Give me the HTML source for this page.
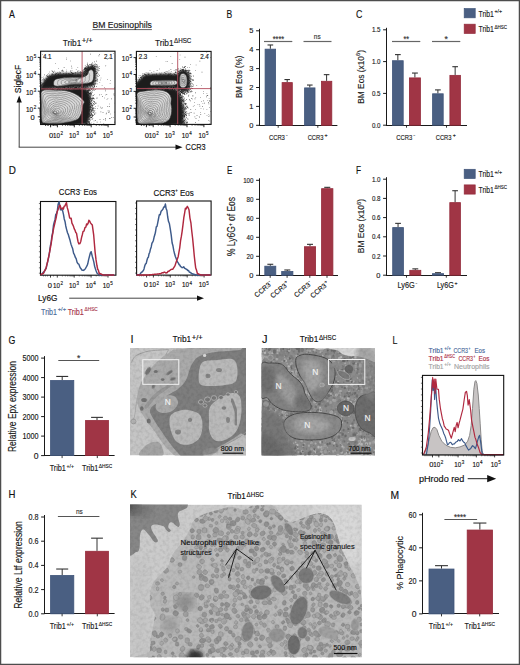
<!DOCTYPE html><html><head><meta charset="utf-8"><style>html,body{margin:0;padding:0;background:#fff;overflow:hidden;width:520px;height:665px;}svg{display:block;}</style></head><body><svg width="520" height="665" viewBox="0 0 520 665" font-family='"Liberation Sans", sans-serif'>
<defs>
<filter id="blur1" x="-10%" y="-10%" width="120%" height="120%"><feGaussianBlur stdDeviation="1"/></filter>
<filter id="blur2" x="-10%" y="-10%" width="120%" height="120%"><feGaussianBlur stdDeviation="2"/></filter>
<filter id="blur05"><feGaussianBlur stdDeviation="0.5"/></filter>
<filter id="noise" x="0" y="0" width="100%" height="100%">
<feTurbulence type="fractalNoise" baseFrequency="0.35" numOctaves="2" seed="3" result="t"/>
<feColorMatrix type="matrix" values="0 0 0 0 0  0 0 0 0 0  0 0 0 0 0  0 0 0 -1.2 0.75" in="t" result="n"/>
<feComposite in="n" in2="SourceGraphic" operator="in"/>
</filter>
</defs>
<rect x="0.00" y="0.00" width="520.00" height="665.00" fill="#ffffff"/>
<text x="9.00" y="18.00" font-size="11.00" fill="#111" textLength="5.87" lengthAdjust="spacingAndGlyphs" stroke="#111" stroke-width="0.15">A</text>
<text x="226.50" y="18.00" font-size="11.00" fill="#111" textLength="5.72" lengthAdjust="spacingAndGlyphs" stroke="#111" stroke-width="0.15">B</text>
<text x="356.00" y="18.00" font-size="11.00" fill="#111" textLength="6.36" lengthAdjust="spacingAndGlyphs" stroke="#111" stroke-width="0.15">C</text>
<text x="8.80" y="173.80" font-size="11.00" fill="#111" textLength="7.15" lengthAdjust="spacingAndGlyphs" stroke="#111" stroke-width="0.15">D</text>
<text x="227.00" y="173.80" font-size="11.00" fill="#111" textLength="5.28" lengthAdjust="spacingAndGlyphs" stroke="#111" stroke-width="0.15">E</text>
<text x="356.00" y="173.80" font-size="11.00" fill="#111" textLength="5.04" lengthAdjust="spacingAndGlyphs" stroke="#111" stroke-width="0.15">F</text>
<text x="8.50" y="343.50" font-size="11.00" fill="#111" textLength="6.84" lengthAdjust="spacingAndGlyphs" stroke="#111" stroke-width="0.15">G</text>
<text x="130.50" y="343.00" font-size="11.00" fill="#111" textLength="3.06" lengthAdjust="spacingAndGlyphs" stroke="#111" stroke-width="0.15">I</text>
<text x="262.00" y="343.00" font-size="11.00" fill="#111" textLength="5.50" lengthAdjust="spacingAndGlyphs" stroke="#111" stroke-width="0.15">J</text>
<text x="392.50" y="343.50" font-size="11.00" fill="#111" textLength="4.89" lengthAdjust="spacingAndGlyphs" stroke="#111" stroke-width="0.15">L</text>
<text x="8.50" y="498.00" font-size="11.00" fill="#111" textLength="6.91" lengthAdjust="spacingAndGlyphs" stroke="#111" stroke-width="0.15">H</text>
<text x="130.60" y="498.30" font-size="11.00" fill="#111" textLength="6.24" lengthAdjust="spacingAndGlyphs" stroke="#111" stroke-width="0.15">K</text>
<text x="390.60" y="498.50" font-size="11.00" fill="#111" textLength="8.61" lengthAdjust="spacingAndGlyphs" stroke="#111" stroke-width="0.15">M</text>
<text x="92.40" y="28.10" font-size="8.40" fill="#1a1a1a" textLength="59.50" lengthAdjust="spacingAndGlyphs" stroke="#1a1a1a" stroke-width="0.15">BM Eosinophils</text>
<line x1="92.40" y1="29.60" x2="151.90" y2="29.60" stroke="#222" stroke-width="0.7"/>
<text x="62.70" y="45.90" font-size="9.60" fill="#1a1a1a" textLength="18.60" lengthAdjust="spacingAndGlyphs" stroke="#1a1a1a" stroke-width="0.15">Trib1</text>
<text x="81.70" y="43.30" font-size="6.72" fill="#1a1a1a" textLength="11.10" lengthAdjust="spacingAndGlyphs" stroke="#1a1a1a" stroke-width="0.15">+/+</text>
<text x="155.00" y="45.70" font-size="9.60" fill="#1a1a1a" textLength="18.60" lengthAdjust="spacingAndGlyphs" stroke="#1a1a1a" stroke-width="0.15">Trib1</text>
<text x="174.00" y="43.10" font-size="6.72" fill="#1a1a1a" textLength="17.40" lengthAdjust="spacingAndGlyphs" stroke="#1a1a1a" stroke-width="0.15">ΔHSC</text>
<g>
<clipPath id="cp11"><rect x="40.6" y="51.2" width="74.4" height="73.3"/></clipPath>
<g clip-path="url(#cp11)">
<path d="M92.8,109.9h.6v.6h-.6zM89.2,109.5h.6v.6h-.6zM88.1,116.5h.6v.6h-.6zM94.3,111h.6v.6h-.6zM38.3,101.4h.6v.6h-.6zM89.3,110.5h.6v.6h-.6zM53.4,89.9h.6v.6h-.6zM80.9,86.2h.6v.6h-.6zM81.4,123.7h.6v.6h-.6zM93.9,108h.6v.6h-.6zM95.4,106h.6v.6h-.6zM40.5,113h.6v.6h-.6zM41.6,87.8h.6v.6h-.6zM89.9,88.5h.6v.6h-.6zM44.2,89.7h.6v.6h-.6zM90.1,106.5h.6v.6h-.6zM74.5,122.7h.6v.6h-.6zM89.1,88.6h.6v.6h-.6zM56.9,89.1h.6v.6h-.6zM91.6,115.3h.6v.6h-.6zM94.6,109.9h.6v.6h-.6zM92.5,104.5h.6v.6h-.6zM80.4,83h.6v.6h-.6zM88.3,121.1h.6v.6h-.6zM88.3,104.2h.6v.6h-.6zM55.6,91.4h.6v.6h-.6zM86.7,123.2h.6v.6h-.6zM57.7,89.1h.6v.6h-.6zM83.1,95.2h.6v.6h-.6zM91.8,114.7h.6v.6h-.6zM81.1,122.2h.6v.6h-.6zM83.4,91.3h.6v.6h-.6zM94.5,114.1h.6v.6h-.6zM89.1,121.8h.6v.6h-.6zM88.6,124.6h.6v.6h-.6zM87.8,88.2h.6v.6h-.6zM89.7,114.6h.6v.6h-.6zM77.8,85.5h.6v.6h-.6zM60.3,88.5h.6v.6h-.6zM39.8,91.1h.6v.6h-.6zM40.8,92.4h.6v.6h-.6zM70.4,90.8h.6v.6h-.6zM88.3,92.1h.6v.6h-.6zM75.2,87h.6v.6h-.6zM90,95.2h.6v.6h-.6zM82.8,125.5h.6v.6h-.6zM78.8,89.3h.6v.6h-.6zM43.9,121.6h.6v.6h-.6zM76.3,87h.6v.6h-.6zM67.6,126.8h.6v.6h-.6zM50.2,88.1h.6v.6h-.6zM91.3,100.5h.6v.6h-.6zM68.4,88.9h.6v.6h-.6zM43.7,111.8h.6v.6h-.6zM91.1,108.9h.6v.6h-.6zM87.9,112.8h.6v.6h-.6zM86.4,91.3h.6v.6h-.6zM43.8,125h.6v.6h-.6zM82,87.1h.6v.6h-.6zM84.8,96.8h.6v.6h-.6zM89,97h.6v.6h-.6zM80.3,90.6h.6v.6h-.6zM90.1,94.2h.6v.6h-.6zM52.8,89.1h.6v.6h-.6zM63.5,89.7h.6v.6h-.6zM86.9,100h.6v.6h-.6zM42.9,95.5h.6v.6h-.6zM65.2,92.2h.6v.6h-.6zM51.2,123.7h.6v.6h-.6zM90,123.2h.6v.6h-.6zM51.4,93.8h.6v.6h-.6zM55.9,90.3h.6v.6h-.6zM91.1,113.1h.6v.6h-.6zM76.3,123h.6v.6h-.6zM36.6,124.9h.6v.6h-.6zM70.4,85.7h.6v.6h-.6zM90.6,117.7h.6v.6h-.6zM45.1,96.4h.6v.6h-.6zM38.8,111.8h.6v.6h-.6zM41.5,87.9h.6v.6h-.6zM88.2,92.6h.6v.6h-.6zM41.9,89.6h.6v.6h-.6zM63.5,85.4h.6v.6h-.6zM86.6,88.1h.6v.6h-.6zM39.7,96h.6v.6h-.6zM88.9,109.8h.6v.6h-.6zM45.3,88.2h.6v.6h-.6zM40.7,93.7h.6v.6h-.6zM77,88.4h.6v.6h-.6zM86.4,114.7h.6v.6h-.6zM88.9,107.1h.6v.6h-.6zM89.5,114.2h.6v.6h-.6zM71.7,124.1h.6v.6h-.6zM81.6,92.6h.6v.6h-.6zM91.2,116.8h.6v.6h-.6zM87.2,116.2h.6v.6h-.6zM61.2,88.8h.6v.6h-.6zM44.5,92.4h.6v.6h-.6zM89,122.4h.6v.6h-.6zM93.1,115.3h.6v.6h-.6zM89.1,99.6h.6v.6h-.6zM95.7,103.1h.6v.6h-.6zM90.8,119.5h.6v.6h-.6zM84.3,88.5h.6v.6h-.6zM79.2,88.2h.6v.6h-.6zM39.5,111.6h.6v.6h-.6zM42.3,101.9h.6v.6h-.6zM37.8,117.3h.6v.6h-.6zM92.1,99.8h.6v.6h-.6zM87.5,113.1h.6v.6h-.6zM86.7,114.9h.6v.6h-.6zM69.6,84.3h.6v.6h-.6zM68.4,93.5h.6v.6h-.6zM82.3,89.5h.6v.6h-.6zM79.1,89.3h.6v.6h-.6zM87,106.6h.6v.6h-.6zM66.6,85.6h.6v.6h-.6zM55.7,84.6h.6v.6h-.6zM84.4,91.9h.6v.6h-.6zM90.5,117.4h.6v.6h-.6zM93.7,107.7h.6v.6h-.6zM86.9,120.7h.6v.6h-.6zM61.8,83.2h.6v.6h-.6zM85.4,126.9h.6v.6h-.6zM92.8,108.1h.6v.6h-.6zM87.6,103.1h.6v.6h-.6zM51.4,90.2h.6v.6h-.6zM90.3,98.7h.6v.6h-.6zM84.1,90.7h.6v.6h-.6zM91.1,92.8h.6v.6h-.6zM41.5,124h.6v.6h-.6zM84.9,122.8h.6v.6h-.6zM65.5,84.7h.6v.6h-.6zM88.8,100.8h.6v.6h-.6zM89.9,93.2h.6v.6h-.6zM40.9,116.3h.6v.6h-.6zM53.3,92.2h.6v.6h-.6zM87.2,127.4h.6v.6h-.6zM83.5,86.9h.6v.6h-.6zM87.2,114.5h.6v.6h-.6zM81.8,81.7h.6v.6h-.6zM43.4,91.3h.6v.6h-.6zM92.1,109.9h.6v.6h-.6zM90.1,98.9h.6v.6h-.6zM83,94.1h.6v.6h-.6zM86.9,125.6h.6v.6h-.6zM77.5,122.3h.6v.6h-.6zM48.3,89.1h.6v.6h-.6zM71.8,87.2h.6v.6h-.6zM88.2,107h.6v.6h-.6zM84.3,121.7h.6v.6h-.6zM85.4,93.9h.6v.6h-.6zM84.1,85.5h.6v.6h-.6zM77.4,122.2h.6v.6h-.6zM96.5,97.8h.6v.6h-.6zM90.4,90.4h.6v.6h-.6zM90.7,107.4h.6v.6h-.6zM66.7,86.2h.6v.6h-.6zM83.1,90.6h.6v.6h-.6zM92.2,105.4h.6v.6h-.6zM65.7,90h.6v.6h-.6zM88.1,108.2h.6v.6h-.6zM81.5,94.1h.6v.6h-.6zM87,91.8h.6v.6h-.6zM85.6,89.2h.6v.6h-.6zM85.8,86.6h.6v.6h-.6zM80.9,86.8h.6v.6h-.6zM78.9,87h.6v.6h-.6zM84.2,125.3h.6v.6h-.6zM91.8,97.6h.6v.6h-.6zM87,90.7h.6v.6h-.6zM92.5,115.5h.6v.6h-.6zM86.4,95.8h.6v.6h-.6zM61.3,90.4h.6v.6h-.6zM79.4,85.8h.6v.6h-.6zM66.9,82.6h.6v.6h-.6zM89,88.5h.6v.6h-.6zM70.7,89.2h.6v.6h-.6zM91,93.4h.6v.6h-.6zM85.9,113.8h.6v.6h-.6zM42.3,93.6h.6v.6h-.6zM60.1,89.2h.6v.6h-.6zM90.2,94.7h.6v.6h-.6zM42.1,112.2h.6v.6h-.6zM95.4,108h.6v.6h-.6zM86.3,87.9h.6v.6h-.6zM92.4,91.8h.6v.6h-.6zM88.2,117.7h.6v.6h-.6zM85.8,93h.6v.6h-.6zM41.2,102.4h.6v.6h-.6zM87.8,126.7h.6v.6h-.6zM87.5,91.7h.6v.6h-.6zM76,87.6h.6v.6h-.6zM86.2,96.3h.6v.6h-.6zM59.4,90.4h.6v.6h-.6zM87.5,90.9h.6v.6h-.6zM37,98.3h.6v.6h-.6zM86.3,111.8h.6v.6h-.6zM91.2,98.1h.6v.6h-.6zM68.3,87.5h.6v.6h-.6zM44.2,104.5h.6v.6h-.6zM71.2,124.7h.6v.6h-.6zM69.9,88h.6v.6h-.6zM90.6,116.8h.6v.6h-.6zM90.8,106.8h.6v.6h-.6zM68.5,126h.6v.6h-.6zM89.8,106.8h.6v.6h-.6zM93.2,110.9h.6v.6h-.6zM75.4,87.6h.6v.6h-.6zM91.3,113.8h.6v.6h-.6zM68.1,86.8h.6v.6h-.6zM90.7,112.5h.6v.6h-.6zM90.2,86.7h.6v.6h-.6zM61.2,122.1h.6v.6h-.6zM80.9,93.4h.6v.6h-.6zM62.8,123.9h.6v.6h-.6zM79.3,89.5h.6v.6h-.6zM92,102h.6v.6h-.6zM50.2,90.1h.6v.6h-.6zM88.5,114h.6v.6h-.6zM91.3,103.7h.6v.6h-.6zM92.1,89.8h.6v.6h-.6zM75,88.2h.6v.6h-.6zM88.7,113.9h.6v.6h-.6zM84.8,84.8h.6v.6h-.6zM57.6,87.4h.6v.6h-.6zM93.8,113.7h.6v.6h-.6zM87.2,124.2h.6v.6h-.6zM88.6,94.9h.6v.6h-.6zM87.9,107h.6v.6h-.6zM77.7,87.5h.6v.6h-.6zM89.3,100.2h.6v.6h-.6zM41.5,122.9h.6v.6h-.6zM60.8,126.1h.6v.6h-.6zM65.9,89.3h.6v.6h-.6zM40,109.4h.6v.6h-.6zM55.3,86.5h.6v.6h-.6zM83.7,117.6h.6v.6h-.6zM39.1,116.4h.6v.6h-.6zM81.2,126.8h.6v.6h-.6zM62.4,88.3h.6v.6h-.6zM38.1,103.4h.6v.6h-.6zM60.1,91.5h.6v.6h-.6zM40.5,119.1h.6v.6h-.6zM91.9,111.9h.6v.6h-.6zM72.2,89.6h.6v.6h-.6zM87.4,97.8h.6v.6h-.6zM77.3,127.6h.6v.6h-.6zM90.3,109.1h.6v.6h-.6zM88.8,106.4h.6v.6h-.6zM80.7,88.1h.6v.6h-.6zM87.7,94.9h.6v.6h-.6zM85.2,116.6h.6v.6h-.6zM65.3,92.5h.6v.6h-.6zM84.4,92.4h.6v.6h-.6zM74.4,93.6h.6v.6h-.6zM43.2,99.1h.6v.6h-.6zM50,90.7h.6v.6h-.6zM77.8,89.3h.6v.6h-.6zM65.4,90.9h.6v.6h-.6zM60.8,87.5h.6v.6h-.6zM83.2,121.9h.6v.6h-.6zM84.2,84h.6v.6h-.6zM92.6,97.8h.6v.6h-.6zM84.1,93.6h.6v.6h-.6zM91,98.8h.6v.6h-.6zM57.6,91.6h.6v.6h-.6zM78.3,120h.6v.6h-.6zM88,99.5h.6v.6h-.6zM68.3,88.9h.6v.6h-.6zM88.4,99.2h.6v.6h-.6zM68.2,87.7h.6v.6h-.6zM49,120.5h.6v.6h-.6zM88.6,104.2h.6v.6h-.6zM93.4,103.6h.6v.6h-.6zM82.9,104.6h.6v.6h-.6zM37.5,111.8h.6v.6h-.6zM87.1,116.2h.6v.6h-.6zM48.8,91.3h.6v.6h-.6zM87.4,101.4h.6v.6h-.6zM88.9,89.8h.6v.6h-.6zM95.2,103.5h.6v.6h-.6zM88.6,111.5h.6v.6h-.6zM91.2,88.6h.6v.6h-.6zM37.9,87.2h.6v.6h-.6zM92.3,105.1h.6v.6h-.6zM91.4,101.5h.6v.6h-.6zM63.3,87.4h.6v.6h-.6zM44.7,89.5h.6v.6h-.6zM72,86.1h.6v.6h-.6zM89.6,96.6h.6v.6h-.6zM85.4,87.5h.6v.6h-.6zM91.4,103.2h.6v.6h-.6zM79.9,85.2h.6v.6h-.6zM44.4,88.2h.6v.6h-.6zM88.4,103.5h.6v.6h-.6zM88.7,114.5h.6v.6h-.6zM48.5,93.9h.6v.6h-.6zM87.3,89.8h.6v.6h-.6zM40.8,89.3h.6v.6h-.6zM68.5,92.2h.6v.6h-.6zM77.6,85.3h.6v.6h-.6zM84.8,93.3h.6v.6h-.6zM63.1,91.1h.6v.6h-.6zM72.8,91.6h.6v.6h-.6zM65.9,91.7h.6v.6h-.6zM65.2,90.1h.6v.6h-.6zM83.3,91.5h.6v.6h-.6zM70.4,86.8h.6v.6h-.6zM91.1,91.4h.6v.6h-.6zM78.6,88.5h.6v.6h-.6zM89.3,121.3h.6v.6h-.6zM69.4,83.6h.6v.6h-.6zM90.1,92.2h.6v.6h-.6zM84.1,114.8h.6v.6h-.6zM42.2,95.6h.6v.6h-.6zM65.6,90.1h.6v.6h-.6zM89.7,115.4h.6v.6h-.6zM73.5,86.8h.6v.6h-.6zM89.4,123.6h.6v.6h-.6zM35.6,124.4h.6v.6h-.6zM91.3,92.5h.6v.6h-.6zM89.7,96.9h.6v.6h-.6zM44,88.5h.6v.6h-.6zM88.5,114.9h.6v.6h-.6zM47,90.6h.6v.6h-.6zM86,119.7h.6v.6h-.6zM91.4,105.5h.6v.6h-.6zM81.2,89.4h.6v.6h-.6zM87.3,124.8h.6v.6h-.6zM87.8,89.5h.6v.6h-.6zM72.4,81.4h.6v.6h-.6zM67.1,87.2h.6v.6h-.6zM44.9,89.2h.6v.6h-.6zM85,103h.6v.6h-.6zM49.2,83.3h.6v.6h-.6zM87.3,125h.6v.6h-.6zM80.7,89.1h.6v.6h-.6zM88.4,89.2h.6v.6h-.6zM36,86.2h.6v.6h-.6zM38.7,108.3h.6v.6h-.6zM86.6,128.6h.6v.6h-.6zM79.3,86.5h.6v.6h-.6zM89.8,88.6h.6v.6h-.6zM91.3,110.4h.6v.6h-.6zM82.4,90.1h.6v.6h-.6zM75.6,90.3h.6v.6h-.6zM54.9,95.3h.6v.6h-.6zM89,122.9h.6v.6h-.6zM89.6,100.8h.6v.6h-.6zM63.1,93.9h.6v.6h-.6zM88.7,96.7h.6v.6h-.6zM54.5,91.6h.6v.6h-.6zM64.8,90.2h.6v.6h-.6zM87.9,122h.6v.6h-.6zM92.7,109.1h.6v.6h-.6zM41.1,91.5h.6v.6h-.6zM39.8,118.1h.6v.6h-.6zM36.8,112.5h.6v.6h-.6zM84.8,90.5h.6v.6h-.6zM88.9,122.2h.6v.6h-.6zM92.4,98.4h.6v.6h-.6zM36.3,101.2h.6v.6h-.6zM37.7,109.6h.6v.6h-.6zM79.5,89.3h.6v.6h-.6zM87.9,91.9h.6v.6h-.6zM87.5,98.2h.6v.6h-.6zM88.3,91.3h.6v.6h-.6zM90.5,96.6h.6v.6h-.6zM42.1,117.6h.6v.6h-.6zM88.9,104.6h.6v.6h-.6zM94,113.7h.6v.6h-.6zM62.2,90.2h.6v.6h-.6zM47.1,88.3h.6v.6h-.6zM40.3,113.9h.6v.6h-.6zM87.4,94.6h.6v.6h-.6zM43.8,122.8h.6v.6h-.6zM88,99.1h.6v.6h-.6zM79.5,86.1h.6v.6h-.6zM91.4,102.9h.6v.6h-.6zM86.4,116.8h.6v.6h-.6zM51.6,87.9h.6v.6h-.6zM91.9,108.9h.6v.6h-.6zM78,89.8h.6v.6h-.6zM87.8,113.6h.6v.6h-.6zM82.6,85h.6v.6h-.6zM59,87.4h.6v.6h-.6zM89.1,93.1h.6v.6h-.6zM39.2,118.3h.6v.6h-.6zM84.1,91.3h.6v.6h-.6zM89.6,115h.6v.6h-.6zM87.9,95.2h.6v.6h-.6zM77.3,83h.6v.6h-.6zM41.1,120.6h.6v.6h-.6zM64.8,93.3h.6v.6h-.6zM87.3,119.7h.6v.6h-.6zM92.5,105.6h.6v.6h-.6zM88.2,117.6h.6v.6h-.6zM72.7,122.5h.6v.6h-.6zM90.7,99.1h.6v.6h-.6zM69.3,90.1h.6v.6h-.6zM85.1,125.1h.6v.6h-.6zM78.1,86.7h.6v.6h-.6zM72.2,88.6h.6v.6h-.6zM69.9,90.4h.6v.6h-.6zM73.3,121.7h.6v.6h-.6zM47.5,90h.6v.6h-.6zM77.3,80.5h.6v.6h-.6zM64.2,86.7h.6v.6h-.6zM93.1,108.6h.6v.6h-.6zM69.1,126.7h.6v.6h-.6zM73.1,90.3h.6v.6h-.6zM91.4,114.3h.6v.6h-.6zM66.3,86.2h.6v.6h-.6zM90,98.5h.6v.6h-.6zM85.6,125.5h.6v.6h-.6zM86.4,92.9h.6v.6h-.6zM86.3,90.4h.6v.6h-.6zM88.8,90.5h.6v.6h-.6zM77.5,92.5h.6v.6h-.6zM89,108.9h.6v.6h-.6zM86.7,113.5h.6v.6h-.6zM88,123.9h.6v.6h-.6zM79.3,90.2h.6v.6h-.6zM43.9,118.5h.6v.6h-.6zM92,116.1h.6v.6h-.6zM89.2,116.3h.6v.6h-.6zM73.9,91h.6v.6h-.6zM88.3,87.1h.6v.6h-.6zM86.9,99.1h.6v.6h-.6zM62.6,89.4h.6v.6h-.6zM90.8,99h.6v.6h-.6zM86,125.1h.6v.6h-.6zM89.8,116.7h.6v.6h-.6zM64.1,125.4h.6v.6h-.6zM71.8,125.8h.6v.6h-.6zM41.5,118.8h.6v.6h-.6zM87.2,91.5h.6v.6h-.6zM71.2,89h.6v.6h-.6zM88.8,102.8h.6v.6h-.6zM88.6,119.6h.6v.6h-.6zM70.6,87.4h.6v.6h-.6zM90.7,93.4h.6v.6h-.6zM94,101.3h.6v.6h-.6zM65.9,88.4h.6v.6h-.6zM73.9,88.1h.6v.6h-.6zM37.8,105.2h.6v.6h-.6zM79.3,90.5h.6v.6h-.6zM37.2,102.9h.6v.6h-.6zM56.6,85.5h.6v.6h-.6zM88.5,104.2h.6v.6h-.6zM78.2,88h.6v.6h-.6zM46.4,90.5h.6v.6h-.6zM50.5,89.2h.6v.6h-.6zM90.5,112.2h.6v.6h-.6zM84,88.3h.6v.6h-.6zM75,87.5h.6v.6h-.6zM71.4,83.5h.6v.6h-.6zM57.8,88.4h.6v.6h-.6zM59.8,89.9h.6v.6h-.6zM85.8,120.7h.6v.6h-.6zM89.6,102.1h.6v.6h-.6zM52.9,90.9h.6v.6h-.6zM75.8,88h.6v.6h-.6zM93.6,123.3h.6v.6h-.6zM85.8,97.1h.6v.6h-.6zM83.5,89.5h.6v.6h-.6zM89.1,94.8h.6v.6h-.6zM92.4,106.6h.6v.6h-.6zM76.4,122.9h.6v.6h-.6zM88.5,119h.6v.6h-.6zM92.8,90.5h.6v.6h-.6zM57.2,123.2h.6v.6h-.6zM68.8,88.3h.6v.6h-.6zM87.2,87.7h.6v.6h-.6zM89.7,93.1h.6v.6h-.6zM80.3,90h.6v.6h-.6zM92,99.6h.6v.6h-.6zM87.6,97.4h.6v.6h-.6zM92.3,116.7h.6v.6h-.6zM88.6,98.2h.6v.6h-.6zM91,92.9h.6v.6h-.6zM80.1,91.1h.6v.6h-.6zM85.9,120.1h.6v.6h-.6zM83.2,95.1h.6v.6h-.6zM89.9,90.7h.6v.6h-.6zM49.9,93.7h.6v.6h-.6zM85.2,90.8h.6v.6h-.6zM86.4,119.3h.6v.6h-.6zM75.2,89.7h.6v.6h-.6zM37.9,97.4h.6v.6h-.6zM50.8,90.5h.6v.6h-.6zM70.3,91.7h.6v.6h-.6zM88.1,121.8h.6v.6h-.6zM90.8,103.9h.6v.6h-.6zM70.4,89.9h.6v.6h-.6zM93.3,103h.6v.6h-.6zM86.5,122.8h.6v.6h-.6zM90.3,97.6h.6v.6h-.6zM54.8,119.5h.6v.6h-.6zM48.1,120.5h.6v.6h-.6zM62.1,91.2h.6v.6h-.6zM90.5,96.3h.6v.6h-.6zM83,91.2h.6v.6h-.6zM57.9,89.3h.6v.6h-.6zM85.8,119.5h.6v.6h-.6zM85.2,87.6h.6v.6h-.6zM93.7,101h.6v.6h-.6zM68,89.5h.6v.6h-.6zM64.2,88.9h.6v.6h-.6zM83.4,124.8h.6v.6h-.6zM40,91.7h.6v.6h-.6zM77.5,90.6h.6v.6h-.6zM89.7,98.3h.6v.6h-.6zM64.1,87.6h.6v.6h-.6zM45.6,91.5h.6v.6h-.6zM91.8,114h.6v.6h-.6zM93.8,107.7h.6v.6h-.6zM67.4,88.3h.6v.6h-.6zM90.2,105.9h.6v.6h-.6zM76.4,89.4h.6v.6h-.6zM88.9,96h.6v.6h-.6zM90.2,92h.6v.6h-.6zM91.1,113.2h.6v.6h-.6zM39.2,114.4h.6v.6h-.6zM76.1,87.6h.6v.6h-.6zM89.3,93.6h.6v.6h-.6zM87,128.6h.6v.6h-.6zM39.3,115.1h.6v.6h-.6zM88.6,122.4h.6v.6h-.6zM89.8,92.7h.6v.6h-.6zM90.6,89.7h.6v.6h-.6zM88.2,97.1h.6v.6h-.6zM60.6,91.1h.6v.6h-.6zM46.9,86.2h.6v.6h-.6zM74.6,124.6h.6v.6h-.6zM85.4,100.9h.6v.6h-.6zM50,122.2h.6v.6h-.6zM84.3,88.5h.6v.6h-.6zM86.6,96.3h.6v.6h-.6zM60.7,91.2h.6v.6h-.6zM68.6,89.3h.6v.6h-.6zM64,86.9h.6v.6h-.6zM64.7,92.4h.6v.6h-.6zM41.8,122.1h.6v.6h-.6zM61,123.8h.6v.6h-.6zM94.1,104.4h.6v.6h-.6zM74.5,88.1h.6v.6h-.6zM91.9,109.1h.6v.6h-.6zM89.6,107.9h.6v.6h-.6zM90.7,105.6h.6v.6h-.6zM91.4,122.7h.6v.6h-.6zM66.4,123h.6v.6h-.6zM88.2,99.7h.6v.6h-.6zM87,119.4h.6v.6h-.6zM64.4,90.9h.6v.6h-.6zM45.5,112h.6v.6h-.6zM84.8,87.2h.6v.6h-.6zM89.1,123.6h.6v.6h-.6zM87.6,117.5h.6v.6h-.6zM86.3,125.9h.6v.6h-.6zM54.4,90.7h.6v.6h-.6zM94,113.6h.6v.6h-.6zM93.2,98.3h.6v.6h-.6zM86,85.6h.6v.6h-.6zM88.7,88.9h.6v.6h-.6zM85.7,99.6h.6v.6h-.6zM36.8,94h.6v.6h-.6zM83.2,90.1h.6v.6h-.6zM86,93.5h.6v.6h-.6zM85.5,91.9h.6v.6h-.6zM89.3,93.2h.6v.6h-.6zM86.2,118.2h.6v.6h-.6zM40.3,115.3h.6v.6h-.6zM85,124.6h.6v.6h-.6zM86.8,94.3h.6v.6h-.6zM67.2,118.9h.6v.6h-.6zM88.9,111.2h.6v.6h-.6zM71.7,92.5h.6v.6h-.6zM51.5,124.8h.6v.6h-.6zM85.1,126.6h.6v.6h-.6zM93.2,97.6h.6v.6h-.6zM56,90.1h.6v.6h-.6zM46.8,123.8h.6v.6h-.6zM88.5,114.5h.6v.6h-.6zM84.7,115.5h.6v.6h-.6zM41.3,122.3h.6v.6h-.6zM34.3,105.6h.6v.6h-.6zM91.5,113.8h.6v.6h-.6zM87.4,86h.6v.6h-.6zM75.4,87.9h.6v.6h-.6zM93.4,112.5h.6v.6h-.6zM89,125.8h.6v.6h-.6zM76.9,88.2h.6v.6h-.6zM88.6,91.4h.6v.6h-.6zM70.4,87.8h.6v.6h-.6zM49.6,124.6h.6v.6h-.6zM84.6,86.5h.6v.6h-.6zM84.6,95.8h.6v.6h-.6zM75.5,86.6h.6v.6h-.6zM87.1,97.1h.6v.6h-.6zM91.4,100h.6v.6h-.6zM92,107.2h.6v.6h-.6zM55.3,127.5h.6v.6h-.6zM88.3,90.5h.6v.6h-.6zM57.3,92.7h.6v.6h-.6zM82.7,125.7h.6v.6h-.6zM50.7,126.3h.6v.6h-.6zM92.8,104.8h.6v.6h-.6zM69.2,88.8h.6v.6h-.6zM70.5,86.9h.6v.6h-.6zM78.2,91.3h.6v.6h-.6zM45.5,121.4h.6v.6h-.6zM47.1,90.5h.6v.6h-.6zM70.5,93.4h.6v.6h-.6zM80,93.2h.6v.6h-.6zM74.2,88.7h.6v.6h-.6zM74.9,83.5h.6v.6h-.6zM39.2,92.2h.6v.6h-.6zM39.5,126.1h.6v.6h-.6zM67.2,85.3h.6v.6h-.6zM59.7,90.4h.6v.6h-.6zM90.2,115.5h.6v.6h-.6zM92.6,118h.6v.6h-.6zM40,94h.6v.6h-.6zM63.2,126.4h.6v.6h-.6zM82.8,122h.6v.6h-.6zM82.7,119.9h.6v.6h-.6zM92.4,108.6h.6v.6h-.6zM83.3,122.2h.6v.6h-.6zM46.9,90.7h.6v.6h-.6zM85.8,89h.6v.6h-.6zM90.9,111.3h.6v.6h-.6zM88,92.1h.6v.6h-.6zM84.1,89.6h.6v.6h-.6zM85.5,92.4h.6v.6h-.6zM83.3,124.7h.6v.6h-.6zM93.3,107.4h.6v.6h-.6zM46.1,120.7h.6v.6h-.6zM66.8,86.4h.6v.6h-.6zM74.4,90.8h.6v.6h-.6zM92.1,97.7h.6v.6h-.6zM66.1,89.2h.6v.6h-.6zM64.2,87.8h.6v.6h-.6zM89.4,101.2h.6v.6h-.6zM88.6,108.8h.6v.6h-.6zM58.8,88.7h.6v.6h-.6zM75.3,90.5h.6v.6h-.6zM61.9,90.3h.6v.6h-.6zM90.6,109.5h.6v.6h-.6zM89.5,115.6h.6v.6h-.6zM59.5,89.4h.6v.6h-.6zM61.2,125.9h.6v.6h-.6zM79.3,89.1h.6v.6h-.6zM42.2,120.7h.6v.6h-.6zM38.8,119.9h.6v.6h-.6zM65.1,90.7h.6v.6h-.6zM53.2,87.3h.6v.6h-.6zM62.1,121.7h.6v.6h-.6zM47.6,124.4h.6v.6h-.6zM89.5,89.8h.6v.6h-.6zM73.2,86.4h.6v.6h-.6zM43,105.9h.6v.6h-.6zM44.8,91.2h.6v.6h-.6zM52.1,88.6h.6v.6h-.6zM90.5,107.3h.6v.6h-.6zM73.8,88.2h.6v.6h-.6zM84.1,121.1h.6v.6h-.6zM88.9,93.4h.6v.6h-.6zM88.8,89.8h.6v.6h-.6zM52.5,95.3h.6v.6h-.6zM86.2,122.4h.6v.6h-.6zM56.1,89h.6v.6h-.6zM41.5,89.4h.6v.6h-.6zM39,111.9h.6v.6h-.6zM88.2,93.5h.6v.6h-.6zM53.3,94.1h.6v.6h-.6zM62,129.9h.6v.6h-.6zM92.4,114.8h.6v.6h-.6zM90.6,108.6h.6v.6h-.6zM37.8,124.6h.6v.6h-.6zM89,123h.6v.6h-.6zM80.7,87.8h.6v.6h-.6zM71.9,92.1h.6v.6h-.6zM39.8,96.7h.6v.6h-.6zM48.4,90.4h.6v.6h-.6zM68,90.6h.6v.6h-.6zM51.2,89.9h.6v.6h-.6zM88.2,124.5h.6v.6h-.6zM85.2,128.3h.6v.6h-.6zM80.6,87.9h.6v.6h-.6zM40.4,108.3h.6v.6h-.6zM92.3,98.1h.6v.6h-.6zM90.9,112.9h.6v.6h-.6zM38.5,106.8h.6v.6h-.6zM78.3,126.2h.6v.6h-.6zM38.3,108.4h.6v.6h-.6zM79,84.5h.6v.6h-.6zM89.9,106.4h.6v.6h-.6zM88.6,98.1h.6v.6h-.6zM89.8,92.4h.6v.6h-.6zM43.4,125.3h.6v.6h-.6zM88.9,118.6h.6v.6h-.6zM81.1,126.3h.6v.6h-.6zM82.4,121.5h.6v.6h-.6zM89.3,102h.6v.6h-.6zM64.3,88.9h.6v.6h-.6zM41.5,109.3h.6v.6h-.6zM89,98.2h.6v.6h-.6zM94.2,98.6h.6v.6h-.6zM86.3,95.3h.6v.6h-.6zM63.8,122.6h.6v.6h-.6zM88,94.6h.6v.6h-.6zM39.1,102h.6v.6h-.6zM42.8,88h.6v.6h-.6zM44.3,107.7h.6v.6h-.6zM87.8,94.4h.6v.6h-.6zM46.6,124.7h.6v.6h-.6zM91.2,103.6h.6v.6h-.6zM93.6,110.3h.6v.6h-.6zM85.3,88.6h.6v.6h-.6zM87.2,92.1h.6v.6h-.6zM78.6,90.4h.6v.6h-.6zM86.9,117.2h.6v.6h-.6zM88.4,102.8h.6v.6h-.6zM87.8,123.1h.6v.6h-.6zM64.9,89.4h.6v.6h-.6zM47.5,89.4h.6v.6h-.6zM88.4,94.6h.6v.6h-.6zM42.3,108.7h.6v.6h-.6zM95.6,112.7h.6v.6h-.6zM84.9,122.1h.6v.6h-.6zM88.7,114.8h.6v.6h-.6zM90.9,94.8h.6v.6h-.6zM74.7,86.7h.6v.6h-.6zM87,98.1h.6v.6h-.6zM90.2,98.5h.6v.6h-.6zM77.5,84.2h.6v.6h-.6zM41.9,119.9h.6v.6h-.6zM86.8,124.1h.6v.6h-.6zM91,110.3h.6v.6h-.6zM63.4,87.5h.6v.6h-.6zM87.8,112.9h.6v.6h-.6zM88.6,90h.6v.6h-.6zM44.5,91.4h.6v.6h-.6zM87.2,89.7h.6v.6h-.6zM90.4,103.6h.6v.6h-.6zM59.2,89.1h.6v.6h-.6zM81.4,125.2h.6v.6h-.6zM77,90h.6v.6h-.6zM83.1,105.9h.6v.6h-.6zM77.5,90.4h.6v.6h-.6zM47.8,123.3h.6v.6h-.6zM81.5,86.7h.6v.6h-.6zM90.3,109.1h.6v.6h-.6zM91,104.7h.6v.6h-.6zM44.4,123.8h.6v.6h-.6zM78.8,90.5h.6v.6h-.6zM91.5,114.2h.6v.6h-.6zM65.7,92.3h.6v.6h-.6zM90.7,100.9h.6v.6h-.6zM89.8,102.1h.6v.6h-.6zM35.3,119.8h.6v.6h-.6zM65.5,123.2h.6v.6h-.6zM93.1,95.3h.6v.6h-.6zM42.7,88.7h.6v.6h-.6zM57.8,90.8h.6v.6h-.6zM90.7,117.6h.6v.6h-.6zM81.5,84.5h.6v.6h-.6zM44.9,86.2h.6v.6h-.6zM80.5,83.4h.6v.6h-.6zM41.3,126.3h.6v.6h-.6zM38.1,115.8h.6v.6h-.6zM80.1,123.7h.6v.6h-.6zM72.8,123.1h.6v.6h-.6zM93.5,112.1h.6v.6h-.6zM87.4,90.4h.6v.6h-.6zM69.5,92h.6v.6h-.6zM57,124.2h.6v.6h-.6zM55.8,123.8h.6v.6h-.6zM38.8,90.3h.6v.6h-.6zM91.4,117.5h.6v.6h-.6zM86.1,123.6h.6v.6h-.6zM84.4,122.4h.6v.6h-.6zM48.1,86.8h.6v.6h-.6zM78.7,88.3h.6v.6h-.6zM90.1,120.5h.6v.6h-.6zM88.5,108.9h.6v.6h-.6zM74,87.4h.6v.6h-.6zM57.5,90h.6v.6h-.6zM43.1,89h.6v.6h-.6zM42.2,120.3h.6v.6h-.6zM49.4,91.3h.6v.6h-.6zM91.8,110.3h.6v.6h-.6zM70.5,85h.6v.6h-.6zM87.7,97.1h.6v.6h-.6zM87.6,103.6h.6v.6h-.6zM43,90.4h.6v.6h-.6zM84.3,126h.6v.6h-.6zM75.6,127.1h.6v.6h-.6zM92.7,98.7h.6v.6h-.6zM83.8,93.3h.6v.6h-.6zM65.6,88.4h.6v.6h-.6zM89.8,106.4h.6v.6h-.6zM88.1,116.2h.6v.6h-.6zM87.9,91.8h.6v.6h-.6zM84.3,126h.6v.6h-.6zM91.7,111.1h.6v.6h-.6zM94,103.7h.6v.6h-.6zM80.1,123.2h.6v.6h-.6zM88.6,97.9h.6v.6h-.6zM48.4,124.5h.6v.6h-.6zM86.8,92.3h.6v.6h-.6zM82.4,88.4h.6v.6h-.6zM40.7,87h.6v.6h-.6zM75.5,124.4h.6v.6h-.6zM64.6,87.1h.6v.6h-.6zM77.3,83.8h.6v.6h-.6zM88.7,98.7h.6v.6h-.6zM36.8,100h.6v.6h-.6zM72,83h.6v.6h-.6zM73.3,88.8h.6v.6h-.6zM89.2,104.3h.6v.6h-.6zM55.4,124.4h.6v.6h-.6zM69.5,91.7h.6v.6h-.6zM82.2,89.1h.6v.6h-.6zM93.3,97.8h.6v.6h-.6zM92.1,108.3h.6v.6h-.6zM56.7,90.3h.6v.6h-.6zM39.6,97.3h.6v.6h-.6zM53.9,126.4h.6v.6h-.6zM61,121.9h.6v.6h-.6zM89.3,89.6h.6v.6h-.6zM86.3,109.5h.6v.6h-.6zM87.6,110.8h.6v.6h-.6zM46.9,91.6h.6v.6h-.6zM68.4,86.9h.6v.6h-.6zM88.7,112h.6v.6h-.6zM60.7,126.3h.6v.6h-.6zM91.1,94.3h.6v.6h-.6zM89.4,113.5h.6v.6h-.6zM74,89.3h.6v.6h-.6zM70.9,90.6h.6v.6h-.6zM83,88.5h.6v.6h-.6zM72.4,92.5h.6v.6h-.6zM39,98.8h.6v.6h-.6zM88.5,93.4h.6v.6h-.6zM47.9,93.3h.6v.6h-.6zM64.5,88.8h.6v.6h-.6zM91.2,103.7h.6v.6h-.6zM55.2,92.1h.6v.6h-.6zM88.7,94.5h.6v.6h-.6zM62.1,91.5h.6v.6h-.6zM69.7,83.4h.6v.6h-.6zM52.9,94.3h.6v.6h-.6zM89.6,119.4h.6v.6h-.6zM91.5,115.5h.6v.6h-.6zM85.8,92.9h.6v.6h-.6zM40.4,93.2h.6v.6h-.6zM92.1,118.8h.6v.6h-.6zM88.7,113.1h.6v.6h-.6zM60.8,88.9h.6v.6h-.6zM65.8,88.7h.6v.6h-.6zM85.5,121.4h.6v.6h-.6zM79.2,90.1h.6v.6h-.6zM88.4,94.8h.6v.6h-.6zM89.7,116.7h.6v.6h-.6zM84.2,88.3h.6v.6h-.6zM90.8,94.3h.6v.6h-.6zM83.9,87.4h.6v.6h-.6zM58.8,122.5h.6v.6h-.6zM92.3,106.4h.6v.6h-.6zM91.9,108.5h.6v.6h-.6zM83.4,89.7h.6v.6h-.6zM84.3,125.3h.6v.6h-.6zM64.1,91.2h.6v.6h-.6zM87,115.3h.6v.6h-.6zM86.3,92.9h.6v.6h-.6zM84.6,95.5h.6v.6h-.6zM62,127.7h.6v.6h-.6zM56,87.1h.6v.6h-.6zM75.5,94.7h.6v.6h-.6zM86.8,123.1h.6v.6h-.6zM86.3,112.1h.6v.6h-.6zM74.1,124h.6v.6h-.6zM91.4,117.4h.6v.6h-.6zM91.2,107.5h.6v.6h-.6zM76,86.8h.6v.6h-.6zM70,87.7h.6v.6h-.6zM89.4,118.7h.6v.6h-.6zM43.9,93.5h.6v.6h-.6zM76.2,92.1h.6v.6h-.6zM86,125.7h.6v.6h-.6zM73.4,125h.6v.6h-.6zM60.6,123.7h.6v.6h-.6zM85.9,122.9h.6v.6h-.6zM81.3,89.5h.6v.6h-.6zM43.1,128.2h.6v.6h-.6zM90.5,114.9h.6v.6h-.6zM72.3,87.9h.6v.6h-.6zM43.1,86h.6v.6h-.6zM87.9,66.3h.6v.6h-.6zM93.4,79.6h.6v.6h-.6zM90.4,81.3h.6v.6h-.6zM95.7,74.9h.6v.6h-.6zM62.1,88.7h.6v.6h-.6zM54.9,72.7h.6v.6h-.6zM95.3,78h.6v.6h-.6zM97.8,68.8h.6v.6h-.6zM94.4,85.5h.6v.6h-.6zM78.3,90.3h.6v.6h-.6zM48.5,77.1h.6v.6h-.6zM53.7,76.3h.6v.6h-.6zM100,79.7h.6v.6h-.6zM51.9,71h.6v.6h-.6zM59.5,73.5h.6v.6h-.6zM85.3,70.6h.6v.6h-.6zM41.5,91.9h.6v.6h-.6zM65.3,92.2h.6v.6h-.6zM92,88.4h.6v.6h-.6zM91.2,89.3h.6v.6h-.6zM92.6,71.7h.6v.6h-.6zM92.4,66.3h.6v.6h-.6zM38.9,89.8h.6v.6h-.6zM43.3,79.7h.6v.6h-.6zM94.8,66.1h.6v.6h-.6zM79,73.7h.6v.6h-.6zM42.9,83.1h.6v.6h-.6zM48.3,88.9h.6v.6h-.6zM47,89.8h.6v.6h-.6zM92,62.6h.6v.6h-.6zM70.8,73.9h.6v.6h-.6zM34.6,87.3h.6v.6h-.6zM48.7,74.9h.6v.6h-.6zM43.7,89.5h.6v.6h-.6zM91.2,80.9h.6v.6h-.6zM89.7,64.1h.6v.6h-.6zM93.7,68.6h.6v.6h-.6zM92.3,84.2h.6v.6h-.6zM47.4,76.2h.6v.6h-.6zM39.8,87.7h.6v.6h-.6zM75,89.7h.6v.6h-.6zM93.3,87.3h.6v.6h-.6zM90.1,66h.6v.6h-.6zM91.5,84.5h.6v.6h-.6zM99.3,66.4h.6v.6h-.6zM64.3,90.4h.6v.6h-.6zM67,92.6h.6v.6h-.6zM97.8,70.6h.6v.6h-.6zM47.5,78.5h.6v.6h-.6zM55.6,74.8h.6v.6h-.6zM92.6,63.7h.6v.6h-.6zM93.6,81.2h.6v.6h-.6zM58.9,85.5h.6v.6h-.6zM69.5,72.9h.6v.6h-.6zM88.5,67.4h.6v.6h-.6zM86.3,85h.6v.6h-.6zM58.4,72.7h.6v.6h-.6zM46.6,82.3h.6v.6h-.6zM73.1,85.8h.6v.6h-.6zM84,68.5h.6v.6h-.6zM52.4,76.3h.6v.6h-.6zM93.9,86.3h.6v.6h-.6zM47.7,93.4h.6v.6h-.6zM91.7,70.6h.6v.6h-.6zM40.1,87.4h.6v.6h-.6zM79.6,71.7h.6v.6h-.6zM92.6,78h.6v.6h-.6zM40.4,86.6h.6v.6h-.6zM58.3,68.4h.6v.6h-.6zM75.8,85.7h.6v.6h-.6zM80.5,71.6h.6v.6h-.6zM41.4,85.6h.6v.6h-.6zM72.6,85.2h.6v.6h-.6zM85.6,69.8h.6v.6h-.6zM42.7,83.8h.6v.6h-.6zM39.9,91.3h.6v.6h-.6zM62.3,70.2h.6v.6h-.6zM50.2,76.2h.6v.6h-.6zM94.9,70.9h.6v.6h-.6zM95.3,66.5h.6v.6h-.6zM95.6,64.6h.6v.6h-.6zM46.6,90.9h.6v.6h-.6zM74.8,72.7h.6v.6h-.6zM72.1,75.3h.6v.6h-.6zM45,90.9h.6v.6h-.6zM82.6,91.1h.6v.6h-.6zM57.6,89.3h.6v.6h-.6zM55.2,74.4h.6v.6h-.6zM76.8,72.1h.6v.6h-.6zM43.7,86.1h.6v.6h-.6zM91.1,67.8h.6v.6h-.6zM49.4,74.7h.6v.6h-.6zM87.9,67.1h.6v.6h-.6zM70.1,70.9h.6v.6h-.6zM66.1,88.1h.6v.6h-.6zM84.9,65.6h.6v.6h-.6zM60.7,75.2h.6v.6h-.6zM36.7,88.3h.6v.6h-.6zM94.7,68.3h.6v.6h-.6zM93.7,84.1h.6v.6h-.6zM57,74h.6v.6h-.6zM48.3,77.2h.6v.6h-.6zM97.4,72.7h.6v.6h-.6zM89.5,69.2h.6v.6h-.6zM77.8,73.9h.6v.6h-.6zM96.6,72.6h.6v.6h-.6zM80.9,85h.6v.6h-.6zM45.9,81.3h.6v.6h-.6zM86.2,75.9h.6v.6h-.6zM65.5,73h.6v.6h-.6zM95.2,83h.6v.6h-.6zM46.9,79.4h.6v.6h-.6zM97.3,76h.6v.6h-.6zM85.2,68.6h.6v.6h-.6zM83.2,85.4h.6v.6h-.6zM56.4,75.6h.6v.6h-.6zM41.1,85.2h.6v.6h-.6zM76,86h.6v.6h-.6zM83.9,71.1h.6v.6h-.6zM50.4,78h.6v.6h-.6zM68.8,86.7h.6v.6h-.6zM91.8,86.7h.6v.6h-.6zM76.6,87.4h.6v.6h-.6zM69.1,76.3h.6v.6h-.6zM72.5,87.5h.6v.6h-.6zM91.2,64.6h.6v.6h-.6zM70.4,73.9h.6v.6h-.6zM68.5,86h.6v.6h-.6zM68.7,90.1h.6v.6h-.6zM84.3,73.5h.6v.6h-.6zM81.9,87.2h.6v.6h-.6zM87.4,86.8h.6v.6h-.6zM86.6,68.7h.6v.6h-.6zM52.3,84.4h.6v.6h-.6zM57.5,87.6h.6v.6h-.6zM97.2,80.2h.6v.6h-.6zM86.1,68.3h.6v.6h-.6zM78.6,87h.6v.6h-.6zM84.2,84.5h.6v.6h-.6zM69.7,74.1h.6v.6h-.6zM68.5,73.5h.6v.6h-.6zM80.5,88.6h.6v.6h-.6zM38.2,86.7h.6v.6h-.6zM37.6,88h.6v.6h-.6zM72.3,73.9h.6v.6h-.6zM51.4,86.8h.6v.6h-.6zM74.6,87.5h.6v.6h-.6zM96.8,83.6h.6v.6h-.6zM87.8,73.5h.6v.6h-.6zM62.4,87.3h.6v.6h-.6zM85.4,69.6h.6v.6h-.6zM52.5,88h.6v.6h-.6zM95.3,66.6h.6v.6h-.6zM46.4,79h.6v.6h-.6zM86.9,72.3h.6v.6h-.6zM89.8,66.2h.6v.6h-.6zM82.6,71.9h.6v.6h-.6zM42.4,89.7h.6v.6h-.6zM91.4,63.4h.6v.6h-.6zM87.9,68.2h.6v.6h-.6zM72.5,72.7h.6v.6h-.6zM56.4,91.6h.6v.6h-.6zM85.1,67.5h.6v.6h-.6zM65.6,75.6h.6v.6h-.6zM51.5,89.4h.6v.6h-.6zM52.5,71.2h.6v.6h-.6zM43,87.6h.6v.6h-.6zM78.6,69.9h.6v.6h-.6zM73.2,89.4h.6v.6h-.6zM59.6,91.5h.6v.6h-.6zM39.8,89.2h.6v.6h-.6zM82.2,73.1h.6v.6h-.6zM57.7,87.1h.6v.6h-.6zM70.7,88.7h.6v.6h-.6zM86,87.7h.6v.6h-.6zM85.4,68.1h.6v.6h-.6zM50.7,87.5h.6v.6h-.6zM40.2,91h.6v.6h-.6zM67.2,89.6h.6v.6h-.6zM94.5,65.4h.6v.6h-.6zM70.8,72.6h.6v.6h-.6zM51.4,75.2h.6v.6h-.6zM82.7,70.2h.6v.6h-.6zM77.4,85.8h.6v.6h-.6zM97.1,69.5h.6v.6h-.6zM71,88h.6v.6h-.6zM91.7,85.8h.6v.6h-.6zM87.9,65.9h.6v.6h-.6zM87,68.8h.6v.6h-.6zM86.5,70.2h.6v.6h-.6zM89.2,64h.6v.6h-.6zM80,72.9h.6v.6h-.6zM90.7,73.4h.6v.6h-.6zM69.6,91.6h.6v.6h-.6zM92.5,66.1h.6v.6h-.6zM85,86.5h.6v.6h-.6zM52.5,89.7h.6v.6h-.6zM95.4,82.8h.6v.6h-.6zM94.1,61.6h.6v.6h-.6zM66.4,73.4h.6v.6h-.6zM40.8,84.7h.6v.6h-.6zM90,65.9h.6v.6h-.6zM85.2,70.1h.6v.6h-.6zM83.5,87.5h.6v.6h-.6zM67.8,88h.6v.6h-.6zM44,82.1h.6v.6h-.6zM62.5,88.5h.6v.6h-.6zM40.7,88.2h.6v.6h-.6zM86.8,67h.6v.6h-.6zM77.5,67.4h.6v.6h-.6zM44.5,80.9h.6v.6h-.6zM90.9,65h.6v.6h-.6zM81.3,87.2h.6v.6h-.6zM79.4,90.3h.6v.6h-.6zM85.8,90.5h.6v.6h-.6zM66.5,73.9h.6v.6h-.6zM53.3,88.8h.6v.6h-.6zM87.5,87.7h.6v.6h-.6zM87.2,62.7h.6v.6h-.6zM87.5,86.2h.6v.6h-.6zM92,86.2h.6v.6h-.6zM96.3,69.5h.6v.6h-.6zM94.3,66h.6v.6h-.6zM61.1,86.5h.6v.6h-.6zM97.1,81.2h.6v.6h-.6zM89.8,67h.6v.6h-.6zM55.8,76.5h.6v.6h-.6zM62.4,70.8h.6v.6h-.6zM77,73h.6v.6h-.6zM41.6,82.9h.6v.6h-.6zM45.1,89.4h.6v.6h-.6zM58.2,90.8h.6v.6h-.6zM39.1,88h.6v.6h-.6zM53.8,77.5h.6v.6h-.6zM70.2,85.8h.6v.6h-.6zM73.6,85.6h.6v.6h-.6zM87,66.2h.6v.6h-.6zM46.8,88.4h.6v.6h-.6zM92,64.8h.6v.6h-.6zM95.6,80.6h.6v.6h-.6zM42.5,83.6h.6v.6h-.6zM80,85.6h.6v.6h-.6zM43.9,80h.6v.6h-.6zM85.7,87.6h.6v.6h-.6zM95.6,71.3h.6v.6h-.6zM61.2,91.7h.6v.6h-.6zM71.3,87h.6v.6h-.6zM54.7,74.5h.6v.6h-.6zM66.1,77.5h.6v.6h-.6zM57.9,87.5h.6v.6h-.6zM56.5,87.2h.6v.6h-.6zM95.3,77.4h.6v.6h-.6zM71.6,67.8h.6v.6h-.6zM38.5,86.9h.6v.6h-.6zM89,83.6h.6v.6h-.6zM79.6,72.3h.6v.6h-.6zM99.5,82h.6v.6h-.6zM83.9,85.7h.6v.6h-.6zM73.3,72.9h.6v.6h-.6zM76.2,88.1h.6v.6h-.6zM90.5,87.2h.6v.6h-.6zM39.5,84.5h.6v.6h-.6zM71.6,72h.6v.6h-.6zM94.8,79.9h.6v.6h-.6zM87.9,89.8h.6v.6h-.6zM68.7,74.3h.6v.6h-.6zM95.1,68.3h.6v.6h-.6zM51.1,74h.6v.6h-.6zM82.8,72.5h.6v.6h-.6zM72.1,85.7h.6v.6h-.6zM90,86.4h.6v.6h-.6zM40.1,88.3h.6v.6h-.6zM73.5,88.3h.6v.6h-.6zM48.3,80.3h.6v.6h-.6zM89.3,69.2h.6v.6h-.6zM78.5,86.8h.6v.6h-.6zM95.9,73.4h.6v.6h-.6zM52.8,71.6h.6v.6h-.6zM52.1,73.2h.6v.6h-.6zM86,69.4h.6v.6h-.6zM42.6,79.1h.6v.6h-.6zM63.7,73.4h.6v.6h-.6zM72.5,88.3h.6v.6h-.6zM62.7,91.1h.6v.6h-.6zM45.8,78.5h.6v.6h-.6zM89.8,84.7h.6v.6h-.6zM85,83.8h.6v.6h-.6zM53.2,89.7h.6v.6h-.6zM57,71.9h.6v.6h-.6zM54.4,89.5h.6v.6h-.6zM92.5,87.6h.6v.6h-.6zM57,90.3h.6v.6h-.6zM100.7,77.7h.6v.6h-.6zM96.7,66.3h.6v.6h-.6zM63.2,70.8h.6v.6h-.6zM61.7,75.6h.6v.6h-.6zM83.7,69.7h.6v.6h-.6zM46.8,75h.6v.6h-.6zM67.3,86.4h.6v.6h-.6zM59.8,88.1h.6v.6h-.6zM89.6,86.2h.6v.6h-.6zM75,72.1h.6v.6h-.6zM52.2,74.1h.6v.6h-.6zM46.4,75.1h.6v.6h-.6zM67.6,87.2h.6v.6h-.6zM73.9,88.3h.6v.6h-.6zM94.7,89.2h.6v.6h-.6zM82.5,73.9h.6v.6h-.6zM82.4,88.5h.6v.6h-.6zM49.1,77.1h.6v.6h-.6zM85.3,88.1h.6v.6h-.6zM48.3,85.6h.6v.6h-.6zM95.4,69h.6v.6h-.6zM44.1,79.6h.6v.6h-.6zM81.9,73.8h.6v.6h-.6zM42.2,89.2h.6v.6h-.6zM86.9,64.5h.6v.6h-.6zM93.4,88.2h.6v.6h-.6zM47.9,80.4h.6v.6h-.6zM46.2,78.5h.6v.6h-.6zM85.3,89.1h.6v.6h-.6zM92,65.5h.6v.6h-.6zM40.4,85.6h.6v.6h-.6zM39.2,85.7h.6v.6h-.6zM97.3,72.4h.6v.6h-.6zM67.7,88.4h.6v.6h-.6zM81.5,86.7h.6v.6h-.6zM59.5,91h.6v.6h-.6zM79.5,83.2h.6v.6h-.6zM94.3,67.7h.6v.6h-.6zM75.5,73.9h.6v.6h-.6zM80.2,88h.6v.6h-.6zM40.3,85.9h.6v.6h-.6zM49.4,89.8h.6v.6h-.6zM67.5,89.9h.6v.6h-.6zM38.6,90.2h.6v.6h-.6zM88.1,67h.6v.6h-.6zM83.5,69.2h.6v.6h-.6zM59.9,86.8h.6v.6h-.6zM95.5,73.8h.6v.6h-.6zM78.3,72h.6v.6h-.6zM88.8,84.6h.6v.6h-.6zM72.7,88.1h.6v.6h-.6zM59.3,75.7h.6v.6h-.6zM81.9,89.7h.6v.6h-.6zM78.6,86.3h.6v.6h-.6zM50.9,78.6h.6v.6h-.6zM93.7,67.3h.6v.6h-.6zM53.4,77.3h.6v.6h-.6zM62.5,89.3h.6v.6h-.6zM53.1,72.3h.6v.6h-.6zM78.4,72h.6v.6h-.6zM94.4,83.6h.6v.6h-.6zM61.1,76.2h.6v.6h-.6zM85.2,67.8h.6v.6h-.6zM71.9,75.5h.6v.6h-.6zM92.9,76.6h.6v.6h-.6zM49.1,78.6h.6v.6h-.6zM82.2,87.5h.6v.6h-.6zM62,90.1h.6v.6h-.6zM43.2,88.9h.6v.6h-.6zM96,86.3h.6v.6h-.6zM79.1,90.3h.6v.6h-.6zM45.1,80.1h.6v.6h-.6zM83.7,86.5h.6v.6h-.6zM80.6,72.3h.6v.6h-.6zM73.4,73.3h.6v.6h-.6zM43.1,85.4h.6v.6h-.6zM83.9,67.6h.6v.6h-.6zM58.3,88h.6v.6h-.6zM87.2,69.3h.6v.6h-.6zM86.9,84.1h.6v.6h-.6zM68.5,73.2h.6v.6h-.6zM87.7,87.9h.6v.6h-.6zM55,74.1h.6v.6h-.6zM72.9,85.4h.6v.6h-.6zM84.7,69.2h.6v.6h-.6zM94.1,76.9h.6v.6h-.6zM95.8,79.7h.6v.6h-.6zM95,69.8h.6v.6h-.6zM49,76.6h.6v.6h-.6zM67.7,83.9h.6v.6h-.6zM46.9,90.5h.6v.6h-.6zM84.6,68.5h.6v.6h-.6zM96.5,80.4h.6v.6h-.6zM92.9,82.7h.6v.6h-.6zM93.9,87.4h.6v.6h-.6zM73.7,72.8h.6v.6h-.6zM91,84.7h.6v.6h-.6zM58.2,74.1h.6v.6h-.6zM40.6,89.9h.6v.6h-.6zM77.5,70.8h.6v.6h-.6zM49.9,76.3h.6v.6h-.6zM42.3,84.5h.6v.6h-.6zM75,73.2h.6v.6h-.6zM98,66.8h.6v.6h-.6zM91.7,65.7h.6v.6h-.6zM39.9,88.6h.6v.6h-.6zM93,84.2h.6v.6h-.6zM66.3,88.9h.6v.6h-.6zM50.9,73.7h.6v.6h-.6zM97.7,68.3h.6v.6h-.6zM62.9,84.6h.6v.6h-.6zM72.4,73.3h.6v.6h-.6zM87.2,67h.6v.6h-.6zM81.7,75h.6v.6h-.6zM50.7,80h.6v.6h-.6zM42.8,89.9h.6v.6h-.6zM71.2,72.1h.6v.6h-.6zM77,74.9h.6v.6h-.6zM56.7,73.5h.6v.6h-.6zM93,81.7h.6v.6h-.6zM58.6,73.4h.6v.6h-.6zM66.2,73.6h.6v.6h-.6zM65.4,90.2h.6v.6h-.6zM49.8,87.2h.6v.6h-.6zM95.6,82.9h.6v.6h-.6zM45.3,82.1h.6v.6h-.6zM79.4,88.6h.6v.6h-.6zM91.1,66.3h.6v.6h-.6zM82.8,87.7h.6v.6h-.6zM40.5,86.2h.6v.6h-.6zM87.1,63.8h.6v.6h-.6zM74,72.7h.6v.6h-.6zM81.1,71.9h.6v.6h-.6zM81.9,72.5h.6v.6h-.6zM44,83.3h.6v.6h-.6zM98.5,73.8h.6v.6h-.6zM86.3,72.1h.6v.6h-.6zM94.5,69.7h.6v.6h-.6zM87,69.9h.6v.6h-.6zM98.4,76h.6v.6h-.6zM86.6,68.1h.6v.6h-.6zM96.1,65.8h.6v.6h-.6zM86.5,69h.6v.6h-.6zM87.5,69.9h.6v.6h-.6zM99.2,68.1h.6v.6h-.6zM93.9,64.3h.6v.6h-.6zM55.8,73.1h.6v.6h-.6zM92.9,89.1h.6v.6h-.6zM96.6,71.4h.6v.6h-.6zM84.8,87.3h.6v.6h-.6zM94.9,63h.6v.6h-.6zM87.6,86.2h.6v.6h-.6zM90.4,88.4h.6v.6h-.6zM76,90.4h.6v.6h-.6zM54.3,80.3h.6v.6h-.6zM95.7,80.9h.6v.6h-.6zM91.2,81h.6v.6h-.6zM39,91.6h.6v.6h-.6zM91.1,67.5h.6v.6h-.6zM97.7,66.8h.6v.6h-.6zM90.9,67.7h.6v.6h-.6zM47.6,76.6h.6v.6h-.6zM96.8,72.4h.6v.6h-.6zM89.4,83.8h.6v.6h-.6zM43.5,85.7h.6v.6h-.6zM95.9,73.2h.6v.6h-.6zM91.3,82h.6v.6h-.6zM70.3,74h.6v.6h-.6zM51.7,89.3h.6v.6h-.6zM71.1,73.8h.6v.6h-.6zM93.6,73.2h.6v.6h-.6zM87.1,85h.6v.6h-.6zM77.1,88.8h.6v.6h-.6zM82.5,86.9h.6v.6h-.6zM90.9,64.3h.6v.6h-.6zM86.1,67.4h.6v.6h-.6zM93.4,71.7h.6v.6h-.6zM49.5,78.8h.6v.6h-.6zM89.7,70.1h.6v.6h-.6zM54.5,70.8h.6v.6h-.6zM97.3,64.7h.6v.6h-.6zM93.2,67h.6v.6h-.6zM94.8,81.1h.6v.6h-.6zM92.1,66.2h.6v.6h-.6zM95.3,80.3h.6v.6h-.6zM84.8,71.7h.6v.6h-.6zM77.2,83.4h.6v.6h-.6zM73.4,76.3h.6v.6h-.6zM36.9,91.7h.6v.6h-.6zM89,84.8h.6v.6h-.6zM60.1,72.1h.6v.6h-.6zM95.7,64h.6v.6h-.6zM97.4,70.5h.6v.6h-.6zM85.4,72.1h.6v.6h-.6zM44.1,79.3h.6v.6h-.6zM82,89.2h.6v.6h-.6zM84.5,70.8h.6v.6h-.6zM89.8,65.9h.6v.6h-.6zM82.9,75.8h.6v.6h-.6zM83.1,86.3h.6v.6h-.6zM94.1,68.3h.6v.6h-.6zM48.5,73h.6v.6h-.6zM41.7,77.2h.6v.6h-.6zM40.8,91.5h.6v.6h-.6zM97.3,65.7h.6v.6h-.6zM92,65.8h.6v.6h-.6zM73.2,88.8h.6v.6h-.6zM39.8,86h.6v.6h-.6zM71.7,70h.6v.6h-.6zM66.3,71.4h.6v.6h-.6zM85.8,85.8h.6v.6h-.6zM63.2,90.5h.6v.6h-.6zM98.7,70.1h.6v.6h-.6zM88.1,65.9h.6v.6h-.6zM82.8,72.8h.6v.6h-.6zM81.5,72.6h.6v.6h-.6zM40,84.6h.6v.6h-.6zM50.8,75.8h.6v.6h-.6zM60.2,73.2h.6v.6h-.6zM42.9,76.7h.6v.6h-.6zM93.5,68.1h.6v.6h-.6zM39.3,88.9h.6v.6h-.6zM46.2,79.1h.6v.6h-.6zM78.1,73.6h.6v.6h-.6zM93.8,85.8h.6v.6h-.6zM40.6,85.7h.6v.6h-.6zM47.1,73.9h.6v.6h-.6zM90.6,64.2h.6v.6h-.6zM63.1,89.1h.6v.6h-.6zM82.4,92.1h.6v.6h-.6zM90.8,85.1h.6v.6h-.6zM93.4,79.2h.6v.6h-.6zM38.4,86.1h.6v.6h-.6zM82.5,75.1h.6v.6h-.6zM40.8,89.7h.6v.6h-.6zM92.8,65.7h.6v.6h-.6zM96.4,64.5h.6v.6h-.6zM61.5,88.9h.6v.6h-.6zM70.3,88.3h.6v.6h-.6zM96.5,73.5h.6v.6h-.6zM58.8,84.8h.6v.6h-.6zM58.5,88.1h.6v.6h-.6zM71.6,86.9h.6v.6h-.6zM40.7,86.2h.6v.6h-.6zM63.5,87.1h.6v.6h-.6zM93.5,84.2h.6v.6h-.6zM47.5,88.7h.6v.6h-.6zM79.2,87h.6v.6h-.6zM40.3,87.9h.6v.6h-.6zM42.6,88.3h.6v.6h-.6zM84.1,69.5h.6v.6h-.6zM44.1,79.9h.6v.6h-.6zM59.7,88.1h.6v.6h-.6zM90.9,73.1h.6v.6h-.6zM49,87.9h.6v.6h-.6zM82.7,71.2h.6v.6h-.6zM41.6,90.2h.6v.6h-.6zM59.4,89.3h.6v.6h-.6zM88.7,68h.6v.6h-.6zM55.9,73.5h.6v.6h-.6zM57.8,74.9h.6v.6h-.6zM91,64.3h.6v.6h-.6zM46.8,76.1h.6v.6h-.6zM86,87.3h.6v.6h-.6zM51.7,78.5h.6v.6h-.6zM87,65.3h.6v.6h-.6zM91.8,64.7h.6v.6h-.6zM41.9,90.8h.6v.6h-.6zM93.6,83.2h.6v.6h-.6zM91.3,67.3h.6v.6h-.6zM51.8,75.2h.6v.6h-.6zM65.7,88.1h.6v.6h-.6zM94.5,76.5h.6v.6h-.6zM97.1,69.4h.6v.6h-.6zM91.5,70.5h.6v.6h-.6zM63.3,73h.6v.6h-.6zM88.6,67.5h.6v.6h-.6zM41.2,82.5h.6v.6h-.6zM85.6,70.7h.6v.6h-.6zM57.2,88.8h.6v.6h-.6zM75.1,88h.6v.6h-.6zM40.9,89.3h.6v.6h-.6zM62.4,69.7h.6v.6h-.6zM78.5,72h.6v.6h-.6zM55.1,88.6h.6v.6h-.6zM80.2,71.4h.6v.6h-.6zM67.7,73.5h.6v.6h-.6zM36.5,87.9h.6v.6h-.6zM53.4,73.9h.6v.6h-.6zM48,76.3h.6v.6h-.6zM89.6,83.4h.6v.6h-.6zM97.1,78.8h.6v.6h-.6zM84.9,68h.6v.6h-.6zM97.3,67.2h.6v.6h-.6zM61.1,70.6h.6v.6h-.6zM87.4,66.9h.6v.6h-.6zM91.4,88h.6v.6h-.6zM87.9,68.2h.6v.6h-.6zM38.2,87.4h.6v.6h-.6zM94.4,85.7h.6v.6h-.6zM53.8,77h.6v.6h-.6zM52.1,74.5h.6v.6h-.6zM88.4,65.1h.6v.6h-.6zM93.3,65.3h.6v.6h-.6zM38.8,88.3h.6v.6h-.6zM41.9,86.8h.6v.6h-.6zM75.9,69.5h.6v.6h-.6zM49.1,71.7h.6v.6h-.6zM82.4,70.6h.6v.6h-.6zM37.3,88.1h.6v.6h-.6zM75.2,90.6h.6v.6h-.6zM61.7,93.3h.6v.6h-.6zM49.8,75.7h.6v.6h-.6zM91.3,85.2h.6v.6h-.6zM85.3,70.2h.6v.6h-.6zM49.7,88.5h.6v.6h-.6zM43.1,88.8h.6v.6h-.6zM77,85.8h.6v.6h-.6zM41,84.3h.6v.6h-.6zM93.6,69h.6v.6h-.6zM96,66.9h.6v.6h-.6zM58.4,90h.6v.6h-.6zM85.3,66.9h.6v.6h-.6zM63.8,87.9h.6v.6h-.6zM88.4,69.2h.6v.6h-.6zM42.7,89.7h.6v.6h-.6zM58,91.1h.6v.6h-.6zM37.7,85.7h.6v.6h-.6zM87,85.6h.6v.6h-.6zM93.7,85.2h.6v.6h-.6zM66.4,76.1h.6v.6h-.6zM92.3,84.7h.6v.6h-.6zM84.8,68h.6v.6h-.6zM64.9,86.7h.6v.6h-.6zM75.7,87.4h.6v.6h-.6zM40.3,87.7h.6v.6h-.6zM49.5,86.1h.6v.6h-.6zM40.5,86h.6v.6h-.6zM65.8,71.9h.6v.6h-.6zM70.7,71.7h.6v.6h-.6zM85.5,68.2h.6v.6h-.6zM81.6,73.7h.6v.6h-.6zM80.8,74.9h.6v.6h-.6zM47,82.5h.6v.6h-.6zM70.9,75.2h.6v.6h-.6zM84.5,90.4h.6v.6h-.6zM92.3,83.3h.6v.6h-.6zM44.6,86.6h.6v.6h-.6zM93.8,70.8h.6v.6h-.6zM86.1,66.1h.6v.6h-.6zM53.1,78.2h.6v.6h-.6zM65.2,73.9h.6v.6h-.6zM72.3,73.6h.6v.6h-.6zM72,73.2h.6v.6h-.6zM59.3,71.8h.6v.6h-.6zM60.8,87.9h.6v.6h-.6zM89.6,69.3h.6v.6h-.6zM93.5,67.5h.6v.6h-.6zM82.9,71.8h.6v.6h-.6zM51.7,70h.6v.6h-.6zM94.3,66.4h.6v.6h-.6zM72.2,75.1h.6v.6h-.6zM84.4,68.7h.6v.6h-.6zM54.4,75h.6v.6h-.6zM83.2,85.8h.6v.6h-.6zM38.4,90.7h.6v.6h-.6zM39.3,84.2h.6v.6h-.6zM41.7,80.4h.6v.6h-.6zM85.1,90.3h.6v.6h-.6zM46.8,80.7h.6v.6h-.6zM89.3,69.5h.6v.6h-.6zM82.1,87.8h.6v.6h-.6zM77.2,88.5h.6v.6h-.6zM77.5,74.1h.6v.6h-.6zM99.3,75.3h.6v.6h-.6zM87,68.3h.6v.6h-.6zM96.2,77.7h.6v.6h-.6zM66.9,75.8h.6v.6h-.6zM93.8,84.3h.6v.6h-.6zM43.4,78.4h.6v.6h-.6zM80.3,72.9h.6v.6h-.6zM83.9,69.3h.6v.6h-.6zM39.7,90.1h.6v.6h-.6zM82.7,86.4h.6v.6h-.6zM92,68.4h.6v.6h-.6zM91.9,67.5h.6v.6h-.6zM94.2,69.7h.6v.6h-.6zM46.7,90.4h.6v.6h-.6zM95,83.8h.6v.6h-.6zM53.9,88.5h.6v.6h-.6zM82,75.1h.6v.6h-.6zM65.9,69.7h.6v.6h-.6zM39.5,90.1h.6v.6h-.6zM93.2,84.4h.6v.6h-.6zM89.5,87h.6v.6h-.6zM47.2,89.8h.6v.6h-.6zM97.2,74.9h.6v.6h-.6zM91.1,66.5h.6v.6h-.6zM54.7,88.5h.6v.6h-.6zM50.8,89.7h.6v.6h-.6zM76.6,72.8h.6v.6h-.6zM61.7,89h.6v.6h-.6zM96.8,79.4h.6v.6h-.6zM49.2,76.7h.6v.6h-.6zM58,74.6h.6v.6h-.6zM77.9,87.8h.6v.6h-.6zM77.6,71.3h.6v.6h-.6zM105.8,113.7h.6v.6h-.6zM69.2,88.6h.6v.6h-.6zM59.7,107h.6v.6h-.6zM105.5,65.6h.6v.6h-.6zM86.8,80.4h.6v.6h-.6zM87.9,98.9h.6v.6h-.6zM81.4,121.1h.6v.6h-.6zM55.4,63.4h.6v.6h-.6zM66.4,57.7h.6v.6h-.6zM80.8,115.4h.6v.6h-.6zM63.8,67.3h.6v.6h-.6zM87.6,97.3h.6v.6h-.6zM46.1,110.5h.6v.6h-.6zM83.3,75.7h.6v.6h-.6zM65.8,77.3h.6v.6h-.6zM76.4,89.6h.6v.6h-.6zM55.7,77.9h.6v.6h-.6zM51.7,102.3h.6v.6h-.6zM75.9,101.9h.6v.6h-.6zM110.2,80.2h.6v.6h-.6zM99.7,119.3h.6v.6h-.6zM55.4,99.4h.6v.6h-.6zM76.7,96h.6v.6h-.6zM85.7,82.3h.6v.6h-.6zM75.3,103.9h.6v.6h-.6zM42.4,54h.6v.6h-.6zM62.7,116.6h.6v.6h-.6zM99,94.6h.6v.6h-.6zM107,79.5h.6v.6h-.6zM85.6,122.9h.6v.6h-.6zM107.5,106.1h.6v.6h-.6zM70.3,69.9h.6v.6h-.6zM110.1,113.7h.6v.6h-.6zM68.2,80.9h.6v.6h-.6zM71,65.8h.6v.6h-.6zM66.4,58.9h.6v.6h-.6zM113.1,53.5h.6v.6h-.6zM53.9,114.3h.6v.6h-.6zM99.3,54.1h.6v.6h-.6zM82.5,124.2h.6v.6h-.6zM106.9,59h.6v.6h-.6zM45.8,115.7h.6v.6h-.6zM109.8,83h.6v.6h-.6zM98.6,55.6h.6v.6h-.6zM69.2,89.8h.6v.6h-.6zM59.3,100.9h.6v.6h-.6zM94.7,65.8h.6v.6h-.6zM46.9,119.5h.6v.6h-.6zM86.2,72.9h.6v.6h-.6zM109.1,110.7h.6v.6h-.6zM55.1,80.9h.6v.6h-.6zM44,74.6h.6v.6h-.6zM78.8,105h.6v.6h-.6zM47.8,58.2h.6v.6h-.6zM109.5,57.6h.6v.6h-.6zM93.1,100.8h.6v.6h-.6zM67.7,123.4h.6v.6h-.6zM96.4,60.8h.6v.6h-.6zM86,96.4h.6v.6h-.6zM113.3,117.5h.6v.6h-.6zM100.9,108h.6v.6h-.6zM75.4,90.2h.6v.6h-.6zM41.2,119.7h.6v.6h-.6zM104.4,87.5h.6v.6h-.6zM109.1,106.3h.6v.6h-.6zM90.2,53.8h.6v.6h-.6zM70.3,60.7h.6v.6h-.6zM63.5,113.2h.6v.6h-.6zM40.8,98.9h.6v.6h-.6zM108.2,112h.6v.6h-.6zM91.2,100h.6v.6h-.6zM114.6,111.8h.6v.6h-.6zM94.1,90.2h.6v.6h-.6zM94.2,86.1h.6v.6h-.6zM85.9,119.3h.6v.6h-.6zM80.9,105.6h.6v.6h-.6zM78.7,112.5h.6v.6h-.6zM109.3,118.3h.6v.6h-.6zM106.7,124.2h.6v.6h-.6zM109.9,118.4h.6v.6h-.6zM113.7,93h.6v.6h-.6zM84.7,112.9h.6v.6h-.6zM80.2,123.1h.6v.6h-.6zM103.5,123.2h.6v.6h-.6zM88,95.1h.6v.6h-.6zM80,90h.6v.6h-.6zM91.9,102h.6v.6h-.6zM100,121.7h.6v.6h-.6zM85.6,95.6h.6v.6h-.6zM81.5,122.3h.6v.6h-.6zM98.4,124.1h.6v.6h-.6zM87.3,121.2h.6v.6h-.6zM96.8,121.8h.6v.6h-.6zM93.9,94h.6v.6h-.6zM105.1,88.7h.6v.6h-.6zM113.8,95.2h.6v.6h-.6zM83.4,101.5h.6v.6h-.6zM94.3,102.3h.6v.6h-.6zM95.6,101.9h.6v.6h-.6zM106.5,94.1h.6v.6h-.6zM97.8,105.7h.6v.6h-.6zM88,87.9h.6v.6h-.6zM105.5,94.7h.6v.6h-.6zM101.9,107.6h.6v.6h-.6zM78.3,92.3h.6v.6h-.6zM97.5,97.7h.6v.6h-.6zM113.6,94.2h.6v.6h-.6zM100.6,111.6h.6v.6h-.6zM92.5,95.6h.6v.6h-.6zM94.7,112.7h.6v.6h-.6zM88.9,102.2h.6v.6h-.6zM101.8,85.5h.6v.6h-.6zM111.5,117.3h.6v.6h-.6zM102.3,96.3h.6v.6h-.6zM107.8,110.6h.6v.6h-.6zM100.5,106.8h.6v.6h-.6zM102.7,112.1h.6v.6h-.6zM102,123.9h.6v.6h-.6zM104.1,97.7h.6v.6h-.6zM114.8,102.8h.6v.6h-.6zM82.9,113.4h.6v.6h-.6zM78.4,91.6h.6v.6h-.6zM106,112.8h.6v.6h-.6zM95.3,89.2h.6v.6h-.6zM104.9,119h.6v.6h-.6zM90.3,93.3h.6v.6h-.6zM86.9,123.9h.6v.6h-.6zM114.5,87.5h.6v.6h-.6zM87.6,88h.6v.6h-.6zM108.2,124.2h.6v.6h-.6zM114.3,121.8h.6v.6h-.6zM105.3,90.6h.6v.6h-.6zM82.2,85.9h.6v.6h-.6zM81.3,86.6h.6v.6h-.6zM89.9,103.3h.6v.6h-.6zM103.3,119.2h.6v.6h-.6zM94.9,120.2h.6v.6h-.6zM78.8,105.3h.6v.6h-.6zM106.7,98.9h.6v.6h-.6zM83.7,98.4h.6v.6h-.6zM92.5,104.8h.6v.6h-.6zM95.1,119.9h.6v.6h-.6zM111.2,98.6h.6v.6h-.6zM85.6,104.4h.6v.6h-.6zM93.7,120.7h.6v.6h-.6zM105.2,118.3h.6v.6h-.6zM84.8,101.8h.6v.6h-.6zM108.8,111.8h.6v.6h-.6zM100.9,93.9h.6v.6h-.6zM109.3,103.7h.6v.6h-.6zM88,105.5h.6v.6h-.6zM97.3,107.9h.6v.6h-.6zM105.3,120.4h.6v.6h-.6zM86.7,108.9h.6v.6h-.6zM79.6,93.4h.6v.6h-.6zM90,114.5h.6v.6h-.6zM115,94.1h.6v.6h-.6zM107.6,98.2h.6v.6h-.6zM78.4,94.9h.6v.6h-.6zM88.7,102.7h.6v.6h-.6z" fill="#1a1a1a"/>
<path d="M40.3,90.2 C42.8,84.4 50.7,89.8 55.3,89.5 C59.9,89.3 64.5,89.1 68.0,88.8 C71.5,88.6 73.5,88.0 76.1,87.9 C78.7,87.9 81.6,88.0 83.6,88.6 C85.6,89.2 87.1,90.0 88.2,91.4 C89.3,92.8 89.7,94.5 90.2,96.9 C90.6,99.4 90.8,103.3 90.8,106.2 C90.8,109.0 90.6,111.7 90.2,114.2 C89.7,116.7 89.3,119.4 88.3,121.2 C87.3,122.9 92.2,124.0 84.2,124.6 C76.2,125.2 47.6,130.3 40.3,124.6 C33.0,118.9 37.8,96.1 40.3,90.2 Z" fill="#1c1c1c" stroke="none" stroke-width="1" filter="url(#blur1)"/>
<path d="M40.3,87.7 C40.8,86.4 42.2,83.3 43.5,81.3 C44.9,79.4 46.2,77.4 48.4,76.2 C50.5,74.9 53.4,74.1 56.5,73.6 C59.5,73.1 63.6,73.2 66.8,73.2 C70.1,73.1 73.4,73.5 76.1,73.4 C78.7,73.3 81.2,73.4 82.8,72.7 C84.3,72.0 84.5,70.1 85.5,69.0 C86.6,67.9 87.7,66.9 89.0,66.3 C90.3,65.8 92.0,65.4 93.2,65.8 C94.3,66.1 95.2,66.6 95.7,68.3 C96.2,70.0 96.2,73.7 96.0,76.2 C95.9,78.6 95.5,81.2 94.8,82.8 C94.0,84.5 93.4,85.3 91.7,86.1 C89.9,86.8 86.7,87.3 84.2,87.5 C81.6,87.7 79.0,87.1 76.1,87.2 C73.2,87.3 70.3,87.9 66.8,88.2 C63.4,88.4 59.7,88.5 55.3,88.6 C50.9,88.7 42.8,89.0 40.3,88.8 C37.8,88.7 39.8,88.9 40.3,87.7 Z" fill="#1c1c1c" stroke="none" stroke-width="1" filter="url(#blur1)"/>
<path d="M41.9,91.2 C44.3,88.9 51.2,90.3 55.3,90.2 C59.5,90.2 63.6,90.3 66.8,90.9 C70.1,91.5 72.6,92.6 74.9,93.7 C77.2,94.8 79.2,96.3 80.7,97.6 C82.2,99.0 83.8,100.5 84.2,101.8 C84.5,103.0 83.3,103.5 83.0,105.0 C82.7,106.5 82.6,108.9 82.1,110.8 C81.6,112.7 81.0,114.8 80.0,116.3 C79.0,117.8 78.8,118.9 76.1,120.0 C73.3,121.1 68.4,122.3 63.4,122.9 C58.4,123.4 49.7,123.7 46.1,123.2 C42.5,122.7 42.5,123.2 41.7,120.0 C40.9,116.8 41.2,108.7 41.2,103.8 C41.3,99.0 39.6,93.4 41.9,91.2 Z" fill="#d8d8d8" stroke="none" stroke-width="1"/>
<path d="M43.2,93.2 L44.4,92.2 L46.3,91.8 L48.2,91.5 L50.6,91.6 L53,91.8 L55,91.8 L56.9,91.7 L59.2,92.2 L60.8,92 L62.8,92.4 L64.4,92.5 L65.8,92.6 L67.2,92.8 L68.9,93.5 L69.9,93.7 L70.9,93.9 L72.3,94.6 L73.5,95.3 L74.6,95.9 L75.4,96.3 L76.3,96.9 L77.4,97.7 L78.1,98.3 L78.5,98.6 L79.3,99.3 L79.9,99.9 L80.8,100.9 L81.4,101.6 L81.7,102.1 L81.9,102.6 L81.9,103.1 L81.6,103.4 L81.7,104.2 L81.5,104.7 L81.1,105 L80.7,105.5 L80.8,106.5 L80.4,107 L80.3,108 L80.1,108.9 L80.1,110 L80.1,111.1 L79.7,111.8 L79.4,112.6 L79.1,113.5 L78.8,114.4 L78.4,115.2 L77.9,115.9 L77.7,116.8 L77.2,117.3 L77,118.1 L76.5,118.7 L75.3,118.8 L74.5,119.7 L72.8,119.9 L71.4,120.7 L69.3,121 L67.4,121.6 L65,121.9 L62.7,122.2 L60,122.3 L57.3,122.6 L54.2,122.6 L51.5,122.8 L48.9,122.6 L46.8,122.4 L45.4,122.3 L44.4,122.1 L43.9,122 L43.3,121.4 L43,120.7 L42.7,119.4 L42.4,117.5 L42,115 L41.9,112.3 L42,109.6 L42,106.9 L41.9,104.4 L42.3,102.5 L41.9,100 L42,98 L41.9,96 L42,94Z" fill="none" stroke="#505050" stroke-width="0.42"/>
<path d="M44.1,94.7 L45.4,94.1 L46.9,93.5 L49,93.6 L51.2,93.7 L53.2,93.7 L54.9,93.5 L57,93.9 L58.6,93.8 L60.1,93.6 L61.7,93.8 L63.6,94.3 L65,94.5 L66,94.4 L67.2,94.7 L68.5,95.2 L69.6,95.6 L70.9,96.3 L71.6,96.4 L72.5,97 L73.8,97.9 L74.3,98 L75.4,98.9 L76,99.4 L76.5,99.8 L77.5,100.7 L77.8,101 L78.6,101.9 L79,102.4 L79.1,102.7 L79.5,103.4 L79.4,103.8 L79.3,104.2 L79.5,104.9 L79.2,105.3 L78.9,105.8 L78.9,106.6 L78.5,107 L78.6,107.9 L78.3,108.5 L78.1,109.4 L78.2,110.4 L77.9,111.1 L77.8,112.2 L77.4,112.8 L76.9,113.4 L77.1,114.6 L76.4,115 L76,115.7 L75.7,116.3 L75.3,116.9 L75.1,117.7 L74.2,117.9 L73.4,118.4 L72.5,119 L71.2,119.4 L69.6,119.8 L68.1,120.5 L66.2,120.9 L63.9,121 L61.7,121.3 L59.4,121.6 L57.1,122 L54.5,122 L52,122.1 L49.4,121.6 L47.6,121.5 L46.4,121.6 L45.5,121.4 L44.5,120.8 L44,120.3 L44.1,119.9 L43.4,118.3 L43.3,116.8 L43.1,114.7 L43.2,112.6 L42.9,109.9 L43.1,107.7 L43.1,105.4 L42.9,103.1 L42.8,101.1 L42.9,99.3 L43.1,97.5 L43.4,96Z" fill="none" stroke="#505050" stroke-width="0.42"/>
<path d="M46.1,97.3 L46.9,96.3 L48.2,95.9 L49.8,95.6 L51.2,95.3 L52.8,95.2 L54.9,95.5 L56.6,95.6 L57.8,95.3 L59.3,95.4 L60.8,95.5 L62.4,95.9 L63.6,96 L64.7,96.1 L65.9,96.5 L67.3,97.1 L68.4,97.5 L69.1,97.6 L70.2,98.3 L70.8,98.5 L72,99.3 L72.7,99.7 L73.4,100.2 L74,100.7 L74.5,101.1 L74.9,101.4 L75.6,102.2 L76.1,102.7 L76.3,103 L76.6,103.6 L76.9,104.2 L76.9,104.5 L77.1,105.1 L77.2,105.8 L76.8,106 L76.7,106.5 L76.6,107.1 L76.6,107.8 L76.2,108.3 L76.3,109.2 L76.2,110 L75.9,110.5 L75.7,111.2 L75.7,112.2 L75.3,112.8 L75.1,113.5 L74.9,114.3 L74.6,114.9 L74,115.3 L73.9,116.1 L73.3,116.5 L72.6,116.9 L72.1,117.6 L71.2,117.9 L70.3,118.4 L69,118.7 L67.8,119.2 L66.3,119.6 L64.5,119.8 L62.7,120.2 L61,120.8 L58.9,121 L56.4,120.7 L54.5,120.9 L52.5,120.9 L51.1,121.2 L49.1,120.8 L48.2,120.9 L46.8,120.4 L45.8,119.7 L45.4,119.2 L45.2,118.6 L44.7,117.2 L44.2,115.5 L44.6,114.3 L44.2,112.3 L44.4,110.7 L44.2,108.6 L43.7,106.1 L43.9,104.3 L44.1,102.6 L44.4,101 L44.8,99.6 L45.4,98.5Z" fill="none" stroke="#505050" stroke-width="0.42"/>
<path d="M47.4,99.4 L48,98.4 L49,97.8 L50.5,97.6 L51.6,97.2 L53,97.1 L54.8,97.3 L56,97.1 L57.7,97.4 L58.8,97.2 L60.4,97.7 L61.7,97.9 L62.4,97.6 L63.9,98.2 L64.7,98.2 L65.8,98.6 L66.8,99 L67.8,99.4 L68.7,99.9 L69.4,100.2 L70.2,100.7 L70.8,101.1 L71.3,101.4 L72.2,102.1 L72.5,102.3 L73.2,102.9 L73.4,103.1 L73.7,103.5 L74.1,104 L74.4,104.6 L74.5,104.9 L74.6,105.4 L74.7,105.8 L74.8,106.4 L74.5,106.6 L74.6,107.3 L74.6,107.9 L74.5,108.5 L74,108.7 L74.2,109.7 L73.7,110 L73.6,110.7 L73.8,111.7 L73.4,112.1 L73.1,112.7 L72.8,113.3 L72.7,114 L72.6,114.8 L72.2,115.2 L71.8,115.7 L71.4,116.2 L70.9,116.8 L70.4,117.4 L69.3,117.5 L68.7,118.2 L67.3,118.1 L66.2,118.6 L64.8,118.9 L63.4,119.3 L61.9,119.7 L60.2,119.9 L57.9,119.7 L56.3,120 L54.6,120.1 L53.1,120.3 L51.4,120 L50.4,120.3 L48.8,119.6 L48.1,119.7 L47.1,118.9 L46.3,118.1 L46,117.3 L45.8,116.4 L45.7,115.3 L45.3,113.7 L45.2,112.2 L45.2,110.7 L45,108.9 L44.8,106.9 L45.1,105.5 L45.2,103.9 L45.5,102.5 L45.7,100.9 L46.5,100.1Z" fill="none" stroke="#505050" stroke-width="0.42"/>
<path d="M48.5,101.3 L49.5,100.8 L50.2,100.1 L51.3,99.8 L52.3,99.5 L53.2,99 L54.6,99.2 L55.6,98.9 L56.7,98.8 L58.2,99.2 L59.5,99.5 L60.4,99.4 L61.4,99.5 L62.5,99.8 L63.5,100.1 L64.2,100.2 L65.1,100.5 L66,100.9 L67,101.4 L67.3,101.4 L68.1,101.9 L69,102.5 L69.1,102.5 L70,103.2 L70.5,103.6 L71.1,104.1 L71.4,104.5 L71.5,104.7 L71.7,105 L71.9,105.4 L72,105.8 L72.4,106.5 L72.1,106.5 L72.4,107.2 L72.6,107.9 L72.2,108 L72.3,108.5 L72.1,108.9 L71.9,109.4 L72,110.1 L71.6,110.4 L71.5,111 L71.2,111.5 L71.2,112.1 L71.2,112.9 L70.7,113.2 L70.5,113.7 L70.2,114.2 L70.3,115.1 L69.5,115.1 L69.2,115.8 L68.7,116.3 L68.1,116.7 L67.3,117.1 L66.4,117.4 L65.5,117.8 L64.2,117.9 L63.3,118.4 L62,118.7 L60.4,118.6 L59,118.7 L57.9,119.3 L56.3,119.2 L55.1,119.4 L53.8,119.4 L52.3,118.9 L51.1,118.7 L50.3,118.7 L49.4,118.2 L48.7,117.7 L48,117 L47.5,116.3 L47.1,115.4 L46.8,114.4 L46.7,113.3 L46.1,111.7 L46.3,110.8 L46.4,109.6 L46,107.9 L46.1,106.4 L46.7,105.6 L46.8,104.1 L47.4,103.1 L48,102.2Z" fill="none" stroke="#505050" stroke-width="0.42"/>
<path d="M49.7,103.4 L50.7,103.1 L51.4,102.5 L52.2,102.1 L52.7,101.5 L53.8,101.4 L54.5,101.1 L55.4,100.9 L56.7,101.2 L57.4,101 L58.5,101.2 L59.6,101.4 L60.4,101.5 L61.3,101.6 L62,101.7 L62.9,102 L63.6,102.2 L64.5,102.6 L65.2,102.9 L65.7,103.1 L66.2,103.3 L67,103.8 L67.1,103.8 L67.7,104.2 L68,104.5 L68.3,104.8 L69,105.5 L69,105.5 L69.6,106.3 L69.4,106.2 L69.9,107 L70.1,107.4 L70.1,107.7 L70.2,108.1 L70.2,108.5 L70,108.8 L69.8,109 L70.2,109.9 L69.8,110 L69.9,110.7 L69.8,111.1 L69.7,111.6 L69.1,111.7 L69.1,112.3 L68.9,112.7 L68.6,113.1 L68.3,113.5 L68.5,114.4 L67.9,114.6 L67.7,115.2 L67.2,115.6 L66.7,116 L65.7,116 L65.1,116.4 L64.4,116.8 L63.7,117.3 L62.5,117.3 L61.7,117.7 L60.7,118 L59.4,117.9 L58.2,117.9 L57.4,118.2 L56.3,118.3 L55.3,118.3 L54.3,118.3 L53,117.8 L52.4,117.8 L51.5,117.4 L50.7,117 L50.2,116.6 L49.5,116 L48.7,115 L48.2,114.2 L48,113.6 L47.8,112.8 L47.5,111.7 L47.4,110.8 L47.3,109.7 L47.7,108.9 L47.6,107.7 L48,106.9 L48.6,106.2 L48.7,105 L49.4,104.3Z" fill="none" stroke="#505050" stroke-width="0.42"/>
<path d="M50.6,105.1 L51.2,104.5 L52,104.3 L52.8,104 L53.3,103.5 L54.1,103.4 L54.6,102.9 L55.6,103.1 L55.9,102.6 L56.8,102.6 L57.7,102.8 L58.8,103.2 L59.5,103.2 L60.3,103.4 L61,103.5 L61.6,103.6 L62.3,103.9 L63.1,104.2 L63.6,104.4 L64.1,104.6 L64.8,105 L64.8,104.8 L65.2,105.1 L65.7,105.4 L66,105.7 L66.7,106.4 L66.9,106.6 L67.1,106.9 L67.3,107.2 L67.5,107.5 L67.3,107.5 L67.6,108 L67.9,108.6 L67.6,108.6 L67.8,109.1 L68,109.6 L67.7,109.7 L67.6,110 L67.8,110.7 L67.5,110.9 L67.6,111.5 L67.4,111.7 L67.3,112.1 L67.2,112.5 L66.9,112.9 L66.7,113.2 L66.5,113.6 L66,113.8 L65.8,114.3 L65.6,114.8 L65.3,115.3 L64.5,115.3 L64.1,115.8 L63.2,115.9 L62.6,116.2 L62,116.6 L61.3,116.9 L60.1,116.7 L59.4,117 L58.5,117.1 L58,117.5 L57,117.4 L56.3,117.6 L55.2,117.4 L54.6,117.6 L53.7,117.2 L52.9,117 L52.2,116.6 L51.5,116.2 L51,115.9 L50.2,115 L49.9,114.6 L49.5,114 L49,113.3 L48.8,112.6 L48.5,111.7 L48.5,111 L48.7,110.4 L48.5,109.3 L49.1,109 L48.9,107.8 L49.4,107.2 L49.8,106.5 L50.3,105.9Z" fill="none" stroke="#505050" stroke-width="0.42"/>
<path d="M52,107.3 L52.1,106.6 L52.7,106.2 L53,105.6 L53.8,105.7 L54.2,105.2 L54.5,104.8 L55.3,104.9 L55.9,104.8 L56.4,104.7 L57.3,104.9 L57.6,104.6 L58.6,105.1 L58.9,104.9 L59.4,104.9 L60.1,105.2 L60.9,105.6 L61.1,105.4 L61.7,105.6 L62.2,105.9 L62.9,106.4 L63.2,106.5 L63.4,106.6 L63.6,106.7 L64.2,107.3 L64.2,107.2 L64.7,107.7 L64.6,107.7 L64.7,107.9 L65.2,108.4 L65.1,108.6 L65.4,109 L65.2,109 L65.6,109.7 L65.7,110 L65.4,110 L65.3,110.2 L65.6,110.9 L65.4,111 L65.6,111.5 L65.3,111.6 L65,111.8 L65.1,112.3 L64.7,112.4 L64.9,113 L64.7,113.3 L64.5,113.7 L64.2,114 L63.5,113.9 L63.4,114.4 L62.9,114.7 L62.3,114.8 L61.8,115 L61.4,115.4 L60.6,115.4 L60.1,115.7 L59.8,116.1 L59,116.2 L58.2,116.2 L57.7,116.3 L57.2,116.5 L56.4,116.4 L55.7,116.3 L55.5,116.6 L54.9,116.5 L54,116 L53.3,115.7 L52.7,115.3 L52.4,115.2 L52,114.9 L51.7,114.6 L51.1,114 L50.5,113.2 L50.3,112.9 L50.1,112.3 L50,111.9 L49.6,111.1 L49.8,110.7 L50.1,110.3 L50,109.5 L50.2,108.9 L50.9,108.8 L51,108 L51.3,107.5Z" fill="none" stroke="#505050" stroke-width="0.42"/>
<path d="M52.6,108.6 L52.9,108.3 L53.1,107.8 L53.5,107.4 L53.9,107.2 L54,106.7 L54.9,106.9 L55.2,106.7 L55.4,106.4 L56.1,106.6 L56.3,106.3 L56.7,106.2 L57.5,106.5 L57.8,106.4 L58.5,106.7 L59,106.9 L59.6,107.2 L59.9,107.2 L60.1,107.1 L60.5,107.2 L60.9,107.4 L61.5,107.9 L61.8,108.1 L62.1,108.3 L62.3,108.4 L62.4,108.6 L62.3,108.5 L62.8,109 L62.9,109.2 L62.9,109.2 L63.1,109.6 L63.1,109.7 L63.3,110 L63.1,110.1 L63.2,110.3 L63.2,110.6 L63.5,111.2 L63.2,111.1 L63.4,111.6 L63.3,111.8 L63.3,112.1 L62.9,112 L63,112.5 L63.1,113 L62.9,113.1 L62.3,113 L62.3,113.5 L62.1,113.7 L61.9,114 L61.6,114.2 L61.2,114.5 L60.9,114.8 L60.5,115 L60.1,115.2 L59.5,115.2 L59.1,115.5 L58.7,115.6 L57.9,115.4 L57.5,115.6 L56.8,115.5 L56.7,115.9 L56,115.7 L55.8,116 L55.2,115.7 L54.7,115.5 L54.3,115.4 L53.8,115.1 L53.3,114.8 L53,114.7 L52.8,114.5 L52.2,114 L51.8,113.6 L51.5,113.2 L51,112.6 L50.9,112.2 L50.9,112 L50.9,111.7 L51.1,111.4 L51,110.8 L51,110.3 L51.3,110 L51.3,109.4 L51.6,109 L52.2,109Z" fill="none" stroke="#505050" stroke-width="0.42"/>
<path d="M53,109.8 L53.3,109.6 L53.5,109.3 L54,109.3 L54.2,109 L54.3,108.7 L54.9,108.8 L55.2,108.6 L55.4,108.5 L55.7,108.3 L55.9,108.2 L56,108 L56.6,108.2 L56.8,108 L57.5,108.5 L57.8,108.5 L57.9,108.4 L58.2,108.4 L58.8,108.8 L59.1,108.9 L59.3,109 L59.2,108.8 L59.7,109.2 L60,109.4 L60,109.3 L60.2,109.6 L60.6,110 L60.7,110.1 L60.6,110 L60.9,110.4 L60.9,110.5 L60.9,110.5 L61.2,111 L61,111 L61,111.1 L61,111.2 L61.3,111.7 L60.9,111.6 L61.3,112.1 L60.9,111.9 L60.9,112.1 L60.8,112.3 L60.8,112.6 L60.6,112.7 L60.7,113.1 L60.4,113.2 L60.1,113.2 L59.9,113.4 L59.8,113.7 L59.3,113.7 L59.2,114 L59,114.3 L58.4,114.1 L58.1,114.3 L58.1,114.8 L57.8,114.9 L57.4,115 L56.9,114.8 L56.6,114.9 L56.5,115.1 L56.1,115.1 L55.8,115 L55.2,114.7 L55.1,114.9 L55,114.9 L54.2,114.3 L53.9,114.2 L53.5,113.9 L53.5,114 L53.1,113.6 L52.9,113.4 L52.4,113 L52.2,112.7 L52.3,112.7 L52.2,112.5 L52,112.1 L51.9,111.8 L52.2,111.8 L52.2,111.5 L52.2,111.1 L52.3,110.9 L52.3,110.5 L52.7,110.4 L52.7,110Z" fill="none" stroke="#505050" stroke-width="0.42"/>
<path d="M53.5,111 L53.7,110.9 L53.9,110.8 L54,110.5 L54.3,110.6 L54.6,110.5 L54.7,110.3 L54.7,110 L55.1,110.2 L55.2,109.9 L55.2,109.7 L55.4,109.6 L55.8,109.8 L55.8,109.6 L56.4,110 L56.6,110 L56.7,110 L57.2,110.2 L57.2,110.2 L57.3,110.1 L57.4,110.1 L57.5,110.1 L57.9,110.5 L58.2,110.7 L58.4,110.9 L58.5,110.9 L58.3,110.7 L58.3,110.7 L58.4,110.8 L58.6,111.1 L58.8,111.3 L58.8,111.4 L58.7,111.4 L58.8,111.6 L59.1,112 L58.8,111.8 L59.1,112.2 L58.9,112.1 L58.8,112.2 L59.1,112.7 L59.1,112.8 L59,112.9 L58.9,113.1 L58.5,112.9 L58.5,113.1 L58.3,113.1 L58.4,113.5 L58.1,113.4 L57.8,113.4 L57.5,113.4 L57.7,113.9 L57.1,113.6 L57.1,114 L56.8,114 L56.8,114.3 L56.4,114.1 L56.5,114.4 L56.3,114.5 L55.6,114.1 L55.8,114.5 L55.5,114.3 L55.2,114.2 L54.9,114 L54.7,114 L54.4,113.8 L54.2,113.7 L54.4,114 L53.9,113.5 L54.1,113.7 L53.7,113.4 L53.6,113.3 L53.2,112.9 L53.4,113 L53.2,112.8 L53,112.6 L53,112.5 L52.8,112.1 L53.1,112.2 L53.2,112.2 L52.9,111.7 L52.9,111.5 L53.1,111.4 L53.4,111.4 L53.5,111.3Z" fill="none" stroke="#505050" stroke-width="0.42"/>
<path d="M54.1,112.2 L53.8,111.8 L54.1,112 L54,111.6 L54.1,111.6 L54.3,111.7 L54.5,111.6 L54.5,111.5 L54.6,111.4 L54.6,111.3 L54.8,111.3 L54.9,111.3 L54.9,111.2 L55.2,111.3 L55.2,111.2 L55.6,111.4 L55.7,111.5 L55.7,111.4 L56,111.6 L56.1,111.7 L56.2,111.7 L56.3,111.7 L56.2,111.6 L56.2,111.6 L56.7,112 L56.6,111.9 L56.7,112 L56.7,112 L56.6,111.9 L56.5,111.9 L57,112.4 L56.7,112.1 L57.1,112.5 L56.8,112.3 L56.8,112.4 L56.7,112.3 L56.7,112.4 L57,112.8 L57.1,113 L56.9,112.9 L56.8,112.8 L56.7,112.9 L56.7,113 L56.8,113.2 L56.8,113.3 L56.4,113.1 L56.5,113.3 L56.5,113.5 L56.1,113.3 L56.2,113.5 L55.8,113.3 L55.7,113.4 L56,113.9 L55.9,113.9 L55.3,113.5 L55.4,113.7 L55.6,114.1 L55.2,113.8 L55.3,114 L55.2,114 L55,113.9 L54.8,113.8 L54.5,113.6 L54.8,113.9 L54.6,113.8 L54.2,113.4 L54.4,113.7 L53.9,113.2 L53.9,113.2 L54.2,113.5 L54.1,113.4 L53.6,112.9 L53.6,113 L53.5,112.8 L53.8,113 L53.8,113 L53.6,112.8 L53.5,112.6 L53.4,112.3 L53.4,112.3 L53.7,112.5 L53.5,112.1 L53.5,112 L54,112.3Z" fill="none" stroke="#505050" stroke-width="0.42"/>
<path d="M41.9,91.2 C44.3,88.9 51.2,90.3 55.3,90.2 C59.5,90.2 63.6,90.3 66.8,90.9 C70.1,91.5 72.6,92.6 74.9,93.7 C77.2,94.8 79.2,96.3 80.7,97.6 C82.2,99.0 83.8,100.5 84.2,101.8 C84.5,103.0 83.3,103.5 83.0,105.0 C82.7,106.5 82.6,108.9 82.1,110.8 C81.6,112.7 81.0,114.8 80.0,116.3 C79.0,117.8 78.8,118.9 76.1,120.0 C73.3,121.1 68.4,122.3 63.4,122.9 C58.4,123.4 49.7,123.7 46.1,123.2 C42.5,122.7 42.5,123.2 41.7,120.0 C40.9,116.8 41.2,108.7 41.2,103.8 C41.3,99.0 39.6,93.4 41.9,91.2 Z" fill="none" stroke="#333" stroke-width="0.7"/>
<path d="M53.6,83.1 C53.7,82.0 53.9,80.5 55.3,79.6 C56.7,78.7 59.3,78.3 62.2,77.9 C65.1,77.5 69.3,77.4 72.6,77.3 C75.9,77.2 79.4,77.5 81.8,77.1 C84.2,76.7 85.9,76.0 87.0,75.0 C88.2,74.0 88.0,71.8 88.8,71.0 C89.5,70.1 90.8,69.5 91.7,69.8 C92.5,70.1 93.4,71.1 93.6,72.7 C93.9,74.3 93.7,78.0 93.2,79.6 C92.6,81.2 92.4,81.8 90.5,82.5 C88.6,83.2 84.8,83.7 81.8,84.0 C78.9,84.3 76.1,84.1 72.6,84.5 C69.2,84.8 64.1,85.8 61.1,86.1 C58.1,86.3 56.0,86.3 54.7,85.8 C53.5,85.3 53.5,84.1 53.6,83.1 Z" fill="#d8d8d8" stroke="none" stroke-width="1"/>
<path d="M57.6,83.1 L57.6,82.5 L57.5,81.9 L57.8,81.5 L57.8,80.8 L58.5,80.7 L58.6,79.9 L59.5,79.8 L60.3,79.6 L60.9,79.1 L62,78.9 L63,78.7 L64.2,78.6 L65.6,78.6 L66.8,78.4 L68.5,78.6 L70,78.6 L71.4,78.4 L72.6,78.2 L73.7,78 L75.4,78.3 L76.6,78.2 L77.9,78.2 L79,78.2 L80.2,78.2 L81.1,78 L81.9,77.8 L82.6,77.5 L83.1,77.1 L83.8,76.9 L84,76.2 L84.6,76 L84.6,75.2 L85.2,74.9 L85.2,74.2 L85.4,73.6 L85.4,73 L85.8,72.7 L86.5,72.7 L86.6,72.3 L87,72 L87.4,72 L87.9,72.3 L88.1,72.2 L88.8,72.9 L88.9,73 L89,73.3 L89.2,73.9 L89.4,74.5 L89.7,75.5 L89.4,76.1 L89.4,77.2 L89.3,78.2 L89.4,79.4 L89.3,80.2 L88.7,80.5 L88.7,81.1 L88.4,81.5 L88.2,81.9 L87.8,82.3 L86.7,82.2 L85.9,82.6 L85.1,83 L83.7,83 L82.4,83.1 L81.5,83.6 L80,83.6 L78.7,83.5 L77.6,83.6 L76.4,83.7 L75,83.6 L74,83.9 L72.3,83.7 L70.9,84 L69.7,84.6 L67.9,84.7 L66.2,84.8 L64.9,85.3 L63.4,85.2 L62.4,85.5 L61.2,85.3 L60.6,85.6 L59.6,85.4 L58.8,85.1 L58.4,85.1 L58,84.9 L57.6,84.5 L57.6,84.3 L57.6,83.9 L57.5,83.5Z" fill="none" stroke="#5e5e5e" stroke-width="0.42"/>
<path d="M61.4,82.9 L61.3,82.4 L61.1,81.7 L61.1,81.3 L61.6,81.2 L61.7,80.7 L62.2,80.5 L63,80.5 L63.5,80.3 L64.1,80 L64.5,79.6 L65.3,79.4 L66.2,79.3 L67.6,79.7 L68.1,79.1 L69.3,79.1 L70.6,79.3 L71.6,79.3 L72.8,79.4 L73.7,79.2 L74.8,79.3 L75.6,79.1 L76.6,79.2 L77.3,79 L77.9,78.7 L79,79 L79.2,78.5 L79.8,78.3 L80.4,78.2 L80.8,77.9 L81.5,77.9 L81.5,77.3 L81.9,77 L81.9,76.4 L81.9,75.9 L82.2,75.6 L82.6,75.6 L82.8,75.2 L82.9,74.9 L83.3,74.8 L83.4,74.5 L83.7,74.5 L84.1,74.7 L84.5,74.9 L84.4,74.8 L85.1,75.5 L84.8,75.4 L85,75.8 L85.3,76.5 L85.1,76.9 L85.6,78 L85.2,78.4 L85.1,79.1 L85.2,79.8 L85.2,80.6 L84.9,80.9 L84.7,81.3 L84.5,81.6 L84,81.6 L83.6,81.9 L83.3,82.3 L82.6,82.4 L82,82.8 L80.9,82.7 L80.1,82.9 L79.2,83.1 L78.5,83.4 L77.3,83.2 L76.5,83.4 L75.7,83.5 L74.7,83.5 L73.6,83.5 L72.5,83.5 L71.2,83.4 L70.4,84 L69.2,84.1 L67.8,84.1 L66.7,84.2 L65.9,84.6 L65,84.6 L64,84.4 L63.5,84.6 L63,84.6 L62.5,84.6 L62,84.3 L61.4,83.9 L61.2,83.7 L61.4,83.7 L61.3,83.4 L60.9,82.8Z" fill="none" stroke="#5e5e5e" stroke-width="0.42"/>
<path d="M64.9,82.3 L65,82.1 L64.8,81.7 L65,81.5 L65.5,81.6 L65.6,81.3 L65.8,81 L66.2,81 L66.5,80.7 L66.7,80.4 L67.6,80.7 L67.9,80.4 L68.6,80.3 L69.1,80.2 L70,80.3 L70.7,80.4 L70.9,79.9 L71.9,80.2 L72.6,80.1 L73.3,80.1 L74.1,80.2 L74.4,79.9 L75.3,80.2 L75.8,80 L76.3,80 L76.9,80 L77.2,79.8 L77.6,79.7 L78,79.6 L78.2,79.3 L78.5,79.2 L78.6,78.9 L78.9,78.7 L78.9,78.3 L79,78 L79.1,77.7 L79.5,77.8 L79.5,77.4 L79.8,77.5 L79.6,77 L80.1,77.3 L80.2,77.2 L80.4,77.2 L80.6,77.4 L80.5,77.2 L80.9,77.6 L81.1,78 L81.1,78.2 L81.3,78.6 L81,78.7 L81.2,79.2 L81,79.5 L81,79.9 L80.9,80.2 L80.8,80.6 L80.8,81 L80.5,81.2 L80.6,81.7 L80,81.6 L80.1,82.1 L79.4,82 L79.3,82.4 L78.9,82.5 L78.4,82.7 L77.6,82.6 L76.9,82.5 L76.3,82.6 L76,83 L75,82.6 L74.3,82.7 L73.6,82.7 L73.3,83.1 L72.4,83 L72,83.4 L70.9,83.1 L70.3,83.4 L69.4,83.3 L69.1,83.7 L68.2,83.5 L67.8,83.8 L67.2,83.7 L66.6,83.6 L66,83.4 L65.9,83.6 L65.4,83.2 L65.4,83.3 L65.3,83.3 L64.8,82.8 L65.2,83 L64.9,82.6Z" fill="none" stroke="#5e5e5e" stroke-width="0.42"/>
<path d="M68.6,82 L68.8,82.1 L68.7,81.9 L68.6,81.6 L69,81.8 L69.3,81.8 L69.4,81.7 L69.3,81.4 L69.3,81.1 L69.8,81.3 L69.8,81 L70,80.9 L70.7,81.2 L71,81.2 L71.1,80.9 L71.5,81 L72.1,81.2 L72.3,81.1 L72.4,80.8 L72.9,80.9 L73.4,81.1 L73.4,80.7 L73.8,80.9 L73.9,80.6 L74.5,80.9 L74.7,80.9 L74.8,80.6 L75,80.6 L75.4,80.7 L75.4,80.5 L75.8,80.6 L75.8,80.4 L75.5,79.9 L76,80.3 L75.9,79.9 L75.9,79.8 L76.2,79.9 L76.2,79.7 L76.4,79.7 L76.3,79.5 L76.6,79.7 L76.7,79.7 L76.5,79.4 L76.6,79.5 L76.5,79.4 L76.6,79.5 L76.6,79.6 L76.9,80 L77,80.3 L76.8,80.1 L77.1,80.6 L76.8,80.5 L77.1,81.1 L77,81.1 L76.6,81 L77.1,81.7 L76.8,81.6 L76.4,81.5 L76.3,81.6 L76.3,81.9 L76.2,82.1 L76.1,82.3 L75.5,81.9 L75.7,82.4 L75.1,82.2 L74.9,82.3 L74.5,82.3 L74.4,82.5 L74,82.4 L73.7,82.5 L73.5,82.7 L73,82.6 L72.4,82.4 L72.2,82.6 L71.7,82.5 L71.5,82.7 L70.9,82.5 L70.8,82.8 L70.5,82.9 L70.1,82.8 L70,83 L69.5,82.7 L69.5,82.9 L69,82.5 L69,82.7 L68.8,82.5 L68.6,82.3 L68.8,82.4 L68.6,82.2 L68.8,82.3Z" fill="none" stroke="#5e5e5e" stroke-width="0.42"/>
<path d="M53.6,83.1 C53.7,82.0 53.9,80.5 55.3,79.6 C56.7,78.7 59.3,78.3 62.2,77.9 C65.1,77.5 69.3,77.4 72.6,77.3 C75.9,77.2 79.4,77.5 81.8,77.1 C84.2,76.7 85.9,76.0 87.0,75.0 C88.2,74.0 88.0,71.8 88.8,71.0 C89.5,70.1 90.8,69.5 91.7,69.8 C92.5,70.1 93.4,71.1 93.6,72.7 C93.9,74.3 93.7,78.0 93.2,79.6 C92.6,81.2 92.4,81.8 90.5,82.5 C88.6,83.2 84.8,83.7 81.8,84.0 C78.9,84.3 76.1,84.1 72.6,84.5 C69.2,84.8 64.1,85.8 61.1,86.1 C58.1,86.3 56.0,86.3 54.7,85.8 C53.5,85.3 53.5,84.1 53.6,83.1 Z" fill="none" stroke="#333" stroke-width="0.7"/>
</g>
<line x1="82.10" y1="51.20" x2="82.10" y2="124.50" stroke="#b24d5c" stroke-width="0.9"/>
<line x1="40.60" y1="88.90" x2="115.00" y2="88.90" stroke="#b24d5c" stroke-width="0.9"/>
<rect x="40.60" y="51.20" width="74.40" height="73.30" fill="none" stroke="#111" stroke-width="1.1"/>
<text x="42.90" y="59.00" font-size="7.44" fill="#111" textLength="8.62" lengthAdjust="spacingAndGlyphs" stroke="#111" stroke-width="0.15">4.1</text>
<text x="112.70" y="59.00" font-size="7.44" fill="#111" text-anchor="end" textLength="8.62" lengthAdjust="spacingAndGlyphs" stroke="#111" stroke-width="0.15">2.1</text>
<line x1="37.80" y1="57.40" x2="40.60" y2="57.40" stroke="#111" stroke-width="0.9"/>
<line x1="39.20" y1="69.21" x2="40.60" y2="69.21" stroke="#111" stroke-width="0.6"/>
<line x1="39.20" y1="66.24" x2="40.60" y2="66.24" stroke="#111" stroke-width="0.6"/>
<line x1="39.20" y1="64.13" x2="40.60" y2="64.13" stroke="#111" stroke-width="0.6"/>
<line x1="39.20" y1="62.49" x2="40.60" y2="62.49" stroke="#111" stroke-width="0.6"/>
<line x1="39.20" y1="61.15" x2="40.60" y2="61.15" stroke="#111" stroke-width="0.6"/>
<line x1="39.20" y1="60.02" x2="40.60" y2="60.02" stroke="#111" stroke-width="0.6"/>
<line x1="39.20" y1="59.04" x2="40.60" y2="59.04" stroke="#111" stroke-width="0.6"/>
<line x1="39.20" y1="58.17" x2="40.60" y2="58.17" stroke="#111" stroke-width="0.6"/>
<line x1="37.80" y1="74.30" x2="40.60" y2="74.30" stroke="#111" stroke-width="0.9"/>
<line x1="39.20" y1="86.11" x2="40.60" y2="86.11" stroke="#111" stroke-width="0.6"/>
<line x1="39.20" y1="83.14" x2="40.60" y2="83.14" stroke="#111" stroke-width="0.6"/>
<line x1="39.20" y1="81.03" x2="40.60" y2="81.03" stroke="#111" stroke-width="0.6"/>
<line x1="39.20" y1="79.39" x2="40.60" y2="79.39" stroke="#111" stroke-width="0.6"/>
<line x1="39.20" y1="78.05" x2="40.60" y2="78.05" stroke="#111" stroke-width="0.6"/>
<line x1="39.20" y1="76.92" x2="40.60" y2="76.92" stroke="#111" stroke-width="0.6"/>
<line x1="39.20" y1="75.94" x2="40.60" y2="75.94" stroke="#111" stroke-width="0.6"/>
<line x1="39.20" y1="75.07" x2="40.60" y2="75.07" stroke="#111" stroke-width="0.6"/>
<line x1="37.80" y1="91.20" x2="40.60" y2="91.20" stroke="#111" stroke-width="0.9"/>
<line x1="39.20" y1="103.01" x2="40.60" y2="103.01" stroke="#111" stroke-width="0.6"/>
<line x1="39.20" y1="100.04" x2="40.60" y2="100.04" stroke="#111" stroke-width="0.6"/>
<line x1="39.20" y1="97.93" x2="40.60" y2="97.93" stroke="#111" stroke-width="0.6"/>
<line x1="39.20" y1="96.29" x2="40.60" y2="96.29" stroke="#111" stroke-width="0.6"/>
<line x1="39.20" y1="94.95" x2="40.60" y2="94.95" stroke="#111" stroke-width="0.6"/>
<line x1="39.20" y1="93.82" x2="40.60" y2="93.82" stroke="#111" stroke-width="0.6"/>
<line x1="39.20" y1="92.84" x2="40.60" y2="92.84" stroke="#111" stroke-width="0.6"/>
<line x1="39.20" y1="91.97" x2="40.60" y2="91.97" stroke="#111" stroke-width="0.6"/>
<line x1="37.80" y1="108.10" x2="40.60" y2="108.10" stroke="#111" stroke-width="0.9"/>
<line x1="39.20" y1="119.91" x2="40.60" y2="119.91" stroke="#111" stroke-width="0.6"/>
<line x1="39.20" y1="116.94" x2="40.60" y2="116.94" stroke="#111" stroke-width="0.6"/>
<line x1="39.20" y1="114.83" x2="40.60" y2="114.83" stroke="#111" stroke-width="0.6"/>
<line x1="39.20" y1="113.19" x2="40.60" y2="113.19" stroke="#111" stroke-width="0.6"/>
<line x1="39.20" y1="111.85" x2="40.60" y2="111.85" stroke="#111" stroke-width="0.6"/>
<line x1="39.20" y1="110.72" x2="40.60" y2="110.72" stroke="#111" stroke-width="0.6"/>
<line x1="39.20" y1="109.74" x2="40.60" y2="109.74" stroke="#111" stroke-width="0.6"/>
<line x1="39.20" y1="108.87" x2="40.60" y2="108.87" stroke="#111" stroke-width="0.6"/>
<line x1="37.80" y1="116.80" x2="40.60" y2="116.80" stroke="#111" stroke-width="0.9"/>
<line x1="39.20" y1="119.80" x2="40.60" y2="119.80" stroke="#111" stroke-width="0.6"/>
<line x1="39.20" y1="121.80" x2="40.60" y2="121.80" stroke="#111" stroke-width="0.6"/>
<text x="26.00" y="60.90" font-size="7.56" fill="#111" textLength="7.20" lengthAdjust="spacingAndGlyphs" stroke="#111" stroke-width="0.15">10</text>
<text x="33.70" y="58.20" font-size="5.52" fill="#111" textLength="2.50" lengthAdjust="spacingAndGlyphs" stroke="#111" stroke-width="0.15">5</text>
<text x="26.00" y="77.80" font-size="7.56" fill="#111" textLength="7.20" lengthAdjust="spacingAndGlyphs" stroke="#111" stroke-width="0.15">10</text>
<text x="33.70" y="75.10" font-size="5.52" fill="#111" textLength="2.50" lengthAdjust="spacingAndGlyphs" stroke="#111" stroke-width="0.15">4</text>
<text x="26.00" y="94.70" font-size="7.56" fill="#111" textLength="7.20" lengthAdjust="spacingAndGlyphs" stroke="#111" stroke-width="0.15">10</text>
<text x="33.70" y="92.00" font-size="5.52" fill="#111" textLength="2.50" lengthAdjust="spacingAndGlyphs" stroke="#111" stroke-width="0.15">3</text>
<text x="26.00" y="111.60" font-size="7.56" fill="#111" textLength="7.20" lengthAdjust="spacingAndGlyphs" stroke="#111" stroke-width="0.15">10</text>
<text x="33.70" y="108.90" font-size="5.52" fill="#111" textLength="2.50" lengthAdjust="spacingAndGlyphs" stroke="#111" stroke-width="0.15">2</text>
<text x="34.60" y="119.60" font-size="7.56" fill="#111" text-anchor="end" stroke="#111" stroke-width="0.15">0</text>
<line x1="57.40" y1="124.50" x2="57.40" y2="127.30" stroke="#111" stroke-width="0.9"/>
<line x1="45.59" y1="124.50" x2="45.59" y2="125.90" stroke="#111" stroke-width="0.6"/>
<line x1="48.56" y1="124.50" x2="48.56" y2="125.90" stroke="#111" stroke-width="0.6"/>
<line x1="50.67" y1="124.50" x2="50.67" y2="125.90" stroke="#111" stroke-width="0.6"/>
<line x1="52.31" y1="124.50" x2="52.31" y2="125.90" stroke="#111" stroke-width="0.6"/>
<line x1="53.65" y1="124.50" x2="53.65" y2="125.90" stroke="#111" stroke-width="0.6"/>
<line x1="54.78" y1="124.50" x2="54.78" y2="125.90" stroke="#111" stroke-width="0.6"/>
<line x1="55.76" y1="124.50" x2="55.76" y2="125.90" stroke="#111" stroke-width="0.6"/>
<line x1="56.63" y1="124.50" x2="56.63" y2="125.90" stroke="#111" stroke-width="0.6"/>
<line x1="74.30" y1="124.50" x2="74.30" y2="127.30" stroke="#111" stroke-width="0.9"/>
<line x1="62.49" y1="124.50" x2="62.49" y2="125.90" stroke="#111" stroke-width="0.6"/>
<line x1="65.46" y1="124.50" x2="65.46" y2="125.90" stroke="#111" stroke-width="0.6"/>
<line x1="67.57" y1="124.50" x2="67.57" y2="125.90" stroke="#111" stroke-width="0.6"/>
<line x1="69.21" y1="124.50" x2="69.21" y2="125.90" stroke="#111" stroke-width="0.6"/>
<line x1="70.55" y1="124.50" x2="70.55" y2="125.90" stroke="#111" stroke-width="0.6"/>
<line x1="71.68" y1="124.50" x2="71.68" y2="125.90" stroke="#111" stroke-width="0.6"/>
<line x1="72.66" y1="124.50" x2="72.66" y2="125.90" stroke="#111" stroke-width="0.6"/>
<line x1="73.53" y1="124.50" x2="73.53" y2="125.90" stroke="#111" stroke-width="0.6"/>
<line x1="91.20" y1="124.50" x2="91.20" y2="127.30" stroke="#111" stroke-width="0.9"/>
<line x1="79.39" y1="124.50" x2="79.39" y2="125.90" stroke="#111" stroke-width="0.6"/>
<line x1="82.36" y1="124.50" x2="82.36" y2="125.90" stroke="#111" stroke-width="0.6"/>
<line x1="84.47" y1="124.50" x2="84.47" y2="125.90" stroke="#111" stroke-width="0.6"/>
<line x1="86.11" y1="124.50" x2="86.11" y2="125.90" stroke="#111" stroke-width="0.6"/>
<line x1="87.45" y1="124.50" x2="87.45" y2="125.90" stroke="#111" stroke-width="0.6"/>
<line x1="88.58" y1="124.50" x2="88.58" y2="125.90" stroke="#111" stroke-width="0.6"/>
<line x1="89.56" y1="124.50" x2="89.56" y2="125.90" stroke="#111" stroke-width="0.6"/>
<line x1="90.43" y1="124.50" x2="90.43" y2="125.90" stroke="#111" stroke-width="0.6"/>
<line x1="108.10" y1="124.50" x2="108.10" y2="127.30" stroke="#111" stroke-width="0.9"/>
<line x1="96.29" y1="124.50" x2="96.29" y2="125.90" stroke="#111" stroke-width="0.6"/>
<line x1="99.26" y1="124.50" x2="99.26" y2="125.90" stroke="#111" stroke-width="0.6"/>
<line x1="101.37" y1="124.50" x2="101.37" y2="125.90" stroke="#111" stroke-width="0.6"/>
<line x1="103.01" y1="124.50" x2="103.01" y2="125.90" stroke="#111" stroke-width="0.6"/>
<line x1="104.35" y1="124.50" x2="104.35" y2="125.90" stroke="#111" stroke-width="0.6"/>
<line x1="105.48" y1="124.50" x2="105.48" y2="125.90" stroke="#111" stroke-width="0.6"/>
<line x1="106.46" y1="124.50" x2="106.46" y2="125.90" stroke="#111" stroke-width="0.6"/>
<line x1="107.33" y1="124.50" x2="107.33" y2="125.90" stroke="#111" stroke-width="0.6"/>
<line x1="50.60" y1="124.50" x2="50.60" y2="127.30" stroke="#111" stroke-width="0.9"/>
<line x1="47.60" y1="124.50" x2="47.60" y2="125.90" stroke="#111" stroke-width="0.6"/>
<line x1="45.60" y1="124.50" x2="45.60" y2="125.90" stroke="#111" stroke-width="0.6"/>
<line x1="53.60" y1="124.50" x2="53.60" y2="125.90" stroke="#111" stroke-width="0.6"/>
<text x="49.00" y="137.70" font-size="7.56" fill="#111" stroke="#111" stroke-width="0.15">0</text>
<text x="53.00" y="137.70" font-size="7.56" fill="#111" textLength="7.00" lengthAdjust="spacingAndGlyphs" stroke="#111" stroke-width="0.15">10</text>
<text x="60.50" y="135.00" font-size="5.52" fill="#111" textLength="2.50" lengthAdjust="spacingAndGlyphs" stroke="#111" stroke-width="0.15">2</text>
<text x="69.00" y="137.70" font-size="7.56" fill="#111" textLength="7.00" lengthAdjust="spacingAndGlyphs" stroke="#111" stroke-width="0.15">10</text>
<text x="76.50" y="135.00" font-size="5.52" fill="#111" textLength="2.50" lengthAdjust="spacingAndGlyphs" stroke="#111" stroke-width="0.15">3</text>
<text x="85.90" y="137.70" font-size="7.56" fill="#111" textLength="7.00" lengthAdjust="spacingAndGlyphs" stroke="#111" stroke-width="0.15">10</text>
<text x="93.40" y="135.00" font-size="5.52" fill="#111" textLength="2.50" lengthAdjust="spacingAndGlyphs" stroke="#111" stroke-width="0.15">4</text>
<text x="102.80" y="137.70" font-size="7.56" fill="#111" textLength="7.00" lengthAdjust="spacingAndGlyphs" stroke="#111" stroke-width="0.15">10</text>
<text x="110.30" y="135.00" font-size="5.52" fill="#111" textLength="2.50" lengthAdjust="spacingAndGlyphs" stroke="#111" stroke-width="0.15">5</text>
</g>
<g>
<clipPath id="cp23"><rect x="136.4" y="51.4" width="74.69999999999999" height="73.0"/></clipPath>
<g clip-path="url(#cp23)">
<path d="M181.7,94.9h.6v.6h-.6zM179.5,104.9h.6v.6h-.6zM178,94.4h.6v.6h-.6zM140.8,89.8h.6v.6h-.6zM146.4,87.6h.6v.6h-.6zM142.4,90.6h.6v.6h-.6zM172.1,88h.6v.6h-.6zM180,105.4h.6v.6h-.6zM179.1,122.1h.6v.6h-.6zM181,122.6h.6v.6h-.6zM168,85.8h.6v.6h-.6zM183.4,121.9h.6v.6h-.6zM178.4,96.6h.6v.6h-.6zM160,91h.6v.6h-.6zM183.4,111.7h.6v.6h-.6zM164.4,87h.6v.6h-.6zM183.7,114.1h.6v.6h-.6zM182.4,100.3h.6v.6h-.6zM182.9,103.4h.6v.6h-.6zM158.5,84h.6v.6h-.6zM182.1,121.1h.6v.6h-.6zM155.4,90.7h.6v.6h-.6zM155.7,88h.6v.6h-.6zM184,114.9h.6v.6h-.6zM182.2,115.9h.6v.6h-.6zM168.6,91.5h.6v.6h-.6zM182.3,110.2h.6v.6h-.6zM170.5,86.3h.6v.6h-.6zM138.9,89.2h.6v.6h-.6zM180.1,118.5h.6v.6h-.6zM185.2,119.1h.6v.6h-.6zM147.7,92.5h.6v.6h-.6zM182.7,100.7h.6v.6h-.6zM187.1,122.3h.6v.6h-.6zM185.6,112.5h.6v.6h-.6zM180.3,94.5h.6v.6h-.6zM181,99.3h.6v.6h-.6zM186,111.5h.6v.6h-.6zM176.6,89.1h.6v.6h-.6zM181.9,115.1h.6v.6h-.6zM163.8,91.1h.6v.6h-.6zM181.1,101.7h.6v.6h-.6zM174.6,95h.6v.6h-.6zM177.8,95.5h.6v.6h-.6zM180.9,101.9h.6v.6h-.6zM177,89.9h.6v.6h-.6zM180.6,95.5h.6v.6h-.6zM184.5,124.9h.6v.6h-.6zM187.1,107.2h.6v.6h-.6zM162.7,88.8h.6v.6h-.6zM145.8,90.7h.6v.6h-.6zM183.3,120.8h.6v.6h-.6zM134,105.7h.6v.6h-.6zM161.8,85.6h.6v.6h-.6zM157.9,88.8h.6v.6h-.6zM136.4,85.1h.6v.6h-.6zM176.8,88.8h.6v.6h-.6zM150.7,87.7h.6v.6h-.6zM178.5,95h.6v.6h-.6zM171.1,89.9h.6v.6h-.6zM177.8,119h.6v.6h-.6zM162.5,121.4h.6v.6h-.6zM140.9,109.5h.6v.6h-.6zM172.4,127.4h.6v.6h-.6zM145.3,91.2h.6v.6h-.6zM157.5,127h.6v.6h-.6zM136.4,87.5h.6v.6h-.6zM168.2,89.3h.6v.6h-.6zM178,98.1h.6v.6h-.6zM177.1,102h.6v.6h-.6zM180.1,117.2h.6v.6h-.6zM175.1,88.2h.6v.6h-.6zM182.8,106.1h.6v.6h-.6zM164.5,124.8h.6v.6h-.6zM185.3,100.4h.6v.6h-.6zM141.2,123.3h.6v.6h-.6zM165,86h.6v.6h-.6zM162.4,89.9h.6v.6h-.6zM145.2,124.9h.6v.6h-.6zM181.8,118.1h.6v.6h-.6zM179.4,101.5h.6v.6h-.6zM178.1,101.4h.6v.6h-.6zM177.1,89.7h.6v.6h-.6zM156.5,123.8h.6v.6h-.6zM139.2,102h.6v.6h-.6zM136.9,92.7h.6v.6h-.6zM186.6,123.5h.6v.6h-.6zM136.3,108h.6v.6h-.6zM170.3,87.9h.6v.6h-.6zM185.7,122h.6v.6h-.6zM152,126.5h.6v.6h-.6zM167.2,88.8h.6v.6h-.6zM170.7,86.8h.6v.6h-.6zM179.8,103.2h.6v.6h-.6zM152.1,93.1h.6v.6h-.6zM183.4,96.1h.6v.6h-.6zM178.7,99.3h.6v.6h-.6zM174.8,89.6h.6v.6h-.6zM174,88.1h.6v.6h-.6zM161.4,84.9h.6v.6h-.6zM181.6,122.5h.6v.6h-.6zM166.2,87.7h.6v.6h-.6zM175.2,93.2h.6v.6h-.6zM186.9,122h.6v.6h-.6zM166.2,88.6h.6v.6h-.6zM162.6,124.2h.6v.6h-.6zM165.7,91.3h.6v.6h-.6zM183.7,105h.6v.6h-.6zM167.5,86.6h.6v.6h-.6zM164.1,87.1h.6v.6h-.6zM184.2,116.9h.6v.6h-.6zM140.9,88.7h.6v.6h-.6zM174.4,87.2h.6v.6h-.6zM168.1,86.2h.6v.6h-.6zM159.6,87h.6v.6h-.6zM132.5,122.6h.6v.6h-.6zM159.9,86.3h.6v.6h-.6zM137.8,116.7h.6v.6h-.6zM158.4,123.3h.6v.6h-.6zM137.3,122.3h.6v.6h-.6zM163.5,87.6h.6v.6h-.6zM141.2,123.2h.6v.6h-.6zM183.3,113.8h.6v.6h-.6zM181.9,99.9h.6v.6h-.6zM176.2,96.6h.6v.6h-.6zM187.1,107.1h.6v.6h-.6zM148.1,125.3h.6v.6h-.6zM149.7,96.7h.6v.6h-.6zM184.5,102.6h.6v.6h-.6zM157.1,130.4h.6v.6h-.6zM173.5,83.9h.6v.6h-.6zM167.4,92.1h.6v.6h-.6zM178.8,100.7h.6v.6h-.6zM134.3,124.3h.6v.6h-.6zM136.8,121.1h.6v.6h-.6zM164.8,89.6h.6v.6h-.6zM165.8,86.3h.6v.6h-.6zM183.5,119.2h.6v.6h-.6zM180.5,120.9h.6v.6h-.6zM181.2,126.5h.6v.6h-.6zM145,120h.6v.6h-.6zM183,110h.6v.6h-.6zM180.3,109.5h.6v.6h-.6zM161.9,129.6h.6v.6h-.6zM148.2,122.7h.6v.6h-.6zM181.7,124.4h.6v.6h-.6zM152.8,92.6h.6v.6h-.6zM173.7,88.4h.6v.6h-.6zM173.2,91.1h.6v.6h-.6zM157.1,92.3h.6v.6h-.6zM177.6,89.4h.6v.6h-.6zM170.9,86h.6v.6h-.6zM182.2,101.2h.6v.6h-.6zM153.7,89.1h.6v.6h-.6zM133.1,93.1h.6v.6h-.6zM145.8,86.9h.6v.6h-.6zM147.7,123.5h.6v.6h-.6zM152.9,90.5h.6v.6h-.6zM178.3,88.8h.6v.6h-.6zM161.7,89.3h.6v.6h-.6zM183.7,109.6h.6v.6h-.6zM148.6,91.7h.6v.6h-.6zM183.6,120h.6v.6h-.6zM172.8,88.8h.6v.6h-.6zM181.1,114.1h.6v.6h-.6zM172.8,90.6h.6v.6h-.6zM133.4,93.5h.6v.6h-.6zM136.1,112.2h.6v.6h-.6zM175.7,89.9h.6v.6h-.6zM176.7,94.3h.6v.6h-.6zM175.6,88.7h.6v.6h-.6zM174.6,90h.6v.6h-.6zM180.9,123.6h.6v.6h-.6zM163.1,87.5h.6v.6h-.6zM182.6,101.6h.6v.6h-.6zM153.7,89.4h.6v.6h-.6zM168.2,89.3h.6v.6h-.6zM186.9,113h.6v.6h-.6zM183.1,106.9h.6v.6h-.6zM173,91.4h.6v.6h-.6zM180.1,94.2h.6v.6h-.6zM181.7,118.6h.6v.6h-.6zM180.3,120.8h.6v.6h-.6zM155.5,92.9h.6v.6h-.6zM181,123.8h.6v.6h-.6zM180.3,97.1h.6v.6h-.6zM169.7,87.5h.6v.6h-.6zM185.3,123.8h.6v.6h-.6zM151.3,90.9h.6v.6h-.6zM182.9,115.7h.6v.6h-.6zM172.7,87.4h.6v.6h-.6zM179.5,97.1h.6v.6h-.6zM135.4,116.1h.6v.6h-.6zM184,116.7h.6v.6h-.6zM133.2,108.5h.6v.6h-.6zM179.8,120.8h.6v.6h-.6zM179.7,122.5h.6v.6h-.6zM165.4,88.9h.6v.6h-.6zM162.7,88.6h.6v.6h-.6zM183.6,120.9h.6v.6h-.6zM179.6,115.4h.6v.6h-.6zM179.1,120.6h.6v.6h-.6zM178.6,89h.6v.6h-.6zM172.3,87.8h.6v.6h-.6zM167,86.9h.6v.6h-.6zM179.3,100.4h.6v.6h-.6zM191.2,112.4h.6v.6h-.6zM172.3,88.7h.6v.6h-.6zM176.3,92.1h.6v.6h-.6zM177.3,89.7h.6v.6h-.6zM174.4,93.3h.6v.6h-.6zM181.8,97.8h.6v.6h-.6zM159.2,124.6h.6v.6h-.6zM176.5,86.9h.6v.6h-.6zM184,97.8h.6v.6h-.6zM158,86h.6v.6h-.6zM179.8,111.3h.6v.6h-.6zM179.5,122.9h.6v.6h-.6zM180.1,98h.6v.6h-.6zM182.9,121.5h.6v.6h-.6zM135.8,97.4h.6v.6h-.6zM159.3,88.4h.6v.6h-.6zM181.8,116.4h.6v.6h-.6zM181.7,108.4h.6v.6h-.6zM157.2,87.3h.6v.6h-.6zM181.6,118.6h.6v.6h-.6zM173.1,89.9h.6v.6h-.6zM179.6,116.2h.6v.6h-.6zM138.7,88.5h.6v.6h-.6zM179.3,116.1h.6v.6h-.6zM167.6,129.6h.6v.6h-.6zM173,122.3h.6v.6h-.6zM138.8,120.9h.6v.6h-.6zM183.8,100.9h.6v.6h-.6zM179.9,93.4h.6v.6h-.6zM179.7,91.9h.6v.6h-.6zM142,95.3h.6v.6h-.6zM135.3,110.4h.6v.6h-.6zM186.7,121.3h.6v.6h-.6zM166.3,91.7h.6v.6h-.6zM179.1,120.4h.6v.6h-.6zM181.1,101.3h.6v.6h-.6zM177.1,91h.6v.6h-.6zM179.1,128.7h.6v.6h-.6zM180.4,95.1h.6v.6h-.6zM168.3,86.4h.6v.6h-.6zM183.2,126h.6v.6h-.6zM171.5,86.1h.6v.6h-.6zM175,91h.6v.6h-.6zM180.7,125.6h.6v.6h-.6zM181.5,103.2h.6v.6h-.6zM156.5,87.6h.6v.6h-.6zM162.7,87.9h.6v.6h-.6zM182.6,105.8h.6v.6h-.6zM178,85.6h.6v.6h-.6zM181.4,107.2h.6v.6h-.6zM179.6,123.9h.6v.6h-.6zM181.2,97.1h.6v.6h-.6zM155.4,94h.6v.6h-.6zM139.1,111.6h.6v.6h-.6zM183.3,112.9h.6v.6h-.6zM174.5,91.1h.6v.6h-.6zM182.2,97.8h.6v.6h-.6zM165.4,87h.6v.6h-.6zM178.1,124.3h.6v.6h-.6zM183.5,108.6h.6v.6h-.6zM187.7,118.8h.6v.6h-.6zM163,88.2h.6v.6h-.6zM166.2,89.4h.6v.6h-.6zM171.8,124.2h.6v.6h-.6zM165.7,88.6h.6v.6h-.6zM136.2,122.8h.6v.6h-.6zM135.3,102.3h.6v.6h-.6zM175.8,92.9h.6v.6h-.6zM177.1,121.5h.6v.6h-.6zM166.2,92.2h.6v.6h-.6zM167.1,87.8h.6v.6h-.6zM167,125.7h.6v.6h-.6zM177.8,95.1h.6v.6h-.6zM184.9,103.7h.6v.6h-.6zM182.1,95h.6v.6h-.6zM180.6,95h.6v.6h-.6zM179.7,94.4h.6v.6h-.6zM174.7,90.4h.6v.6h-.6zM142.2,91.6h.6v.6h-.6zM178.3,123.2h.6v.6h-.6zM184.9,104.2h.6v.6h-.6zM134.4,122.9h.6v.6h-.6zM138,113.6h.6v.6h-.6zM157,123.4h.6v.6h-.6zM177.9,98.4h.6v.6h-.6zM180.7,102.8h.6v.6h-.6zM185.9,113.4h.6v.6h-.6zM171.4,87.1h.6v.6h-.6zM182.5,106.5h.6v.6h-.6zM138.8,98.9h.6v.6h-.6zM172.1,85.5h.6v.6h-.6zM184.3,122.4h.6v.6h-.6zM177.1,91.7h.6v.6h-.6zM140.2,87.2h.6v.6h-.6zM165.1,89.3h.6v.6h-.6zM152.5,125.7h.6v.6h-.6zM167.5,86.6h.6v.6h-.6zM183.8,110.7h.6v.6h-.6zM138.7,87.5h.6v.6h-.6zM159.9,90h.6v.6h-.6zM136.3,110h.6v.6h-.6zM179.5,120.3h.6v.6h-.6zM178.4,91.4h.6v.6h-.6zM135.3,116.2h.6v.6h-.6zM184.1,98h.6v.6h-.6zM186.3,122.1h.6v.6h-.6zM183.8,116.7h.6v.6h-.6zM181.7,104.7h.6v.6h-.6zM186.2,114.8h.6v.6h-.6zM139,96.5h.6v.6h-.6zM176.9,105h.6v.6h-.6zM145.3,88.9h.6v.6h-.6zM153.9,90.3h.6v.6h-.6zM166,87.7h.6v.6h-.6zM188.3,113.6h.6v.6h-.6zM186.1,106.1h.6v.6h-.6zM183.7,116.2h.6v.6h-.6zM166.8,86.4h.6v.6h-.6zM180.7,104.9h.6v.6h-.6zM148.5,92.6h.6v.6h-.6zM166,90.5h.6v.6h-.6zM162.6,88.4h.6v.6h-.6zM179.7,103.6h.6v.6h-.6zM181.1,109.9h.6v.6h-.6zM145.4,123.8h.6v.6h-.6zM163.3,88.6h.6v.6h-.6zM187.6,118.9h.6v.6h-.6zM167.6,89.8h.6v.6h-.6zM167.4,90.8h.6v.6h-.6zM174.1,90.9h.6v.6h-.6zM178.4,90.9h.6v.6h-.6zM138.5,94h.6v.6h-.6zM133.2,120.6h.6v.6h-.6zM151.3,89.4h.6v.6h-.6zM140.9,100h.6v.6h-.6zM179.9,117.6h.6v.6h-.6zM179.2,123.6h.6v.6h-.6zM132.6,111.4h.6v.6h-.6zM181.9,111.7h.6v.6h-.6zM158.3,90.1h.6v.6h-.6zM170.8,87.9h.6v.6h-.6zM166.6,87.1h.6v.6h-.6zM172.9,88.3h.6v.6h-.6zM178.5,94.9h.6v.6h-.6zM167.8,91.2h.6v.6h-.6zM134.8,97.5h.6v.6h-.6zM146.8,85.8h.6v.6h-.6zM133.3,95.6h.6v.6h-.6zM184.3,115.6h.6v.6h-.6zM185.2,102.9h.6v.6h-.6zM157.4,91.6h.6v.6h-.6zM178,84.7h.6v.6h-.6zM158.1,88.6h.6v.6h-.6zM182.4,93.5h.6v.6h-.6zM140.1,94.3h.6v.6h-.6zM186.8,106.2h.6v.6h-.6zM135.8,112.7h.6v.6h-.6zM174.2,90.3h.6v.6h-.6zM184.5,93.8h.6v.6h-.6zM184.3,123.4h.6v.6h-.6zM179,114.7h.6v.6h-.6zM178.3,92.9h.6v.6h-.6zM133.9,91.8h.6v.6h-.6zM177.6,96.9h.6v.6h-.6zM183.2,97.7h.6v.6h-.6zM188.4,107.7h.6v.6h-.6zM184.6,102.9h.6v.6h-.6zM153.6,126.8h.6v.6h-.6zM179.6,95.3h.6v.6h-.6zM184.8,118h.6v.6h-.6zM169.4,124.4h.6v.6h-.6zM141.7,89.7h.6v.6h-.6zM183.3,105.8h.6v.6h-.6zM173,86.9h.6v.6h-.6zM183.1,93.3h.6v.6h-.6zM183.3,101.3h.6v.6h-.6zM162.3,89.7h.6v.6h-.6zM180.7,100.6h.6v.6h-.6zM186.6,111.7h.6v.6h-.6zM176,86.3h.6v.6h-.6zM182.5,108.1h.6v.6h-.6zM178,123.6h.6v.6h-.6zM181.7,120.3h.6v.6h-.6zM183.7,99.1h.6v.6h-.6zM178.7,101.2h.6v.6h-.6zM180.8,109.8h.6v.6h-.6zM186.7,107.7h.6v.6h-.6zM179.5,94.2h.6v.6h-.6zM138.9,123.6h.6v.6h-.6zM183.5,112.4h.6v.6h-.6zM180.1,106.2h.6v.6h-.6zM162,88.9h.6v.6h-.6zM136.4,119.6h.6v.6h-.6zM174.7,86.8h.6v.6h-.6zM177.2,94.3h.6v.6h-.6zM138.8,90.5h.6v.6h-.6zM179.8,99.9h.6v.6h-.6zM177.8,118.1h.6v.6h-.6zM170.1,86.8h.6v.6h-.6zM185.9,114h.6v.6h-.6zM161.9,89.7h.6v.6h-.6zM175.7,90h.6v.6h-.6zM167.8,127.3h.6v.6h-.6zM174.7,97h.6v.6h-.6zM182,87.8h.6v.6h-.6zM175.2,92.8h.6v.6h-.6zM177.2,95.4h.6v.6h-.6zM180.9,88.1h.6v.6h-.6zM150.7,89.6h.6v.6h-.6zM179.9,122.6h.6v.6h-.6zM170.7,86.5h.6v.6h-.6zM160.9,127h.6v.6h-.6zM179.7,100.3h.6v.6h-.6zM173,91.4h.6v.6h-.6zM167.5,89.4h.6v.6h-.6zM161.8,124.9h.6v.6h-.6zM178.5,119.2h.6v.6h-.6zM180.7,101.4h.6v.6h-.6zM154.1,86.1h.6v.6h-.6zM180.9,101.5h.6v.6h-.6zM180.4,97.7h.6v.6h-.6zM137.5,103.1h.6v.6h-.6zM183.8,100h.6v.6h-.6zM181.1,117h.6v.6h-.6zM182.7,109.8h.6v.6h-.6zM177,90.6h.6v.6h-.6zM180.2,114.6h.6v.6h-.6zM178.2,103h.6v.6h-.6zM149.8,89.7h.6v.6h-.6zM181.5,117.5h.6v.6h-.6zM183.1,109.7h.6v.6h-.6zM181.2,97.7h.6v.6h-.6zM176.3,91.1h.6v.6h-.6zM138.5,101.4h.6v.6h-.6zM184,111.5h.6v.6h-.6zM168.7,86.5h.6v.6h-.6zM134.8,102.4h.6v.6h-.6zM165.2,121.1h.6v.6h-.6zM181.5,99.2h.6v.6h-.6zM171.3,87.3h.6v.6h-.6zM183.1,126.9h.6v.6h-.6zM165.1,88.6h.6v.6h-.6zM180.7,98.1h.6v.6h-.6zM158.1,91.3h.6v.6h-.6zM183.8,123.7h.6v.6h-.6zM184.5,130.1h.6v.6h-.6zM180.1,109.5h.6v.6h-.6zM149.3,89.8h.6v.6h-.6zM186.1,125.6h.6v.6h-.6zM181.8,99.1h.6v.6h-.6zM172.1,88.9h.6v.6h-.6zM173.5,87.6h.6v.6h-.6zM176.8,94h.6v.6h-.6zM177.7,98.7h.6v.6h-.6zM142.5,89.5h.6v.6h-.6zM182.4,120.8h.6v.6h-.6zM181.5,91.8h.6v.6h-.6zM177.3,89h.6v.6h-.6zM145.1,124h.6v.6h-.6zM179.5,123.7h.6v.6h-.6zM181.4,123h.6v.6h-.6zM169.6,86.8h.6v.6h-.6zM174.7,94.4h.6v.6h-.6zM178.9,96.1h.6v.6h-.6zM174.8,90.3h.6v.6h-.6zM156,91.5h.6v.6h-.6zM182.8,104.4h.6v.6h-.6zM180.5,94.5h.6v.6h-.6zM178,88.6h.6v.6h-.6zM171.8,89.9h.6v.6h-.6zM182.3,93.3h.6v.6h-.6zM185.3,111.9h.6v.6h-.6zM182.4,128h.6v.6h-.6zM177,91.2h.6v.6h-.6zM180.9,91.9h.6v.6h-.6zM176.8,89.2h.6v.6h-.6zM175,128.5h.6v.6h-.6zM172.7,87.2h.6v.6h-.6zM166.8,89.1h.6v.6h-.6zM179.5,122.4h.6v.6h-.6zM134.7,116.2h.6v.6h-.6zM164.5,89.1h.6v.6h-.6zM163.5,86h.6v.6h-.6zM177.7,88.1h.6v.6h-.6zM150,124.2h.6v.6h-.6zM185.8,103.8h.6v.6h-.6zM181.7,108.1h.6v.6h-.6zM180.7,126.7h.6v.6h-.6zM180.3,109.3h.6v.6h-.6zM156.8,126h.6v.6h-.6zM182.8,99.7h.6v.6h-.6zM185.7,120.1h.6v.6h-.6zM178.6,93.4h.6v.6h-.6zM171.6,120.1h.6v.6h-.6zM189,114.7h.6v.6h-.6zM183.2,124.7h.6v.6h-.6zM182.4,118h.6v.6h-.6zM171.6,81.3h.6v.6h-.6zM180.5,104.4h.6v.6h-.6zM169.3,83.2h.6v.6h-.6zM158.8,89.3h.6v.6h-.6zM182.5,115h.6v.6h-.6zM188.7,115.2h.6v.6h-.6zM177.8,99h.6v.6h-.6zM180.2,116h.6v.6h-.6zM181.6,96.4h.6v.6h-.6zM139,92.4h.6v.6h-.6zM185.2,107.8h.6v.6h-.6zM180.6,112.6h.6v.6h-.6zM159.4,127.2h.6v.6h-.6zM173,87.5h.6v.6h-.6zM182.9,111.3h.6v.6h-.6zM143.2,88.7h.6v.6h-.6zM184,110.5h.6v.6h-.6zM178.3,106.3h.6v.6h-.6zM174.8,87.6h.6v.6h-.6zM172.4,89.5h.6v.6h-.6zM137.2,93.3h.6v.6h-.6zM185.8,103.1h.6v.6h-.6zM134.4,112.2h.6v.6h-.6zM135,121h.6v.6h-.6zM156.2,128.3h.6v.6h-.6zM186.6,123h.6v.6h-.6zM174.2,97.7h.6v.6h-.6zM184.8,115.6h.6v.6h-.6zM159.9,90.2h.6v.6h-.6zM173.7,126h.6v.6h-.6zM157.1,87.4h.6v.6h-.6zM178.4,125.1h.6v.6h-.6zM183.1,121.3h.6v.6h-.6zM183.7,100.5h.6v.6h-.6zM172.9,124.6h.6v.6h-.6zM152.4,88.3h.6v.6h-.6zM174.1,91.7h.6v.6h-.6zM184,103.5h.6v.6h-.6zM177.6,96.8h.6v.6h-.6zM170.3,89h.6v.6h-.6zM135.1,97.2h.6v.6h-.6zM169.1,127h.6v.6h-.6zM179.8,111.5h.6v.6h-.6zM177.9,124.1h.6v.6h-.6zM177.5,94.6h.6v.6h-.6zM184.6,124.8h.6v.6h-.6zM174.5,84.2h.6v.6h-.6zM178.5,92.3h.6v.6h-.6zM176.9,94.1h.6v.6h-.6zM175.1,86.5h.6v.6h-.6zM150,91.7h.6v.6h-.6zM153,90.3h.6v.6h-.6zM153.2,88.4h.6v.6h-.6zM133.6,112.6h.6v.6h-.6zM160.3,92h.6v.6h-.6zM132.2,120.3h.6v.6h-.6zM180.7,92.2h.6v.6h-.6zM184.3,106h.6v.6h-.6zM150.8,96.8h.6v.6h-.6zM166.2,85.8h.6v.6h-.6zM175.6,88.7h.6v.6h-.6zM156.3,87.9h.6v.6h-.6zM164.3,91.4h.6v.6h-.6zM174.5,89.5h.6v.6h-.6zM181,102.9h.6v.6h-.6zM175,93.3h.6v.6h-.6zM184.2,122.7h.6v.6h-.6zM155.1,92.3h.6v.6h-.6zM173.7,104.5h.6v.6h-.6zM179.6,92.9h.6v.6h-.6zM174,91.6h.6v.6h-.6zM160.8,87.1h.6v.6h-.6zM172.4,88.8h.6v.6h-.6zM169.8,89.1h.6v.6h-.6zM182.2,118.3h.6v.6h-.6zM172,125.4h.6v.6h-.6zM171.8,89.1h.6v.6h-.6zM142.6,126.2h.6v.6h-.6zM177.7,116.7h.6v.6h-.6zM186.4,99.1h.6v.6h-.6zM173.1,127.2h.6v.6h-.6zM179.6,98.8h.6v.6h-.6zM185.9,115.7h.6v.6h-.6zM143.6,128.2h.6v.6h-.6zM171,89.5h.6v.6h-.6zM135.5,105.4h.6v.6h-.6zM176.4,98.2h.6v.6h-.6zM172.7,88.6h.6v.6h-.6zM183.4,115h.6v.6h-.6zM170.2,86.8h.6v.6h-.6zM180.5,96h.6v.6h-.6zM176.1,88.2h.6v.6h-.6zM176.2,100.4h.6v.6h-.6zM179.9,91.4h.6v.6h-.6zM181.5,118.2h.6v.6h-.6zM184.2,116.3h.6v.6h-.6zM181,112.1h.6v.6h-.6zM183.1,100h.6v.6h-.6zM167.4,88.7h.6v.6h-.6zM132.2,108.4h.6v.6h-.6zM174.6,94.2h.6v.6h-.6zM182.3,122.4h.6v.6h-.6zM135.7,92.3h.6v.6h-.6zM170.6,87.2h.6v.6h-.6zM182.1,111.9h.6v.6h-.6zM184.2,113.3h.6v.6h-.6zM154.9,122.3h.6v.6h-.6zM176.4,91.3h.6v.6h-.6zM166.5,88.4h.6v.6h-.6zM141.8,91.3h.6v.6h-.6zM182.9,99.6h.6v.6h-.6zM173,85.7h.6v.6h-.6zM183.8,104.6h.6v.6h-.6zM184.8,107.8h.6v.6h-.6zM185.2,104.6h.6v.6h-.6zM150.6,126.9h.6v.6h-.6zM156.8,89.4h.6v.6h-.6zM181.6,124.6h.6v.6h-.6zM179.7,122.6h.6v.6h-.6zM166.3,90.4h.6v.6h-.6zM184.2,108.6h.6v.6h-.6zM171.1,94.9h.6v.6h-.6zM139.5,107.6h.6v.6h-.6zM171.7,88.5h.6v.6h-.6zM179.8,88.1h.6v.6h-.6zM177.7,87.3h.6v.6h-.6zM140.4,89.7h.6v.6h-.6zM169.9,122h.6v.6h-.6zM179.9,125.4h.6v.6h-.6zM138.8,112.5h.6v.6h-.6zM169.8,88.9h.6v.6h-.6zM181.3,92.6h.6v.6h-.6zM133.4,115.4h.6v.6h-.6zM175.9,91.6h.6v.6h-.6zM159.3,88.6h.6v.6h-.6zM160.7,88.7h.6v.6h-.6zM135.1,120.8h.6v.6h-.6zM180.9,99.6h.6v.6h-.6zM181.4,100.4h.6v.6h-.6zM170.2,89.9h.6v.6h-.6zM182.5,106.9h.6v.6h-.6zM186.4,115.5h.6v.6h-.6zM136.3,109.2h.6v.6h-.6zM172.1,84.6h.6v.6h-.6zM176.2,91.2h.6v.6h-.6zM185.1,114.4h.6v.6h-.6zM178.1,93h.6v.6h-.6zM183.2,113.8h.6v.6h-.6zM168.9,90.7h.6v.6h-.6zM172.6,87.9h.6v.6h-.6zM185.8,108h.6v.6h-.6zM175.2,90.9h.6v.6h-.6zM139.5,90.4h.6v.6h-.6zM166.5,90.3h.6v.6h-.6zM134.3,100.4h.6v.6h-.6zM179.8,125.8h.6v.6h-.6zM153.1,120.4h.6v.6h-.6zM128.6,111.6h.6v.6h-.6zM173.6,86.9h.6v.6h-.6zM133.4,112.5h.6v.6h-.6zM163.4,87.7h.6v.6h-.6zM183.1,115.8h.6v.6h-.6zM174.8,91.5h.6v.6h-.6zM144.4,122.7h.6v.6h-.6zM158.4,91.9h.6v.6h-.6zM180,97.7h.6v.6h-.6zM181.9,111.9h.6v.6h-.6zM184.2,109.2h.6v.6h-.6zM140,86.9h.6v.6h-.6zM171.6,87.3h.6v.6h-.6zM174.7,124.2h.6v.6h-.6zM180.3,121.6h.6v.6h-.6zM177.4,96.4h.6v.6h-.6zM140.1,96.9h.6v.6h-.6zM170.6,93.4h.6v.6h-.6zM182.4,118.9h.6v.6h-.6zM166.4,95.2h.6v.6h-.6zM157.8,129h.6v.6h-.6zM182.5,123.5h.6v.6h-.6zM172.6,89.9h.6v.6h-.6zM179.5,125.9h.6v.6h-.6zM147.3,122.8h.6v.6h-.6zM180.7,111h.6v.6h-.6zM182.2,122.3h.6v.6h-.6zM184,120.8h.6v.6h-.6zM156.9,91.9h.6v.6h-.6zM182.3,126h.6v.6h-.6zM129.3,122.8h.6v.6h-.6zM181.2,103.3h.6v.6h-.6zM177.6,87.8h.6v.6h-.6zM160.7,87.4h.6v.6h-.6zM166.6,86.6h.6v.6h-.6zM185,103.7h.6v.6h-.6zM181.3,101.9h.6v.6h-.6zM184.7,107.9h.6v.6h-.6zM182.7,115.5h.6v.6h-.6zM183.5,120.1h.6v.6h-.6zM176.8,97h.6v.6h-.6zM142.3,83.6h.6v.6h-.6zM152.9,89h.6v.6h-.6zM138.1,88.6h.6v.6h-.6zM180.2,122.9h.6v.6h-.6zM168.1,86.3h.6v.6h-.6zM164.9,87.6h.6v.6h-.6zM175.8,92.3h.6v.6h-.6zM161,85.9h.6v.6h-.6zM174,87.2h.6v.6h-.6zM181.3,91.3h.6v.6h-.6zM174.4,92.7h.6v.6h-.6zM183,123.6h.6v.6h-.6zM138.2,90.9h.6v.6h-.6zM177.7,124.8h.6v.6h-.6zM177.8,124.7h.6v.6h-.6zM189,112.8h.6v.6h-.6zM140.4,84.1h.6v.6h-.6zM180.5,89.6h.6v.6h-.6zM185.5,107.4h.6v.6h-.6zM186.8,118h.6v.6h-.6zM175.8,120.5h.6v.6h-.6zM132.6,91.1h.6v.6h-.6zM179.9,123.8h.6v.6h-.6zM177.4,90.1h.6v.6h-.6zM181.5,116.7h.6v.6h-.6zM183.3,93.4h.6v.6h-.6zM177.7,97.4h.6v.6h-.6zM176.9,99.7h.6v.6h-.6zM182.7,99h.6v.6h-.6zM183,104.4h.6v.6h-.6zM161,126.6h.6v.6h-.6zM182,110.9h.6v.6h-.6zM178.8,119.7h.6v.6h-.6zM183,109.7h.6v.6h-.6zM145.7,90.6h.6v.6h-.6zM179.5,98.6h.6v.6h-.6zM166.8,91.3h.6v.6h-.6zM174.8,126.7h.6v.6h-.6zM144.9,88.2h.6v.6h-.6zM148.1,92.2h.6v.6h-.6zM143.3,91.6h.6v.6h-.6zM134.2,114.8h.6v.6h-.6zM137.9,111.6h.6v.6h-.6zM181.9,116.8h.6v.6h-.6zM182.2,112.4h.6v.6h-.6zM132.7,116.2h.6v.6h-.6zM174.5,91.4h.6v.6h-.6zM169.8,86.6h.6v.6h-.6zM184.1,122.2h.6v.6h-.6zM179.6,102h.6v.6h-.6zM179,92h.6v.6h-.6zM173.6,91h.6v.6h-.6zM169.4,84.3h.6v.6h-.6zM165.2,123h.6v.6h-.6zM184.2,93.3h.6v.6h-.6zM174.1,128.8h.6v.6h-.6zM179.5,111.7h.6v.6h-.6zM136,87.8h.6v.6h-.6zM181.4,112.4h.6v.6h-.6zM182.6,107.6h.6v.6h-.6zM179.1,90.1h.6v.6h-.6zM180.4,124.7h.6v.6h-.6zM182.4,96h.6v.6h-.6zM134,108.7h.6v.6h-.6zM180.6,115.7h.6v.6h-.6zM182.8,105.3h.6v.6h-.6zM133,107.1h.6v.6h-.6zM179,96.2h.6v.6h-.6zM184.4,119.8h.6v.6h-.6zM157.3,88.3h.6v.6h-.6zM179.7,91h.6v.6h-.6zM175.7,86.6h.6v.6h-.6zM135.2,112.3h.6v.6h-.6zM179,117.6h.6v.6h-.6zM178.9,98h.6v.6h-.6zM185.5,112.9h.6v.6h-.6zM183.6,108.2h.6v.6h-.6zM136.3,118.5h.6v.6h-.6zM182.8,105.5h.6v.6h-.6zM172,89.7h.6v.6h-.6zM180.7,92.4h.6v.6h-.6zM141.2,92.5h.6v.6h-.6zM182,126.1h.6v.6h-.6zM178.9,96.1h.6v.6h-.6zM181,92.2h.6v.6h-.6zM179.2,93.7h.6v.6h-.6zM173.1,127.2h.6v.6h-.6zM175.6,85h.6v.6h-.6zM144.4,96.7h.6v.6h-.6zM185.3,121.4h.6v.6h-.6zM176.6,91.5h.6v.6h-.6zM138.8,93h.6v.6h-.6zM160.9,88.8h.6v.6h-.6zM185.3,114h.6v.6h-.6zM176.8,123.6h.6v.6h-.6zM179,120.1h.6v.6h-.6zM171.7,86.9h.6v.6h-.6zM174.7,90.3h.6v.6h-.6zM175.4,92.9h.6v.6h-.6zM182.7,104.6h.6v.6h-.6zM134.4,116.7h.6v.6h-.6zM169.2,88.2h.6v.6h-.6zM184.2,112.8h.6v.6h-.6zM169.8,92.3h.6v.6h-.6zM153.2,92.7h.6v.6h-.6zM184,103.4h.6v.6h-.6zM184.8,107h.6v.6h-.6zM185,109h.6v.6h-.6zM174.5,124.3h.6v.6h-.6zM184.3,114.8h.6v.6h-.6zM168.7,88.5h.6v.6h-.6zM132.5,97.4h.6v.6h-.6zM137.7,114.8h.6v.6h-.6zM160.5,86.7h.6v.6h-.6zM175.5,95.3h.6v.6h-.6zM183.4,117.4h.6v.6h-.6zM179,116.2h.6v.6h-.6zM167.2,86h.6v.6h-.6zM139,89.8h.6v.6h-.6zM174,89.3h.6v.6h-.6zM158.1,89.9h.6v.6h-.6zM187.4,106.8h.6v.6h-.6zM146.8,124.3h.6v.6h-.6zM183.2,121.8h.6v.6h-.6zM171.1,91.5h.6v.6h-.6zM156.6,90.3h.6v.6h-.6zM168.4,84.6h.6v.6h-.6zM166.6,125.8h.6v.6h-.6zM143.6,125.3h.6v.6h-.6zM181.7,96h.6v.6h-.6zM177.1,95.7h.6v.6h-.6zM178.7,95.6h.6v.6h-.6zM132.5,96.1h.6v.6h-.6zM182.3,97.9h.6v.6h-.6zM183.7,107.3h.6v.6h-.6zM179.8,102.6h.6v.6h-.6zM167.3,83.2h.6v.6h-.6zM179.5,90.2h.6v.6h-.6zM176.7,90.1h.6v.6h-.6zM137,87.5h.6v.6h-.6zM182.5,94.5h.6v.6h-.6zM154.1,86.3h.6v.6h-.6zM181.5,118.3h.6v.6h-.6zM133,110.3h.6v.6h-.6zM180.9,90.4h.6v.6h-.6zM185.1,112.4h.6v.6h-.6zM186.2,108.7h.6v.6h-.6zM182.5,97.8h.6v.6h-.6zM184.8,113.9h.6v.6h-.6zM180.6,97.1h.6v.6h-.6zM133.7,97.8h.6v.6h-.6zM181,95.7h.6v.6h-.6zM179.2,86.3h.6v.6h-.6zM137,90h.6v.6h-.6zM166.1,87.5h.6v.6h-.6zM175.9,92.4h.6v.6h-.6zM186.6,105.5h.6v.6h-.6zM134.7,110.1h.6v.6h-.6zM178.1,120.8h.6v.6h-.6zM181.9,96.9h.6v.6h-.6zM180.1,99.6h.6v.6h-.6zM144.2,124.8h.6v.6h-.6zM135.2,102.1h.6v.6h-.6zM161.4,90.6h.6v.6h-.6zM149.4,122.7h.6v.6h-.6zM181,105.6h.6v.6h-.6zM177,91.3h.6v.6h-.6zM172,88.9h.6v.6h-.6zM183.4,101.8h.6v.6h-.6zM181.2,121.7h.6v.6h-.6zM157,89.4h.6v.6h-.6zM177.6,125.4h.6v.6h-.6zM179.7,115h.6v.6h-.6zM162.1,87.6h.6v.6h-.6zM154.9,123.9h.6v.6h-.6zM183.9,101.2h.6v.6h-.6zM171.6,91h.6v.6h-.6zM169.6,84.3h.6v.6h-.6zM175.6,92.2h.6v.6h-.6zM169.1,86.9h.6v.6h-.6zM136.7,122.5h.6v.6h-.6zM156.7,121.3h.6v.6h-.6zM185.9,117.2h.6v.6h-.6zM182.9,99.6h.6v.6h-.6zM176.6,88.1h.6v.6h-.6zM169.9,92.3h.6v.6h-.6zM144.1,124.2h.6v.6h-.6zM140.2,111.4h.6v.6h-.6zM180.6,119h.6v.6h-.6zM172.2,88.1h.6v.6h-.6zM138.5,88h.6v.6h-.6zM175.5,88h.6v.6h-.6zM184.4,116.6h.6v.6h-.6zM159.4,91.2h.6v.6h-.6zM184.2,120.2h.6v.6h-.6zM177.9,88.1h.6v.6h-.6zM182.1,100.3h.6v.6h-.6zM135.3,103.8h.6v.6h-.6zM167.6,90h.6v.6h-.6zM182.1,89.5h.6v.6h-.6zM173.6,85h.6v.6h-.6zM190.6,76.2h.6v.6h-.6zM168.5,73.7h.6v.6h-.6zM181.8,89.3h.6v.6h-.6zM152.7,88.7h.6v.6h-.6zM145.5,74h.6v.6h-.6zM170.7,86.8h.6v.6h-.6zM166.1,85h.6v.6h-.6zM182.2,69.6h.6v.6h-.6zM167,77.4h.6v.6h-.6zM190.8,83.1h.6v.6h-.6zM156.8,75.3h.6v.6h-.6zM160.2,88.4h.6v.6h-.6zM187.5,83.3h.6v.6h-.6zM163.3,85h.6v.6h-.6zM156.3,74.4h.6v.6h-.6zM188.5,73.8h.6v.6h-.6zM186.3,85.4h.6v.6h-.6zM190.7,74.7h.6v.6h-.6zM166.4,70.9h.6v.6h-.6zM164.7,74.8h.6v.6h-.6zM151.9,90.4h.6v.6h-.6zM169.7,71.7h.6v.6h-.6zM146.5,80.4h.6v.6h-.6zM140.1,77.3h.6v.6h-.6zM179.9,85.7h.6v.6h-.6zM182,92.5h.6v.6h-.6zM171.7,86.9h.6v.6h-.6zM150.6,92.9h.6v.6h-.6zM185.9,71.1h.6v.6h-.6zM153.9,88h.6v.6h-.6zM156.7,75.2h.6v.6h-.6zM177.2,87.2h.6v.6h-.6zM159,75.8h.6v.6h-.6zM188.9,89.3h.6v.6h-.6zM183.5,71.9h.6v.6h-.6zM181.1,75.6h.6v.6h-.6zM187.7,89.8h.6v.6h-.6zM161,87.7h.6v.6h-.6zM188.7,70.5h.6v.6h-.6zM175.1,85h.6v.6h-.6zM147.1,91.7h.6v.6h-.6zM184.3,93.7h.6v.6h-.6zM184.1,85.4h.6v.6h-.6zM139.1,84h.6v.6h-.6zM179.3,91.5h.6v.6h-.6zM156.7,87.5h.6v.6h-.6zM185.2,72.4h.6v.6h-.6zM174.7,73.9h.6v.6h-.6zM177.6,69.7h.6v.6h-.6zM141.1,89.8h.6v.6h-.6zM152.2,91.6h.6v.6h-.6zM183.4,92.9h.6v.6h-.6zM158.9,72.8h.6v.6h-.6zM174.6,72.7h.6v.6h-.6zM180.8,88.1h.6v.6h-.6zM188.3,86.1h.6v.6h-.6zM178.1,71.3h.6v.6h-.6zM173.1,76.2h.6v.6h-.6zM191.4,76h.6v.6h-.6zM157.3,75.9h.6v.6h-.6zM182.3,92.2h.6v.6h-.6zM147.5,77.3h.6v.6h-.6zM135.7,89.1h.6v.6h-.6zM175.4,72h.6v.6h-.6zM183.2,89h.6v.6h-.6zM179.7,73.7h.6v.6h-.6zM181.8,74.5h.6v.6h-.6zM189.6,70.1h.6v.6h-.6zM139.5,83.3h.6v.6h-.6zM175.4,74.8h.6v.6h-.6zM180.8,69.6h.6v.6h-.6zM177.4,69.9h.6v.6h-.6zM185.7,88.6h.6v.6h-.6zM179,77h.6v.6h-.6zM154.8,75.9h.6v.6h-.6zM193.4,75.9h.6v.6h-.6zM184.4,72.6h.6v.6h-.6zM191.3,78.8h.6v.6h-.6zM178.2,90h.6v.6h-.6zM155.1,90.8h.6v.6h-.6zM150.3,75.7h.6v.6h-.6zM185.3,71.1h.6v.6h-.6zM132.1,90.2h.6v.6h-.6zM174,73.5h.6v.6h-.6zM177.4,73.6h.6v.6h-.6zM180.5,71.9h.6v.6h-.6zM192.9,75h.6v.6h-.6zM184.9,91.9h.6v.6h-.6zM158.3,89.6h.6v.6h-.6zM190,73.3h.6v.6h-.6zM181.5,90.4h.6v.6h-.6zM163.4,88.6h.6v.6h-.6zM189.5,81.9h.6v.6h-.6zM187,72.4h.6v.6h-.6zM183.3,69.3h.6v.6h-.6zM188.2,74.5h.6v.6h-.6zM180.5,92.8h.6v.6h-.6zM178.5,73.3h.6v.6h-.6zM186.7,91.1h.6v.6h-.6zM148.3,80.2h.6v.6h-.6zM151.1,88.5h.6v.6h-.6zM190,91h.6v.6h-.6zM174.4,88.5h.6v.6h-.6zM189.6,80.9h.6v.6h-.6zM180.5,91.1h.6v.6h-.6zM146.6,74.7h.6v.6h-.6zM180.5,95.1h.6v.6h-.6zM182,74.4h.6v.6h-.6zM177.2,93.8h.6v.6h-.6zM183.6,92.2h.6v.6h-.6zM147.6,72.8h.6v.6h-.6zM187.7,84.8h.6v.6h-.6zM167.8,71.7h.6v.6h-.6zM184.2,71.9h.6v.6h-.6zM137.5,85.5h.6v.6h-.6zM180.8,71.4h.6v.6h-.6zM182.3,90.6h.6v.6h-.6zM173.7,91.6h.6v.6h-.6zM138.3,80.8h.6v.6h-.6zM164.5,88.1h.6v.6h-.6zM184.5,72.3h.6v.6h-.6zM188.4,72.1h.6v.6h-.6zM179.9,86.6h.6v.6h-.6zM179,85.9h.6v.6h-.6zM181.3,73.4h.6v.6h-.6zM190.5,85h.6v.6h-.6zM164.8,85.8h.6v.6h-.6zM176.9,89.6h.6v.6h-.6zM162.6,88.3h.6v.6h-.6zM166.4,89.6h.6v.6h-.6zM181.6,92.7h.6v.6h-.6zM177.6,87.6h.6v.6h-.6zM188.5,87.3h.6v.6h-.6zM162.7,87.5h.6v.6h-.6zM186.8,88.5h.6v.6h-.6zM178.2,72.9h.6v.6h-.6zM138.4,87.5h.6v.6h-.6zM184.3,72.3h.6v.6h-.6zM188.1,86.5h.6v.6h-.6zM188.7,85.7h.6v.6h-.6zM151.8,91.7h.6v.6h-.6zM189.6,84.1h.6v.6h-.6zM170.8,73.5h.6v.6h-.6zM175,69.2h.6v.6h-.6zM171.4,76h.6v.6h-.6zM154.8,77.1h.6v.6h-.6zM179.1,85.6h.6v.6h-.6zM137.3,83.9h.6v.6h-.6zM189.8,78h.6v.6h-.6zM175.6,70.9h.6v.6h-.6zM158,88.1h.6v.6h-.6zM177.6,90.3h.6v.6h-.6zM170.6,74.2h.6v.6h-.6zM183.1,88.3h.6v.6h-.6zM188.4,71.4h.6v.6h-.6zM168.2,86.2h.6v.6h-.6zM136.8,83.5h.6v.6h-.6zM189.4,67h.6v.6h-.6zM188.4,83.4h.6v.6h-.6zM169.2,88h.6v.6h-.6zM183.3,93.5h.6v.6h-.6zM153.8,74.9h.6v.6h-.6zM186,86.3h.6v.6h-.6zM181.9,69.7h.6v.6h-.6zM134.3,87.8h.6v.6h-.6zM187.6,70.6h.6v.6h-.6zM149.7,70.2h.6v.6h-.6zM167.3,74.8h.6v.6h-.6zM143.2,78.5h.6v.6h-.6zM145.5,75.5h.6v.6h-.6zM183.3,68.8h.6v.6h-.6zM146.3,76.6h.6v.6h-.6zM142.5,89.9h.6v.6h-.6zM160.5,73h.6v.6h-.6zM160.7,87.5h.6v.6h-.6zM176.3,71.9h.6v.6h-.6zM173.3,88h.6v.6h-.6zM177.1,73h.6v.6h-.6zM137.1,89.5h.6v.6h-.6zM185.5,89.9h.6v.6h-.6zM187.8,76.3h.6v.6h-.6zM181.3,72.9h.6v.6h-.6zM166.7,88.6h.6v.6h-.6zM186.7,70h.6v.6h-.6zM189.1,82.5h.6v.6h-.6zM166.1,73.2h.6v.6h-.6zM187.8,82.3h.6v.6h-.6zM173.1,89.9h.6v.6h-.6zM181.7,90.8h.6v.6h-.6zM186.3,88.8h.6v.6h-.6zM175.4,71.8h.6v.6h-.6zM187.2,70.2h.6v.6h-.6zM188.9,86.8h.6v.6h-.6zM153.6,71h.6v.6h-.6zM189.7,91.8h.6v.6h-.6zM180.7,88.5h.6v.6h-.6zM145.8,72.2h.6v.6h-.6zM160.4,74.1h.6v.6h-.6zM188.5,89.3h.6v.6h-.6zM180.9,90.4h.6v.6h-.6zM138.7,90.8h.6v.6h-.6zM190.4,73.3h.6v.6h-.6zM177.7,92.4h.6v.6h-.6zM161.3,72.7h.6v.6h-.6zM169.3,74.2h.6v.6h-.6zM176.7,91.2h.6v.6h-.6zM136.7,89.9h.6v.6h-.6zM174.7,89.1h.6v.6h-.6zM180.8,91.7h.6v.6h-.6zM138.9,83.1h.6v.6h-.6zM192.9,84.9h.6v.6h-.6zM182.9,70.1h.6v.6h-.6zM183.7,72.5h.6v.6h-.6zM178.7,92.3h.6v.6h-.6zM181.1,86.9h.6v.6h-.6zM143.1,79h.6v.6h-.6zM174.8,87.5h.6v.6h-.6zM176.5,76.1h.6v.6h-.6zM171.4,75.1h.6v.6h-.6zM136.6,81h.6v.6h-.6zM144.1,87.5h.6v.6h-.6zM170.7,75.4h.6v.6h-.6zM173,87h.6v.6h-.6zM168.2,85.8h.6v.6h-.6zM180.2,91.1h.6v.6h-.6zM141,80.9h.6v.6h-.6zM139.9,80h.6v.6h-.6zM187.1,81.9h.6v.6h-.6zM152.1,74.8h.6v.6h-.6zM138.8,75.2h.6v.6h-.6zM184.4,92.6h.6v.6h-.6zM184.6,70.8h.6v.6h-.6zM188.6,89.7h.6v.6h-.6zM188.8,85.6h.6v.6h-.6zM171.1,75.5h.6v.6h-.6zM165.3,76.4h.6v.6h-.6zM182,70.8h.6v.6h-.6zM173.5,88.3h.6v.6h-.6zM187.3,67.4h.6v.6h-.6zM190.1,88.8h.6v.6h-.6zM136.3,84.4h.6v.6h-.6zM145.8,89.4h.6v.6h-.6zM166.7,87.2h.6v.6h-.6zM180.1,70.3h.6v.6h-.6zM185.1,66.3h.6v.6h-.6zM135.5,85.2h.6v.6h-.6zM182.5,73.1h.6v.6h-.6zM188.8,82.9h.6v.6h-.6zM160,88.2h.6v.6h-.6zM140.6,82.2h.6v.6h-.6zM180.8,97.1h.6v.6h-.6zM187.2,90.6h.6v.6h-.6zM137.8,83.6h.6v.6h-.6zM182.4,91.5h.6v.6h-.6zM142.2,75.8h.6v.6h-.6zM170.5,83.5h.6v.6h-.6zM175.1,72.2h.6v.6h-.6zM186.5,90.1h.6v.6h-.6zM176,91.9h.6v.6h-.6zM183.5,85.6h.6v.6h-.6zM178.2,70.9h.6v.6h-.6zM158,88.5h.6v.6h-.6zM170.5,85.1h.6v.6h-.6zM163.4,87.8h.6v.6h-.6zM138.2,77.4h.6v.6h-.6zM182.4,89.3h.6v.6h-.6zM134.8,80.8h.6v.6h-.6zM191.1,91.3h.6v.6h-.6zM168.8,86.3h.6v.6h-.6zM153.8,74.5h.6v.6h-.6zM159.6,89h.6v.6h-.6zM188.5,76.8h.6v.6h-.6zM136.1,87.8h.6v.6h-.6zM169.2,86.3h.6v.6h-.6zM177.5,91.4h.6v.6h-.6zM167.5,75.7h.6v.6h-.6zM151.2,75.9h.6v.6h-.6zM183.2,67.2h.6v.6h-.6zM169.4,73.8h.6v.6h-.6zM170.3,86.4h.6v.6h-.6zM160.9,74.5h.6v.6h-.6zM141.4,76h.6v.6h-.6zM135.1,85.7h.6v.6h-.6zM188.1,95h.6v.6h-.6zM167,90.1h.6v.6h-.6zM182.2,70h.6v.6h-.6zM168.4,85.3h.6v.6h-.6zM182.1,91.7h.6v.6h-.6zM184.2,92.8h.6v.6h-.6zM192.8,86h.6v.6h-.6zM168.3,88.2h.6v.6h-.6zM141.5,79.1h.6v.6h-.6zM148.2,84.5h.6v.6h-.6zM169.9,77.7h.6v.6h-.6zM137.5,82.3h.6v.6h-.6zM178,88.1h.6v.6h-.6zM152.7,73.9h.6v.6h-.6zM183.3,72.9h.6v.6h-.6zM185.2,91.4h.6v.6h-.6zM191.4,81.7h.6v.6h-.6zM179,72.2h.6v.6h-.6zM188.2,86.2h.6v.6h-.6zM156.3,87.6h.6v.6h-.6zM188.6,84.4h.6v.6h-.6zM188.8,85.1h.6v.6h-.6zM188.6,70.3h.6v.6h-.6zM145.5,79.6h.6v.6h-.6zM183,90.7h.6v.6h-.6zM138.9,92.7h.6v.6h-.6zM189.6,74.9h.6v.6h-.6zM185,68.4h.6v.6h-.6zM179.2,85.4h.6v.6h-.6zM176,74.9h.6v.6h-.6zM184.2,89.8h.6v.6h-.6zM136.3,82.1h.6v.6h-.6zM159.8,76.2h.6v.6h-.6zM179.4,70.6h.6v.6h-.6zM188.9,89.2h.6v.6h-.6zM189.6,86.5h.6v.6h-.6zM141,79.9h.6v.6h-.6zM167.5,71.6h.6v.6h-.6zM185,69.6h.6v.6h-.6zM182.8,74.8h.6v.6h-.6zM182.4,69h.6v.6h-.6zM162.6,76h.6v.6h-.6zM181.5,88.2h.6v.6h-.6zM169.9,73.1h.6v.6h-.6zM156.7,86.2h.6v.6h-.6zM135.7,81.9h.6v.6h-.6zM189.5,80h.6v.6h-.6zM162.4,74.9h.6v.6h-.6zM182.2,67.2h.6v.6h-.6zM183.5,89.4h.6v.6h-.6zM179.9,74h.6v.6h-.6zM181.8,70.9h.6v.6h-.6zM188.4,79.1h.6v.6h-.6zM188.3,83h.6v.6h-.6zM177.5,88.7h.6v.6h-.6zM193.1,80.1h.6v.6h-.6zM164.1,88.4h.6v.6h-.6zM138.6,79.6h.6v.6h-.6zM165.6,88.1h.6v.6h-.6zM184.3,71h.6v.6h-.6zM162.6,86.9h.6v.6h-.6zM176.8,90.1h.6v.6h-.6zM168.6,86.8h.6v.6h-.6zM192,80.4h.6v.6h-.6zM139.3,87.7h.6v.6h-.6zM191.2,89.9h.6v.6h-.6zM189.4,72.9h.6v.6h-.6zM179.9,84.3h.6v.6h-.6zM141.4,78.2h.6v.6h-.6zM171,87.2h.6v.6h-.6zM143.4,77.5h.6v.6h-.6zM140.1,75.4h.6v.6h-.6zM176.7,89.1h.6v.6h-.6zM135.8,86.4h.6v.6h-.6zM189.6,83.3h.6v.6h-.6zM181.6,72.6h.6v.6h-.6zM165,73.3h.6v.6h-.6zM178.7,90.4h.6v.6h-.6zM147.5,90.9h.6v.6h-.6zM184.9,70.3h.6v.6h-.6zM190.3,81.1h.6v.6h-.6zM185.5,74.9h.6v.6h-.6zM136.4,82.2h.6v.6h-.6zM180.2,69.9h.6v.6h-.6zM151.8,74.7h.6v.6h-.6zM172.1,88h.6v.6h-.6zM190.6,88.4h.6v.6h-.6zM135.1,87.8h.6v.6h-.6zM184.1,90.2h.6v.6h-.6zM171.5,75h.6v.6h-.6zM189.5,80.5h.6v.6h-.6zM141.1,77.6h.6v.6h-.6zM188.4,91.5h.6v.6h-.6zM178.9,89.1h.6v.6h-.6zM142.3,88.4h.6v.6h-.6zM186.1,92.8h.6v.6h-.6zM187.9,72.6h.6v.6h-.6zM145.8,76.3h.6v.6h-.6zM182.8,68.9h.6v.6h-.6zM185,92.5h.6v.6h-.6zM188.1,72.8h.6v.6h-.6zM182.2,66.2h.6v.6h-.6zM186.5,76h.6v.6h-.6zM187.5,84.5h.6v.6h-.6zM184.4,92.8h.6v.6h-.6zM188.3,89.6h.6v.6h-.6zM184.4,66.8h.6v.6h-.6zM148.5,74.2h.6v.6h-.6zM148.7,74.1h.6v.6h-.6zM135.7,85.3h.6v.6h-.6zM175.7,70.1h.6v.6h-.6zM167.9,88.6h.6v.6h-.6zM178.9,89.3h.6v.6h-.6zM180.6,91h.6v.6h-.6zM175.5,76.6h.6v.6h-.6zM172,74h.6v.6h-.6zM183.5,89.9h.6v.6h-.6zM183.3,91.3h.6v.6h-.6zM188.8,71.9h.6v.6h-.6zM183,70.9h.6v.6h-.6zM180.3,89.6h.6v.6h-.6zM178.4,87.7h.6v.6h-.6zM175.5,87.4h.6v.6h-.6zM144,74.1h.6v.6h-.6zM138.4,88.5h.6v.6h-.6zM157,88.3h.6v.6h-.6zM184.7,92.5h.6v.6h-.6zM164.2,72.3h.6v.6h-.6zM132.5,84.5h.6v.6h-.6zM164.8,90.4h.6v.6h-.6zM191,86.2h.6v.6h-.6zM147.5,85.5h.6v.6h-.6zM177.3,70.9h.6v.6h-.6zM182.9,68.9h.6v.6h-.6zM187.1,90.8h.6v.6h-.6zM140,84.2h.6v.6h-.6zM156.4,73.5h.6v.6h-.6zM142.5,73.6h.6v.6h-.6zM165.4,88.4h.6v.6h-.6zM178.5,90.5h.6v.6h-.6zM177.1,93.1h.6v.6h-.6zM183,69.9h.6v.6h-.6zM133.2,83.2h.6v.6h-.6zM190.9,85h.6v.6h-.6zM184.2,74h.6v.6h-.6zM143.8,73h.6v.6h-.6zM133.9,88.7h.6v.6h-.6zM148,76.6h.6v.6h-.6zM190,79.6h.6v.6h-.6zM177.6,73.5h.6v.6h-.6zM189.6,75.5h.6v.6h-.6zM185.9,77h.6v.6h-.6zM174,77h.6v.6h-.6zM188.7,80.4h.6v.6h-.6zM161.5,88.3h.6v.6h-.6zM177.6,88.9h.6v.6h-.6zM187.3,91h.6v.6h-.6zM168.1,85h.6v.6h-.6zM171.3,77.5h.6v.6h-.6zM177.8,93.7h.6v.6h-.6zM133.2,84.1h.6v.6h-.6zM143.4,76.9h.6v.6h-.6zM174.5,74.5h.6v.6h-.6zM189.3,77.5h.6v.6h-.6zM185.5,90.3h.6v.6h-.6zM149.6,75.7h.6v.6h-.6zM171.5,77.8h.6v.6h-.6zM170.9,88.2h.6v.6h-.6zM144.5,73.8h.6v.6h-.6zM180.1,72.2h.6v.6h-.6zM187.9,80.4h.6v.6h-.6zM189,86.3h.6v.6h-.6zM146.2,78.1h.6v.6h-.6zM169.4,83.9h.6v.6h-.6zM155.1,86.7h.6v.6h-.6zM183.9,89.9h.6v.6h-.6zM179.7,72.8h.6v.6h-.6zM156.3,74.3h.6v.6h-.6zM159.6,75.8h.6v.6h-.6zM181.8,69.3h.6v.6h-.6zM173.8,70.2h.6v.6h-.6zM181.4,89.3h.6v.6h-.6zM176.5,69.3h.6v.6h-.6zM183.5,70.3h.6v.6h-.6zM170.1,86.8h.6v.6h-.6zM148.4,74.3h.6v.6h-.6zM158.8,88.4h.6v.6h-.6zM189.4,80.7h.6v.6h-.6zM140,81.3h.6v.6h-.6zM184.1,67.3h.6v.6h-.6zM188.6,90h.6v.6h-.6zM186.1,73.4h.6v.6h-.6zM137.1,86.1h.6v.6h-.6zM173.5,85.9h.6v.6h-.6zM170.2,84.1h.6v.6h-.6zM160.5,89.6h.6v.6h-.6zM179,94.5h.6v.6h-.6zM167.8,75.1h.6v.6h-.6zM167.1,76.3h.6v.6h-.6zM188.8,76.5h.6v.6h-.6zM188.4,71.2h.6v.6h-.6zM177.9,89.2h.6v.6h-.6zM181.5,90.1h.6v.6h-.6zM142,75.7h.6v.6h-.6zM167.9,76.1h.6v.6h-.6zM186.1,87.4h.6v.6h-.6zM186,85.8h.6v.6h-.6zM188.6,69.8h.6v.6h-.6zM177.9,71.5h.6v.6h-.6zM183.4,71.3h.6v.6h-.6zM192.9,84.2h.6v.6h-.6zM139,87.3h.6v.6h-.6zM134,86.9h.6v.6h-.6zM188.7,69.7h.6v.6h-.6zM139,85.3h.6v.6h-.6zM180.6,71h.6v.6h-.6zM174.9,85.9h.6v.6h-.6zM188.5,70.1h.6v.6h-.6zM134.6,81.8h.6v.6h-.6zM189.1,73.6h.6v.6h-.6zM161.1,90.2h.6v.6h-.6zM135.1,85.4h.6v.6h-.6zM175.2,90.7h.6v.6h-.6zM186.1,90.7h.6v.6h-.6zM145.9,74.7h.6v.6h-.6zM183.1,70.1h.6v.6h-.6zM187.5,92.1h.6v.6h-.6zM177.1,91.3h.6v.6h-.6zM168.3,73.5h.6v.6h-.6zM181.8,76.3h.6v.6h-.6zM181.4,90.4h.6v.6h-.6zM180.9,70.1h.6v.6h-.6zM167.9,74.2h.6v.6h-.6zM180.7,89.6h.6v.6h-.6zM145.9,77.6h.6v.6h-.6zM178.4,90.6h.6v.6h-.6zM136.2,89.5h.6v.6h-.6zM184.8,89.3h.6v.6h-.6zM156.8,70.1h.6v.6h-.6zM190,79.5h.6v.6h-.6zM159.8,75h.6v.6h-.6zM140.2,89.2h.6v.6h-.6zM189.9,71.9h.6v.6h-.6zM151.8,90.9h.6v.6h-.6zM191.9,91.2h.6v.6h-.6zM172.5,86.1h.6v.6h-.6zM167.7,87.3h.6v.6h-.6zM189.8,91.3h.6v.6h-.6zM159.2,85.5h.6v.6h-.6zM192.4,88.1h.6v.6h-.6zM168.5,75.3h.6v.6h-.6zM183.8,75.3h.6v.6h-.6zM184.1,70.4h.6v.6h-.6zM136.5,90.8h.6v.6h-.6zM177.1,69.7h.6v.6h-.6zM137.9,89.1h.6v.6h-.6zM136.8,79.5h.6v.6h-.6zM139.1,78.8h.6v.6h-.6zM179.4,71.6h.6v.6h-.6zM188.6,78.3h.6v.6h-.6zM142.2,80h.6v.6h-.6zM137.1,89.1h.6v.6h-.6zM138,82.2h.6v.6h-.6zM187.1,90.9h.6v.6h-.6zM136.7,86.3h.6v.6h-.6zM179.2,91.6h.6v.6h-.6zM180,88.3h.6v.6h-.6zM146.1,75.6h.6v.6h-.6zM169.7,86.4h.6v.6h-.6zM148.7,73.6h.6v.6h-.6zM138.1,86.2h.6v.6h-.6zM179.7,85h.6v.6h-.6zM186.2,75.3h.6v.6h-.6zM141.7,78.9h.6v.6h-.6zM188,73h.6v.6h-.6zM177.1,89.6h.6v.6h-.6zM181.3,87.8h.6v.6h-.6zM186.5,73.7h.6v.6h-.6zM180.5,68.2h.6v.6h-.6zM186.3,70.3h.6v.6h-.6zM189.8,81.4h.6v.6h-.6zM191.8,88.1h.6v.6h-.6zM169.6,74.1h.6v.6h-.6zM180.2,69.9h.6v.6h-.6zM173,73.6h.6v.6h-.6zM139.7,87.8h.6v.6h-.6zM138.7,81.4h.6v.6h-.6zM192.7,79h.6v.6h-.6zM189.5,82.5h.6v.6h-.6zM189.5,86.6h.6v.6h-.6zM167.1,87.5h.6v.6h-.6zM143,78.3h.6v.6h-.6zM178.5,69.7h.6v.6h-.6zM134.9,81.4h.6v.6h-.6zM183.4,89.7h.6v.6h-.6zM182.6,90.2h.6v.6h-.6zM187.8,92.3h.6v.6h-.6zM142.9,75.1h.6v.6h-.6zM171.4,83.5h.6v.6h-.6zM141.4,77.2h.6v.6h-.6zM186.7,93.3h.6v.6h-.6zM190.2,77.8h.6v.6h-.6zM177.8,71.4h.6v.6h-.6zM175.8,89.7h.6v.6h-.6zM189.5,90.2h.6v.6h-.6zM179.6,89.4h.6v.6h-.6zM151.2,72.4h.6v.6h-.6zM142.1,90h.6v.6h-.6zM142.3,80.1h.6v.6h-.6zM171.1,71.4h.6v.6h-.6zM163.8,77h.6v.6h-.6zM183.9,88.2h.6v.6h-.6zM169.9,88.5h.6v.6h-.6zM179.6,93.3h.6v.6h-.6zM190.2,83.8h.6v.6h-.6zM137.9,93.1h.6v.6h-.6zM187.8,75.6h.6v.6h-.6zM140.8,80.9h.6v.6h-.6zM177.8,68.3h.6v.6h-.6zM188.4,84.5h.6v.6h-.6zM166.7,89.5h.6v.6h-.6zM192.4,79.7h.6v.6h-.6zM139.6,84.5h.6v.6h-.6zM191,87.8h.6v.6h-.6zM193.2,79.7h.6v.6h-.6zM182.2,70.3h.6v.6h-.6zM178.8,90.1h.6v.6h-.6zM147.7,73.9h.6v.6h-.6zM163.1,73.9h.6v.6h-.6zM166.6,87.6h.6v.6h-.6zM177.9,75.8h.6v.6h-.6zM154.7,74.4h.6v.6h-.6zM136.3,83.1h.6v.6h-.6zM137.3,87.2h.6v.6h-.6zM152.5,93.4h.6v.6h-.6zM180.2,87h.6v.6h-.6zM139.7,79.8h.6v.6h-.6zM165.4,71.7h.6v.6h-.6zM135.4,88.3h.6v.6h-.6zM192.3,83.6h.6v.6h-.6zM148.1,91.2h.6v.6h-.6zM139.4,79.2h.6v.6h-.6zM142,75.4h.6v.6h-.6zM184.7,91.4h.6v.6h-.6zM191.7,78.9h.6v.6h-.6zM142,76h.6v.6h-.6zM148,72.7h.6v.6h-.6zM137.1,85.5h.6v.6h-.6zM136.2,77.2h.6v.6h-.6zM187.6,79.2h.6v.6h-.6zM187.5,72.2h.6v.6h-.6zM165.3,89.1h.6v.6h-.6zM176.6,75.4h.6v.6h-.6zM140.2,77.5h.6v.6h-.6zM144.6,73.8h.6v.6h-.6zM188.7,89.9h.6v.6h-.6zM187,89.4h.6v.6h-.6zM187.2,89.9h.6v.6h-.6zM180.1,85.5h.6v.6h-.6zM191.3,73h.6v.6h-.6zM180.3,92.9h.6v.6h-.6zM187.5,91.5h.6v.6h-.6zM180.6,70.6h.6v.6h-.6zM190.3,89.2h.6v.6h-.6zM137.4,88.1h.6v.6h-.6zM182,91h.6v.6h-.6zM163.6,84h.6v.6h-.6zM174.6,89.1h.6v.6h-.6zM168.7,70.5h.6v.6h-.6zM174.2,74.1h.6v.6h-.6zM152.2,77h.6v.6h-.6zM184.8,73.1h.6v.6h-.6zM175.6,74h.6v.6h-.6zM135.1,88h.6v.6h-.6zM186.2,73.4h.6v.6h-.6zM159.8,89.1h.6v.6h-.6zM148.7,73.4h.6v.6h-.6zM182.3,73.2h.6v.6h-.6zM160.1,90.3h.6v.6h-.6zM188.2,72.5h.6v.6h-.6zM188.9,71h.6v.6h-.6zM161,86.8h.6v.6h-.6zM142.9,75.7h.6v.6h-.6zM189.2,87.7h.6v.6h-.6zM172.4,89.3h.6v.6h-.6zM183.9,94.1h.6v.6h-.6zM178.6,89.2h.6v.6h-.6zM173.1,87.2h.6v.6h-.6zM185.6,70.1h.6v.6h-.6zM154.5,85.6h.6v.6h-.6zM176.7,88.1h.6v.6h-.6zM137.7,85.6h.6v.6h-.6zM166.9,89h.6v.6h-.6zM168.4,74.8h.6v.6h-.6zM191.9,86.1h.6v.6h-.6zM175.3,72.4h.6v.6h-.6zM183.9,85.5h.6v.6h-.6zM183.9,67.2h.6v.6h-.6zM174.2,88.4h.6v.6h-.6zM159.6,74.6h.6v.6h-.6zM137.2,90.8h.6v.6h-.6zM181,72.3h.6v.6h-.6zM140.7,89.2h.6v.6h-.6zM183.5,91.3h.6v.6h-.6zM177.2,88h.6v.6h-.6zM182.2,92.7h.6v.6h-.6zM176.9,72.6h.6v.6h-.6zM156.1,74.5h.6v.6h-.6zM140.5,77h.6v.6h-.6zM161,90.6h.6v.6h-.6zM188.5,89.1h.6v.6h-.6zM152.6,73.9h.6v.6h-.6zM145,74.6h.6v.6h-.6zM188.6,86.5h.6v.6h-.6zM143,94.9h.6v.6h-.6zM145.2,95.7h.6v.6h-.6zM206.6,109.4h.6v.6h-.6zM195.8,64.7h.6v.6h-.6zM163.6,96.6h.6v.6h-.6zM136.7,118.1h.6v.6h-.6zM171.3,116.2h.6v.6h-.6zM199.6,60.8h.6v.6h-.6zM150.9,113.2h.6v.6h-.6zM195.4,122.2h.6v.6h-.6zM173.2,108.8h.6v.6h-.6zM178.7,77.2h.6v.6h-.6zM171.7,99.6h.6v.6h-.6zM179.8,54.7h.6v.6h-.6zM206.5,51.9h.6v.6h-.6zM155.9,55.9h.6v.6h-.6zM151.2,122.1h.6v.6h-.6zM171.8,63.3h.6v.6h-.6zM181.7,86.5h.6v.6h-.6zM170.6,69.3h.6v.6h-.6zM167,61.5h.6v.6h-.6zM145.3,109.5h.6v.6h-.6zM170.5,55.9h.6v.6h-.6zM195.4,92.4h.6v.6h-.6zM169.2,123.8h.6v.6h-.6zM201.7,71.8h.6v.6h-.6zM172.6,84.2h.6v.6h-.6zM159.1,82.3h.6v.6h-.6zM210.1,56.9h.6v.6h-.6zM189.4,99.7h.6v.6h-.6zM185.9,81.6h.6v.6h-.6zM185.7,94.2h.6v.6h-.6zM192.6,95.1h.6v.6h-.6zM184.7,66.1h.6v.6h-.6zM176.3,79.1h.6v.6h-.6zM151.4,83.6h.6v.6h-.6zM139.6,90.6h.6v.6h-.6zM209.5,100.3h.6v.6h-.6zM145.8,111h.6v.6h-.6zM165.7,61h.6v.6h-.6zM177.5,80.4h.6v.6h-.6zM166.5,96.3h.6v.6h-.6zM140.1,117.2h.6v.6h-.6zM194.6,116.6h.6v.6h-.6zM180,118.1h.6v.6h-.6zM170.3,112.8h.6v.6h-.6zM191,98.3h.6v.6h-.6zM155.3,121h.6v.6h-.6zM159.2,68.7h.6v.6h-.6zM184.7,56.8h.6v.6h-.6zM154.2,85.7h.6v.6h-.6zM176.7,114.5h.6v.6h-.6zM198.5,120.4h.6v.6h-.6zM184.3,89.2h.6v.6h-.6zM155.8,87.7h.6v.6h-.6zM189.6,124.3h.6v.6h-.6zM196.4,84.9h.6v.6h-.6zM148.2,102.4h.6v.6h-.6zM195.3,92.6h.6v.6h-.6zM179.5,59.4h.6v.6h-.6zM170.6,80.4h.6v.6h-.6zM138.6,55.7h.6v.6h-.6zM190.4,64h.6v.6h-.6zM208.4,54.1h.6v.6h-.6zM195.2,70.5h.6v.6h-.6zM147.3,99.7h.6v.6h-.6zM178.4,72.8h.6v.6h-.6zM183.1,91.8h.6v.6h-.6zM192.6,96.4h.6v.6h-.6zM176.4,76.9h.6v.6h-.6zM209.2,115.7h.6v.6h-.6zM193.8,112.8h.6v.6h-.6zM202,106.3h.6v.6h-.6zM175.4,114.6h.6v.6h-.6zM201,101.2h.6v.6h-.6zM190.4,100.6h.6v.6h-.6zM203.4,108.7h.6v.6h-.6zM210.5,111.4h.6v.6h-.6zM188.1,96h.6v.6h-.6zM209.2,120.7h.6v.6h-.6zM178.8,88.3h.6v.6h-.6zM187.9,88.4h.6v.6h-.6zM207.5,95.1h.6v.6h-.6zM206.2,96.6h.6v.6h-.6zM174.3,119.6h.6v.6h-.6zM189.1,84.9h.6v.6h-.6zM180.6,119.4h.6v.6h-.6zM209.6,122.9h.6v.6h-.6zM196.7,115.1h.6v.6h-.6zM210.8,89.3h.6v.6h-.6zM206.7,95.4h.6v.6h-.6zM185.6,108.7h.6v.6h-.6zM201.2,85h.6v.6h-.6zM194.2,102.4h.6v.6h-.6zM204.3,102.8h.6v.6h-.6zM203.1,100.6h.6v.6h-.6zM190.1,86h.6v.6h-.6zM195.3,108.9h.6v.6h-.6zM209.6,101.3h.6v.6h-.6zM208.5,114.2h.6v.6h-.6zM201,101.2h.6v.6h-.6zM199.6,105.8h.6v.6h-.6zM185.4,110.8h.6v.6h-.6zM209,107.4h.6v.6h-.6zM200.4,97.2h.6v.6h-.6zM190.5,111.9h.6v.6h-.6zM179,110.5h.6v.6h-.6zM195.7,118.3h.6v.6h-.6zM181.9,124.2h.6v.6h-.6zM183.5,101.4h.6v.6h-.6zM207.3,95h.6v.6h-.6zM199.2,104h.6v.6h-.6zM188.6,94.7h.6v.6h-.6zM207.5,100.5h.6v.6h-.6zM204.5,113.5h.6v.6h-.6zM178.3,95.1h.6v.6h-.6zM190.5,109.1h.6v.6h-.6zM200.5,114.1h.6v.6h-.6zM179,114h.6v.6h-.6zM193.9,105.2h.6v.6h-.6zM198.9,116.2h.6v.6h-.6zM190.8,91.7h.6v.6h-.6zM206.6,93.4h.6v.6h-.6zM183.3,85.1h.6v.6h-.6zM177,91.7h.6v.6h-.6zM181.4,101.2h.6v.6h-.6zM200.2,112.5h.6v.6h-.6zM179.3,104.2h.6v.6h-.6zM199.2,117.4h.6v.6h-.6zM194.7,98.6h.6v.6h-.6zM193.2,124h.6v.6h-.6zM176.9,110.9h.6v.6h-.6zM186.1,116.9h.6v.6h-.6zM182.9,111.8h.6v.6h-.6zM189.1,99h.6v.6h-.6zM185.1,106.7h.6v.6h-.6zM174.4,121h.6v.6h-.6zM180.4,94h.6v.6h-.6zM210.1,87.6h.6v.6h-.6zM192.9,106.4h.6v.6h-.6zM188.1,91.8h.6v.6h-.6zM202.6,102.9h.6v.6h-.6zM203.4,90.9h.6v.6h-.6zM208.1,119.9h.6v.6h-.6zM177.2,114.7h.6v.6h-.6zM176.2,115.8h.6v.6h-.6zM178,109.6h.6v.6h-.6zM208.6,103.6h.6v.6h-.6zM208.8,98h.6v.6h-.6zM208.3,116.2h.6v.6h-.6zM200.7,108.2h.6v.6h-.6zM197.6,104.2h.6v.6h-.6zM182.6,104h.6v.6h-.6zM206.7,115.4h.6v.6h-.6zM196.5,84.9h.6v.6h-.6zM203.4,93.4h.6v.6h-.6zM208.1,102.3h.6v.6h-.6zM195.5,97.2h.6v.6h-.6zM178.9,110.2h.6v.6h-.6zM192.4,98.7h.6v.6h-.6zM195.4,121.9h.6v.6h-.6z" fill="#1a1a1a"/>
<path d="M135.7,90.2 C139.3,84.4 152.0,89.9 157.1,89.5 C162.2,89.2 163.8,88.3 166.3,88.2 C168.8,88.0 170.4,88.3 172.1,88.6 C173.7,89.0 175.0,89.4 176.2,90.2 C177.4,91.1 178.4,92.2 179.2,93.7 C180.1,95.2 180.7,97.2 181.3,99.2 C181.9,101.3 182.6,103.7 183.0,106.2 C183.5,108.7 183.8,111.7 183.8,114.2 C183.8,116.7 183.5,119.4 183.0,121.2 C182.6,122.9 189.2,124.0 181.3,124.6 C173.4,125.2 143.3,130.3 135.7,124.6 C128.1,118.9 132.2,96.1 135.7,90.2 Z" fill="#1c1c1c" stroke="none" stroke-width="1" filter="url(#blur1)"/>
<path d="M135.7,83.7 C136.6,81.8 139.3,79.7 140.9,78.2 C142.6,76.7 142.8,75.5 145.5,74.8 C148.2,74.1 153.2,74.2 157.1,74.1 C160.9,73.9 165.3,73.8 168.6,73.8 C171.9,73.8 175.0,74.6 176.9,74.1 C178.8,73.6 178.6,71.6 179.9,71.0 C181.2,70.3 183.4,70.1 184.8,70.4 C186.1,70.6 187.1,71.3 188.0,72.5 C188.9,73.6 189.7,75.2 190.0,77.3 C190.2,79.5 189.9,83.3 189.6,85.4 C189.3,87.5 188.8,88.8 188.0,89.8 C187.2,90.8 186.1,91.2 184.8,91.4 C183.5,91.5 181.3,91.0 180.2,90.6 C179.0,90.2 179.4,89.4 177.8,88.8 C176.3,88.3 173.0,87.3 170.9,87.1 C168.8,86.9 167.5,87.4 165.2,87.7 C162.8,88.0 162.0,88.6 157.1,88.8 C152.2,89.1 139.3,90.3 135.7,89.4 C132.2,88.6 134.9,85.5 135.7,83.7 Z" fill="#1c1c1c" stroke="none" stroke-width="1" filter="url(#blur1)"/>
<path d="M137.5,92.9 C138.8,91.3 142.3,91.4 145.5,90.9 C148.8,90.4 154.0,90.0 157.1,90.0 C160.2,90.0 162.3,90.3 164.2,90.9 C166.2,91.5 167.7,92.3 168.8,93.5 C170.0,94.7 170.8,96.3 171.2,98.1 C171.5,99.8 170.8,102.1 170.9,103.8 C171.0,105.6 171.7,106.7 171.7,108.5 C171.8,110.2 171.6,112.4 171.2,114.2 C170.7,116.1 170.4,118.0 169.1,119.4 C167.8,120.9 166.4,122.2 163.4,122.9 C160.5,123.6 155.2,123.6 151.3,123.7 C147.4,123.8 142.1,124.7 139.8,123.7 C137.4,122.7 137.7,121.6 137.2,117.7 C136.8,113.8 137.2,104.5 137.2,100.4 C137.3,96.2 136.1,94.5 137.5,92.9 Z" fill="#d8d8d8" stroke="none" stroke-width="1"/>
<path d="M138.3,94.4 L139.4,94.1 L140.2,93.5 L141.6,93.3 L142.9,93.1 L144.3,92.8 L146,92.8 L147.7,92.7 L149.4,92.4 L151,91.9 L153.1,92 L155,92 L156.2,91.6 L158,92.1 L159,91.9 L160.4,92.3 L161.4,92.4 L162.2,92.5 L162.9,92.5 L164.2,93.2 L164.9,93.4 L165.7,93.8 L166.4,94.3 L166.8,94.5 L167.1,94.8 L168,95.8 L168.2,96.1 L168.7,97 L168.8,97.5 L169.1,98.3 L169.4,99.2 L169.4,100 L169.5,101 L169.5,102 L169.3,102.8 L169.2,103.6 L169.3,104.6 L169.6,105.6 L169.7,106.2 L169.8,106.9 L169.7,107.3 L169.8,108 L169.8,108.7 L170,109.7 L169.9,110.5 L169.8,111.4 L169.7,112.3 L169.5,113.2 L169.6,114.3 L169.1,114.9 L169.2,116.1 L169,116.9 L168.6,117.6 L168.2,118.4 L167.5,119 L167,119.8 L166.3,120.3 L165.7,121 L164.8,121.6 L163.4,121.7 L162.2,122.2 L160.9,122.7 L159.1,122.8 L157.2,123 L155.3,123.1 L153.2,123.1 L151.1,123 L149.3,123.2 L147.4,123.4 L145.3,123.3 L143.5,123.4 L142.1,123.4 L140.5,122.9 L139.7,122.5 L139,121.8 L138.9,121.4 L138.2,119.9 L138.4,119.1 L138.2,117.3 L137.8,114.8 L138.2,112.7 L138.1,109.6 L138.1,106.7 L138.1,103.9 L138.2,101.7 L137.9,99.6 L137.8,98.2 L137.7,97.1 L137.7,96.1 L138.2,95.4Z" fill="none" stroke="#505050" stroke-width="0.42"/>
<path d="M139.3,96 L139.9,95.4 L141.2,95.4 L142.4,95.2 L143.3,94.6 L144.9,94.8 L146,94.2 L147.9,94.4 L149.2,94 L150.8,93.7 L152.6,93.7 L154.5,94 L155.6,93.6 L156.8,93.5 L158,93.6 L159.4,94.1 L160.3,94.2 L161.2,94.4 L162,94.5 L162.9,94.9 L163.4,94.9 L164,95.2 L164.9,95.9 L165.3,96.2 L165.8,96.6 L166.1,97 L166.6,97.7 L167.2,98.5 L167.5,99.2 L167.7,99.9 L167.9,100.7 L167.6,101.1 L167.7,102 L167.6,102.8 L167.6,103.6 L167.5,104.4 L167.8,105.4 L167.7,106 L167.8,106.7 L168.1,107.5 L168,107.9 L168.2,108.6 L168.5,109.6 L168.2,110 L168.3,111 L168.2,111.7 L167.9,112.4 L167.8,113.2 L167.9,114.3 L167.6,115 L167.2,115.5 L167.3,116.7 L166.7,117.1 L166.4,117.9 L165.8,118.4 L165.6,119.4 L164.7,119.6 L163.9,120.1 L163.2,120.8 L162.5,121.4 L161.2,121.7 L159.9,122 L158.3,122.2 L156.2,121.9 L154.4,122 L153,122.4 L151.2,122.5 L149.3,122.5 L147.3,122.4 L145.5,122.4 L144.1,122.6 L142.6,122.4 L141.7,122.3 L140.7,121.8 L140.1,121.3 L139.4,120.2 L139.3,119.5 L139,118.2 L139.1,116.8 L138.8,114.6 L138.7,112.2 L138.9,109.9 L138.8,107.2 L138.7,104.7 L139.1,103 L138.8,101.1 L138.6,99.6 L138.8,98.7 L138.9,97.8 L139.2,97.1Z" fill="none" stroke="#505050" stroke-width="0.42"/>
<path d="M140.9,98.2 L141.4,97.6 L142,97.1 L143.1,96.8 L144.2,96.6 L145.5,96.5 L146.6,96.2 L147.9,95.9 L149.2,95.7 L150.7,95.7 L152.2,95.7 L153.3,95.4 L154.6,95.4 L156,95.6 L157.1,95.6 L158.2,95.8 L158.9,95.8 L159.9,96.1 L160.7,96.3 L161.2,96.3 L162.3,97 L162.6,97 L163.4,97.6 L163.6,97.7 L164.1,98.2 L164.7,98.9 L164.8,99.1 L165.5,100 L165.7,100.6 L165.8,101.1 L166.1,102 L166.2,102.7 L166.2,103.4 L166.3,104.1 L165.9,104.4 L166.3,105.5 L166.3,106.1 L166.3,106.7 L166.1,107.2 L166.4,108 L166.3,108.6 L166.2,109 L166.6,110 L166.6,110.7 L166.3,111.1 L166.6,112.2 L166.5,112.9 L166.5,113.7 L166.3,114.3 L166,115 L165.7,115.6 L165.3,116.1 L165.2,117 L164.9,117.7 L164.4,118.2 L164,118.9 L163.3,119.3 L162.4,119.6 L161.7,120.1 L160.7,120.5 L159.7,120.8 L158.3,120.9 L156.8,120.9 L155.4,121.2 L154.2,121.6 L152.4,121.5 L150.7,121.5 L149.3,121.8 L147.8,121.9 L146.4,121.9 L145.1,121.7 L143.5,121.2 L142.7,121.2 L142,120.8 L141.1,120 L140.7,119.4 L140.4,118.5 L140.2,117.2 L140.2,115.9 L139.9,114 L139.8,112 L140,110.4 L139.7,108.2 L140,106.6 L139.7,104.6 L140,103.2 L140,101.8 L140,100.6 L140.1,99.5 L140.2,98.5Z" fill="none" stroke="#505050" stroke-width="0.42"/>
<path d="M141.8,99.8 L142.2,99.2 L142.9,98.8 L143.8,98.5 L144.8,98.3 L146,98.3 L146.9,97.8 L148.1,97.7 L149.5,97.8 L150.5,97.5 L151.8,97.6 L152.8,97.3 L154.1,97.4 L154.9,97.2 L156,97.3 L157,97.5 L157.8,97.6 L158.8,97.9 L159.7,98.2 L160.1,98.3 L160.9,98.7 L161.4,98.9 L161.8,99.2 L162.5,99.7 L162.7,99.9 L163.1,100.3 L163.4,100.8 L163.6,101.2 L163.7,101.7 L164.2,102.6 L164.3,103.2 L164.5,103.9 L164.4,104.3 L164.6,105.1 L164.6,105.6 L164.6,106.2 L164.4,106.6 L164.5,107.3 L164.6,107.9 L164.8,108.7 L164.8,109.3 L164.8,109.8 L164.9,110.6 L165,111.2 L164.8,111.7 L164.6,112.1 L164.8,113 L164.6,113.6 L164.6,114.4 L164.4,115 L164.2,115.5 L163.8,116 L163.6,116.8 L163.3,117.3 L162.9,117.9 L162.3,118.3 L161.9,118.8 L161.1,119.1 L160.3,119.5 L159.2,119.6 L158.3,119.9 L157.4,120.4 L156.1,120.4 L154.8,120.5 L153.3,120.5 L152.2,120.9 L150.5,120.7 L149.4,121 L147.8,120.8 L146.5,120.7 L145.5,120.7 L144.3,120.3 L143.9,120.5 L142.7,119.7 L142.5,119.6 L141.6,118.5 L141.6,117.9 L141.1,116.5 L141,115.2 L140.8,113.6 L140.8,112.1 L140.7,110.5 L140.7,109 L140.4,107.2 L140.6,105.8 L140.7,104.5 L140.9,103.4 L141.1,102.2 L140.9,100.9 L141.2,100.2Z" fill="none" stroke="#505050" stroke-width="0.42"/>
<path d="M143,101.6 L143.8,101.4 L144.4,101 L144.9,100.5 L145.7,100.2 L146.4,99.9 L147.7,100 L148.2,99.5 L149.3,99.4 L150.1,99.2 L151.3,99.3 L152.2,99.2 L153.4,99.5 L154,99.2 L155,99.4 L155.7,99.3 L156.8,99.7 L157.2,99.5 L158.3,100.1 L158.5,99.9 L159.3,100.3 L160,100.8 L160,100.7 L160.5,101 L161,101.5 L161.6,102.2 L161.7,102.4 L161.8,102.7 L162.2,103.4 L162.3,103.9 L162.6,104.4 L162.3,104.6 L162.5,105.2 L162.8,106 L162.7,106.4 L163,107 L162.7,107.3 L163.1,108.2 L162.9,108.5 L162.8,109 L163.2,109.9 L163.2,110.5 L162.8,110.6 L163.2,111.6 L163.2,112.2 L163.1,112.6 L163,113.1 L162.7,113.5 L162.9,114.4 L162.2,114.4 L162.3,115.3 L162.1,115.8 L161.8,116.3 L161.5,116.9 L160.8,117 L160.6,117.7 L159.8,117.8 L159.2,118.2 L158.7,118.8 L157.6,118.8 L156.9,119.2 L155.8,119.2 L155.2,119.8 L153.8,119.7 L152.7,119.8 L151.9,120.2 L150.3,119.9 L149.2,119.8 L148.3,120 L147.2,119.8 L146.6,119.9 L145.8,119.7 L144.7,119.1 L144.1,118.7 L143.4,118 L142.9,117.2 L142.4,116.3 L142.1,115.3 L142.3,114.6 L141.7,113.1 L141.6,112 L141.8,111.1 L141.6,109.7 L141.8,108.7 L141.6,107.3 L141.7,106.1 L141.8,105 L142.1,104.1 L142.4,103.3 L142.6,102.3Z" fill="none" stroke="#505050" stroke-width="0.42"/>
<path d="M144.1,103.6 L144.7,103.2 L145.2,102.7 L145.9,102.4 L146.3,102 L147.3,102 L147.7,101.6 L148.8,101.7 L149.5,101.6 L150.1,101.3 L150.8,101.2 L152,101.5 L152.3,101 L153.5,101.5 L154.2,101.4 L154.8,101.4 L155.5,101.5 L156.2,101.7 L156.9,101.9 L157.3,101.9 L157.6,102 L158.2,102.3 L158.8,102.8 L159.1,103 L159.5,103.3 L159.5,103.4 L159.8,103.8 L160.1,104.3 L160.1,104.5 L160.5,105.2 L160.9,105.8 L160.6,105.8 L160.7,106.2 L161,106.8 L161.3,107.5 L161,107.6 L161.3,108.3 L161.5,109 L161.5,109.5 L161.2,109.7 L161.2,110.2 L161.3,110.8 L161.3,111.3 L161,111.5 L161.2,112.3 L161,112.6 L160.8,112.9 L160.8,113.5 L160.9,114.2 L160.7,114.6 L160.7,115.2 L160.3,115.5 L159.7,115.6 L159.6,116.3 L159,116.4 L158.6,116.9 L158.1,117.2 L157.8,117.8 L157.1,118.1 L156.1,118 L155.5,118.4 L154.7,118.6 L154,118.9 L153.3,119.2 L152.2,119.1 L151.3,119.2 L150.6,119.4 L149.4,119 L149,119.3 L147.9,118.8 L147.4,118.9 L146.5,118.5 L145.6,117.8 L145.2,117.5 L144.5,116.7 L144.4,116.4 L144,115.7 L143.3,114.5 L143.2,113.9 L143,113.1 L142.9,112.3 L142.7,111.3 L142.4,110.2 L142.8,109.6 L142.5,108.3 L142.7,107.5 L142.9,106.6 L143.2,105.9 L143.4,105.1 L143.8,104.4Z" fill="none" stroke="#505050" stroke-width="0.42"/>
<path d="M145.2,105.5 L145.8,105.2 L146.1,104.6 L146.4,104 L147.3,104.1 L147.6,103.7 L148.2,103.6 L148.6,103.2 L149.1,103 L149.9,103 L150.6,103 L151.5,103.2 L151.7,102.8 L152.8,103.3 L153.5,103.4 L153.7,103.1 L154.7,103.5 L155.3,103.6 L155.7,103.7 L155.9,103.5 L156.7,104.1 L156.9,104 L157.2,104.2 L157.7,104.7 L157.7,104.7 L158.3,105.3 L158.3,105.3 L158.5,105.7 L158.8,106.2 L158.8,106.4 L159.1,106.8 L159.3,107.3 L159.3,107.6 L159.4,108 L159.6,108.4 L159.7,108.9 L159.8,109.3 L159.6,109.6 L159.5,109.8 L159.7,110.5 L159.7,110.9 L159.7,111.3 L159.5,111.6 L159.5,112.1 L159.4,112.4 L159.5,113 L159.4,113.4 L159,113.5 L159.2,114.2 L158.9,114.4 L159,115.1 L158.6,115.3 L158.2,115.5 L158.1,116.1 L157.7,116.4 L157.2,116.6 L156.8,116.9 L156,116.9 L155.5,117.2 L155,117.4 L154.3,117.6 L153.9,118 L153.2,118.2 L152.6,118.5 L151.5,118.1 L150.8,118.2 L150.5,118.6 L149.6,118.4 L148.8,118.1 L148.4,118.3 L147.6,117.9 L147.1,117.6 L146.2,117 L146,116.8 L145.5,116.2 L145.1,115.6 L144.5,114.8 L144.5,114.5 L144.3,114 L144,113.2 L144,112.6 L143.7,111.7 L143.7,111.1 L143.6,110.2 L143.5,109.2 L144,108.9 L143.9,107.9 L144.1,107.3 L144.3,106.5 L144.5,105.8Z" fill="none" stroke="#505050" stroke-width="0.42"/>
<path d="M146.1,107.3 L146.4,106.8 L147.1,106.7 L147.4,106.3 L147.7,105.9 L148,105.5 L148.2,105.1 L149.2,105.5 L149.6,105.3 L149.8,105 L150.2,104.9 L150.9,105 L151.5,105.1 L151.8,104.9 L152.2,104.8 L152.7,104.9 L153.6,105.4 L153.9,105.3 L154.1,105.2 L154.6,105.4 L154.9,105.5 L155.6,106 L155.6,105.9 L156,106.2 L156.4,106.6 L156.7,106.9 L156.5,106.8 L156.9,107.2 L157.3,107.7 L157,107.5 L157.2,107.9 L157.7,108.5 L157.6,108.7 L157.7,109 L158,109.5 L157.6,109.4 L158,110.1 L157.6,110.1 L158,110.8 L157.9,111 L157.7,111.1 L157.7,111.5 L158,112.2 L157.9,112.5 L157.8,112.8 L157.6,113 L157.6,113.5 L157.7,113.9 L157.3,114 L157,114.2 L156.8,114.5 L156.7,114.9 L156.4,115.1 L156.2,115.4 L156.1,116 L155.4,115.8 L155.4,116.5 L154.5,116.3 L154.5,116.9 L153.6,116.7 L153.5,117.2 L153,117.4 L152.4,117.5 L151.6,117.3 L151.4,117.6 L150.5,117.3 L150.4,117.7 L149.8,117.6 L149.1,117.3 L148.8,117.2 L148.4,117.1 L147.9,116.7 L147.1,116 L146.9,115.8 L146.5,115.5 L146,114.8 L145.6,114.3 L145.2,113.8 L145.2,113.5 L144.8,112.8 L144.7,112.4 L144.6,111.9 L144.9,111.6 L144.6,110.8 L144.8,110.4 L144.7,109.7 L145.1,109.4 L145.5,109 L145.3,108.1 L146,108Z" fill="none" stroke="#505050" stroke-width="0.42"/>
<path d="M146.6,108.6 L147.3,108.7 L147.3,108 L147.7,107.9 L148.1,107.7 L148.3,107.3 L148.5,107 L149.1,107.1 L149.4,106.9 L149.8,106.9 L149.9,106.5 L150.3,106.5 L150.7,106.6 L151.3,106.7 L151.8,106.9 L152.2,107 L152.7,107.1 L152.9,107.1 L153.2,107.1 L153.6,107.3 L153.6,107.1 L154.2,107.5 L154.4,107.7 L154.8,107.9 L154.7,107.8 L155.2,108.3 L155.3,108.4 L155.3,108.5 L155.6,108.8 L155.7,109 L156,109.4 L156,109.6 L155.7,109.4 L155.9,109.9 L156.2,110.4 L156.1,110.4 L156.2,110.8 L156.1,111 L156.4,111.5 L156,111.4 L156.4,112.1 L156.2,112.2 L156,112.3 L155.9,112.5 L155.9,112.8 L155.8,113.1 L155.7,113.3 L156.1,114.1 L155.5,113.9 L155.6,114.3 L155.5,114.6 L155.2,114.7 L155.3,115.3 L154.8,115.2 L154.3,115.3 L154.3,115.7 L153.9,115.8 L153.7,116.2 L153.3,116.3 L152.8,116.4 L152.2,116.2 L152,116.6 L151.5,116.6 L151.2,116.7 L150.6,116.6 L150.2,116.6 L149.7,116.5 L149.7,116.8 L149,116.4 L149.1,116.6 L148.6,116.3 L148.3,116.1 L148,115.9 L147.4,115.3 L147.1,115 L147,114.9 L146.7,114.5 L146.2,113.8 L146,113.4 L146,113.3 L145.6,112.6 L145.8,112.5 L145.4,111.7 L145.6,111.6 L145.5,111 L145.9,110.8 L145.7,110.1 L145.9,109.8 L146.4,109.6 L146.5,109.1Z" fill="none" stroke="#505050" stroke-width="0.42"/>
<path d="M147.3,110.1 L147.5,109.9 L148.2,110 L148.3,109.7 L148.6,109.6 L148.9,109.4 L148.8,108.9 L149.2,108.9 L149.5,108.8 L149.7,108.7 L149.8,108.5 L150.1,108.5 L150.7,108.8 L150.6,108.5 L150.8,108.4 L151.1,108.5 L151.6,108.8 L151.7,108.7 L152.3,109.1 L152.1,108.8 L152.7,109.2 L152.8,109.2 L152.7,109 L153.1,109.3 L153.3,109.5 L153.6,109.7 L153.4,109.5 L153.9,110.1 L153.7,109.8 L153.8,110 L154,110.3 L154.1,110.5 L154.3,110.8 L154.2,110.8 L154.2,111 L154.6,111.5 L154.6,111.7 L154.7,112 L154.5,112 L154.7,112.4 L154.3,112.2 L154.4,112.5 L154.3,112.7 L154.6,113.2 L154.4,113.3 L154.5,113.6 L154.4,113.9 L154,113.7 L154.1,114.1 L154.1,114.5 L153.7,114.4 L153.4,114.4 L153.4,114.7 L153.3,115 L153.2,115.2 L152.7,115.1 L152.5,115.3 L152.3,115.5 L151.8,115.4 L151.9,115.9 L151.5,115.9 L151.2,115.9 L150.8,115.8 L150.8,116.1 L150.2,115.8 L150,115.9 L150,116.1 L149.3,115.6 L149,115.5 L149.1,115.7 L149,115.6 L148.6,115.3 L148.5,115.2 L148.1,114.8 L147.7,114.5 L147.5,114.3 L147.3,114 L147,113.7 L146.8,113.4 L146.9,113.3 L146.8,113.1 L146.5,112.6 L146.6,112.4 L146.9,112.4 L146.9,112.2 L146.7,111.6 L147,111.5 L147.1,111.2 L147.3,111 L147.3,110.5Z" fill="none" stroke="#505050" stroke-width="0.42"/>
<path d="M148.2,111.8 L148.4,111.6 L148.1,111.1 L148.5,111.2 L148.8,111.1 L149,111.1 L149.1,110.9 L149.2,110.7 L149.1,110.4 L149.7,110.7 L149.4,110.2 L149.9,110.5 L150.1,110.5 L150.1,110.4 L150.5,110.5 L150.6,110.5 L150.5,110.2 L151,110.7 L150.8,110.3 L151.2,110.6 L151.5,110.8 L151.4,110.6 L151.5,110.7 L151.6,110.7 L151.9,110.9 L152.3,111.3 L152.2,111.2 L152.1,111.1 L152.6,111.6 L152.5,111.5 L152.3,111.4 L152.7,111.8 L152.7,112 L152.6,111.9 L152.9,112.3 L152.6,112.1 L152.7,112.3 L152.8,112.6 L152.8,112.7 L153,113 L153,113.2 L152.7,113 L152.8,113.3 L152.6,113.2 L152.5,113.4 L152.8,113.9 L152.3,113.6 L152.7,114.1 L152.4,114.1 L152.3,114.2 L152.1,114.3 L152.2,114.5 L151.9,114.5 L152,114.9 L151.6,114.7 L151.6,114.9 L151.3,114.9 L151.1,115 L150.8,114.9 L150.9,115.3 L150.8,115.4 L150.7,115.5 L150.4,115.4 L150.2,115.4 L149.7,115.1 L149.7,115.2 L149.7,115.3 L149.7,115.4 L149.1,114.9 L149.1,114.9 L149.1,115 L148.7,114.6 L148.4,114.3 L148.2,114.2 L148.2,114.2 L148.1,114 L148.1,114.1 L147.7,113.6 L147.7,113.5 L147.9,113.7 L147.7,113.4 L147.7,113.3 L147.8,113.2 L147.4,112.6 L147.4,112.4 L147.6,112.4 L147.9,112.5 L147.8,112.1 L147.7,111.8 L148,111.8Z" fill="none" stroke="#505050" stroke-width="0.42"/>
<path d="M148.8,113 L148.8,112.9 L148.5,112.5 L148.8,112.5 L148.7,112.3 L148.7,112.1 L149,112.2 L149.3,112.4 L149.4,112.3 L149.5,112.3 L149.2,111.9 L149.5,112 L149.8,112.3 L149.4,111.8 L149.9,112.2 L149.8,112 L150.2,112.3 L150.1,112.1 L150,112 L150.4,112.3 L150.5,112.4 L150.2,112 L150.7,112.5 L150.5,112.3 L150.7,112.4 L150.6,112.3 L150.8,112.5 L150.7,112.3 L151.1,112.8 L150.8,112.5 L151.1,112.8 L151.2,112.9 L151,112.8 L151.3,113.2 L151.1,113 L151.4,113.3 L151.1,113.1 L151.2,113.3 L151.3,113.5 L151.4,113.7 L151,113.4 L151.1,113.6 L151.2,113.7 L151.4,114 L151.3,114.1 L151,113.9 L151.1,114.1 L150.9,113.9 L151.1,114.3 L150.9,114.2 L150.6,114.1 L151,114.6 L150.7,114.4 L150.5,114.4 L150.2,114.3 L150.2,114.3 L150.1,114.4 L150.2,114.6 L149.9,114.5 L150.3,115 L149.9,114.7 L149.9,114.8 L149.7,114.8 L149.7,114.8 L149.4,114.6 L149.4,114.7 L149.4,114.7 L149.4,114.8 L148.9,114.4 L149.2,114.7 L149.1,114.6 L148.9,114.5 L148.9,114.5 L148.7,114.3 L148.8,114.4 L148.4,114 L148.3,113.8 L148.6,114.1 L148.3,113.8 L148.1,113.5 L148.2,113.6 L148.2,113.5 L148,113.3 L148.3,113.4 L148.3,113.3 L148.2,113.1 L148.4,113.2 L148.2,112.8 L148.3,112.8 L148.2,112.6Z" fill="none" stroke="#505050" stroke-width="0.42"/>
<path d="M137.5,92.9 C138.8,91.3 142.3,91.4 145.5,90.9 C148.8,90.4 154.0,90.0 157.1,90.0 C160.2,90.0 162.3,90.3 164.2,90.9 C166.2,91.5 167.7,92.3 168.8,93.5 C170.0,94.7 170.8,96.3 171.2,98.1 C171.5,99.8 170.8,102.1 170.9,103.8 C171.0,105.6 171.7,106.7 171.7,108.5 C171.8,110.2 171.6,112.4 171.2,114.2 C170.7,116.1 170.4,118.0 169.1,119.4 C167.8,120.9 166.4,122.2 163.4,122.9 C160.5,123.6 155.2,123.6 151.3,123.7 C147.4,123.8 142.1,124.7 139.8,123.7 C137.4,122.7 137.7,121.6 137.2,117.7 C136.8,113.8 137.2,104.5 137.2,100.4 C137.3,96.2 136.1,94.5 137.5,92.9 Z" fill="none" stroke="#333" stroke-width="0.7"/>
<path d="M150.2,84.8 C149.6,84.1 150.2,82.1 151.3,81.3 C152.5,80.6 154.2,80.7 157.1,80.5 C160.0,80.3 165.5,80.2 168.6,80.2 C171.7,80.2 174.1,80.2 175.5,80.5 C177.0,80.9 177.3,81.8 177.3,82.5 C177.3,83.2 177.0,84.3 175.5,84.8 C174.1,85.3 172.1,85.5 168.6,85.6 C165.2,85.7 157.8,85.7 154.8,85.6 C151.7,85.5 150.7,85.5 150.2,84.8 Z" fill="#d8d8d8" stroke="none" stroke-width="1"/>
<path d="M153,84.6 L152.8,84.3 L152.7,83.9 L152.9,83.9 L152.8,83.4 L152.6,82.8 L152.9,82.7 L153.3,82.6 L153.3,82.1 L153.5,81.8 L154.1,82 L154.2,81.6 L154.5,81.5 L154.6,81.1 L155,81.1 L155.8,81.4 L156.3,81.4 L156.8,81.3 L157.4,81.3 L157.6,80.8 L158.7,81.3 L159.3,81.1 L160.2,81.1 L160.9,80.8 L162,80.9 L162.8,80.6 L164.2,81 L164.9,80.7 L166.1,80.8 L166.7,80.5 L167.6,80.7 L168.4,80.7 L169.2,80.9 L169.6,80.6 L170.4,80.8 L170.7,80.6 L171.6,80.9 L171.8,80.6 L172.5,81 L172.7,80.8 L173,80.8 L173.7,81.2 L173.6,81 L174.3,81.6 L174,81.3 L174.2,81.6 L174.2,81.7 L174.8,82.3 L174.7,82.3 L174.8,82.6 L174.4,82.4 L174.5,82.7 L174.8,83.2 L174.4,83 L174.6,83.5 L174.3,83.6 L174.1,83.7 L173.9,83.9 L173.8,84.2 L173.8,84.6 L173.1,84.4 L172.7,84.4 L172.3,84.4 L172,84.7 L171.6,84.9 L171,84.8 L170.3,84.8 L169.8,84.9 L169.1,84.9 L168.5,85.1 L167.9,85.3 L166.7,85.2 L165.5,85 L164.6,85.3 L163.2,85.1 L161.8,85 L160.9,85.3 L159.4,85 L158.3,84.9 L157.4,85.1 L156.4,84.9 L155.9,85.1 L155.1,84.8 L154.9,85.1 L154.3,84.9 L154,85 L153.5,84.7 L153.4,84.8 L153.3,84.8 L152.8,84.4Z" fill="none" stroke="#5e5e5e" stroke-width="0.42"/>
<path d="M155.8,84.3 L155.7,84 L155.5,83.7 L155.6,83.6 L155.5,83.3 L155.8,83.3 L155.7,82.8 L155.8,82.6 L156,82.4 L156.1,82.1 L156.3,82 L156.4,81.8 L156.6,81.6 L157.1,81.8 L157.6,81.9 L157.7,81.6 L158.1,81.7 L158.3,81.5 L158.7,81.4 L159.6,81.8 L159.7,81.3 L160.4,81.5 L160.9,81.3 L162,81.7 L162.4,81.3 L163.1,81.2 L163.8,81.2 L164.5,81.1 L165.5,81.4 L166,81.3 L166.9,81.5 L167.1,81.1 L167.7,81.2 L168.2,81.2 L168.9,81.4 L169.3,81.5 L169.4,81.1 L170,81.4 L170.2,81.2 L170.9,81.7 L171,81.6 L171,81.4 L171.2,81.6 L171.4,81.7 L171.9,82.1 L171.7,82 L171.8,82.1 L171.7,82.1 L171.9,82.4 L172,82.6 L172.2,83 L172,82.8 L172.1,83.1 L172.1,83.4 L172,83.5 L171.8,83.4 L171.7,83.6 L171.4,83.6 L171.4,83.9 L171.2,84 L170.8,84 L170.5,84 L170.3,84.2 L170.2,84.5 L169.7,84.4 L169.2,84.4 L168.9,84.5 L168.3,84.4 L167.7,84.4 L167.2,84.5 L166.5,84.5 L165.8,84.4 L165.3,84.7 L164.3,84.6 L163.3,84.5 L162.3,84.5 L161.6,84.7 L160.8,84.8 L159.7,84.5 L159,84.4 L158.3,84.4 L158.2,84.8 L157.4,84.5 L157.1,84.5 L156.8,84.5 L156.4,84.4 L156.5,84.7 L156.3,84.6 L155.7,84.1 L155.8,84.2Z" fill="none" stroke="#5e5e5e" stroke-width="0.42"/>
<path d="M158.3,83.6 L158.2,83.4 L158.4,83.5 L158.6,83.6 L158.2,83.1 L158.3,83 L158.3,82.8 L158.7,82.9 L158.4,82.4 L158.7,82.5 L158.7,82.2 L159.1,82.4 L159.3,82.3 L159.3,82.2 L159.8,82.4 L159.8,82.1 L160.3,82.3 L160.3,82.1 L160.6,82 L160.8,81.9 L161.5,82.2 L161.9,82.2 L162,81.9 L162.5,81.9 L162.8,81.7 L163.4,81.8 L164.2,82.1 L164.2,81.7 L165,82 L165.5,82.1 L165.9,82 L166.3,82.1 L166.5,81.8 L166.8,81.9 L167.1,81.8 L167.6,82.1 L167.8,82 L168.1,82.1 L168.4,82.2 L168.5,82.1 L168.5,81.9 L168.8,82.2 L168.8,82.1 L169,82.2 L169.1,82.3 L169.1,82.3 L169.2,82.4 L169.2,82.4 L169.5,82.8 L169.5,82.9 L169.4,82.9 L169.3,82.8 L169.3,83 L169.5,83.4 L169.5,83.5 L169.1,83.2 L169.1,83.4 L169.1,83.6 L169,83.7 L168.6,83.5 L168.6,83.7 L168.4,83.8 L168.5,84.1 L168.2,84.1 L167.6,83.8 L167.7,84.1 L167.3,84.1 L166.8,83.9 L166.5,84 L165.9,83.9 L165.6,84 L165.3,84.2 L164.8,84.3 L164.1,84.1 L163.5,84 L162.9,84 L162.2,83.9 L161.7,84 L161.6,84.4 L160.7,83.9 L160.6,84.3 L159.8,83.9 L159.9,84.3 L159.6,84.2 L159.1,83.9 L159.2,84.2 L158.9,84 L158.5,83.8 L158.4,83.7 L158.4,83.7Z" fill="none" stroke="#5e5e5e" stroke-width="0.42"/>
<path d="M161.1,83.3 L161,83.2 L160.9,83.1 L161.1,83.2 L161.2,83.2 L161,82.9 L161,82.9 L161.4,83.2 L161.2,82.8 L161.5,83 L161.3,82.7 L161.6,82.9 L161.7,82.8 L161.8,82.8 L161.7,82.6 L161.7,82.4 L161.8,82.4 L162.3,82.7 L162.1,82.3 L162.4,82.5 L162.7,82.6 L162.8,82.5 L163.2,82.6 L163.4,82.6 L163.4,82.4 L163.8,82.5 L164.1,82.6 L164.1,82.3 L164.4,82.4 L164.7,82.6 L164.8,82.4 L165.3,82.7 L165.1,82.3 L165.5,82.5 L165.4,82.3 L165.9,82.7 L166.1,82.7 L166.2,82.7 L166.2,82.5 L166.3,82.6 L166.4,82.6 L166.4,82.6 L166.3,82.4 L166.8,82.9 L166.6,82.6 L166.9,83 L166.5,82.6 L166.6,82.7 L166.7,82.9 L166.8,82.9 L166.8,83 L166.6,82.9 L166.5,82.8 L166.7,83.1 L166.7,83.1 L166.4,83 L166.6,83.2 L166.6,83.3 L166.4,83.2 L166.5,83.4 L166.5,83.6 L166.3,83.5 L166,83.3 L166.3,83.7 L165.8,83.4 L165.9,83.7 L165.6,83.5 L165.2,83.4 L165.1,83.4 L165,83.6 L165,83.7 L164.6,83.6 L164.1,83.4 L164.2,83.8 L163.9,83.8 L163.7,83.9 L163.4,83.8 L162.9,83.6 L162.5,83.4 L162.7,83.8 L162,83.4 L161.8,83.3 L162,83.7 L161.9,83.8 L161.6,83.6 L161.6,83.7 L161.5,83.6 L161.2,83.4 L161.2,83.5 L161.3,83.6Z" fill="none" stroke="#5e5e5e" stroke-width="0.42"/>
<path d="M150.2,84.8 C149.6,84.1 150.2,82.1 151.3,81.3 C152.5,80.6 154.2,80.7 157.1,80.5 C160.0,80.3 165.5,80.2 168.6,80.2 C171.7,80.2 174.1,80.2 175.5,80.5 C177.0,80.9 177.3,81.8 177.3,82.5 C177.3,83.2 177.0,84.3 175.5,84.8 C174.1,85.3 172.1,85.5 168.6,85.6 C165.2,85.7 157.8,85.7 154.8,85.6 C151.7,85.5 150.7,85.5 150.2,84.8 Z" fill="none" stroke="#333" stroke-width="0.7"/>
<path d="M179.6,78.5 C179.7,76.6 180.1,75.2 180.7,74.4 C181.4,73.6 182.7,73.3 183.6,73.6 C184.6,73.9 185.9,74.8 186.5,76.2 C187.1,77.5 187.2,80.2 187.1,81.9 C187.0,83.7 186.7,85.6 185.9,86.5 C185.2,87.5 183.5,87.9 182.5,87.7 C181.5,87.5 180.4,86.9 179.9,85.4 C179.4,83.8 179.4,80.3 179.6,78.5 Z" fill="#d8d8d8" stroke="none" stroke-width="1"/>
<path d="M180.3,78.8 L180.7,78.8 L180.8,78.5 L180.9,78.3 L180.8,77.8 L180.7,77.3 L181.1,77.4 L181.2,77.1 L180.9,76.5 L181.1,76.4 L181.2,76.2 L181.3,75.9 L181.6,76 L181.8,75.9 L182.1,75.9 L182.1,75.6 L182.4,75.6 L182.5,75.4 L182.6,75.3 L182.9,75.3 L183.2,75.5 L183.2,75.2 L183.4,75.3 L183.6,75.4 L183.7,75.4 L184.1,75.6 L184.4,75.8 L184.8,76.2 L184.6,76 L184.8,76.2 L185.3,76.6 L185.3,76.8 L185.8,77.3 L185.8,77.5 L185.7,77.5 L186,78.1 L186.1,78.5 L186.1,78.9 L185.9,79 L186.1,79.6 L186.2,80.1 L186,80.3 L186.1,80.8 L186.1,81.2 L186,81.5 L186.2,82.1 L186.2,82.5 L185.9,82.5 L185.7,82.8 L185.9,83.3 L186,83.9 L185.7,84 L185.6,84.3 L185.6,84.7 L185.2,84.6 L185,84.8 L185.1,85.2 L185,85.5 L184.5,85.4 L184.5,85.7 L184.4,86 L183.7,85.6 L183.6,85.9 L183.4,85.9 L183,85.7 L182.7,85.8 L182.6,85.8 L182.5,85.9 L182.1,85.6 L181.9,85.5 L181.8,85.5 L181.9,85.7 L181.6,85.4 L181.4,85.2 L181,84.8 L180.9,84.6 L181.1,84.7 L181,84.4 L180.6,83.7 L180.9,83.7 L180.8,83.2 L180.5,82.5 L180.4,81.8 L180.6,81.6 L180.3,80.8 L180.6,80.5 L180.6,80 L180.6,79.6Z" fill="none" stroke="#5e5e5e" stroke-width="0.42"/>
<path d="M181.5,79.7 L181.4,79.3 L181.8,79.4 L181.5,78.9 L181.8,79 L181.7,78.6 L181.9,78.5 L181.8,78.2 L181.7,77.9 L182,78 L181.9,77.7 L182.2,77.8 L182,77.4 L182.2,77.5 L182.3,77.4 L182.6,77.4 L182.5,77.2 L182.8,77.3 L183.1,77.4 L183,77.1 L183.1,77.2 L183.5,77.4 L183.5,77.4 L183.8,77.5 L183.7,77.3 L184,77.6 L184.3,77.8 L184.2,77.7 L184.4,77.9 L184.5,77.9 L184.8,78.2 L184.9,78.4 L184.9,78.5 L185.1,78.7 L185.1,78.9 L185.2,79.1 L185.1,79.3 L185.1,79.5 L185.1,79.7 L185,79.9 L185.2,80.3 L185.4,80.8 L185,80.7 L185,80.9 L185,81.2 L185,81.4 L185,81.6 L185.3,82.2 L185.2,82.3 L185.1,82.6 L184.8,82.5 L184.8,82.7 L184.9,83.1 L184.8,83.2 L184.7,83.5 L184.6,83.6 L184.7,83.9 L184.1,83.5 L184.4,84.1 L183.9,83.8 L184,84.1 L183.8,84.2 L183.5,84 L183.2,84 L183,83.9 L183,84 L183,84.1 L182.6,83.9 L182.7,84.1 L182.6,84.1 L182.5,84 L182.1,83.7 L182.2,83.8 L181.9,83.5 L182.1,83.7 L181.7,83.2 L181.6,83 L181.5,82.7 L181.5,82.6 L181.4,82.3 L181.5,82.1 L181.5,81.8 L181.6,81.6 L181.4,81.1 L181.4,80.7 L181.5,80.6 L181.4,80.2 L181.4,79.8Z" fill="none" stroke="#5e5e5e" stroke-width="0.42"/>
<path d="M182.4,80.2 L182.3,79.9 L182.3,79.8 L182.4,79.8 L182.4,79.7 L182.4,79.6 L182.5,79.5 L182.8,79.8 L182.9,79.8 L182.5,79.3 L182.8,79.5 L182.6,79.2 L182.6,79.1 L182.7,79.1 L182.8,79.1 L182.8,79 L182.9,79 L182.9,79 L183,79 L183,78.9 L183.2,79 L183.4,79.2 L183.2,78.9 L183.7,79.4 L183.4,79 L183.6,79.3 L183.6,79.2 L183.6,79.2 L184.1,79.6 L183.7,79.3 L184,79.6 L184.1,79.7 L184,79.7 L183.9,79.6 L184.2,80 L184.1,80 L184,79.9 L184.3,80.3 L184.1,80.2 L184.2,80.5 L184.4,80.7 L184.4,80.8 L184.3,80.9 L184,80.7 L184.2,81 L184.2,81.2 L184,81.1 L184.4,81.6 L184,81.3 L184,81.4 L183.9,81.4 L183.9,81.5 L184,81.8 L183.9,81.8 L184.2,82.2 L184,82.1 L184,82.2 L184.1,82.4 L183.7,82.1 L183.5,82.1 L183.5,82.2 L183.8,82.5 L183.3,82.2 L183.3,82.2 L183.1,82.1 L183.1,82.2 L183.3,82.4 L183.2,82.4 L183,82.3 L183.1,82.4 L183,82.3 L182.7,82.1 L182.7,82 L182.9,82.2 L182.7,82 L182.8,82.1 L182.6,81.8 L182.6,81.7 L182.6,81.7 L182.4,81.4 L182.7,81.5 L182.6,81.4 L182.3,81 L182.7,81.2 L182.4,80.8 L182.5,80.7 L182.4,80.5 L182.6,80.5Z" fill="none" stroke="#5e5e5e" stroke-width="0.42"/>
<path d="M179.6,78.5 C179.7,76.6 180.1,75.2 180.7,74.4 C181.4,73.6 182.7,73.3 183.6,73.6 C184.6,73.9 185.9,74.8 186.5,76.2 C187.1,77.5 187.2,80.2 187.1,81.9 C187.0,83.7 186.7,85.6 185.9,86.5 C185.2,87.5 183.5,87.9 182.5,87.7 C181.5,87.5 180.4,86.9 179.9,85.4 C179.4,83.8 179.4,80.3 179.6,78.5 Z" fill="none" stroke="#333" stroke-width="0.7"/>
</g>
<line x1="177.70" y1="51.40" x2="177.70" y2="124.40" stroke="#b24d5c" stroke-width="0.9"/>
<line x1="136.40" y1="88.60" x2="211.10" y2="88.60" stroke="#b24d5c" stroke-width="0.9"/>
<rect x="136.40" y="51.40" width="74.70" height="73.00" fill="none" stroke="#111" stroke-width="1.1"/>
<text x="138.70" y="59.20" font-size="7.44" fill="#111" textLength="8.62" lengthAdjust="spacingAndGlyphs" stroke="#111" stroke-width="0.15">2.3</text>
<text x="208.80" y="59.20" font-size="7.44" fill="#111" text-anchor="end" textLength="8.62" lengthAdjust="spacingAndGlyphs" stroke="#111" stroke-width="0.15">2.4</text>
<line x1="133.60" y1="57.60" x2="136.40" y2="57.60" stroke="#111" stroke-width="0.9"/>
<line x1="135.00" y1="69.41" x2="136.40" y2="69.41" stroke="#111" stroke-width="0.6"/>
<line x1="135.00" y1="66.44" x2="136.40" y2="66.44" stroke="#111" stroke-width="0.6"/>
<line x1="135.00" y1="64.33" x2="136.40" y2="64.33" stroke="#111" stroke-width="0.6"/>
<line x1="135.00" y1="62.69" x2="136.40" y2="62.69" stroke="#111" stroke-width="0.6"/>
<line x1="135.00" y1="61.35" x2="136.40" y2="61.35" stroke="#111" stroke-width="0.6"/>
<line x1="135.00" y1="60.22" x2="136.40" y2="60.22" stroke="#111" stroke-width="0.6"/>
<line x1="135.00" y1="59.24" x2="136.40" y2="59.24" stroke="#111" stroke-width="0.6"/>
<line x1="135.00" y1="58.37" x2="136.40" y2="58.37" stroke="#111" stroke-width="0.6"/>
<line x1="133.60" y1="74.50" x2="136.40" y2="74.50" stroke="#111" stroke-width="0.9"/>
<line x1="135.00" y1="86.31" x2="136.40" y2="86.31" stroke="#111" stroke-width="0.6"/>
<line x1="135.00" y1="83.34" x2="136.40" y2="83.34" stroke="#111" stroke-width="0.6"/>
<line x1="135.00" y1="81.23" x2="136.40" y2="81.23" stroke="#111" stroke-width="0.6"/>
<line x1="135.00" y1="79.59" x2="136.40" y2="79.59" stroke="#111" stroke-width="0.6"/>
<line x1="135.00" y1="78.25" x2="136.40" y2="78.25" stroke="#111" stroke-width="0.6"/>
<line x1="135.00" y1="77.12" x2="136.40" y2="77.12" stroke="#111" stroke-width="0.6"/>
<line x1="135.00" y1="76.14" x2="136.40" y2="76.14" stroke="#111" stroke-width="0.6"/>
<line x1="135.00" y1="75.27" x2="136.40" y2="75.27" stroke="#111" stroke-width="0.6"/>
<line x1="133.60" y1="91.40" x2="136.40" y2="91.40" stroke="#111" stroke-width="0.9"/>
<line x1="135.00" y1="103.21" x2="136.40" y2="103.21" stroke="#111" stroke-width="0.6"/>
<line x1="135.00" y1="100.24" x2="136.40" y2="100.24" stroke="#111" stroke-width="0.6"/>
<line x1="135.00" y1="98.13" x2="136.40" y2="98.13" stroke="#111" stroke-width="0.6"/>
<line x1="135.00" y1="96.49" x2="136.40" y2="96.49" stroke="#111" stroke-width="0.6"/>
<line x1="135.00" y1="95.15" x2="136.40" y2="95.15" stroke="#111" stroke-width="0.6"/>
<line x1="135.00" y1="94.02" x2="136.40" y2="94.02" stroke="#111" stroke-width="0.6"/>
<line x1="135.00" y1="93.04" x2="136.40" y2="93.04" stroke="#111" stroke-width="0.6"/>
<line x1="135.00" y1="92.17" x2="136.40" y2="92.17" stroke="#111" stroke-width="0.6"/>
<line x1="133.60" y1="108.30" x2="136.40" y2="108.30" stroke="#111" stroke-width="0.9"/>
<line x1="135.00" y1="120.11" x2="136.40" y2="120.11" stroke="#111" stroke-width="0.6"/>
<line x1="135.00" y1="117.14" x2="136.40" y2="117.14" stroke="#111" stroke-width="0.6"/>
<line x1="135.00" y1="115.03" x2="136.40" y2="115.03" stroke="#111" stroke-width="0.6"/>
<line x1="135.00" y1="113.39" x2="136.40" y2="113.39" stroke="#111" stroke-width="0.6"/>
<line x1="135.00" y1="112.05" x2="136.40" y2="112.05" stroke="#111" stroke-width="0.6"/>
<line x1="135.00" y1="110.92" x2="136.40" y2="110.92" stroke="#111" stroke-width="0.6"/>
<line x1="135.00" y1="109.94" x2="136.40" y2="109.94" stroke="#111" stroke-width="0.6"/>
<line x1="135.00" y1="109.07" x2="136.40" y2="109.07" stroke="#111" stroke-width="0.6"/>
<line x1="133.60" y1="117.00" x2="136.40" y2="117.00" stroke="#111" stroke-width="0.9"/>
<line x1="135.00" y1="120.00" x2="136.40" y2="120.00" stroke="#111" stroke-width="0.6"/>
<line x1="135.00" y1="122.00" x2="136.40" y2="122.00" stroke="#111" stroke-width="0.6"/>
<text x="121.80" y="61.10" font-size="7.56" fill="#111" textLength="7.20" lengthAdjust="spacingAndGlyphs" stroke="#111" stroke-width="0.15">10</text>
<text x="129.50" y="58.40" font-size="5.52" fill="#111" textLength="2.50" lengthAdjust="spacingAndGlyphs" stroke="#111" stroke-width="0.15">5</text>
<text x="121.80" y="78.00" font-size="7.56" fill="#111" textLength="7.20" lengthAdjust="spacingAndGlyphs" stroke="#111" stroke-width="0.15">10</text>
<text x="129.50" y="75.30" font-size="5.52" fill="#111" textLength="2.50" lengthAdjust="spacingAndGlyphs" stroke="#111" stroke-width="0.15">4</text>
<text x="121.80" y="94.90" font-size="7.56" fill="#111" textLength="7.20" lengthAdjust="spacingAndGlyphs" stroke="#111" stroke-width="0.15">10</text>
<text x="129.50" y="92.20" font-size="5.52" fill="#111" textLength="2.50" lengthAdjust="spacingAndGlyphs" stroke="#111" stroke-width="0.15">3</text>
<text x="121.80" y="111.80" font-size="7.56" fill="#111" textLength="7.20" lengthAdjust="spacingAndGlyphs" stroke="#111" stroke-width="0.15">10</text>
<text x="129.50" y="109.10" font-size="5.52" fill="#111" textLength="2.50" lengthAdjust="spacingAndGlyphs" stroke="#111" stroke-width="0.15">2</text>
<text x="130.40" y="119.80" font-size="7.56" fill="#111" text-anchor="end" stroke="#111" stroke-width="0.15">0</text>
<line x1="153.20" y1="124.40" x2="153.20" y2="127.20" stroke="#111" stroke-width="0.9"/>
<line x1="141.39" y1="124.40" x2="141.39" y2="125.80" stroke="#111" stroke-width="0.6"/>
<line x1="144.36" y1="124.40" x2="144.36" y2="125.80" stroke="#111" stroke-width="0.6"/>
<line x1="146.47" y1="124.40" x2="146.47" y2="125.80" stroke="#111" stroke-width="0.6"/>
<line x1="148.11" y1="124.40" x2="148.11" y2="125.80" stroke="#111" stroke-width="0.6"/>
<line x1="149.45" y1="124.40" x2="149.45" y2="125.80" stroke="#111" stroke-width="0.6"/>
<line x1="150.58" y1="124.40" x2="150.58" y2="125.80" stroke="#111" stroke-width="0.6"/>
<line x1="151.56" y1="124.40" x2="151.56" y2="125.80" stroke="#111" stroke-width="0.6"/>
<line x1="152.43" y1="124.40" x2="152.43" y2="125.80" stroke="#111" stroke-width="0.6"/>
<line x1="170.10" y1="124.40" x2="170.10" y2="127.20" stroke="#111" stroke-width="0.9"/>
<line x1="158.29" y1="124.40" x2="158.29" y2="125.80" stroke="#111" stroke-width="0.6"/>
<line x1="161.26" y1="124.40" x2="161.26" y2="125.80" stroke="#111" stroke-width="0.6"/>
<line x1="163.37" y1="124.40" x2="163.37" y2="125.80" stroke="#111" stroke-width="0.6"/>
<line x1="165.01" y1="124.40" x2="165.01" y2="125.80" stroke="#111" stroke-width="0.6"/>
<line x1="166.35" y1="124.40" x2="166.35" y2="125.80" stroke="#111" stroke-width="0.6"/>
<line x1="167.48" y1="124.40" x2="167.48" y2="125.80" stroke="#111" stroke-width="0.6"/>
<line x1="168.46" y1="124.40" x2="168.46" y2="125.80" stroke="#111" stroke-width="0.6"/>
<line x1="169.33" y1="124.40" x2="169.33" y2="125.80" stroke="#111" stroke-width="0.6"/>
<line x1="187.00" y1="124.40" x2="187.00" y2="127.20" stroke="#111" stroke-width="0.9"/>
<line x1="175.19" y1="124.40" x2="175.19" y2="125.80" stroke="#111" stroke-width="0.6"/>
<line x1="178.16" y1="124.40" x2="178.16" y2="125.80" stroke="#111" stroke-width="0.6"/>
<line x1="180.27" y1="124.40" x2="180.27" y2="125.80" stroke="#111" stroke-width="0.6"/>
<line x1="181.91" y1="124.40" x2="181.91" y2="125.80" stroke="#111" stroke-width="0.6"/>
<line x1="183.25" y1="124.40" x2="183.25" y2="125.80" stroke="#111" stroke-width="0.6"/>
<line x1="184.38" y1="124.40" x2="184.38" y2="125.80" stroke="#111" stroke-width="0.6"/>
<line x1="185.36" y1="124.40" x2="185.36" y2="125.80" stroke="#111" stroke-width="0.6"/>
<line x1="186.23" y1="124.40" x2="186.23" y2="125.80" stroke="#111" stroke-width="0.6"/>
<line x1="203.90" y1="124.40" x2="203.90" y2="127.20" stroke="#111" stroke-width="0.9"/>
<line x1="192.09" y1="124.40" x2="192.09" y2="125.80" stroke="#111" stroke-width="0.6"/>
<line x1="195.06" y1="124.40" x2="195.06" y2="125.80" stroke="#111" stroke-width="0.6"/>
<line x1="197.17" y1="124.40" x2="197.17" y2="125.80" stroke="#111" stroke-width="0.6"/>
<line x1="198.81" y1="124.40" x2="198.81" y2="125.80" stroke="#111" stroke-width="0.6"/>
<line x1="200.15" y1="124.40" x2="200.15" y2="125.80" stroke="#111" stroke-width="0.6"/>
<line x1="201.28" y1="124.40" x2="201.28" y2="125.80" stroke="#111" stroke-width="0.6"/>
<line x1="202.26" y1="124.40" x2="202.26" y2="125.80" stroke="#111" stroke-width="0.6"/>
<line x1="203.13" y1="124.40" x2="203.13" y2="125.80" stroke="#111" stroke-width="0.6"/>
<line x1="146.40" y1="124.40" x2="146.40" y2="127.20" stroke="#111" stroke-width="0.9"/>
<line x1="143.40" y1="124.40" x2="143.40" y2="125.80" stroke="#111" stroke-width="0.6"/>
<line x1="141.40" y1="124.40" x2="141.40" y2="125.80" stroke="#111" stroke-width="0.6"/>
<line x1="149.40" y1="124.40" x2="149.40" y2="125.80" stroke="#111" stroke-width="0.6"/>
<text x="144.80" y="137.70" font-size="7.56" fill="#111" stroke="#111" stroke-width="0.15">0</text>
<text x="148.80" y="137.70" font-size="7.56" fill="#111" textLength="7.00" lengthAdjust="spacingAndGlyphs" stroke="#111" stroke-width="0.15">10</text>
<text x="156.30" y="135.00" font-size="5.52" fill="#111" textLength="2.50" lengthAdjust="spacingAndGlyphs" stroke="#111" stroke-width="0.15">2</text>
<text x="164.80" y="137.70" font-size="7.56" fill="#111" textLength="7.00" lengthAdjust="spacingAndGlyphs" stroke="#111" stroke-width="0.15">10</text>
<text x="172.30" y="135.00" font-size="5.52" fill="#111" textLength="2.50" lengthAdjust="spacingAndGlyphs" stroke="#111" stroke-width="0.15">3</text>
<text x="181.70" y="137.70" font-size="7.56" fill="#111" textLength="7.00" lengthAdjust="spacingAndGlyphs" stroke="#111" stroke-width="0.15">10</text>
<text x="189.20" y="135.00" font-size="5.52" fill="#111" textLength="2.50" lengthAdjust="spacingAndGlyphs" stroke="#111" stroke-width="0.15">4</text>
<text x="198.60" y="137.70" font-size="7.56" fill="#111" textLength="7.00" lengthAdjust="spacingAndGlyphs" stroke="#111" stroke-width="0.15">10</text>
<text x="206.10" y="135.00" font-size="5.52" fill="#111" textLength="2.50" lengthAdjust="spacingAndGlyphs" stroke="#111" stroke-width="0.15">5</text>
</g>
<line x1="19.20" y1="99.00" x2="19.20" y2="147.20" stroke="#444" stroke-width="1"/>
<path d="M19.2,95.5 L16.6,102.5 L21.8,102.5 Z" fill="#111" stroke="none" stroke-width="1"/>
<line x1="18.70" y1="147.20" x2="178.00" y2="147.20" stroke="#444" stroke-width="1"/>
<path d="M182.5,147.2 L175.5,144.6 L175.5,149.8 Z" fill="#111" stroke="none" stroke-width="1"/>
<text transform="translate(21.20,79.00) rotate(-90)" font-size="9.4" text-anchor="middle" fill="#111" textLength="28.4" lengthAdjust="spacingAndGlyphs" stroke="#111" stroke-width="0.15">SiglecF</text>
<text x="185.60" y="149.90" font-size="8.88" fill="#111" textLength="20.00" lengthAdjust="spacingAndGlyphs" stroke="#111" stroke-width="0.15">CCR3</text>
<line x1="259.50" y1="28.80" x2="259.50" y2="126.00" stroke="#1a1a1a" stroke-width="1"/>
<line x1="259.00" y1="125.50" x2="337.40" y2="125.50" stroke="#1a1a1a" stroke-width="1"/>
<line x1="256.10" y1="125.30" x2="259.50" y2="125.30" stroke="#1a1a1a" stroke-width="1"/>
<text x="253.50" y="127.90" font-size="7.44" fill="#1a1a1a" text-anchor="end" stroke="#1a1a1a" stroke-width="0.15">0</text>
<line x1="256.10" y1="106.40" x2="259.50" y2="106.40" stroke="#1a1a1a" stroke-width="1"/>
<text x="253.50" y="109.00" font-size="7.44" fill="#1a1a1a" text-anchor="end" stroke="#1a1a1a" stroke-width="0.15">1</text>
<line x1="256.10" y1="87.50" x2="259.50" y2="87.50" stroke="#1a1a1a" stroke-width="1"/>
<text x="253.50" y="90.10" font-size="7.44" fill="#1a1a1a" text-anchor="end" stroke="#1a1a1a" stroke-width="0.15">2</text>
<line x1="256.10" y1="68.60" x2="259.50" y2="68.60" stroke="#1a1a1a" stroke-width="1"/>
<text x="253.50" y="71.20" font-size="7.44" fill="#1a1a1a" text-anchor="end" stroke="#1a1a1a" stroke-width="0.15">3</text>
<line x1="256.10" y1="49.70" x2="259.50" y2="49.70" stroke="#1a1a1a" stroke-width="1"/>
<text x="253.50" y="52.30" font-size="7.44" fill="#1a1a1a" text-anchor="end" stroke="#1a1a1a" stroke-width="0.15">4</text>
<line x1="256.10" y1="30.80" x2="259.50" y2="30.80" stroke="#1a1a1a" stroke-width="1"/>
<text x="253.50" y="33.40" font-size="7.44" fill="#1a1a1a" text-anchor="end" stroke="#1a1a1a" stroke-width="0.15">5</text>
<line x1="270.35" y1="44.98" x2="270.35" y2="48.76" stroke="#333" stroke-width="1"/>
<line x1="267.53" y1="44.98" x2="273.18" y2="44.98" stroke="#333" stroke-width="1.1"/>
<rect x="265.10" y="49.16" width="10.50" height="76.14" fill="#4a5f82" stroke="#3f5479" stroke-width="0.8"/>
<line x1="287.20" y1="79.56" x2="287.20" y2="82.21" stroke="#333" stroke-width="1"/>
<line x1="284.45" y1="79.56" x2="289.95" y2="79.56" stroke="#333" stroke-width="1.1"/>
<rect x="282.10" y="82.61" width="10.20" height="42.69" fill="#a03545" stroke="#932a3a" stroke-width="0.8"/>
<line x1="309.80" y1="85.04" x2="309.80" y2="87.50" stroke="#333" stroke-width="1"/>
<line x1="307.00" y1="85.04" x2="312.60" y2="85.04" stroke="#333" stroke-width="1.1"/>
<rect x="304.60" y="87.90" width="10.40" height="37.40" fill="#4a5f82" stroke="#3f5479" stroke-width="0.8"/>
<line x1="326.60" y1="74.65" x2="326.60" y2="80.88" stroke="#333" stroke-width="1"/>
<line x1="323.80" y1="74.65" x2="329.40" y2="74.65" stroke="#333" stroke-width="1.1"/>
<rect x="321.40" y="81.28" width="10.40" height="44.02" fill="#a03545" stroke="#932a3a" stroke-width="0.8"/>
<line x1="278.20" y1="125.30" x2="278.20" y2="127.80" stroke="#222" stroke-width="0.9"/>
<line x1="317.80" y1="125.30" x2="317.80" y2="127.80" stroke="#222" stroke-width="0.9"/>
<line x1="264.00" y1="41.50" x2="292.30" y2="41.50" stroke="#666" stroke-width="1.2"/>
<line x1="303.50" y1="41.50" x2="331.50" y2="41.50" stroke="#666" stroke-width="1.2"/>
<text x="278.50" y="41.80" font-size="8.64" fill="#333" text-anchor="middle" textLength="11.50" lengthAdjust="spacingAndGlyphs" stroke="#333" stroke-width="0.15">****</text>
<text x="317.30" y="38.80" font-size="7.80" fill="#333" text-anchor="middle" textLength="6.86" lengthAdjust="spacingAndGlyphs" stroke="#333" stroke-width="0.15">ns</text>
<text x="268.90" y="140.20" font-size="7.92" fill="#1a1a1a" textLength="16.00" lengthAdjust="spacingAndGlyphs" stroke="#1a1a1a" stroke-width="0.15">CCR3</text>
<text x="285.80" y="137.20" font-size="5.40" fill="#1a1a1a" textLength="2.00" lengthAdjust="spacingAndGlyphs" stroke="#1a1a1a" stroke-width="0.15">-</text>
<text x="307.70" y="140.20" font-size="7.92" fill="#1a1a1a" textLength="15.70" lengthAdjust="spacingAndGlyphs" stroke="#1a1a1a" stroke-width="0.15">CCR3</text>
<text x="324.60" y="137.20" font-size="5.40" fill="#1a1a1a" textLength="3.10" lengthAdjust="spacingAndGlyphs" stroke="#1a1a1a" stroke-width="0.15">+</text>
<text transform="translate(242.40,76.85) rotate(-90)" font-size="8.8" text-anchor="middle" fill="#1a1a1a" textLength="42.5" lengthAdjust="spacingAndGlyphs" stroke="#1a1a1a" stroke-width="0.15">BM Eos (%)</text>
<line x1="386.50" y1="27.80" x2="386.50" y2="126.00" stroke="#1a1a1a" stroke-width="1"/>
<line x1="386.00" y1="125.50" x2="467.00" y2="125.50" stroke="#1a1a1a" stroke-width="1"/>
<line x1="383.10" y1="125.20" x2="386.50" y2="125.20" stroke="#1a1a1a" stroke-width="1"/>
<text x="380.50" y="127.80" font-size="7.44" fill="#1a1a1a" text-anchor="end" textLength="8.62" lengthAdjust="spacingAndGlyphs" stroke="#1a1a1a" stroke-width="0.15">0.0</text>
<line x1="383.10" y1="93.40" x2="386.50" y2="93.40" stroke="#1a1a1a" stroke-width="1"/>
<text x="380.50" y="96.00" font-size="7.44" fill="#1a1a1a" text-anchor="end" textLength="8.62" lengthAdjust="spacingAndGlyphs" stroke="#1a1a1a" stroke-width="0.15">0.5</text>
<line x1="383.10" y1="61.60" x2="386.50" y2="61.60" stroke="#1a1a1a" stroke-width="1"/>
<text x="380.50" y="64.20" font-size="7.44" fill="#1a1a1a" text-anchor="end" textLength="8.62" lengthAdjust="spacingAndGlyphs" stroke="#1a1a1a" stroke-width="0.15">1.0</text>
<line x1="383.10" y1="29.80" x2="386.50" y2="29.80" stroke="#1a1a1a" stroke-width="1"/>
<text x="380.50" y="32.40" font-size="7.44" fill="#1a1a1a" text-anchor="end" textLength="8.62" lengthAdjust="spacingAndGlyphs" stroke="#1a1a1a" stroke-width="0.15">1.5</text>
<line x1="397.85" y1="54.60" x2="397.85" y2="60.33" stroke="#333" stroke-width="1"/>
<line x1="394.98" y1="54.60" x2="400.73" y2="54.60" stroke="#333" stroke-width="1.1"/>
<rect x="392.50" y="60.73" width="10.70" height="64.47" fill="#4a5f82" stroke="#3f5479" stroke-width="0.8"/>
<line x1="414.90" y1="73.05" x2="414.90" y2="77.50" stroke="#333" stroke-width="1"/>
<line x1="411.95" y1="73.05" x2="417.85" y2="73.05" stroke="#333" stroke-width="1.1"/>
<rect x="409.40" y="77.90" width="11.00" height="47.30" fill="#a03545" stroke="#932a3a" stroke-width="0.8"/>
<line x1="437.90" y1="89.90" x2="437.90" y2="93.40" stroke="#333" stroke-width="1"/>
<line x1="435.05" y1="89.90" x2="440.75" y2="89.90" stroke="#333" stroke-width="1.1"/>
<rect x="432.60" y="93.80" width="10.60" height="31.40" fill="#4a5f82" stroke="#3f5479" stroke-width="0.8"/>
<line x1="455.15" y1="66.69" x2="455.15" y2="74.96" stroke="#333" stroke-width="1"/>
<line x1="452.32" y1="66.69" x2="457.97" y2="66.69" stroke="#333" stroke-width="1.1"/>
<rect x="449.90" y="75.36" width="10.50" height="49.84" fill="#a03545" stroke="#932a3a" stroke-width="0.8"/>
<line x1="406.50" y1="125.20" x2="406.50" y2="127.70" stroke="#222" stroke-width="0.9"/>
<line x1="446.50" y1="125.20" x2="446.50" y2="127.70" stroke="#222" stroke-width="0.9"/>
<line x1="392.00" y1="41.50" x2="420.30" y2="41.50" stroke="#666" stroke-width="1.2"/>
<line x1="432.00" y1="41.50" x2="460.30" y2="41.50" stroke="#666" stroke-width="1.2"/>
<text x="406.30" y="41.80" font-size="8.64" fill="#333" text-anchor="middle" textLength="5.60" lengthAdjust="spacingAndGlyphs" stroke="#333" stroke-width="0.15">**</text>
<text x="446.20" y="41.80" font-size="8.64" fill="#333" text-anchor="middle" stroke="#333" stroke-width="0.15">*</text>
<text x="396.30" y="140.20" font-size="7.92" fill="#1a1a1a" textLength="16.00" lengthAdjust="spacingAndGlyphs" stroke="#1a1a1a" stroke-width="0.15">CCR3</text>
<text x="413.20" y="137.20" font-size="5.40" fill="#1a1a1a" textLength="2.00" lengthAdjust="spacingAndGlyphs" stroke="#1a1a1a" stroke-width="0.15">-</text>
<text x="435.80" y="140.20" font-size="7.92" fill="#1a1a1a" textLength="15.70" lengthAdjust="spacingAndGlyphs" stroke="#1a1a1a" stroke-width="0.15">CCR3</text>
<text x="452.70" y="137.20" font-size="5.40" fill="#1a1a1a" textLength="3.10" lengthAdjust="spacingAndGlyphs" stroke="#1a1a1a" stroke-width="0.15">+</text>
<text transform="translate(363.60,76.90) rotate(-90)" font-size="8.8" text-anchor="middle" fill="#1a1a1a" textLength="53.7" lengthAdjust="spacingAndGlyphs" stroke="#1a1a1a" stroke-width="0.15">BM Eos (x10<tspan font-size="6" dy="-3.2">6</tspan><tspan dy="3.2">)</tspan></text>
<rect x="464.20" y="8.60" width="11.00" height="9.20" fill="#4a5f82" stroke="#3f5479" stroke-width="0.7"/>
<rect x="464.20" y="24.20" width="11.00" height="9.20" fill="#a03545" stroke="#932a3a" stroke-width="0.7"/>
<text x="478.50" y="16.60" font-size="8.64" fill="#1a1a1a" textLength="15.30" lengthAdjust="spacingAndGlyphs" stroke="#1a1a1a" stroke-width="0.15">Trib1</text>
<text x="494.40" y="13.20" font-size="5.76" fill="#1a1a1a" textLength="7.60" lengthAdjust="spacingAndGlyphs" stroke="#1a1a1a" stroke-width="0.15">+/+</text>
<text x="478.50" y="31.90" font-size="8.64" fill="#1a1a1a" textLength="15.30" lengthAdjust="spacingAndGlyphs" stroke="#1a1a1a" stroke-width="0.15">Trib1</text>
<text x="494.40" y="28.50" font-size="5.76" fill="#1a1a1a" textLength="12.60" lengthAdjust="spacingAndGlyphs" stroke="#1a1a1a" stroke-width="0.15">ΔHSC</text>
<rect x="464.20" y="169.30" width="11.00" height="9.20" fill="#4a5f82" stroke="#3f5479" stroke-width="0.7"/>
<rect x="464.20" y="184.90" width="11.00" height="9.20" fill="#a03545" stroke="#932a3a" stroke-width="0.7"/>
<text x="478.50" y="177.30" font-size="8.64" fill="#1a1a1a" textLength="15.30" lengthAdjust="spacingAndGlyphs" stroke="#1a1a1a" stroke-width="0.15">Trib1</text>
<text x="494.40" y="173.90" font-size="5.76" fill="#1a1a1a" textLength="7.60" lengthAdjust="spacingAndGlyphs" stroke="#1a1a1a" stroke-width="0.15">+/+</text>
<text x="478.50" y="192.60" font-size="8.64" fill="#1a1a1a" textLength="15.30" lengthAdjust="spacingAndGlyphs" stroke="#1a1a1a" stroke-width="0.15">Trib1</text>
<text x="494.40" y="189.20" font-size="5.76" fill="#1a1a1a" textLength="12.60" lengthAdjust="spacingAndGlyphs" stroke="#1a1a1a" stroke-width="0.15">ΔHSC</text>
<rect x="40.50" y="201.50" width="75.40" height="73.70" fill="none" stroke="#111" stroke-width="1.1"/>
<line x1="38.90" y1="203.50" x2="40.50" y2="203.50" stroke="#222" stroke-width="0.6"/>
<line x1="38.90" y1="208.86" x2="40.50" y2="208.86" stroke="#222" stroke-width="0.6"/>
<line x1="38.90" y1="214.22" x2="40.50" y2="214.22" stroke="#222" stroke-width="0.6"/>
<line x1="38.90" y1="219.58" x2="40.50" y2="219.58" stroke="#222" stroke-width="0.6"/>
<line x1="38.90" y1="224.95" x2="40.50" y2="224.95" stroke="#222" stroke-width="0.6"/>
<line x1="38.90" y1="230.31" x2="40.50" y2="230.31" stroke="#222" stroke-width="0.6"/>
<line x1="38.90" y1="235.67" x2="40.50" y2="235.67" stroke="#222" stroke-width="0.6"/>
<line x1="38.90" y1="241.03" x2="40.50" y2="241.03" stroke="#222" stroke-width="0.6"/>
<line x1="38.90" y1="246.39" x2="40.50" y2="246.39" stroke="#222" stroke-width="0.6"/>
<line x1="38.90" y1="251.75" x2="40.50" y2="251.75" stroke="#222" stroke-width="0.6"/>
<line x1="38.90" y1="257.12" x2="40.50" y2="257.12" stroke="#222" stroke-width="0.6"/>
<line x1="38.90" y1="262.48" x2="40.50" y2="262.48" stroke="#222" stroke-width="0.6"/>
<line x1="38.90" y1="267.84" x2="40.50" y2="267.84" stroke="#222" stroke-width="0.6"/>
<line x1="38.90" y1="273.20" x2="40.50" y2="273.20" stroke="#222" stroke-width="0.6"/>
<line x1="50.50" y1="275.20" x2="50.50" y2="277.60" stroke="#111" stroke-width="0.8"/>
<line x1="57.30" y1="275.20" x2="57.30" y2="277.60" stroke="#111" stroke-width="0.8"/>
<line x1="74.20" y1="275.20" x2="74.20" y2="277.60" stroke="#111" stroke-width="0.8"/>
<line x1="91.10" y1="275.20" x2="91.10" y2="277.60" stroke="#111" stroke-width="0.8"/>
<line x1="108.00" y1="275.20" x2="108.00" y2="277.60" stroke="#111" stroke-width="0.8"/>
<line x1="62.39" y1="275.20" x2="62.39" y2="276.50" stroke="#222" stroke-width="0.5"/>
<line x1="65.36" y1="275.20" x2="65.36" y2="276.50" stroke="#222" stroke-width="0.5"/>
<line x1="67.47" y1="275.20" x2="67.47" y2="276.50" stroke="#222" stroke-width="0.5"/>
<line x1="69.11" y1="275.20" x2="69.11" y2="276.50" stroke="#222" stroke-width="0.5"/>
<line x1="70.45" y1="275.20" x2="70.45" y2="276.50" stroke="#222" stroke-width="0.5"/>
<line x1="71.58" y1="275.20" x2="71.58" y2="276.50" stroke="#222" stroke-width="0.5"/>
<line x1="72.56" y1="275.20" x2="72.56" y2="276.50" stroke="#222" stroke-width="0.5"/>
<line x1="73.43" y1="275.20" x2="73.43" y2="276.50" stroke="#222" stroke-width="0.5"/>
<line x1="79.29" y1="275.20" x2="79.29" y2="276.50" stroke="#222" stroke-width="0.5"/>
<line x1="82.26" y1="275.20" x2="82.26" y2="276.50" stroke="#222" stroke-width="0.5"/>
<line x1="84.37" y1="275.20" x2="84.37" y2="276.50" stroke="#222" stroke-width="0.5"/>
<line x1="86.01" y1="275.20" x2="86.01" y2="276.50" stroke="#222" stroke-width="0.5"/>
<line x1="87.35" y1="275.20" x2="87.35" y2="276.50" stroke="#222" stroke-width="0.5"/>
<line x1="88.48" y1="275.20" x2="88.48" y2="276.50" stroke="#222" stroke-width="0.5"/>
<line x1="89.46" y1="275.20" x2="89.46" y2="276.50" stroke="#222" stroke-width="0.5"/>
<line x1="90.33" y1="275.20" x2="90.33" y2="276.50" stroke="#222" stroke-width="0.5"/>
<line x1="96.19" y1="275.20" x2="96.19" y2="276.50" stroke="#222" stroke-width="0.5"/>
<line x1="99.16" y1="275.20" x2="99.16" y2="276.50" stroke="#222" stroke-width="0.5"/>
<line x1="101.27" y1="275.20" x2="101.27" y2="276.50" stroke="#222" stroke-width="0.5"/>
<line x1="102.91" y1="275.20" x2="102.91" y2="276.50" stroke="#222" stroke-width="0.5"/>
<line x1="104.25" y1="275.20" x2="104.25" y2="276.50" stroke="#222" stroke-width="0.5"/>
<line x1="105.38" y1="275.20" x2="105.38" y2="276.50" stroke="#222" stroke-width="0.5"/>
<line x1="106.36" y1="275.20" x2="106.36" y2="276.50" stroke="#222" stroke-width="0.5"/>
<line x1="107.23" y1="275.20" x2="107.23" y2="276.50" stroke="#222" stroke-width="0.5"/>
<line x1="43.50" y1="275.20" x2="43.50" y2="276.50" stroke="#222" stroke-width="0.5"/>
<line x1="45.50" y1="275.20" x2="45.50" y2="276.50" stroke="#222" stroke-width="0.5"/>
<line x1="47.50" y1="275.20" x2="47.50" y2="276.50" stroke="#222" stroke-width="0.5"/>
<line x1="53.50" y1="275.20" x2="53.50" y2="276.50" stroke="#222" stroke-width="0.5"/>
<text x="47.70" y="287.50" font-size="7.56" fill="#111" stroke="#111" stroke-width="0.15">0</text>
<text x="52.90" y="287.50" font-size="7.56" fill="#111" textLength="7.00" lengthAdjust="spacingAndGlyphs" stroke="#111" stroke-width="0.15">10</text>
<text x="60.40" y="284.80" font-size="5.52" fill="#111" textLength="2.50" lengthAdjust="spacingAndGlyphs" stroke="#111" stroke-width="0.15">2</text>
<text x="68.90" y="287.50" font-size="7.56" fill="#111" textLength="7.00" lengthAdjust="spacingAndGlyphs" stroke="#111" stroke-width="0.15">10</text>
<text x="76.40" y="284.80" font-size="5.52" fill="#111" textLength="2.50" lengthAdjust="spacingAndGlyphs" stroke="#111" stroke-width="0.15">3</text>
<text x="85.80" y="287.50" font-size="7.56" fill="#111" textLength="7.00" lengthAdjust="spacingAndGlyphs" stroke="#111" stroke-width="0.15">10</text>
<text x="93.30" y="284.80" font-size="5.52" fill="#111" textLength="2.50" lengthAdjust="spacingAndGlyphs" stroke="#111" stroke-width="0.15">4</text>
<text x="102.70" y="287.50" font-size="7.56" fill="#111" textLength="7.00" lengthAdjust="spacingAndGlyphs" stroke="#111" stroke-width="0.15">10</text>
<text x="110.20" y="284.80" font-size="5.52" fill="#111" textLength="2.50" lengthAdjust="spacingAndGlyphs" stroke="#111" stroke-width="0.15">5</text>
<text x="58.80" y="195.20" font-size="9.0" fill="#111" textLength="38.2" lengthAdjust="spacingAndGlyphs" stroke="#111" stroke-width="0.15">CCR3<tspan font-size="5" dy="-3.3">-</tspan><tspan dy="3.3"> Eos</tspan></text>
<rect x="136.60" y="201.00" width="74.50" height="74.10" fill="none" stroke="#111" stroke-width="1.1"/>
<line x1="135.00" y1="203.00" x2="136.60" y2="203.00" stroke="#222" stroke-width="0.6"/>
<line x1="135.00" y1="208.39" x2="136.60" y2="208.39" stroke="#222" stroke-width="0.6"/>
<line x1="135.00" y1="213.78" x2="136.60" y2="213.78" stroke="#222" stroke-width="0.6"/>
<line x1="135.00" y1="219.18" x2="136.60" y2="219.18" stroke="#222" stroke-width="0.6"/>
<line x1="135.00" y1="224.57" x2="136.60" y2="224.57" stroke="#222" stroke-width="0.6"/>
<line x1="135.00" y1="229.96" x2="136.60" y2="229.96" stroke="#222" stroke-width="0.6"/>
<line x1="135.00" y1="235.35" x2="136.60" y2="235.35" stroke="#222" stroke-width="0.6"/>
<line x1="135.00" y1="240.75" x2="136.60" y2="240.75" stroke="#222" stroke-width="0.6"/>
<line x1="135.00" y1="246.14" x2="136.60" y2="246.14" stroke="#222" stroke-width="0.6"/>
<line x1="135.00" y1="251.53" x2="136.60" y2="251.53" stroke="#222" stroke-width="0.6"/>
<line x1="135.00" y1="256.92" x2="136.60" y2="256.92" stroke="#222" stroke-width="0.6"/>
<line x1="135.00" y1="262.32" x2="136.60" y2="262.32" stroke="#222" stroke-width="0.6"/>
<line x1="135.00" y1="267.71" x2="136.60" y2="267.71" stroke="#222" stroke-width="0.6"/>
<line x1="135.00" y1="273.10" x2="136.60" y2="273.10" stroke="#222" stroke-width="0.6"/>
<line x1="146.60" y1="275.10" x2="146.60" y2="277.50" stroke="#111" stroke-width="0.8"/>
<line x1="153.40" y1="275.10" x2="153.40" y2="277.50" stroke="#111" stroke-width="0.8"/>
<line x1="170.30" y1="275.10" x2="170.30" y2="277.50" stroke="#111" stroke-width="0.8"/>
<line x1="187.20" y1="275.10" x2="187.20" y2="277.50" stroke="#111" stroke-width="0.8"/>
<line x1="204.10" y1="275.10" x2="204.10" y2="277.50" stroke="#111" stroke-width="0.8"/>
<line x1="158.49" y1="275.10" x2="158.49" y2="276.40" stroke="#222" stroke-width="0.5"/>
<line x1="161.46" y1="275.10" x2="161.46" y2="276.40" stroke="#222" stroke-width="0.5"/>
<line x1="163.57" y1="275.10" x2="163.57" y2="276.40" stroke="#222" stroke-width="0.5"/>
<line x1="165.21" y1="275.10" x2="165.21" y2="276.40" stroke="#222" stroke-width="0.5"/>
<line x1="166.55" y1="275.10" x2="166.55" y2="276.40" stroke="#222" stroke-width="0.5"/>
<line x1="167.68" y1="275.10" x2="167.68" y2="276.40" stroke="#222" stroke-width="0.5"/>
<line x1="168.66" y1="275.10" x2="168.66" y2="276.40" stroke="#222" stroke-width="0.5"/>
<line x1="169.53" y1="275.10" x2="169.53" y2="276.40" stroke="#222" stroke-width="0.5"/>
<line x1="175.39" y1="275.10" x2="175.39" y2="276.40" stroke="#222" stroke-width="0.5"/>
<line x1="178.36" y1="275.10" x2="178.36" y2="276.40" stroke="#222" stroke-width="0.5"/>
<line x1="180.47" y1="275.10" x2="180.47" y2="276.40" stroke="#222" stroke-width="0.5"/>
<line x1="182.11" y1="275.10" x2="182.11" y2="276.40" stroke="#222" stroke-width="0.5"/>
<line x1="183.45" y1="275.10" x2="183.45" y2="276.40" stroke="#222" stroke-width="0.5"/>
<line x1="184.58" y1="275.10" x2="184.58" y2="276.40" stroke="#222" stroke-width="0.5"/>
<line x1="185.56" y1="275.10" x2="185.56" y2="276.40" stroke="#222" stroke-width="0.5"/>
<line x1="186.43" y1="275.10" x2="186.43" y2="276.40" stroke="#222" stroke-width="0.5"/>
<line x1="192.29" y1="275.10" x2="192.29" y2="276.40" stroke="#222" stroke-width="0.5"/>
<line x1="195.26" y1="275.10" x2="195.26" y2="276.40" stroke="#222" stroke-width="0.5"/>
<line x1="197.37" y1="275.10" x2="197.37" y2="276.40" stroke="#222" stroke-width="0.5"/>
<line x1="199.01" y1="275.10" x2="199.01" y2="276.40" stroke="#222" stroke-width="0.5"/>
<line x1="200.35" y1="275.10" x2="200.35" y2="276.40" stroke="#222" stroke-width="0.5"/>
<line x1="201.48" y1="275.10" x2="201.48" y2="276.40" stroke="#222" stroke-width="0.5"/>
<line x1="202.46" y1="275.10" x2="202.46" y2="276.40" stroke="#222" stroke-width="0.5"/>
<line x1="203.33" y1="275.10" x2="203.33" y2="276.40" stroke="#222" stroke-width="0.5"/>
<line x1="139.60" y1="275.10" x2="139.60" y2="276.40" stroke="#222" stroke-width="0.5"/>
<line x1="141.60" y1="275.10" x2="141.60" y2="276.40" stroke="#222" stroke-width="0.5"/>
<line x1="143.60" y1="275.10" x2="143.60" y2="276.40" stroke="#222" stroke-width="0.5"/>
<line x1="149.60" y1="275.10" x2="149.60" y2="276.40" stroke="#222" stroke-width="0.5"/>
<text x="143.80" y="287.40" font-size="7.56" fill="#111" stroke="#111" stroke-width="0.15">0</text>
<text x="149.00" y="287.40" font-size="7.56" fill="#111" textLength="7.00" lengthAdjust="spacingAndGlyphs" stroke="#111" stroke-width="0.15">10</text>
<text x="156.50" y="284.70" font-size="5.52" fill="#111" textLength="2.50" lengthAdjust="spacingAndGlyphs" stroke="#111" stroke-width="0.15">2</text>
<text x="165.00" y="287.40" font-size="7.56" fill="#111" textLength="7.00" lengthAdjust="spacingAndGlyphs" stroke="#111" stroke-width="0.15">10</text>
<text x="172.50" y="284.70" font-size="5.52" fill="#111" textLength="2.50" lengthAdjust="spacingAndGlyphs" stroke="#111" stroke-width="0.15">3</text>
<text x="181.90" y="287.40" font-size="7.56" fill="#111" textLength="7.00" lengthAdjust="spacingAndGlyphs" stroke="#111" stroke-width="0.15">10</text>
<text x="189.40" y="284.70" font-size="5.52" fill="#111" textLength="2.50" lengthAdjust="spacingAndGlyphs" stroke="#111" stroke-width="0.15">4</text>
<text x="198.80" y="287.40" font-size="7.56" fill="#111" textLength="7.00" lengthAdjust="spacingAndGlyphs" stroke="#111" stroke-width="0.15">10</text>
<text x="206.30" y="284.70" font-size="5.52" fill="#111" textLength="2.50" lengthAdjust="spacingAndGlyphs" stroke="#111" stroke-width="0.15">5</text>
<text x="153.40" y="195.60" font-size="9.0" fill="#111" textLength="40.4" lengthAdjust="spacingAndGlyphs" stroke="#111" stroke-width="0.15">CCR3<tspan font-size="5" dy="-3.3">+</tspan><tspan dy="3.3"> Eos</tspan></text>
<path d="M41.54,274.93 L42.31,273.85 L43.08,272.22 L43.85,272.25 L44.62,271.05 L45.39,269.14 L46.16,268.46 L47.02,264.34 L47.89,260.70 L48.75,256.99 L49.62,251.36 L50.39,245.72 L51.16,242.48 L51.93,235.96 L52.70,232.38 L53.47,225.24 L54.23,222.12 L55.00,219.67 L55.77,214.34 L56.54,213.70 L57.35,210.69 L58.16,204.17 L59.08,201.80 L60.47,209.79 L61.85,209.15 L62.66,210.87 L63.47,214.30 L64.24,218.95 L65.01,221.41 L65.77,225.99 L66.64,229.61 L67.51,232.68 L68.37,234.77 L69.24,237.68 L70.10,240.56 L70.97,244.13 L71.83,246.58 L72.70,248.83 L73.56,253.11 L74.43,254.75 L75.29,257.24 L76.16,258.59 L77.03,262.07 L77.89,263.62 L78.76,264.08 L79.62,266.33 L80.37,267.93 L81.12,268.83 L81.87,270.12 L82.62,270.19 L83.54,270.40 L84.47,269.68 L85.39,268.60 L86.16,267.24 L86.93,265.94 L87.70,264.05 L88.62,259.60 L89.55,255.97 L90.35,252.98 L91.16,251.71 L92.31,256.44 L93.08,259.06 L93.85,262.07 L94.62,266.25 L95.39,268.82 L96.16,271.06 L96.93,272.90 L97.70,273.70 L98.47,274.32 L99.24,274.93 L99.95,274.93 L100.67,274.93 L101.38,274.93 L102.10,274.93 L102.81,274.93 L103.52,274.93 L104.24,274.93 L104.95,274.93 L105.67,274.93 L106.38,274.93 L107.10,274.93 L107.81,274.93 L108.52,274.93 L109.24,274.93 L109.95,274.93 L110.67,274.93 L111.38,274.93 L112.10,274.93 L112.81,274.93 L113.53,274.93 L114.24,274.93" fill="none" stroke="#3d5a8a" stroke-width="1.45" stroke-linejoin="round"/>
<path d="M40.62,274.93 L41.35,274.32 L42.08,273.70 L42.81,273.85 L43.54,273.24 L44.27,271.08 L45.00,270.50 L45.87,268.59 L46.73,265.15 L47.60,261.75 L48.47,257.63 L49.39,253.36 L50.31,248.39 L51.23,243.33 L52.00,237.35 L52.77,233.61 L53.54,228.84 L54.47,224.92 L55.39,220.91 L56.31,216.99 L57.24,211.43 L58.00,209.67 L58.77,207.55 L59.54,205.13 L60.31,205.88 L61.08,208.69 L61.85,208.79 L62.62,207.91 L63.39,209.15 L64.16,206.28 L64.93,206.06 L65.70,204.13 L66.47,202.72 L67.27,207.65 L68.08,210.30 L68.85,213.90 L69.62,217.92 L70.39,218.43 L71.16,218.31 L71.93,223.13 L72.70,224.64 L73.47,226.30 L74.24,228.85 L75.01,230.21 L75.78,232.58 L76.54,233.34 L77.31,237.78 L78.12,242.01 L78.93,243.92 L79.85,243.63 L80.78,241.46 L81.54,237.57 L82.31,234.73 L83.08,231.51 L84.01,231.18 L84.93,227.70 L85.85,227.05 L86.60,223.88 L87.35,224.64 L88.10,223.40 L88.85,220.31 L89.66,221.09 L90.47,222.87 L91.39,224.01 L92.31,225.03 L93.70,235.22 L95.08,251.85 L96.01,259.70 L96.93,265.49 L97.70,269.24 L98.47,270.36 L99.24,273.78 L100.10,273.55 L100.97,274.01 L101.83,274.47 L102.70,274.93 L103.42,274.93 L104.14,274.93 L104.86,274.93 L105.59,274.93 L106.31,274.93 L107.03,274.93 L107.75,274.93 L108.47,274.93 L109.19,274.93 L109.91,274.93 L110.63,274.93 L111.35,274.93 L112.08,274.93 L112.80,274.93 L113.52,274.93 L114.24,274.93" fill="none" stroke="#b0283f" stroke-width="1.45" stroke-linejoin="round"/>
<path d="M136.56,274.96 L137.34,274.84 L138.12,274.72 L138.90,274.60 L139.68,274.48 L140.40,273.71 L141.13,272.54 L141.85,272.24 L142.57,271.19 L143.29,270.80 L144.01,268.92 L144.73,266.01 L145.45,263.96 L146.18,263.59 L146.90,260.53 L147.62,258.04 L148.34,257.29 L149.06,253.73 L149.78,252.20 L150.51,248.93 L151.23,246.94 L151.95,243.23 L152.67,242.15 L153.39,240.43 L154.11,237.03 L154.83,234.82 L155.56,231.74 L156.28,226.84 L157.00,226.31 L157.72,222.86 L158.52,218.75 L159.32,214.64 L160.13,214.84 L161.09,211.24 L162.05,210.20 L162.89,209.33 L163.73,207.09 L164.57,207.14 L165.42,204.04 L166.14,208.76 L166.86,210.28 L167.70,217.00 L168.54,221.52 L169.38,223.53 L170.23,228.55 L171.19,234.90 L172.15,243.07 L172.95,245.77 L173.75,250.42 L174.56,253.82 L175.36,256.54 L176.16,258.53 L176.96,260.71 L177.68,262.14 L178.40,263.10 L179.12,264.66 L179.85,265.20 L180.57,266.60 L181.37,266.94 L182.17,267.65 L182.97,267.56 L183.77,266.83 L184.58,268.21 L185.38,268.55 L186.18,269.23 L186.98,269.46 L187.78,270.50 L188.50,270.36 L189.23,272.02 L189.95,272.28 L190.67,272.51 L191.39,273.52 L192.19,273.76 L192.99,274.00 L193.80,274.24 L194.60,274.48 L195.40,274.72 L196.20,274.96 L196.92,274.96 L197.64,274.96 L198.36,274.96 L199.09,274.96 L199.81,274.96 L200.53,274.96 L201.25,274.96 L201.97,274.96 L202.69,274.96 L203.42,274.96 L204.14,274.96 L204.86,274.96 L205.58,274.96 L206.30,274.96 L207.02,274.96 L207.74,274.96 L208.47,274.96 L209.19,274.96 L209.91,274.96 L210.63,274.96" fill="none" stroke="#3d5a8a" stroke-width="1.45" stroke-linejoin="round"/>
<path d="M136.56,274.96 L137.28,274.96 L138.00,274.96 L138.72,274.96 L139.44,274.96 L140.16,274.96 L140.89,274.96 L141.61,274.96 L142.33,274.96 L143.05,274.96 L143.77,274.96 L144.49,274.96 L145.21,274.96 L145.94,274.96 L146.66,274.96 L147.38,274.96 L148.10,274.96 L148.81,274.89 L149.51,274.82 L150.22,274.75 L150.93,274.68 L151.64,274.61 L152.34,274.53 L153.05,274.46 L153.76,274.39 L154.47,274.32 L155.17,274.25 L155.88,274.18 L156.59,274.11 L157.30,274.04 L158.00,273.97 L158.71,273.90 L159.42,273.83 L160.13,273.76 L160.85,273.59 L161.57,273.02 L162.29,272.65 L163.01,272.93 L163.73,272.39 L164.45,272.08 L165.18,272.43 L165.90,273.06 L166.62,272.71 L167.34,272.49 L168.14,271.23 L168.94,271.33 L169.75,270.51 L170.55,269.94 L171.35,269.42 L172.15,269.19 L172.87,269.24 L173.59,267.94 L174.31,266.76 L175.04,265.61 L175.76,263.32 L176.56,260.95 L177.36,259.03 L178.16,256.71 L178.96,252.24 L179.77,247.57 L180.57,240.61 L181.37,236.48 L182.17,231.11 L182.97,224.96 L183.81,217.72 L184.66,212.80 L185.38,208.34 L186.10,208.97 L187.30,206.31 L188.14,207.82 L188.99,209.69 L189.95,218.09 L190.91,222.79 L191.75,231.00 L192.59,238.00 L193.43,246.60 L194.28,256.01 L195.00,262.41 L195.72,268.11 L196.56,270.33 L197.40,273.52 L198.12,273.80 L198.85,274.09 L199.57,274.38 L200.29,274.67 L201.01,274.96 L201.75,274.96 L202.49,274.96 L203.23,274.96 L203.97,274.96 L204.71,274.96 L205.45,274.96 L206.19,274.96 L206.93,274.96 L207.67,274.96 L208.41,274.96 L209.15,274.96 L209.89,274.96 L210.63,274.96" fill="none" stroke="#b0283f" stroke-width="1.45" stroke-linejoin="round"/>
<text x="38.00" y="300.90" font-size="8.16" fill="#111" textLength="19.40" lengthAdjust="spacingAndGlyphs" stroke="#111" stroke-width="0.15">Ly6G</text>
<line x1="69.20" y1="298.20" x2="199.00" y2="298.20" stroke="#444" stroke-width="1"/>
<path d="M204.0,298.2 L197.0,295.6 L197.0,300.8 Z" fill="#111" stroke="none" stroke-width="1"/>
<text x="41.10" y="314.60" font-size="8.88" fill="#4a6a9a" textLength="15.80" lengthAdjust="spacingAndGlyphs" stroke="#4a6a9a" stroke-width="0.15">Trib1</text>
<text x="57.70" y="311.40" font-size="5.76" fill="#4a6a9a" textLength="8.50" lengthAdjust="spacingAndGlyphs" stroke="#4a6a9a" stroke-width="0.15">+/+</text>
<text x="67.70" y="314.60" font-size="8.88" fill="#a8354a" textLength="16.10" lengthAdjust="spacingAndGlyphs" stroke="#a8354a" stroke-width="0.15">Trib1</text>
<text x="84.60" y="311.40" font-size="5.76" fill="#a8354a" textLength="13.10" lengthAdjust="spacingAndGlyphs" stroke="#a8354a" stroke-width="0.15">ΔHSC</text>
<line x1="259.50" y1="178.30" x2="259.50" y2="276.00" stroke="#1a1a1a" stroke-width="1"/>
<line x1="259.00" y1="275.50" x2="338.00" y2="275.50" stroke="#1a1a1a" stroke-width="1"/>
<line x1="256.10" y1="275.30" x2="259.50" y2="275.30" stroke="#1a1a1a" stroke-width="1"/>
<text x="253.50" y="277.90" font-size="7.44" fill="#1a1a1a" text-anchor="end" stroke="#1a1a1a" stroke-width="0.15">0</text>
<line x1="256.10" y1="256.30" x2="259.50" y2="256.30" stroke="#1a1a1a" stroke-width="1"/>
<text x="253.50" y="258.90" font-size="7.44" fill="#1a1a1a" text-anchor="end" textLength="6.90" lengthAdjust="spacingAndGlyphs" stroke="#1a1a1a" stroke-width="0.15">20</text>
<line x1="256.10" y1="237.30" x2="259.50" y2="237.30" stroke="#1a1a1a" stroke-width="1"/>
<text x="253.50" y="239.90" font-size="7.44" fill="#1a1a1a" text-anchor="end" textLength="6.90" lengthAdjust="spacingAndGlyphs" stroke="#1a1a1a" stroke-width="0.15">40</text>
<line x1="256.10" y1="218.30" x2="259.50" y2="218.30" stroke="#1a1a1a" stroke-width="1"/>
<text x="253.50" y="220.90" font-size="7.44" fill="#1a1a1a" text-anchor="end" textLength="6.90" lengthAdjust="spacingAndGlyphs" stroke="#1a1a1a" stroke-width="0.15">60</text>
<line x1="256.10" y1="199.30" x2="259.50" y2="199.30" stroke="#1a1a1a" stroke-width="1"/>
<text x="253.50" y="201.90" font-size="7.44" fill="#1a1a1a" text-anchor="end" textLength="6.90" lengthAdjust="spacingAndGlyphs" stroke="#1a1a1a" stroke-width="0.15">80</text>
<line x1="256.10" y1="180.30" x2="259.50" y2="180.30" stroke="#1a1a1a" stroke-width="1"/>
<text x="253.50" y="182.90" font-size="7.44" fill="#1a1a1a" text-anchor="end" textLength="10.34" lengthAdjust="spacingAndGlyphs" stroke="#1a1a1a" stroke-width="0.15">100</text>
<line x1="270.30" y1="264.28" x2="270.30" y2="265.80" stroke="#333" stroke-width="1"/>
<line x1="267.35" y1="264.28" x2="273.25" y2="264.28" stroke="#333" stroke-width="1.1"/>
<rect x="264.80" y="266.20" width="11.00" height="9.10" fill="#4a5f82" stroke="#3f5479" stroke-width="0.8"/>
<line x1="287.30" y1="269.98" x2="287.30" y2="271.03" stroke="#333" stroke-width="1"/>
<line x1="284.30" y1="269.98" x2="290.30" y2="269.98" stroke="#333" stroke-width="1.1"/>
<rect x="281.70" y="271.43" width="11.20" height="3.87" fill="#4a5f82" stroke="#3f5479" stroke-width="0.8"/>
<line x1="310.00" y1="244.33" x2="310.00" y2="246.33" stroke="#333" stroke-width="1"/>
<line x1="307.00" y1="244.33" x2="313.00" y2="244.33" stroke="#333" stroke-width="1.1"/>
<rect x="304.40" y="246.73" width="11.20" height="28.57" fill="#a03545" stroke="#932a3a" stroke-width="0.8"/>
<line x1="327.25" y1="187.33" x2="327.25" y2="188.28" stroke="#333" stroke-width="1"/>
<line x1="324.23" y1="187.33" x2="330.27" y2="187.33" stroke="#333" stroke-width="1.1"/>
<rect x="321.60" y="188.68" width="11.30" height="86.62" fill="#a03545" stroke="#932a3a" stroke-width="0.8"/>
<line x1="270.20" y1="275.30" x2="270.20" y2="277.80" stroke="#222" stroke-width="0.9"/>
<line x1="287.10" y1="275.30" x2="287.10" y2="277.80" stroke="#222" stroke-width="0.9"/>
<line x1="309.80" y1="275.30" x2="309.80" y2="277.80" stroke="#222" stroke-width="0.9"/>
<line x1="327.00" y1="275.30" x2="327.00" y2="277.80" stroke="#222" stroke-width="0.9"/>
<text transform="translate(235.00,226.50) rotate(-90)" font-size="10.2" text-anchor="middle" fill="#1a1a1a" textLength="59" lengthAdjust="spacingAndGlyphs" stroke="#1a1a1a" stroke-width="0.15">% Ly6G<tspan font-size="6" dy="-3.2">+</tspan><tspan dy="3.2"> of Eos</tspan></text>
<text transform="translate(272.8,284.3) rotate(-40)" font-size="6.9" text-anchor="end" fill="#1a1a1a" stroke="#1a1a1a" stroke-width="0.15">CCR3<tspan font-size="5" dy="-3" dx="0.4">-</tspan></text>
<text transform="translate(289.7,284.3) rotate(-40)" font-size="6.9" text-anchor="end" fill="#1a1a1a" stroke="#1a1a1a" stroke-width="0.15">CCR3<tspan font-size="5" dy="-3" dx="0.4">+</tspan></text>
<text transform="translate(312.4,284.3) rotate(-40)" font-size="6.9" text-anchor="end" fill="#1a1a1a" stroke="#1a1a1a" stroke-width="0.15">CCR3<tspan font-size="5" dy="-3" dx="0.4">-</tspan></text>
<text transform="translate(329.6,284.3) rotate(-40)" font-size="6.9" text-anchor="end" fill="#1a1a1a" stroke="#1a1a1a" stroke-width="0.15">CCR3<tspan font-size="5" dy="-3" dx="0.4">+</tspan></text>
<line x1="386.50" y1="177.20" x2="386.50" y2="276.00" stroke="#1a1a1a" stroke-width="1"/>
<line x1="386.00" y1="275.50" x2="467.00" y2="275.50" stroke="#1a1a1a" stroke-width="1"/>
<line x1="383.10" y1="275.20" x2="386.50" y2="275.20" stroke="#1a1a1a" stroke-width="1"/>
<text x="380.50" y="277.80" font-size="7.44" fill="#1a1a1a" text-anchor="end" stroke="#1a1a1a" stroke-width="0.15">0</text>
<line x1="383.10" y1="256.00" x2="386.50" y2="256.00" stroke="#1a1a1a" stroke-width="1"/>
<text x="380.50" y="258.60" font-size="7.44" fill="#1a1a1a" text-anchor="end" textLength="8.62" lengthAdjust="spacingAndGlyphs" stroke="#1a1a1a" stroke-width="0.15">0.2</text>
<line x1="383.10" y1="236.80" x2="386.50" y2="236.80" stroke="#1a1a1a" stroke-width="1"/>
<text x="380.50" y="239.40" font-size="7.44" fill="#1a1a1a" text-anchor="end" textLength="8.62" lengthAdjust="spacingAndGlyphs" stroke="#1a1a1a" stroke-width="0.15">0.4</text>
<line x1="383.10" y1="217.60" x2="386.50" y2="217.60" stroke="#1a1a1a" stroke-width="1"/>
<text x="380.50" y="220.20" font-size="7.44" fill="#1a1a1a" text-anchor="end" textLength="8.62" lengthAdjust="spacingAndGlyphs" stroke="#1a1a1a" stroke-width="0.15">0.6</text>
<line x1="383.10" y1="198.40" x2="386.50" y2="198.40" stroke="#1a1a1a" stroke-width="1"/>
<text x="380.50" y="201.00" font-size="7.44" fill="#1a1a1a" text-anchor="end" textLength="8.62" lengthAdjust="spacingAndGlyphs" stroke="#1a1a1a" stroke-width="0.15">0.8</text>
<line x1="383.10" y1="179.20" x2="386.50" y2="179.20" stroke="#1a1a1a" stroke-width="1"/>
<text x="380.50" y="181.80" font-size="7.44" fill="#1a1a1a" text-anchor="end" textLength="8.62" lengthAdjust="spacingAndGlyphs" stroke="#1a1a1a" stroke-width="0.15">1.0</text>
<line x1="398.05" y1="223.36" x2="398.05" y2="227.20" stroke="#333" stroke-width="1"/>
<line x1="395.18" y1="223.36" x2="400.93" y2="223.36" stroke="#333" stroke-width="1.1"/>
<rect x="392.70" y="227.60" width="10.70" height="47.60" fill="#4a5f82" stroke="#3f5479" stroke-width="0.8"/>
<line x1="415.30" y1="268.86" x2="415.30" y2="269.92" stroke="#333" stroke-width="1"/>
<line x1="412.35" y1="268.86" x2="418.25" y2="268.86" stroke="#333" stroke-width="1.1"/>
<rect x="409.80" y="270.32" width="11.00" height="4.88" fill="#a03545" stroke="#932a3a" stroke-width="0.8"/>
<line x1="438.00" y1="272.70" x2="438.00" y2="273.28" stroke="#333" stroke-width="1"/>
<line x1="435.00" y1="272.70" x2="441.00" y2="272.70" stroke="#333" stroke-width="1.1"/>
<rect x="432.40" y="273.68" width="11.20" height="1.52" fill="#4a5f82" stroke="#3f5479" stroke-width="0.8"/>
<line x1="455.10" y1="190.72" x2="455.10" y2="202.24" stroke="#333" stroke-width="1"/>
<line x1="452.25" y1="190.72" x2="457.95" y2="190.72" stroke="#333" stroke-width="1.1"/>
<rect x="449.80" y="202.64" width="10.60" height="72.56" fill="#a03545" stroke="#932a3a" stroke-width="0.8"/>
<line x1="406.50" y1="275.20" x2="406.50" y2="277.70" stroke="#222" stroke-width="0.9"/>
<line x1="446.30" y1="275.20" x2="446.30" y2="277.70" stroke="#222" stroke-width="0.9"/>
<text transform="translate(364.00,226.10) rotate(-90)" font-size="8.8" text-anchor="middle" fill="#1a1a1a" textLength="54.2" lengthAdjust="spacingAndGlyphs" stroke="#1a1a1a" stroke-width="0.15">BM Eos (x10<tspan font-size="6" dy="-3.2">6</tspan><tspan dy="3.2">)</tspan></text>
<text x="397.50" y="287.70" font-size="8.40" fill="#1a1a1a" textLength="17.30" lengthAdjust="spacingAndGlyphs" stroke="#1a1a1a" stroke-width="0.15">Ly6G</text>
<text x="415.40" y="284.70" font-size="5.40" fill="#1a1a1a" textLength="1.80" lengthAdjust="spacingAndGlyphs" stroke="#1a1a1a" stroke-width="0.15">-</text>
<text x="436.90" y="287.70" font-size="8.40" fill="#1a1a1a" textLength="16.90" lengthAdjust="spacingAndGlyphs" stroke="#1a1a1a" stroke-width="0.15">Ly6G</text>
<text x="454.40" y="284.70" font-size="5.40" fill="#1a1a1a" textLength="3.00" lengthAdjust="spacingAndGlyphs" stroke="#1a1a1a" stroke-width="0.15">+</text>
<line x1="44.50" y1="356.10" x2="44.50" y2="456.00" stroke="#1a1a1a" stroke-width="1"/>
<line x1="44.00" y1="455.50" x2="114.60" y2="455.50" stroke="#1a1a1a" stroke-width="1"/>
<line x1="41.10" y1="455.60" x2="44.50" y2="455.60" stroke="#1a1a1a" stroke-width="1"/>
<text x="38.50" y="458.62" font-size="8.64" fill="#1a1a1a" text-anchor="end" stroke="#1a1a1a" stroke-width="0.15">0</text>
<line x1="41.10" y1="436.10" x2="44.50" y2="436.10" stroke="#1a1a1a" stroke-width="1"/>
<text x="38.50" y="439.12" font-size="8.64" fill="#1a1a1a" text-anchor="end" textLength="16.02" lengthAdjust="spacingAndGlyphs" stroke="#1a1a1a" stroke-width="0.15">1000</text>
<line x1="41.10" y1="416.60" x2="44.50" y2="416.60" stroke="#1a1a1a" stroke-width="1"/>
<text x="38.50" y="419.62" font-size="8.64" fill="#1a1a1a" text-anchor="end" textLength="16.02" lengthAdjust="spacingAndGlyphs" stroke="#1a1a1a" stroke-width="0.15">2000</text>
<line x1="41.10" y1="397.10" x2="44.50" y2="397.10" stroke="#1a1a1a" stroke-width="1"/>
<text x="38.50" y="400.12" font-size="8.64" fill="#1a1a1a" text-anchor="end" textLength="16.02" lengthAdjust="spacingAndGlyphs" stroke="#1a1a1a" stroke-width="0.15">3000</text>
<line x1="41.10" y1="377.60" x2="44.50" y2="377.60" stroke="#1a1a1a" stroke-width="1"/>
<text x="38.50" y="380.62" font-size="8.64" fill="#1a1a1a" text-anchor="end" textLength="16.02" lengthAdjust="spacingAndGlyphs" stroke="#1a1a1a" stroke-width="0.15">4000</text>
<line x1="41.10" y1="358.10" x2="44.50" y2="358.10" stroke="#1a1a1a" stroke-width="1"/>
<text x="38.50" y="361.12" font-size="8.64" fill="#1a1a1a" text-anchor="end" textLength="16.02" lengthAdjust="spacingAndGlyphs" stroke="#1a1a1a" stroke-width="0.15">5000</text>
<line x1="62.20" y1="376.43" x2="62.20" y2="380.13" stroke="#333" stroke-width="1"/>
<line x1="56.20" y1="376.43" x2="68.20" y2="376.43" stroke="#333" stroke-width="1.1"/>
<rect x="50.60" y="380.53" width="23.20" height="75.07" fill="#4a5f82" stroke="#3f5479" stroke-width="0.8"/>
<line x1="97.00" y1="417.38" x2="97.00" y2="420.11" stroke="#333" stroke-width="1"/>
<line x1="91.10" y1="417.38" x2="102.90" y2="417.38" stroke="#333" stroke-width="1.1"/>
<rect x="85.60" y="420.51" width="22.80" height="35.09" fill="#a03545" stroke="#932a3a" stroke-width="0.8"/>
<line x1="62.10" y1="455.60" x2="62.10" y2="458.10" stroke="#222" stroke-width="0.9"/>
<line x1="97.30" y1="455.60" x2="97.30" y2="458.10" stroke="#222" stroke-width="0.9"/>
<line x1="58.30" y1="360.50" x2="99.20" y2="360.50" stroke="#555" stroke-width="1.2"/>
<text x="78.80" y="361.20" font-size="8.64" fill="#333" text-anchor="middle" stroke="#333" stroke-width="0.15">*</text>
<text transform="translate(16.00,406.60) rotate(-90)" font-size="10.4" text-anchor="middle" fill="#1a1a1a" textLength="90.9" lengthAdjust="spacingAndGlyphs" stroke="#1a1a1a" stroke-width="0.15">Relative Epx expression</text>
<text x="49.70" y="471.40" font-size="8.64" fill="#1a1a1a" textLength="16.20" lengthAdjust="spacingAndGlyphs" stroke="#1a1a1a" stroke-width="0.15">Trib1</text>
<text x="66.50" y="468.10" font-size="5.88" fill="#1a1a1a" textLength="7.40" lengthAdjust="spacingAndGlyphs" stroke="#1a1a1a" stroke-width="0.15">+/+</text>
<text x="82.00" y="471.40" font-size="8.64" fill="#1a1a1a" textLength="16.20" lengthAdjust="spacingAndGlyphs" stroke="#1a1a1a" stroke-width="0.15">Trib1</text>
<text x="98.80" y="468.10" font-size="5.88" fill="#1a1a1a" textLength="13.50" lengthAdjust="spacingAndGlyphs" stroke="#1a1a1a" stroke-width="0.15">ΔHSC</text>
<line x1="44.50" y1="515.00" x2="44.50" y2="614.00" stroke="#1a1a1a" stroke-width="1"/>
<line x1="44.00" y1="613.50" x2="114.60" y2="613.50" stroke="#1a1a1a" stroke-width="1"/>
<line x1="41.10" y1="613.80" x2="44.50" y2="613.80" stroke="#1a1a1a" stroke-width="1"/>
<text x="38.50" y="616.82" font-size="8.64" fill="#1a1a1a" text-anchor="end" textLength="10.01" lengthAdjust="spacingAndGlyphs" stroke="#1a1a1a" stroke-width="0.15">0.0</text>
<line x1="41.10" y1="589.60" x2="44.50" y2="589.60" stroke="#1a1a1a" stroke-width="1"/>
<text x="38.50" y="592.62" font-size="8.64" fill="#1a1a1a" text-anchor="end" textLength="10.01" lengthAdjust="spacingAndGlyphs" stroke="#1a1a1a" stroke-width="0.15">0.2</text>
<line x1="41.10" y1="565.40" x2="44.50" y2="565.40" stroke="#1a1a1a" stroke-width="1"/>
<text x="38.50" y="568.42" font-size="8.64" fill="#1a1a1a" text-anchor="end" textLength="10.01" lengthAdjust="spacingAndGlyphs" stroke="#1a1a1a" stroke-width="0.15">0.4</text>
<line x1="41.10" y1="541.20" x2="44.50" y2="541.20" stroke="#1a1a1a" stroke-width="1"/>
<text x="38.50" y="544.22" font-size="8.64" fill="#1a1a1a" text-anchor="end" textLength="10.01" lengthAdjust="spacingAndGlyphs" stroke="#1a1a1a" stroke-width="0.15">0.6</text>
<line x1="41.10" y1="517.00" x2="44.50" y2="517.00" stroke="#1a1a1a" stroke-width="1"/>
<text x="38.50" y="520.02" font-size="8.64" fill="#1a1a1a" text-anchor="end" textLength="10.01" lengthAdjust="spacingAndGlyphs" stroke="#1a1a1a" stroke-width="0.15">0.8</text>
<line x1="62.20" y1="569.03" x2="62.20" y2="575.08" stroke="#333" stroke-width="1"/>
<line x1="56.20" y1="569.03" x2="68.20" y2="569.03" stroke="#333" stroke-width="1.1"/>
<rect x="50.60" y="575.48" width="23.20" height="38.32" fill="#4a5f82" stroke="#3f5479" stroke-width="0.8"/>
<line x1="97.00" y1="538.17" x2="97.00" y2="550.88" stroke="#333" stroke-width="1"/>
<line x1="91.10" y1="538.17" x2="102.90" y2="538.17" stroke="#333" stroke-width="1.1"/>
<rect x="85.60" y="551.28" width="22.80" height="62.52" fill="#a03545" stroke="#932a3a" stroke-width="0.8"/>
<line x1="62.10" y1="613.80" x2="62.10" y2="616.30" stroke="#222" stroke-width="0.9"/>
<line x1="97.30" y1="613.80" x2="97.30" y2="616.30" stroke="#222" stroke-width="0.9"/>
<line x1="57.90" y1="516.50" x2="99.40" y2="516.50" stroke="#555" stroke-width="1.2"/>
<text x="79.40" y="514.30" font-size="7.80" fill="#333" text-anchor="middle" textLength="6.86" lengthAdjust="spacingAndGlyphs" stroke="#333" stroke-width="0.15">ns</text>
<text transform="translate(22.30,565.00) rotate(-90)" font-size="10.4" text-anchor="middle" fill="#1a1a1a" textLength="87.6" lengthAdjust="spacingAndGlyphs" stroke="#1a1a1a" stroke-width="0.15">Relative Ltf expression</text>
<text x="49.70" y="628.80" font-size="8.64" fill="#1a1a1a" textLength="16.20" lengthAdjust="spacingAndGlyphs" stroke="#1a1a1a" stroke-width="0.15">Trib1</text>
<text x="66.50" y="625.50" font-size="5.88" fill="#1a1a1a" textLength="7.40" lengthAdjust="spacingAndGlyphs" stroke="#1a1a1a" stroke-width="0.15">+/+</text>
<text x="82.00" y="628.80" font-size="8.64" fill="#1a1a1a" textLength="16.20" lengthAdjust="spacingAndGlyphs" stroke="#1a1a1a" stroke-width="0.15">Trib1</text>
<text x="98.80" y="625.50" font-size="5.88" fill="#1a1a1a" textLength="13.50" lengthAdjust="spacingAndGlyphs" stroke="#1a1a1a" stroke-width="0.15">ΔHSC</text>
<defs>
<filter id="tex" x="0" y="0" width="100%" height="100%">
<feTurbulence type="fractalNoise" baseFrequency="0.3" numOctaves="2" seed="5" result="t"/>
<feColorMatrix in="t" type="matrix" values="0 0 0 0 0  0 0 0 0 0  0 0 0 0 0  0 0 0 1.4 -0.55" result="a"/>
<feComposite in="a" in2="SourceGraphic" operator="in"/>
</filter>
<filter id="tex2" x="0" y="0" width="100%" height="100%">
<feTurbulence type="fractalNoise" baseFrequency="0.6" numOctaves="2" seed="9" result="t"/>
<feColorMatrix in="t" type="matrix" values="0 0 0 0 1  0 0 0 0 1  0 0 0 0 1  0 0 0 1.6 -0.75" result="a"/>
<feComposite in="a" in2="SourceGraphic" operator="in"/>
</filter>
<filter id="b07"><feGaussianBlur stdDeviation="0.7"/></filter>
<filter id="b12"><feGaussianBlur stdDeviation="1.2"/></filter>
<filter id="b2"><feGaussianBlur stdDeviation="2"/></filter>
<filter id="b4"><feGaussianBlur stdDeviation="4"/></filter>
<clipPath id="cpI"><rect x="130" y="348" width="116" height="107.5"/></clipPath>
<clipPath id="cpJ"><rect x="261.5" y="348" width="113.5" height="107.5"/></clipPath>
<clipPath id="cpK"><rect x="130" y="504.6" width="231.8" height="152.6"/></clipPath>
</defs>
<g clip-path="url(#cpI)">
<rect x="130.00" y="348.00" width="116.00" height="107.50" fill="#c5c5c5"/>
<path d="M131.5,362.3 C132.0,361.3 133.2,358.1 134.9,356.5 C136.7,355.0 139.2,354.0 141.8,353.1 C144.5,352.1 146.7,351.3 151.1,350.8 C155.5,350.2 165.5,349.8 168.4,349.6" fill="none" stroke="#a0a0a0" stroke-width="1.0" stroke-linecap="round" stroke-linejoin="round" filter="url(#b07)"/>
<path d="M168.4,350.1 C167.0,352.3 163.6,359.3 160.3,363.5 C157.0,367.6 151.8,371.2 148.8,375.0 C145.7,378.8 143.8,382.7 141.8,386.5 C139.9,390.4 138.4,393.5 137.2,398.1 C136.1,402.7 135.7,410.0 134.9,414.2 C134.2,418.5 133.0,421.9 132.6,423.5" fill="none" stroke="#a8a8a8" stroke-width="1.0" stroke-linecap="round" stroke-linejoin="round" filter="url(#b07)"/>
<path d="M137.0,400.0 C137.0,395.8 138.2,389.7 140.0,385.0 C141.8,380.3 145.0,376.0 148.0,372.0 C151.0,368.0 154.3,364.3 158.0,361.0 C161.7,357.7 166.0,354.0 170.0,352.0 C174.0,350.0 169.3,349.7 182.0,349.0 C194.7,348.3 235.3,334.5 246.0,348.0 C256.7,361.5 247.7,414.7 246.0,430.0 C244.3,445.3 240.3,436.7 236.0,440.0 C231.7,443.3 225.2,447.0 220.0,450.0 C214.8,453.0 211.7,456.7 205.0,458.0 C198.3,459.3 186.7,460.0 180.0,458.0 C173.3,456.0 169.2,450.3 165.0,446.0 C160.8,441.7 158.2,436.3 155.0,432.0 C151.8,427.7 148.5,423.7 146.0,420.0 C143.5,416.3 141.5,413.3 140.0,410.0 C138.5,406.7 137.0,404.2 137.0,400.0 Z" fill="#aaaaaa" stroke="none" stroke-width="1" filter="url(#b07)"/>
<path d="M140.0,456.0 C136.8,454.7 141.3,450.2 143.0,448.0 C144.7,445.8 147.5,444.0 150.0,443.0 C152.5,442.0 156.0,441.3 158.0,442.0 C160.0,442.7 161.3,444.7 162.0,447.0 C162.7,449.3 165.7,454.5 162.0,456.0 C158.3,457.5 143.2,457.3 140.0,456.0 Z" fill="#a4a4a4" stroke="none" stroke-width="1" filter="url(#b07)"/>
<ellipse cx="133.5" cy="421.5" rx="2.6" ry="2.4" transform="rotate(0 133.5 421.5)" fill="#b2b2b2" stroke="#8e8e8e" stroke-width="0.6"/>
<path d="M200.0,458.0 C194.2,457.0 207.5,454.3 212.0,452.0 C216.5,449.7 222.2,446.8 227.0,444.0 C231.8,441.2 237.7,437.3 241.0,435.0 C244.3,432.7 246.0,426.2 247.0,430.0 C248.0,433.8 254.8,453.3 247.0,458.0 C239.2,462.7 205.8,459.0 200.0,458.0 Z" fill="#bebebe" stroke="none" stroke-width="1" filter="url(#b07)"/>
<path d="M150.0,410.0 C150.7,407.0 155.0,404.5 158.0,402.0 C161.0,399.5 164.7,397.2 168.0,395.0 C171.3,392.8 175.0,391.5 178.0,389.0 C181.0,386.5 183.8,383.8 186.0,380.0 C188.2,376.2 189.0,369.8 191.0,366.0 C193.0,362.2 194.5,359.2 198.0,357.0 C201.5,354.8 207.0,353.5 212.0,352.5 C217.0,351.5 223.3,351.4 228.0,351.0 C232.7,350.6 236.8,350.2 240.0,350.0 C243.2,349.8 245.8,337.0 247.0,350.0 C248.2,363.0 248.2,414.0 247.0,428.0 C245.8,442.0 243.5,431.5 240.0,434.0 C236.5,436.5 230.8,440.2 226.0,443.0 C221.2,445.8 215.8,448.5 211.0,451.0 C206.2,453.5 201.5,456.8 197.0,458.0 C192.5,459.2 188.2,460.0 184.0,458.0 C179.8,456.0 175.7,450.3 172.0,446.0 C168.3,441.7 165.0,436.3 162.0,432.0 C159.0,427.7 156.0,423.7 154.0,420.0 C152.0,416.3 149.3,413.0 150.0,410.0 Z" fill="#7e7e7e" stroke="none" stroke-width="1" filter="url(#b07)"/>
<path d="M199.0,372.0 C199.5,368.3 200.0,364.0 203.0,362.0 C206.0,360.0 212.2,360.5 217.0,360.0 C221.8,359.5 228.7,358.0 232.0,359.0 C235.3,360.0 236.3,362.3 237.0,366.0 C237.7,369.7 238.0,377.8 236.0,381.0 C234.0,384.2 229.3,384.2 225.0,385.0 C220.7,385.8 214.2,386.2 210.0,386.0 C205.8,385.8 201.8,386.3 200.0,384.0 C198.2,381.7 198.5,375.7 199.0,372.0 Z" fill="#b9b9b9" stroke="none" stroke-width="1" filter="url(#b07)"/>
<path d="M209.0,420.0 C209.1,415.8 208.2,410.7 210.0,407.0 C211.8,403.3 216.3,400.3 220.0,398.0 C223.7,395.7 228.8,393.3 232.0,393.0 C235.2,392.7 237.9,393.6 239.5,396.0 C241.1,398.4 241.4,403.2 241.5,407.5 C241.6,411.8 241.1,417.8 240.0,422.0 C238.9,426.2 237.5,430.0 235.0,433.0 C232.5,436.0 228.3,438.8 225.0,440.0 C221.7,441.2 217.6,441.8 215.0,440.5 C212.4,439.2 210.5,435.4 209.5,432.0 C208.5,428.6 208.9,424.2 209.0,420.0 Z" fill="#b9b9b9" stroke="none" stroke-width="1" filter="url(#b07)"/>
<path d="M170.0,427.0 C169.3,422.8 168.9,417.8 171.0,415.0 C173.1,412.2 178.9,410.7 182.5,410.0 C186.1,409.3 189.6,410.2 192.5,411.0 C195.4,411.8 198.3,412.7 200.0,415.0 C201.7,417.3 202.5,421.3 202.5,425.0 C202.5,428.7 201.7,433.9 200.0,437.0 C198.3,440.1 195.4,442.2 192.5,443.5 C189.6,444.8 185.4,445.1 182.5,444.5 C179.6,443.9 177.1,442.9 175.0,440.0 C172.9,437.1 170.7,431.2 170.0,427.0 Z" fill="#b9b9b9" stroke="none" stroke-width="1" filter="url(#b07)"/>
<path d="M157.0,402.0 C158.3,399.8 161.2,397.0 164.0,396.0 C166.8,395.0 171.7,394.8 174.0,396.0 C176.3,397.2 178.3,400.5 178.0,403.0 C177.7,405.5 174.7,409.3 172.0,411.0 C169.3,412.7 164.7,413.3 162.0,413.0 C159.3,412.7 156.8,410.8 156.0,409.0 C155.2,407.2 155.7,404.2 157.0,402.0 Z" fill="#a9a9a9" stroke="none" stroke-width="1" filter="url(#b07)"/>
<ellipse cx="219.0" cy="370.0" rx="3.0" ry="2.0" transform="rotate(0 219.0 370.0)" fill="#878787" stroke="none" stroke-width="0.8" filter="url(#b07)"/>
<ellipse cx="208.0" cy="376.0" rx="2.6" ry="2.2" transform="rotate(0 208.0 376.0)" fill="#878787" stroke="none" stroke-width="0.8" filter="url(#b07)"/>
<ellipse cx="178.0" cy="432.0" rx="3.0" ry="2.4" transform="rotate(0 178.0 432.0)" fill="#878787" stroke="none" stroke-width="0.8" filter="url(#b07)"/>
<ellipse cx="190.0" cy="420.0" rx="2.2" ry="2.0" transform="rotate(0 190.0 420.0)" fill="#878787" stroke="none" stroke-width="0.8" filter="url(#b07)"/>
<ellipse cx="228.0" cy="420.0" rx="2.0" ry="3.0" transform="rotate(0 228.0 420.0)" fill="#878787" stroke="none" stroke-width="0.8" filter="url(#b07)"/>
<ellipse cx="224.0" cy="408.0" rx="2.4" ry="1.8" transform="rotate(0 224.0 408.0)" fill="#878787" stroke="none" stroke-width="0.8" filter="url(#b07)"/>
<path d="M232.0,400.0 C232.7,402.0 235.3,408.0 236.0,412.0 C236.7,416.0 236.0,422.0 236.0,424.0" fill="none" stroke="#858585" stroke-width="3" stroke-linecap="round" stroke-linejoin="round" filter="url(#b07)"/>
<ellipse cx="201.0" cy="402.0" rx="2.6" ry="2.2" transform="rotate(0 201.0 402.0)" fill="#797979" stroke="#bdbdbd" stroke-width="0.7"/>
<ellipse cx="207.5" cy="399.5" rx="3.0" ry="2.5" transform="rotate(0 207.5 399.5)" fill="#797979" stroke="#bdbdbd" stroke-width="0.7"/>
<ellipse cx="214.0" cy="398.0" rx="2.8" ry="2.4" transform="rotate(0 214.0 398.0)" fill="#797979" stroke="#bdbdbd" stroke-width="0.7"/>
<ellipse cx="221.0" cy="397.5" rx="2.4" ry="2.0" transform="rotate(0 221.0 397.5)" fill="#797979" stroke="#bdbdbd" stroke-width="0.7"/>
<ellipse cx="205.0" cy="405.5" rx="2.0" ry="1.7" transform="rotate(0 205.0 405.5)" fill="#797979" stroke="#bdbdbd" stroke-width="0.7"/>
<ellipse cx="228.0" cy="394.5" rx="2.0" ry="1.7" transform="rotate(0 228.0 394.5)" fill="#797979" stroke="#bdbdbd" stroke-width="0.7"/>
<ellipse cx="236.0" cy="392.0" rx="1.8" ry="1.5" transform="rotate(0 236.0 392.0)" fill="#797979" stroke="#bdbdbd" stroke-width="0.7"/>
<ellipse cx="148.0" cy="371.0" rx="2.0" ry="4.2" transform="rotate(30 148.0 371.0)" fill="#727272" stroke="none" stroke-width="0.8" filter="url(#b07)"/>
<ellipse cx="169.5" cy="372.7" rx="3.6" ry="1.4" transform="rotate(-35 169.5 372.7)" fill="#727272" stroke="none" stroke-width="0.8" filter="url(#b07)"/>
<ellipse cx="155.7" cy="371.5" rx="2.0" ry="1.6" transform="rotate(0 155.7 371.5)" fill="#727272" stroke="none" stroke-width="0.8" filter="url(#b07)"/>
<ellipse cx="173.0" cy="379.0" rx="2.8" ry="1.4" transform="rotate(-20 173.0 379.0)" fill="#727272" stroke="none" stroke-width="0.8" filter="url(#b07)"/>
<ellipse cx="162.6" cy="379.6" rx="1.8" ry="1.4" transform="rotate(0 162.6 379.6)" fill="#727272" stroke="none" stroke-width="0.8" filter="url(#b07)"/>
<ellipse cx="144.0" cy="400.0" rx="2.8" ry="2.0" transform="rotate(0 144.0 400.0)" fill="#727272" stroke="none" stroke-width="0.8" filter="url(#b07)"/>
<ellipse cx="148.8" cy="421.0" rx="2.0" ry="2.6" transform="rotate(0 148.8 421.0)" fill="#727272" stroke="none" stroke-width="0.8" filter="url(#b07)"/>
<ellipse cx="141.8" cy="408.5" rx="1.8" ry="2.3" transform="rotate(0 141.8 408.5)" fill="#727272" stroke="none" stroke-width="0.8" filter="url(#b07)"/>
<ellipse cx="153.4" cy="386.5" rx="1.4" ry="2.3" transform="rotate(20 153.4 386.5)" fill="#727272" stroke="none" stroke-width="0.8" filter="url(#b07)"/>
<path d="M146.0,407.0 C147.5,405.2 152.2,398.8 155.0,396.0 C157.8,393.2 160.2,392.0 163.0,390.0 C165.8,388.0 170.5,385.0 172.0,384.0" fill="none" stroke="#979797" stroke-width="3.5" stroke-linecap="round" stroke-linejoin="round" filter="url(#b07)"/>
<path d="M198.0,457.0 C200.3,456.2 207.2,454.2 212.0,452.0 C216.8,449.8 222.2,446.7 227.0,444.0 C231.8,441.3 237.7,438.2 241.0,436.0 C244.3,433.8 246.0,431.8 247.0,431.0" fill="none" stroke="#9a9a9a" stroke-width="0.9" stroke-linecap="round" stroke-linejoin="round" filter="url(#b07)"/>
<ellipse cx="210.5" cy="451.2" rx="8.0" ry="3.2" transform="rotate(-12 210.5 451.2)" fill="#8a8a8a" stroke="none" stroke-width="0.8" filter="url(#b07)"/>
<ellipse cx="204.6" cy="355.4" rx="1.6" ry="1.6" transform="rotate(0 204.6 355.4)" fill="#e0e0e0" stroke="none" stroke-width="0.8"/>
<rect x="130" y="348" width="116" height="107.5" fill="#000" filter="url(#tex)" opacity="0.14"/>
</g>
<rect x="142.8" y="359.7" width="36" height="24.6" fill="none" stroke="#f4f4f4" stroke-width="1"/>
<text x="164.70" y="404.50" font-size="8.40" fill="#f2f2f2" stroke="#f2f2f2" stroke-width="0.15">N</text>
<text x="220.80" y="450.80" font-size="6.72" fill="#111" textLength="23.20" lengthAdjust="spacingAndGlyphs" stroke="#111" stroke-width="0.15">800 nm</text>
<line x1="222.60" y1="453.20" x2="243.20" y2="453.20" stroke="#111" stroke-width="1.2"/>
<g clip-path="url(#cpJ)">
<rect x="261.50" y="348.00" width="113.50" height="107.50" fill="#8c8c8c"/>
<g opacity="0.85"><path fill="#c0c0c0" d="M352.2,382.5a.7,.7 0 1,0 1.5,0a.7,.7 0 1,0 -1.5,-0M264,386a1.5,1.5 0 1,0 3,0a1.5,1.5 0 1,0 -3,-0M266.2,398.4a1.2,1.2 0 1,0 2.4,0a1.2,1.2 0 1,0 -2.4,-0M260.4,433.6a.6,.6 0 1,0 1.3,0a.6,.6 0 1,0 -1.3,-0M283.5,356.1a.9,.9 0 1,0 1.9,0a.9,.9 0 1,0 -1.9,-0M308.9,374.4a1.4,1.4 0 1,0 2.7,0a1.4,1.4 0 1,0 -2.7,-0M317,432.9a1,1 0 1,0 2.1,0a1,1 0 1,0 -2.1,-0M340,357.2a1.1,1.1 0 1,0 2.2,0a1.1,1.1 0 1,0 -2.2,-0M364.5,387.7a.8,.8 0 1,0 1.5,0a.8,.8 0 1,0 -1.5,-0M271.9,455.7a1.4,1.4 0 1,0 2.8,0a1.4,1.4 0 1,0 -2.8,-0M319.2,410.7a1.4,1.4 0 1,0 2.7,0a1.4,1.4 0 1,0 -2.7,-0M288.4,452.3a1.3,1.3 0 1,0 2.7,0a1.3,1.3 0 1,0 -2.7,-0M350.1,380.2a.7,.7 0 1,0 1.5,0a.7,.7 0 1,0 -1.5,-0M366.1,397.3a1.4,1.4 0 1,0 2.7,0a1.4,1.4 0 1,0 -2.7,-0M307.8,425.9a.7,.7 0 1,0 1.3,0a.7,.7 0 1,0 -1.3,-0M338.2,358.4a1.2,1.2 0 1,0 2.3,0a1.2,1.2 0 1,0 -2.3,-0M355.2,363.5a1,1 0 1,0 2,0a1,1 0 1,0 -2,-0M309.8,388.5a.9,.9 0 1,0 1.8,0a.9,.9 0 1,0 -1.8,-0M312.5,362a.6,.6 0 1,0 1.1,0a.6,.6 0 1,0 -1.1,-0M264.9,437.8a.7,.7 0 1,0 1.5,0a.7,.7 0 1,0 -1.5,-0M303.4,429.9a.6,.6 0 1,0 1.2,0a.6,.6 0 1,0 -1.2,-0M281.6,412.3a1.3,1.3 0 1,0 2.7,0a1.3,1.3 0 1,0 -2.7,-0M315,452.2a.9,.9 0 1,0 1.7,0a.9,.9 0 1,0 -1.7,-0M276,359.1a.9,.9 0 1,0 1.7,0a.9,.9 0 1,0 -1.7,-0M375.3,452.5a.6,.6 0 1,0 1.2,0a.6,.6 0 1,0 -1.2,-0M294.4,395a.9,.9 0 1,0 1.9,0a.9,.9 0 1,0 -1.9,-0M282.8,382.7a1.1,1.1 0 1,0 2.2,0a1.1,1.1 0 1,0 -2.2,-0M268.3,381.9a1.2,1.2 0 1,0 2.3,0a1.2,1.2 0 1,0 -2.3,-0M363.4,358.3a1.2,1.2 0 1,0 2.4,0a1.2,1.2 0 1,0 -2.4,-0M320.1,447.2a1.2,1.2 0 1,0 2.5,0a1.2,1.2 0 1,0 -2.5,-0M309.5,351.1a.7,.7 0 1,0 1.5,0a.7,.7 0 1,0 -1.5,-0M313.3,450.2a1.1,1.1 0 1,0 2.1,0a1.1,1.1 0 1,0 -2.1,-0M308.7,419.1a1.4,1.4 0 1,0 2.9,0a1.4,1.4 0 1,0 -2.9,-0M365.2,413.2a1.2,1.2 0 1,0 2.5,0a1.2,1.2 0 1,0 -2.5,-0M371.2,396.4a1.1,1.1 0 1,0 2.2,0a1.1,1.1 0 1,0 -2.2,-0M354.4,357.1a1.1,1.1 0 1,0 2.1,0a1.1,1.1 0 1,0 -2.1,-0M330.8,411.7a1.2,1.2 0 1,0 2.4,0a1.2,1.2 0 1,0 -2.4,-0M369.6,376.7a.9,.9 0 1,0 1.7,0a.9,.9 0 1,0 -1.7,-0M271.6,445.8a.6,.6 0 1,0 1.2,0a.6,.6 0 1,0 -1.2,-0M356.9,377.7a.7,.7 0 1,0 1.3,0a.7,.7 0 1,0 -1.3,-0M301,377a1.4,1.4 0 1,0 2.8,0a1.4,1.4 0 1,0 -2.8,-0M313.7,419.6a.7,.7 0 1,0 1.4,0a.7,.7 0 1,0 -1.4,-0M296.5,377.3a1.4,1.4 0 1,0 2.8,0a1.4,1.4 0 1,0 -2.8,-0M275,435.2a1.3,1.3 0 1,0 2.6,0a1.3,1.3 0 1,0 -2.6,-0M269,410.4a.6,.6 0 1,0 1.2,0a.6,.6 0 1,0 -1.2,-0M346.6,454.2a.5,.5 0 1,0 1.1,0a.5,.5 0 1,0 -1.1,-0M306.2,387a1.1,1.1 0 1,0 2.3,0a1.1,1.1 0 1,0 -2.3,-0M317.5,447.1a1.1,1.1 0 1,0 2.1,0a1.1,1.1 0 1,0 -2.1,-0M373.4,450.1a.8,.8 0 1,0 1.7,0a.8,.8 0 1,0 -1.7,-0M368.1,359.1a.8,.8 0 1,0 1.6,0a.8,.8 0 1,0 -1.6,-0M279.4,406.1a.5,.5 0 1,0 1.1,0a.5,.5 0 1,0 -1.1,-0M345.9,453.2a.8,.8 0 1,0 1.5,0a.8,.8 0 1,0 -1.5,-0M262.3,423.4a.7,.7 0 1,0 1.4,0a.7,.7 0 1,0 -1.4,-0M315.7,380a.6,.6 0 1,0 1.2,0a.6,.6 0 1,0 -1.2,-0M341.3,446.1a1,1 0 1,0 1.9,0a1,1 0 1,0 -1.9,-0M263.5,410.2a.7,.7 0 1,0 1.5,0a.7,.7 0 1,0 -1.5,-0M264.3,409a.6,.6 0 1,0 1.3,0a.6,.6 0 1,0 -1.3,-0M367.3,406.3a1.4,1.4 0 1,0 2.8,0a1.4,1.4 0 1,0 -2.8,-0M333.5,439.3a1.4,1.4 0 1,0 2.8,0a1.4,1.4 0 1,0 -2.8,-0M277.8,428.6a.8,.8 0 1,0 1.7,0a.8,.8 0 1,0 -1.7,-0M339.6,370.6a1.4,1.4 0 1,0 2.7,0a1.4,1.4 0 1,0 -2.7,-0M343.6,372.2a.6,.6 0 1,0 1.3,0a.6,.6 0 1,0 -1.3,-0M318.4,362.1a.9,.9 0 1,0 1.9,0a.9,.9 0 1,0 -1.9,-0M352.3,386.5a.8,.8 0 1,0 1.5,0a.8,.8 0 1,0 -1.5,-0M319,434.6a1.2,1.2 0 1,0 2.3,0a1.2,1.2 0 1,0 -2.3,-0M370.4,390a1.1,1.1 0 1,0 2.2,0a1.1,1.1 0 1,0 -2.2,-0M268.9,389.4a.5,.5 0 1,0 1.1,0a.5,.5 0 1,0 -1.1,-0M282.4,371.3a1,1 0 1,0 2,0a1,1 0 1,0 -2,-0M295,442.2a.7,.7 0 1,0 1.5,0a.7,.7 0 1,0 -1.5,-0M324.6,363.4a1.4,1.4 0 1,0 2.7,0a1.4,1.4 0 1,0 -2.7,-0M350,408.1a1,1 0 1,0 2,0a1,1 0 1,0 -2,-0M329.2,394.3a1.3,1.3 0 1,0 2.7,0a1.3,1.3 0 1,0 -2.7,-0M327.1,415.9a1.2,1.2 0 1,0 2.3,0a1.2,1.2 0 1,0 -2.3,-0M268.5,433.3a.7,.7 0 1,0 1.3,0a.7,.7 0 1,0 -1.3,-0M316.5,387.8a.9,.9 0 1,0 1.8,0a.9,.9 0 1,0 -1.8,-0M268.6,441a1.3,1.3 0 1,0 2.6,0a1.3,1.3 0 1,0 -2.6,-0M275.2,429.9a1.4,1.4 0 1,0 2.8,0a1.4,1.4 0 1,0 -2.8,-0M361,390a.6,.6 0 1,0 1.1,0a.6,.6 0 1,0 -1.1,-0M264.2,356.6a.8,.8 0 1,0 1.6,0a.8,.8 0 1,0 -1.6,-0M288.2,445.5a.8,.8 0 1,0 1.6,0a.8,.8 0 1,0 -1.6,-0M345.1,365.8a.6,.6 0 1,0 1.2,0a.6,.6 0 1,0 -1.2,-0M363.3,418.2a.6,.6 0 1,0 1.2,0a.6,.6 0 1,0 -1.2,-0M309.8,375.3a1.4,1.4 0 1,0 2.7,0a1.4,1.4 0 1,0 -2.7,-0M273.2,380.3a1.1,1.1 0 1,0 2.3,0a1.1,1.1 0 1,0 -2.3,-0M296.6,410a.8,.8 0 1,0 1.6,0a.8,.8 0 1,0 -1.6,-0M316.9,369a.7,.7 0 1,0 1.5,0a.7,.7 0 1,0 -1.5,-0M288.9,402.7a1.3,1.3 0 1,0 2.6,0a1.3,1.3 0 1,0 -2.6,-0M283.6,447.2a.7,.7 0 1,0 1.4,0a.7,.7 0 1,0 -1.4,-0M316.3,377.6a1,1 0 1,0 1.9,0a1,1 0 1,0 -1.9,-0M347.3,413.8a1.3,1.3 0 1,0 2.6,0a1.3,1.3 0 1,0 -2.6,-0M278.2,431.9a.7,.7 0 1,0 1.4,0a.7,.7 0 1,0 -1.4,-0M330,382.5a1.2,1.2 0 1,0 2.5,0a1.2,1.2 0 1,0 -2.5,-0M309.9,443.5a.5,.5 0 1,0 1.1,0a.5,.5 0 1,0 -1.1,-0M294.6,448.5a1.4,1.4 0 1,0 2.8,0a1.4,1.4 0 1,0 -2.8,-0M346,371.7a1.4,1.4 0 1,0 2.8,0a1.4,1.4 0 1,0 -2.8,-0M265.6,371.1a1.1,1.1 0 1,0 2.2,0a1.1,1.1 0 1,0 -2.2,-0M309.6,414.4a1.2,1.2 0 1,0 2.3,0a1.2,1.2 0 1,0 -2.3,-0M297.4,362.1a1,1 0 1,0 2,0a1,1 0 1,0 -2,-0M294.2,377.9a.5,.5 0 1,0 1.1,0a.5,.5 0 1,0 -1.1,-0M265.7,369.7a.7,.7 0 1,0 1.4,0a.7,.7 0 1,0 -1.4,-0M359,441.6a1,1 0 1,0 1.9,0a1,1 0 1,0 -1.9,-0M349.7,425.7a1,1 0 1,0 2.1,0a1,1 0 1,0 -2.1,-0M309.9,411.7a.7,.7 0 1,0 1.5,0a.7,.7 0 1,0 -1.5,-0M321,454.8a1.3,1.3 0 1,0 2.6,0a1.3,1.3 0 1,0 -2.6,-0M285.3,391.3a1.3,1.3 0 1,0 2.7,0a1.3,1.3 0 1,0 -2.7,-0M270.2,367.9a.9,.9 0 1,0 1.9,0a.9,.9 0 1,0 -1.9,-0M317.2,385.2a1.1,1.1 0 1,0 2.3,0a1.1,1.1 0 1,0 -2.3,-0M280,393.5a.6,.6 0 1,0 1.1,0a.6,.6 0 1,0 -1.1,-0M373.4,379.9a.9,.9 0 1,0 1.8,0a.9,.9 0 1,0 -1.8,-0M284.4,411.6a.7,.7 0 1,0 1.4,0a.7,.7 0 1,0 -1.4,-0M316.9,375.8a.6,.6 0 1,0 1.1,0a.6,.6 0 1,0 -1.1,-0M287.3,401.1a1.4,1.4 0 1,0 2.8,0a1.4,1.4 0 1,0 -2.8,-0M307.2,378.6a1.1,1.1 0 1,0 2.1,0a1.1,1.1 0 1,0 -2.1,-0M327.5,415.8a1.4,1.4 0 1,0 2.8,0a1.4,1.4 0 1,0 -2.8,-0M340.5,422.3a1.4,1.4 0 1,0 2.8,0a1.4,1.4 0 1,0 -2.8,-0M299.4,367.7a1.1,1.1 0 1,0 2.2,0a1.1,1.1 0 1,0 -2.2,-0M304.9,356.6a1,1 0 1,0 1.9,0a1,1 0 1,0 -1.9,-0M284.1,360.9a1.4,1.4 0 1,0 2.9,0a1.4,1.4 0 1,0 -2.9,-0M365.5,387.7a1.5,1.5 0 1,0 3,0a1.5,1.5 0 1,0 -3,-0M318.5,426.9a1.2,1.2 0 1,0 2.4,0a1.2,1.2 0 1,0 -2.4,-0M360.7,439.5a.9,.9 0 1,0 1.8,0a.9,.9 0 1,0 -1.8,-0M332.6,443.1a1.4,1.4 0 1,0 2.9,0a1.4,1.4 0 1,0 -2.9,-0M369.9,447.7a.7,.7 0 1,0 1.5,0a.7,.7 0 1,0 -1.5,-0M261.7,359.7a.6,.6 0 1,0 1.2,0a.6,.6 0 1,0 -1.2,-0M319.3,407.8a.9,.9 0 1,0 1.7,0a.9,.9 0 1,0 -1.7,-0M373,442a1.4,1.4 0 1,0 2.8,0a1.4,1.4 0 1,0 -2.8,-0M300.1,381.7a.6,.6 0 1,0 1.2,0a.6,.6 0 1,0 -1.2,-0M343.1,370.8a1.1,1.1 0 1,0 2.1,0a1.1,1.1 0 1,0 -2.1,-0M277.8,445.6a.9,.9 0 1,0 1.9,0a.9,.9 0 1,0 -1.9,-0M284.3,388.6a.8,.8 0 1,0 1.5,0a.8,.8 0 1,0 -1.5,-0M267.9,418.5a.8,.8 0 1,0 1.6,0a.8,.8 0 1,0 -1.6,-0M300.6,381.7a1.1,1.1 0 1,0 2.2,0a1.1,1.1 0 1,0 -2.2,-0M366.1,404.5a1.1,1.1 0 1,0 2.1,0a1.1,1.1 0 1,0 -2.1,-0M276.6,353.6a1.1,1.1 0 1,0 2.2,0a1.1,1.1 0 1,0 -2.2,-0M293.4,395.6a.5,.5 0 1,0 1,0a.5,.5 0 1,0 -1,-0M268.2,386.7a1,1 0 1,0 1.9,0a1,1 0 1,0 -1.9,-0M291.7,417.8a.9,.9 0 1,0 1.7,0a.9,.9 0 1,0 -1.7,-0M318.6,411.9a1,1 0 1,0 2,0a1,1 0 1,0 -2,-0M292.9,443.3a.7,.7 0 1,0 1.4,0a.7,.7 0 1,0 -1.4,-0M339.7,443a.9,.9 0 1,0 1.8,0a.9,.9 0 1,0 -1.8,-0M263,434a1.3,1.3 0 1,0 2.6,0a1.3,1.3 0 1,0 -2.6,-0M362.9,439.5a1.5,1.5 0 1,0 2.9,0a1.5,1.5 0 1,0 -2.9,-0M278.4,454.7a1.4,1.4 0 1,0 2.8,0a1.4,1.4 0 1,0 -2.8,-0M264.6,413.6a1.1,1.1 0 1,0 2.2,0a1.1,1.1 0 1,0 -2.2,-0M351.4,358.9a1,1 0 1,0 1.9,0a1,1 0 1,0 -1.9,-0M275.4,441.1a.6,.6 0 1,0 1.2,0a.6,.6 0 1,0 -1.2,-0M311.1,396.6a.8,.8 0 1,0 1.7,0a.8,.8 0 1,0 -1.7,-0M281.8,364.7a.6,.6 0 1,0 1.2,0a.6,.6 0 1,0 -1.2,-0M358.5,373.7a.6,.6 0 1,0 1.1,0a.6,.6 0 1,0 -1.1,-0M358.7,365.5a1.5,1.5 0 1,0 2.9,0a1.5,1.5 0 1,0 -2.9,-0M330.6,437.2a1.3,1.3 0 1,0 2.6,0a1.3,1.3 0 1,0 -2.6,-0M340.8,349.4a.5,.5 0 1,0 1.1,0a.5,.5 0 1,0 -1.1,-0M372.6,429.3a1,1 0 1,0 2,0a1,1 0 1,0 -2,-0M348.2,416.2a.8,.8 0 1,0 1.6,0a.8,.8 0 1,0 -1.6,-0M277.6,408.4a.6,.6 0 1,0 1.2,0a.6,.6 0 1,0 -1.2,-0M359.6,438.3a1,1 0 1,0 2,0a1,1 0 1,0 -2,-0M356.3,389a1,1 0 1,0 2,0a1,1 0 1,0 -2,-0M269.4,412.7a.6,.6 0 1,0 1.2,0a.6,.6 0 1,0 -1.2,-0M308,394.5a1.3,1.3 0 1,0 2.6,0a1.3,1.3 0 1,0 -2.6,-0M287.4,366.7a1.3,1.3 0 1,0 2.7,0a1.3,1.3 0 1,0 -2.7,-0M359.6,422.7a.6,.6 0 1,0 1.3,0a.6,.6 0 1,0 -1.3,-0M349.8,402.1a1.1,1.1 0 1,0 2.1,0a1.1,1.1 0 1,0 -2.1,-0M306.7,383.5a1.4,1.4 0 1,0 2.7,0a1.4,1.4 0 1,0 -2.7,-0M329.7,377.8a.9,.9 0 1,0 1.8,0a.9,.9 0 1,0 -1.8,-0M292.5,410.7a.6,.6 0 1,0 1.2,0a.6,.6 0 1,0 -1.2,-0M278.6,415.5a.7,.7 0 1,0 1.4,0a.7,.7 0 1,0 -1.4,-0M269,413.4a1.4,1.4 0 1,0 2.9,0a1.4,1.4 0 1,0 -2.9,-0M360.5,444.3a1.2,1.2 0 1,0 2.3,0a1.2,1.2 0 1,0 -2.3,-0M263.6,374.8a.6,.6 0 1,0 1.3,0a.6,.6 0 1,0 -1.3,-0M365.1,443.9a1.4,1.4 0 1,0 2.7,0a1.4,1.4 0 1,0 -2.7,-0M269.1,374.1a1.3,1.3 0 1,0 2.5,0a1.3,1.3 0 1,0 -2.5,-0M360.5,399a.7,.7 0 1,0 1.3,0a.7,.7 0 1,0 -1.3,-0M314.5,368.8a.7,.7 0 1,0 1.4,0a.7,.7 0 1,0 -1.4,-0M303.3,365.3a1.3,1.3 0 1,0 2.5,0a1.3,1.3 0 1,0 -2.5,-0M326,386a1,1 0 1,0 1.9,0a1,1 0 1,0 -1.9,-0M330.9,436.7a.6,.6 0 1,0 1.2,0a.6,.6 0 1,0 -1.2,-0M267.6,348a.5,.5 0 1,0 1.1,0a.5,.5 0 1,0 -1.1,-0M361.3,400.4a1.3,1.3 0 1,0 2.7,0a1.3,1.3 0 1,0 -2.7,-0M327.1,429.8a.9,.9 0 1,0 1.7,0a.9,.9 0 1,0 -1.7,-0M272.4,395.7a1.4,1.4 0 1,0 2.9,0a1.4,1.4 0 1,0 -2.9,-0M326.3,431.8a1.2,1.2 0 1,0 2.4,0a1.2,1.2 0 1,0 -2.4,-0M271,352.7a1.3,1.3 0 1,0 2.7,0a1.3,1.3 0 1,0 -2.7,-0M291,372.1a1.3,1.3 0 1,0 2.7,0a1.3,1.3 0 1,0 -2.7,-0M263.2,454.8a1.1,1.1 0 1,0 2.3,0a1.1,1.1 0 1,0 -2.3,-0M347,398.4a1.3,1.3 0 1,0 2.7,0a1.3,1.3 0 1,0 -2.7,-0M353.2,381.2a.7,.7 0 1,0 1.4,0a.7,.7 0 1,0 -1.4,-0M370.7,393.8a.7,.7 0 1,0 1.4,0a.7,.7 0 1,0 -1.4,-0M277.6,455.8a1,1 0 1,0 1.9,0a1,1 0 1,0 -1.9,-0M339.3,370.1a1.5,1.5 0 1,0 3,0a1.5,1.5 0 1,0 -3,-0M369.6,393.6a1,1 0 1,0 2,0a1,1 0 1,0 -2,-0M265,370.2a.8,.8 0 1,0 1.5,0a.8,.8 0 1,0 -1.5,-0M287.9,440.3a.8,.8 0 1,0 1.6,0a.8,.8 0 1,0 -1.6,-0M374.8,450.2a.9,.9 0 1,0 1.7,0a.9,.9 0 1,0 -1.7,-0M263.8,352.6a1.1,1.1 0 1,0 2.1,0a1.1,1.1 0 1,0 -2.1,-0M273,406.5a.7,.7 0 1,0 1.5,0a.7,.7 0 1,0 -1.5,-0M371.5,421.5a.7,.7 0 1,0 1.4,0a.7,.7 0 1,0 -1.4,-0M279.8,354.7a1,1 0 1,0 2,0a1,1 0 1,0 -2,-0M296.8,355.9a1.3,1.3 0 1,0 2.6,0a1.3,1.3 0 1,0 -2.6,-0M277.8,401.6a1.4,1.4 0 1,0 2.8,0a1.4,1.4 0 1,0 -2.8,-0M302.9,379.7a.7,.7 0 1,0 1.3,0a.7,.7 0 1,0 -1.3,-0M263.7,407.9a1.2,1.2 0 1,0 2.4,0a1.2,1.2 0 1,0 -2.4,-0M334.8,395a.9,.9 0 1,0 1.8,0a.9,.9 0 1,0 -1.8,-0M274.7,410.4a.9,.9 0 1,0 1.8,0a.9,.9 0 1,0 -1.8,-0M261.7,350.6a1.5,1.5 0 1,0 2.9,0a1.5,1.5 0 1,0 -2.9,-0M272.3,377.3a1,1 0 1,0 2,0a1,1 0 1,0 -2,-0M344.6,378.9a.6,.6 0 1,0 1.2,0a.6,.6 0 1,0 -1.2,-0M335.4,376.6a.6,.6 0 1,0 1.2,0a.6,.6 0 1,0 -1.2,-0M296,445.1a1.2,1.2 0 1,0 2.5,0a1.2,1.2 0 1,0 -2.5,-0M349.9,393.5a.7,.7 0 1,0 1.4,0a.7,.7 0 1,0 -1.4,-0M323.7,427.5a1.3,1.3 0 1,0 2.7,0a1.3,1.3 0 1,0 -2.7,-0M361.2,373.2a.6,.6 0 1,0 1.2,0a.6,.6 0 1,0 -1.2,-0M359.5,380.1a.5,.5 0 1,0 1.1,0a.5,.5 0 1,0 -1.1,-0M289.9,396.7a1,1 0 1,0 2,0a1,1 0 1,0 -2,-0M304.9,372.5a1,1 0 1,0 1.9,0a1,1 0 1,0 -1.9,-0M259.8,412a1.3,1.3 0 1,0 2.6,0a1.3,1.3 0 1,0 -2.6,-0M334.6,418.2a1,1 0 1,0 2.1,0a1,1 0 1,0 -2.1,-0M279.9,438.1a.8,.8 0 1,0 1.6,0a.8,.8 0 1,0 -1.6,-0M269.6,401.6a1,1 0 1,0 2,0a1,1 0 1,0 -2,-0M367.3,450.1a.5,.5 0 1,0 1,0a.5,.5 0 1,0 -1,-0M304.6,392a1.3,1.3 0 1,0 2.5,0a1.3,1.3 0 1,0 -2.5,-0M264.2,376.1a.9,.9 0 1,0 1.8,0a.9,.9 0 1,0 -1.8,-0M296.9,448.4a.8,.8 0 1,0 1.7,0a.8,.8 0 1,0 -1.7,-0M313.5,381.3a.9,.9 0 1,0 1.9,0a.9,.9 0 1,0 -1.9,-0M359.6,443.9a.5,.5 0 1,0 1,0a.5,.5 0 1,0 -1,-0M302,367.1a.6,.6 0 1,0 1.2,0a.6,.6 0 1,0 -1.2,-0M345.9,402.1a1.1,1.1 0 1,0 2.2,0a1.1,1.1 0 1,0 -2.2,-0M349.1,363a.5,.5 0 1,0 1.1,0a.5,.5 0 1,0 -1.1,-0M340.9,415.2a1.3,1.3 0 1,0 2.5,0a1.3,1.3 0 1,0 -2.5,-0M350.6,385a1,1 0 1,0 1.9,0a1,1 0 1,0 -1.9,-0M359.7,359.6a.6,.6 0 1,0 1.2,0a.6,.6 0 1,0 -1.2,-0M271.4,453.1a1.4,1.4 0 1,0 2.9,0a1.4,1.4 0 1,0 -2.9,-0M357.3,451.5a.8,.8 0 1,0 1.7,0a.8,.8 0 1,0 -1.7,-0M276.4,366.1a1.1,1.1 0 1,0 2.2,0a1.1,1.1 0 1,0 -2.2,-0M306.8,386.9a1.2,1.2 0 1,0 2.5,0a1.2,1.2 0 1,0 -2.5,-0M367.2,347.8a.8,.8 0 1,0 1.7,0a.8,.8 0 1,0 -1.7,-0M276.7,350.4a1,1 0 1,0 2.1,0a1,1 0 1,0 -2.1,-0M290.1,359.8a.8,.8 0 1,0 1.6,0a.8,.8 0 1,0 -1.6,-0M324.3,361a.6,.6 0 1,0 1.2,0a.6,.6 0 1,0 -1.2,-0M286.7,442.3a1.2,1.2 0 1,0 2.4,0a1.2,1.2 0 1,0 -2.4,-0M331.2,382.8a1.3,1.3 0 1,0 2.6,0a1.3,1.3 0 1,0 -2.6,-0M307.8,357.7a.7,.7 0 1,0 1.4,0a.7,.7 0 1,0 -1.4,-0M325.8,379a.6,.6 0 1,0 1.3,0a.6,.6 0 1,0 -1.3,-0M323.2,375.1a1.1,1.1 0 1,0 2.3,0a1.1,1.1 0 1,0 -2.3,-0M287.1,390.8a1.3,1.3 0 1,0 2.6,0a1.3,1.3 0 1,0 -2.6,-0M319.1,442.3a1.4,1.4 0 1,0 2.8,0a1.4,1.4 0 1,0 -2.8,-0M344.5,411.1a.9,.9 0 1,0 1.8,0a.9,.9 0 1,0 -1.8,-0M311.6,361.8a1.3,1.3 0 1,0 2.6,0a1.3,1.3 0 1,0 -2.6,-0M275.1,418.7a1.1,1.1 0 1,0 2.2,0a1.1,1.1 0 1,0 -2.2,-0M314.3,434.9a.9,.9 0 1,0 1.7,0a.9,.9 0 1,0 -1.7,-0M312.5,439.2a1.3,1.3 0 1,0 2.6,0a1.3,1.3 0 1,0 -2.6,-0M270.9,352.4a1.2,1.2 0 1,0 2.4,0a1.2,1.2 0 1,0 -2.4,-0M366.1,421.1a.7,.7 0 1,0 1.4,0a.7,.7 0 1,0 -1.4,-0M294.7,429.4a.9,.9 0 1,0 1.8,0a.9,.9 0 1,0 -1.8,-0M272,389.5a.9,.9 0 1,0 1.9,0a.9,.9 0 1,0 -1.9,-0M364.3,416.5a1.1,1.1 0 1,0 2.2,0a1.1,1.1 0 1,0 -2.2,-0M298.9,416.5a.8,.8 0 1,0 1.5,0a.8,.8 0 1,0 -1.5,-0M358.4,443.7a.9,.9 0 1,0 1.8,0a.9,.9 0 1,0 -1.8,-0M321.5,355.8a1,1 0 1,0 2.1,0a1,1 0 1,0 -2.1,-0M285.3,414.5a1.3,1.3 0 1,0 2.7,0a1.3,1.3 0 1,0 -2.7,-0M291.5,435.9a1.1,1.1 0 1,0 2.2,0a1.1,1.1 0 1,0 -2.2,-0"/><path fill="#b2b2b2" d="M293.1,450.9a1.5,1.5 0 1,0 3,0a1.5,1.5 0 1,0 -3,-0M263.6,451.3a.7,.7 0 1,0 1.3,0a.7,.7 0 1,0 -1.3,-0M284,367.9a.6,.6 0 1,0 1.2,0a.6,.6 0 1,0 -1.2,-0M346.3,450.1a1,1 0 1,0 2.1,0a1,1 0 1,0 -2.1,-0M273.1,389.5a1,1 0 1,0 2,0a1,1 0 1,0 -2,-0M287.2,369.9a1.3,1.3 0 1,0 2.7,0a1.3,1.3 0 1,0 -2.7,-0M278.4,349.7a1.5,1.5 0 1,0 2.9,0a1.5,1.5 0 1,0 -2.9,-0M294,377.1a1,1 0 1,0 1.9,0a1,1 0 1,0 -1.9,-0M295.4,355.6a1.2,1.2 0 1,0 2.4,0a1.2,1.2 0 1,0 -2.4,-0M275.6,448.3a1.2,1.2 0 1,0 2.4,0a1.2,1.2 0 1,0 -2.4,-0M274.2,422.4a.6,.6 0 1,0 1.3,0a.6,.6 0 1,0 -1.3,-0M357.4,352.1a1.2,1.2 0 1,0 2.5,0a1.2,1.2 0 1,0 -2.5,-0M309.6,358.9a.9,.9 0 1,0 1.8,0a.9,.9 0 1,0 -1.8,-0M304.4,418.9a1.1,1.1 0 1,0 2.1,0a1.1,1.1 0 1,0 -2.1,-0M350.4,370.2a.9,.9 0 1,0 1.7,0a.9,.9 0 1,0 -1.7,-0M320.8,395.7a.8,.8 0 1,0 1.6,0a.8,.8 0 1,0 -1.6,-0M300.3,362.9a.9,.9 0 1,0 1.9,0a.9,.9 0 1,0 -1.9,-0M368.8,443.2a1.2,1.2 0 1,0 2.3,0a1.2,1.2 0 1,0 -2.3,-0M270.9,365.3a1.1,1.1 0 1,0 2.3,0a1.1,1.1 0 1,0 -2.3,-0M334.3,400.3a1.1,1.1 0 1,0 2.2,0a1.1,1.1 0 1,0 -2.2,-0M369.2,399.7a.9,.9 0 1,0 1.8,0a.9,.9 0 1,0 -1.8,-0M271.1,451.1a1,1 0 1,0 1.9,0a1,1 0 1,0 -1.9,-0M289.9,364.3a.8,.8 0 1,0 1.5,0a.8,.8 0 1,0 -1.5,-0M353,437.9a1.4,1.4 0 1,0 2.8,0a1.4,1.4 0 1,0 -2.8,-0M261.8,357.7a1.1,1.1 0 1,0 2.1,0a1.1,1.1 0 1,0 -2.1,-0M342.6,447.4a1,1 0 1,0 2.1,0a1,1 0 1,0 -2.1,-0M270.4,396.2a1.1,1.1 0 1,0 2.1,0a1.1,1.1 0 1,0 -2.1,-0M320.4,350.7a1,1 0 1,0 2.1,0a1,1 0 1,0 -2.1,-0M308.9,388.7a.9,.9 0 1,0 1.7,0a.9,.9 0 1,0 -1.7,-0M360.3,351.6a1.4,1.4 0 1,0 2.7,0a1.4,1.4 0 1,0 -2.7,-0M364.7,399.2a1.1,1.1 0 1,0 2.3,0a1.1,1.1 0 1,0 -2.3,-0M270.4,364.9a.7,.7 0 1,0 1.4,0a.7,.7 0 1,0 -1.4,-0M276.9,371.3a.6,.6 0 1,0 1.2,0a.6,.6 0 1,0 -1.2,-0M283.6,425.9a.6,.6 0 1,0 1.2,0a.6,.6 0 1,0 -1.2,-0M359.9,416.8a1.5,1.5 0 1,0 2.9,0a1.5,1.5 0 1,0 -2.9,-0M340.5,349.1a.7,.7 0 1,0 1.4,0a.7,.7 0 1,0 -1.4,-0M313.3,350.3a1.3,1.3 0 1,0 2.6,0a1.3,1.3 0 1,0 -2.6,-0M314.7,416.1a.5,.5 0 1,0 1.1,0a.5,.5 0 1,0 -1.1,-0M347,401.9a1.4,1.4 0 1,0 2.7,0a1.4,1.4 0 1,0 -2.7,-0M323.3,399.2a1.3,1.3 0 1,0 2.6,0a1.3,1.3 0 1,0 -2.6,-0M290,388.7a.9,.9 0 1,0 1.9,0a.9,.9 0 1,0 -1.9,-0M314.9,348.5a.6,.6 0 1,0 1.3,0a.6,.6 0 1,0 -1.3,-0M288,416.8a.6,.6 0 1,0 1.2,0a.6,.6 0 1,0 -1.2,-0M329.4,359.7a.7,.7 0 1,0 1.3,0a.7,.7 0 1,0 -1.3,-0M333.1,437.3a.6,.6 0 1,0 1.2,0a.6,.6 0 1,0 -1.2,-0M325.7,445.8a.6,.6 0 1,0 1.3,0a.6,.6 0 1,0 -1.3,-0M302.9,364.3a.8,.8 0 1,0 1.7,0a.8,.8 0 1,0 -1.7,-0M262.2,358.6a.6,.6 0 1,0 1.2,0a.6,.6 0 1,0 -1.2,-0M361.8,451.9a.8,.8 0 1,0 1.7,0a.8,.8 0 1,0 -1.7,-0M282,402.5a.7,.7 0 1,0 1.4,0a.7,.7 0 1,0 -1.4,-0M343.5,399.3a.8,.8 0 1,0 1.6,0a.8,.8 0 1,0 -1.6,-0M283.9,426.3a.9,.9 0 1,0 1.8,0a.9,.9 0 1,0 -1.8,-0M265.4,380.5a1.1,1.1 0 1,0 2.1,0a1.1,1.1 0 1,0 -2.1,-0M289.3,368.7a1.4,1.4 0 1,0 2.7,0a1.4,1.4 0 1,0 -2.7,-0M340.5,452.5a1.3,1.3 0 1,0 2.6,0a1.3,1.3 0 1,0 -2.6,-0M291.4,400.2a.8,.8 0 1,0 1.6,0a.8,.8 0 1,0 -1.6,-0M332.3,451.4a.9,.9 0 1,0 1.7,0a.9,.9 0 1,0 -1.7,-0M367.8,446.9a1,1 0 1,0 1.9,0a1,1 0 1,0 -1.9,-0M321.1,449.2a.7,.7 0 1,0 1.4,0a.7,.7 0 1,0 -1.4,-0M337.4,381.8a.8,.8 0 1,0 1.5,0a.8,.8 0 1,0 -1.5,-0M323.6,369.5a1.3,1.3 0 1,0 2.5,0a1.3,1.3 0 1,0 -2.5,-0M284.9,416.7a.8,.8 0 1,0 1.6,0a.8,.8 0 1,0 -1.6,-0M358.4,396.3a.6,.6 0 1,0 1.2,0a.6,.6 0 1,0 -1.2,-0M374.5,439.3a.9,.9 0 1,0 1.8,0a.9,.9 0 1,0 -1.8,-0M297.4,452.1a1,1 0 1,0 2,0a1,1 0 1,0 -2,-0M360.7,388.9a1.3,1.3 0 1,0 2.6,0a1.3,1.3 0 1,0 -2.6,-0M361.3,454.3a1.3,1.3 0 1,0 2.5,0a1.3,1.3 0 1,0 -2.5,-0M350.9,429.4a.8,.8 0 1,0 1.6,0a.8,.8 0 1,0 -1.6,-0M322.6,364.3a1.2,1.2 0 1,0 2.4,0a1.2,1.2 0 1,0 -2.4,-0M319.9,402.5a.6,.6 0 1,0 1.2,0a.6,.6 0 1,0 -1.2,-0M301.5,427.7a1.3,1.3 0 1,0 2.5,0a1.3,1.3 0 1,0 -2.5,-0M303.1,362.5a.7,.7 0 1,0 1.4,0a.7,.7 0 1,0 -1.4,-0M312.7,350.1a.7,.7 0 1,0 1.4,0a.7,.7 0 1,0 -1.4,-0M292.4,371.3a.8,.8 0 1,0 1.6,0a.8,.8 0 1,0 -1.6,-0M337.6,410.2a.6,.6 0 1,0 1.3,0a.6,.6 0 1,0 -1.3,-0M329.2,417a1,1 0 1,0 2,0a1,1 0 1,0 -2,-0M339.8,348a.9,.9 0 1,0 1.9,0a.9,.9 0 1,0 -1.9,-0M360.3,369.1a.5,.5 0 1,0 1.1,0a.5,.5 0 1,0 -1.1,-0M359,431a1,1 0 1,0 2,0a1,1 0 1,0 -2,-0M302.6,444.1a1.4,1.4 0 1,0 2.9,0a1.4,1.4 0 1,0 -2.9,-0M332.8,368a.6,.6 0 1,0 1.2,0a.6,.6 0 1,0 -1.2,-0M327.9,366.4a1.1,1.1 0 1,0 2.2,0a1.1,1.1 0 1,0 -2.2,-0M283.1,371.6a.7,.7 0 1,0 1.5,0a.7,.7 0 1,0 -1.5,-0M288.6,398.2a.6,.6 0 1,0 1.2,0a.6,.6 0 1,0 -1.2,-0M275,437.5a.7,.7 0 1,0 1.3,0a.7,.7 0 1,0 -1.3,-0M288.1,396.3a.8,.8 0 1,0 1.6,0a.8,.8 0 1,0 -1.6,-0M341.8,398.2a.8,.8 0 1,0 1.7,0a.8,.8 0 1,0 -1.7,-0M313.7,401.8a1.2,1.2 0 1,0 2.3,0a1.2,1.2 0 1,0 -2.3,-0M366.1,417.8a.6,.6 0 1,0 1.3,0a.6,.6 0 1,0 -1.3,-0M300.4,441a1.2,1.2 0 1,0 2.5,0a1.2,1.2 0 1,0 -2.5,-0M262.9,366a1.4,1.4 0 1,0 2.9,0a1.4,1.4 0 1,0 -2.9,-0M347.8,390.3a1.2,1.2 0 1,0 2.3,0a1.2,1.2 0 1,0 -2.3,-0M366.1,374.6a.6,.6 0 1,0 1.1,0a.6,.6 0 1,0 -1.1,-0M306.1,393.4a.8,.8 0 1,0 1.7,0a.8,.8 0 1,0 -1.7,-0M339.9,431.3a.5,.5 0 1,0 1,0a.5,.5 0 1,0 -1,-0M270.8,351.9a1.1,1.1 0 1,0 2.2,0a1.1,1.1 0 1,0 -2.2,-0M285.9,432.7a1.4,1.4 0 1,0 2.8,0a1.4,1.4 0 1,0 -2.8,-0M300.9,451.5a1.4,1.4 0 1,0 2.7,0a1.4,1.4 0 1,0 -2.7,-0M337.6,426.7a1.3,1.3 0 1,0 2.5,0a1.3,1.3 0 1,0 -2.5,-0M344.2,363.3a1,1 0 1,0 2,0a1,1 0 1,0 -2,-0M286.4,392.7a1.1,1.1 0 1,0 2.2,0a1.1,1.1 0 1,0 -2.2,-0M321.1,399.7a.6,.6 0 1,0 1.2,0a.6,.6 0 1,0 -1.2,-0M336.5,455.1a1.4,1.4 0 1,0 2.8,0a1.4,1.4 0 1,0 -2.8,-0M362,377.8a1.2,1.2 0 1,0 2.3,0a1.2,1.2 0 1,0 -2.3,-0M319.8,370.4a.5,.5 0 1,0 1,0a.5,.5 0 1,0 -1,-0M369.1,426a.8,.8 0 1,0 1.6,0a.8,.8 0 1,0 -1.6,-0M320,451.8a1.4,1.4 0 1,0 2.8,0a1.4,1.4 0 1,0 -2.8,-0M368.9,400.7a1.2,1.2 0 1,0 2.4,0a1.2,1.2 0 1,0 -2.4,-0M372.8,430.6a1.4,1.4 0 1,0 2.9,0a1.4,1.4 0 1,0 -2.9,-0M367.4,448.2a.8,.8 0 1,0 1.6,0a.8,.8 0 1,0 -1.6,-0M261,355.9a1.3,1.3 0 1,0 2.6,0a1.3,1.3 0 1,0 -2.6,-0M266,409.3a1.5,1.5 0 1,0 3,0a1.5,1.5 0 1,0 -3,-0M260.6,366.3a.9,.9 0 1,0 1.8,0a.9,.9 0 1,0 -1.8,-0M365,377a1.2,1.2 0 1,0 2.5,0a1.2,1.2 0 1,0 -2.5,-0M321.2,428.3a.9,.9 0 1,0 1.8,0a.9,.9 0 1,0 -1.8,-0M292.7,376a1.4,1.4 0 1,0 2.9,0a1.4,1.4 0 1,0 -2.9,-0M275.7,375.5a1.4,1.4 0 1,0 2.7,0a1.4,1.4 0 1,0 -2.7,-0M278.9,399.1a.6,.6 0 1,0 1.1,0a.6,.6 0 1,0 -1.1,-0M348.5,453.4a1.2,1.2 0 1,0 2.4,0a1.2,1.2 0 1,0 -2.4,-0M358.4,348.3a.9,.9 0 1,0 1.9,0a.9,.9 0 1,0 -1.9,-0M302.9,439.2a1.4,1.4 0 1,0 2.9,0a1.4,1.4 0 1,0 -2.9,-0M343.2,372.4a.9,.9 0 1,0 1.8,0a.9,.9 0 1,0 -1.8,-0M322.6,364.4a.5,.5 0 1,0 1.1,0a.5,.5 0 1,0 -1.1,-0M285.7,430.5a.7,.7 0 1,0 1.3,0a.7,.7 0 1,0 -1.3,-0M311.2,356a1,1 0 1,0 2,0a1,1 0 1,0 -2,-0M300.1,360.3a1.1,1.1 0 1,0 2.2,0a1.1,1.1 0 1,0 -2.2,-0M355.3,403.1a.8,.8 0 1,0 1.7,0a.8,.8 0 1,0 -1.7,-0M313.6,431.9a1.4,1.4 0 1,0 2.8,0a1.4,1.4 0 1,0 -2.8,-0M315.3,358.9a1.3,1.3 0 1,0 2.5,0a1.3,1.3 0 1,0 -2.5,-0M310.7,361.4a1.4,1.4 0 1,0 2.8,0a1.4,1.4 0 1,0 -2.8,-0M308.2,405a.6,.6 0 1,0 1.1,0a.6,.6 0 1,0 -1.1,-0M275.7,395.9a1.3,1.3 0 1,0 2.6,0a1.3,1.3 0 1,0 -2.6,-0M340.1,414.2a.8,.8 0 1,0 1.6,0a.8,.8 0 1,0 -1.6,-0M264.7,380.1a.8,.8 0 1,0 1.6,0a.8,.8 0 1,0 -1.6,-0M362.7,354.1a.6,.6 0 1,0 1.3,0a.6,.6 0 1,0 -1.3,-0M353.5,399.6a1.3,1.3 0 1,0 2.6,0a1.3,1.3 0 1,0 -2.6,-0M274.5,386a1,1 0 1,0 2.1,0a1,1 0 1,0 -2.1,-0M304.9,373.3a.8,.8 0 1,0 1.6,0a.8,.8 0 1,0 -1.6,-0M332.1,399.9a1.5,1.5 0 1,0 3,0a1.5,1.5 0 1,0 -3,-0M350.6,404.4a1.2,1.2 0 1,0 2.4,0a1.2,1.2 0 1,0 -2.4,-0M361,419.2a.6,.6 0 1,0 1.3,0a.6,.6 0 1,0 -1.3,-0M369.3,356a1.4,1.4 0 1,0 2.8,0a1.4,1.4 0 1,0 -2.8,-0M287.3,377.6a1.2,1.2 0 1,0 2.4,0a1.2,1.2 0 1,0 -2.4,-0M313.3,384.3a.7,.7 0 1,0 1.4,0a.7,.7 0 1,0 -1.4,-0M315.7,404.7a.6,.6 0 1,0 1.1,0a.6,.6 0 1,0 -1.1,-0M262.1,358.1a.6,.6 0 1,0 1.3,0a.6,.6 0 1,0 -1.3,-0M287.7,349.9a1.5,1.5 0 1,0 2.9,0a1.5,1.5 0 1,0 -2.9,-0M327.6,375.2a.8,.8 0 1,0 1.7,0a.8,.8 0 1,0 -1.7,-0M325.8,383.6a1,1 0 1,0 2,0a1,1 0 1,0 -2,-0M318.7,370.8a1.4,1.4 0 1,0 2.8,0a1.4,1.4 0 1,0 -2.8,-0M302.2,446.2a1,1 0 1,0 2,0a1,1 0 1,0 -2,-0M313.4,361.7a.8,.8 0 1,0 1.6,0a.8,.8 0 1,0 -1.6,-0M268.4,433a.8,.8 0 1,0 1.6,0a.8,.8 0 1,0 -1.6,-0M330.5,358.2a.9,.9 0 1,0 1.9,0a.9,.9 0 1,0 -1.9,-0M302.2,436.5a1.4,1.4 0 1,0 2.7,0a1.4,1.4 0 1,0 -2.7,-0M294.1,391a1.5,1.5 0 1,0 3,0a1.5,1.5 0 1,0 -3,-0M318.8,380.5a1.1,1.1 0 1,0 2.1,0a1.1,1.1 0 1,0 -2.1,-0M303.3,426.7a.9,.9 0 1,0 1.9,0a.9,.9 0 1,0 -1.9,-0M357.4,444a.9,.9 0 1,0 1.7,0a.9,.9 0 1,0 -1.7,-0M292.1,373.3a.8,.8 0 1,0 1.5,0a.8,.8 0 1,0 -1.5,-0M319.4,352.2a1,1 0 1,0 2.1,0a1,1 0 1,0 -2.1,-0M328.3,452.3a1,1 0 1,0 2,0a1,1 0 1,0 -2,-0M320.9,448.9a.7,.7 0 1,0 1.3,0a.7,.7 0 1,0 -1.3,-0M315,372.4a.8,.8 0 1,0 1.7,0a.8,.8 0 1,0 -1.7,-0M332,383.7a.8,.8 0 1,0 1.6,0a.8,.8 0 1,0 -1.6,-0M275.6,359.1a1.4,1.4 0 1,0 2.8,0a1.4,1.4 0 1,0 -2.8,-0M356.8,386.9a.6,.6 0 1,0 1.3,0a.6,.6 0 1,0 -1.3,-0M312.9,455.2a.8,.8 0 1,0 1.6,0a.8,.8 0 1,0 -1.6,-0M339.1,391.2a1.2,1.2 0 1,0 2.4,0a1.2,1.2 0 1,0 -2.4,-0M314.9,373.1a1.1,1.1 0 1,0 2.1,0a1.1,1.1 0 1,0 -2.1,-0M280.7,385.9a1.1,1.1 0 1,0 2.1,0a1.1,1.1 0 1,0 -2.1,-0M283.9,359.4a1.1,1.1 0 1,0 2.2,0a1.1,1.1 0 1,0 -2.2,-0M366.5,398.1a.9,.9 0 1,0 1.9,0a.9,.9 0 1,0 -1.9,-0M314.6,443.6a1,1 0 1,0 2.1,0a1,1 0 1,0 -2.1,-0M320.9,372.5a.7,.7 0 1,0 1.4,0a.7,.7 0 1,0 -1.4,-0M285.5,437.3a.6,.6 0 1,0 1.2,0a.6,.6 0 1,0 -1.2,-0M368.5,448.3a.8,.8 0 1,0 1.7,0a.8,.8 0 1,0 -1.7,-0M360.7,361.9a1.4,1.4 0 1,0 2.8,0a1.4,1.4 0 1,0 -2.8,-0M333.4,381.1a.9,.9 0 1,0 1.8,0a.9,.9 0 1,0 -1.8,-0M279.5,355.1a.5,.5 0 1,0 1.1,0a.5,.5 0 1,0 -1.1,-0M288.7,356.6a.6,.6 0 1,0 1.2,0a.6,.6 0 1,0 -1.2,-0M302.8,405.9a1.1,1.1 0 1,0 2.3,0a1.1,1.1 0 1,0 -2.3,-0M355.8,415.9a.8,.8 0 1,0 1.6,0a.8,.8 0 1,0 -1.6,-0M328.7,431.7a.7,.7 0 1,0 1.4,0a.7,.7 0 1,0 -1.4,-0M289.3,397.7a1,1 0 1,0 2,0a1,1 0 1,0 -2,-0M272.5,449.6a1.3,1.3 0 1,0 2.7,0a1.3,1.3 0 1,0 -2.7,-0M311.3,396.9a1.4,1.4 0 1,0 2.8,0a1.4,1.4 0 1,0 -2.8,-0M331.5,383.2a1.3,1.3 0 1,0 2.7,0a1.3,1.3 0 1,0 -2.7,-0M359.3,384.7a1,1 0 1,0 2,0a1,1 0 1,0 -2,-0M353,404.2a1.4,1.4 0 1,0 2.9,0a1.4,1.4 0 1,0 -2.9,-0M273.4,433.4a.8,.8 0 1,0 1.6,0a.8,.8 0 1,0 -1.6,-0M363.2,398.1a1.4,1.4 0 1,0 2.8,0a1.4,1.4 0 1,0 -2.8,-0M308,392.7a1.2,1.2 0 1,0 2.4,0a1.2,1.2 0 1,0 -2.4,-0M345.2,386.5a1.3,1.3 0 1,0 2.7,0a1.3,1.3 0 1,0 -2.7,-0M306.4,401.5a1.3,1.3 0 1,0 2.5,0a1.3,1.3 0 1,0 -2.5,-0M335.3,394.8a1.4,1.4 0 1,0 2.8,0a1.4,1.4 0 1,0 -2.8,-0M300,420.6a.6,.6 0 1,0 1.1,0a.6,.6 0 1,0 -1.1,-0M286.6,389.7a1.1,1.1 0 1,0 2.3,0a1.1,1.1 0 1,0 -2.3,-0M272.7,402.6a1.1,1.1 0 1,0 2.1,0a1.1,1.1 0 1,0 -2.1,-0M362.5,380.4a.6,.6 0 1,0 1.1,0a.6,.6 0 1,0 -1.1,-0M322.2,389.1a1.4,1.4 0 1,0 2.9,0a1.4,1.4 0 1,0 -2.9,-0M261.5,349.2a1.4,1.4 0 1,0 2.7,0a1.4,1.4 0 1,0 -2.7,-0M302.1,369.7a.9,.9 0 1,0 1.9,0a.9,.9 0 1,0 -1.9,-0M334.3,414a.8,.8 0 1,0 1.7,0a.8,.8 0 1,0 -1.7,-0M264,396.2a1.4,1.4 0 1,0 2.8,0a1.4,1.4 0 1,0 -2.8,-0M356.2,433.4a1.3,1.3 0 1,0 2.6,0a1.3,1.3 0 1,0 -2.6,-0M340.5,391.1a.7,.7 0 1,0 1.5,0a.7,.7 0 1,0 -1.5,-0M328.4,386a.8,.8 0 1,0 1.6,0a.8,.8 0 1,0 -1.6,-0M359.9,417.4a.9,.9 0 1,0 1.9,0a.9,.9 0 1,0 -1.9,-0M358.1,453.3a.8,.8 0 1,0 1.7,0a.8,.8 0 1,0 -1.7,-0M340.7,349.6a1.2,1.2 0 1,0 2.5,0a1.2,1.2 0 1,0 -2.5,-0M312.7,376.8a.7,.7 0 1,0 1.4,0a.7,.7 0 1,0 -1.4,-0M342,414.6a1.1,1.1 0 1,0 2.2,0a1.1,1.1 0 1,0 -2.2,-0M320.9,378.7a.6,.6 0 1,0 1.3,0a.6,.6 0 1,0 -1.3,-0M272.7,363.2a1.1,1.1 0 1,0 2.1,0a1.1,1.1 0 1,0 -2.1,-0M371.7,396.9a.6,.6 0 1,0 1.2,0a.6,.6 0 1,0 -1.2,-0M308,364.6a1.1,1.1 0 1,0 2.1,0a1.1,1.1 0 1,0 -2.1,-0M317.1,413.2a.5,.5 0 1,0 1.1,0a.5,.5 0 1,0 -1.1,-0M335.2,417.7a.9,.9 0 1,0 1.8,0a.9,.9 0 1,0 -1.8,-0M372.1,419.1a.7,.7 0 1,0 1.3,0a.7,.7 0 1,0 -1.3,-0M269.8,408.9a.9,.9 0 1,0 1.9,0a.9,.9 0 1,0 -1.9,-0M264.6,427.5a1.3,1.3 0 1,0 2.5,0a1.3,1.3 0 1,0 -2.5,-0M315.9,356.9a.8,.8 0 1,0 1.6,0a.8,.8 0 1,0 -1.6,-0M329.9,433.5a.7,.7 0 1,0 1.3,0a.7,.7 0 1,0 -1.3,-0M343.7,454.5a1.4,1.4 0 1,0 2.8,0a1.4,1.4 0 1,0 -2.8,-0M372,404.4a1.5,1.5 0 1,0 3,0a1.5,1.5 0 1,0 -3,-0M370.9,395.9a.7,.7 0 1,0 1.5,0a.7,.7 0 1,0 -1.5,-0M352.1,350.2a.5,.5 0 1,0 1,0a.5,.5 0 1,0 -1,-0M341.4,409.3a1,1 0 1,0 2.1,0a1,1 0 1,0 -2.1,-0M276.1,382.1a1,1 0 1,0 1.9,0a1,1 0 1,0 -1.9,-0M268.7,347.3a.6,.6 0 1,0 1.1,0a.6,.6 0 1,0 -1.1,-0M363.5,419.1a.9,.9 0 1,0 1.7,0a.9,.9 0 1,0 -1.7,-0M372.1,393.8a1.1,1.1 0 1,0 2.1,0a1.1,1.1 0 1,0 -2.1,-0M305.6,379.7a1.2,1.2 0 1,0 2.4,0a1.2,1.2 0 1,0 -2.4,-0M275,416.2a1.2,1.2 0 1,0 2.4,0a1.2,1.2 0 1,0 -2.4,-0M326.6,363.8a.7,.7 0 1,0 1.5,0a.7,.7 0 1,0 -1.5,-0M346.9,443.3a1.1,1.1 0 1,0 2.2,0a1.1,1.1 0 1,0 -2.2,-0M319.2,392.1a.6,.6 0 1,0 1.2,0a.6,.6 0 1,0 -1.2,-0M361.4,419.9a.7,.7 0 1,0 1.4,0a.7,.7 0 1,0 -1.4,-0M280.8,381.5a.8,.8 0 1,0 1.7,0a.8,.8 0 1,0 -1.7,-0M282,402.3a.7,.7 0 1,0 1.4,0a.7,.7 0 1,0 -1.4,-0M347.7,432.4a.7,.7 0 1,0 1.4,0a.7,.7 0 1,0 -1.4,-0M261.7,394a.7,.7 0 1,0 1.3,0a.7,.7 0 1,0 -1.3,-0M372.6,421.6a1,1 0 1,0 1.9,0a1,1 0 1,0 -1.9,-0M284.2,415.8a.6,.6 0 1,0 1.3,0a.6,.6 0 1,0 -1.3,-0M291.3,392.7a1.2,1.2 0 1,0 2.4,0a1.2,1.2 0 1,0 -2.4,-0M288.6,451.4a.7,.7 0 1,0 1.4,0a.7,.7 0 1,0 -1.4,-0M268.1,353a1.3,1.3 0 1,0 2.7,0a1.3,1.3 0 1,0 -2.7,-0M271.5,351.7a.7,.7 0 1,0 1.3,0a.7,.7 0 1,0 -1.3,-0M326.5,400.8a1.2,1.2 0 1,0 2.4,0a1.2,1.2 0 1,0 -2.4,-0M308.2,445.7a.8,.8 0 1,0 1.5,0a.8,.8 0 1,0 -1.5,-0M352.2,427.4a.8,.8 0 1,0 1.5,0a.8,.8 0 1,0 -1.5,-0M340.1,348.4a1.5,1.5 0 1,0 3,0a1.5,1.5 0 1,0 -3,-0M360.7,351.1a1.3,1.3 0 1,0 2.6,0a1.3,1.3 0 1,0 -2.6,-0M273.7,400.2a1.5,1.5 0 1,0 2.9,0a1.5,1.5 0 1,0 -2.9,-0M318.1,379a.9,.9 0 1,0 1.8,0a.9,.9 0 1,0 -1.8,-0M271.6,376.6a1.2,1.2 0 1,0 2.5,0a1.2,1.2 0 1,0 -2.5,-0M335.9,386.5a1.3,1.3 0 1,0 2.7,0a1.3,1.3 0 1,0 -2.7,-0M355.8,351.7a.9,.9 0 1,0 1.8,0a.9,.9 0 1,0 -1.8,-0M295.1,371.7a1.4,1.4 0 1,0 2.7,0a1.4,1.4 0 1,0 -2.7,-0M299,363.5a1.3,1.3 0 1,0 2.6,0a1.3,1.3 0 1,0 -2.6,-0M324.5,369.5a1.3,1.3 0 1,0 2.6,0a1.3,1.3 0 1,0 -2.6,-0M303.2,391.7a1.1,1.1 0 1,0 2.2,0a1.1,1.1 0 1,0 -2.2,-0M273.8,411.6a1.1,1.1 0 1,0 2.2,0a1.1,1.1 0 1,0 -2.2,-0M261.3,369.4a.8,.8 0 1,0 1.5,0a.8,.8 0 1,0 -1.5,-0M313.5,407.1a1.3,1.3 0 1,0 2.6,0a1.3,1.3 0 1,0 -2.6,-0"/><path fill="#707070" d="M276.7,415.7a1,1 0 1,0 2,0a1,1 0 1,0 -2,-0M318.7,438.1a.7,.7 0 1,0 1.4,0a.7,.7 0 1,0 -1.4,-0M341.9,412.5a1,1 0 1,0 2,0a1,1 0 1,0 -2,-0M358.3,382.3a1.4,1.4 0 1,0 2.8,0a1.4,1.4 0 1,0 -2.8,-0M283.2,408.9a1.2,1.2 0 1,0 2.5,0a1.2,1.2 0 1,0 -2.5,-0M374.1,380.4a1.2,1.2 0 1,0 2.3,0a1.2,1.2 0 1,0 -2.3,-0M371,393.8a1,1 0 1,0 2,0a1,1 0 1,0 -2,-0M368.3,384.6a.6,.6 0 1,0 1.3,0a.6,.6 0 1,0 -1.3,-0M292.6,365.9a.5,.5 0 1,0 1,0a.5,.5 0 1,0 -1,-0M338.7,349.2a.6,.6 0 1,0 1.2,0a.6,.6 0 1,0 -1.2,-0M279.2,400.7a.8,.8 0 1,0 1.6,0a.8,.8 0 1,0 -1.6,-0M263.5,426.1a1,1 0 1,0 2,0a1,1 0 1,0 -2,-0M307,355.4a.7,.7 0 1,0 1.4,0a.7,.7 0 1,0 -1.4,-0M278.7,437.3a1.3,1.3 0 1,0 2.6,0a1.3,1.3 0 1,0 -2.6,-0M290.4,449.5a.9,.9 0 1,0 1.7,0a.9,.9 0 1,0 -1.7,-0M263.8,350.9a.7,.7 0 1,0 1.3,0a.7,.7 0 1,0 -1.3,-0M347.2,449a1.4,1.4 0 1,0 2.8,0a1.4,1.4 0 1,0 -2.8,-0M284.7,390.1a.6,.6 0 1,0 1.2,0a.6,.6 0 1,0 -1.2,-0M333.2,397.7a.7,.7 0 1,0 1.5,0a.7,.7 0 1,0 -1.5,-0M319.9,453.8a.7,.7 0 1,0 1.3,0a.7,.7 0 1,0 -1.3,-0M267.9,392.3a1.3,1.3 0 1,0 2.6,0a1.3,1.3 0 1,0 -2.6,-0M320.3,433.2a1.5,1.5 0 1,0 3,0a1.5,1.5 0 1,0 -3,-0M296.7,447.1a.8,.8 0 1,0 1.6,0a.8,.8 0 1,0 -1.6,-0M321.2,442a.9,.9 0 1,0 1.8,0a.9,.9 0 1,0 -1.8,-0M271,398.6a.7,.7 0 1,0 1.4,0a.7,.7 0 1,0 -1.4,-0M291.1,397.9a1.3,1.3 0 1,0 2.6,0a1.3,1.3 0 1,0 -2.6,-0M274.4,363.9a.5,.5 0 1,0 1,0a.5,.5 0 1,0 -1,-0M273,409a.7,.7 0 1,0 1.3,0a.7,.7 0 1,0 -1.3,-0M289.5,392.8a1,1 0 1,0 2,0a1,1 0 1,0 -2,-0M285,355.8a.7,.7 0 1,0 1.3,0a.7,.7 0 1,0 -1.3,-0M302.7,432.9a1.3,1.3 0 1,0 2.6,0a1.3,1.3 0 1,0 -2.6,-0M280.2,398.4a.8,.8 0 1,0 1.7,0a.8,.8 0 1,0 -1.7,-0M323.1,366.3a.9,.9 0 1,0 1.8,0a.9,.9 0 1,0 -1.8,-0M364,417.6a1.1,1.1 0 1,0 2.1,0a1.1,1.1 0 1,0 -2.1,-0M314.2,406.9a1.4,1.4 0 1,0 2.8,0a1.4,1.4 0 1,0 -2.8,-0M269,348.1a1.2,1.2 0 1,0 2.3,0a1.2,1.2 0 1,0 -2.3,-0M368.4,362.4a1.4,1.4 0 1,0 2.9,0a1.4,1.4 0 1,0 -2.9,-0M364.3,395.8a.9,.9 0 1,0 1.8,0a.9,.9 0 1,0 -1.8,-0M361.9,383.7a1.3,1.3 0 1,0 2.5,0a1.3,1.3 0 1,0 -2.5,-0M277.5,418.2a.8,.8 0 1,0 1.6,0a.8,.8 0 1,0 -1.6,-0M360.7,417.4a1.2,1.2 0 1,0 2.4,0a1.2,1.2 0 1,0 -2.4,-0M263.5,373.6a.6,.6 0 1,0 1.2,0a.6,.6 0 1,0 -1.2,-0M365.1,425.1a.7,.7 0 1,0 1.4,0a.7,.7 0 1,0 -1.4,-0M293.6,454a1.5,1.5 0 1,0 2.9,0a1.5,1.5 0 1,0 -2.9,-0M282.1,387.8a1.3,1.3 0 1,0 2.7,0a1.3,1.3 0 1,0 -2.7,-0M315.2,365.4a.8,.8 0 1,0 1.6,0a.8,.8 0 1,0 -1.6,-0M306.2,418.9a1.2,1.2 0 1,0 2.4,0a1.2,1.2 0 1,0 -2.4,-0M298.4,406.2a.9,.9 0 1,0 1.8,0a.9,.9 0 1,0 -1.8,-0M326.6,427.7a.5,.5 0 1,0 1,0a.5,.5 0 1,0 -1,-0M290,414.2a1.5,1.5 0 1,0 2.9,0a1.5,1.5 0 1,0 -2.9,-0M334.7,381.7a1.2,1.2 0 1,0 2.4,0a1.2,1.2 0 1,0 -2.4,-0M273.6,374.8a1.3,1.3 0 1,0 2.5,0a1.3,1.3 0 1,0 -2.5,-0M300.8,350a1.5,1.5 0 1,0 2.9,0a1.5,1.5 0 1,0 -2.9,-0M324.8,354.1a1.1,1.1 0 1,0 2.2,0a1.1,1.1 0 1,0 -2.2,-0M336.6,383.4a1.4,1.4 0 1,0 2.9,0a1.4,1.4 0 1,0 -2.9,-0M346.2,392.9a1.2,1.2 0 1,0 2.4,0a1.2,1.2 0 1,0 -2.4,-0M290.8,366.2a.7,.7 0 1,0 1.3,0a.7,.7 0 1,0 -1.3,-0M263.6,362.4a1.3,1.3 0 1,0 2.6,0a1.3,1.3 0 1,0 -2.6,-0M298.4,414.1a1.4,1.4 0 1,0 2.8,0a1.4,1.4 0 1,0 -2.8,-0M359.1,360a.7,.7 0 1,0 1.3,0a.7,.7 0 1,0 -1.3,-0M361.2,427a1.3,1.3 0 1,0 2.5,0a1.3,1.3 0 1,0 -2.5,-0M264.1,453.4a1.2,1.2 0 1,0 2.3,0a1.2,1.2 0 1,0 -2.3,-0M319.2,389.4a1,1 0 1,0 2,0a1,1 0 1,0 -2,-0M349.2,357.7a.9,.9 0 1,0 1.8,0a.9,.9 0 1,0 -1.8,-0M323,449a1,1 0 1,0 1.9,0a1,1 0 1,0 -1.9,-0M326.9,398.3a.7,.7 0 1,0 1.4,0a.7,.7 0 1,0 -1.4,-0M347.3,444.3a1.4,1.4 0 1,0 2.9,0a1.4,1.4 0 1,0 -2.9,-0M324.8,405.4a1,1 0 1,0 2,0a1,1 0 1,0 -2,-0M276.5,393.3a.7,.7 0 1,0 1.4,0a.7,.7 0 1,0 -1.4,-0M264.1,370.4a1.2,1.2 0 1,0 2.5,0a1.2,1.2 0 1,0 -2.5,-0M273,351.5a1.5,1.5 0 1,0 2.9,0a1.5,1.5 0 1,0 -2.9,-0M308.3,347.2a.8,.8 0 1,0 1.5,0a.8,.8 0 1,0 -1.5,-0M303.7,410.4a.9,.9 0 1,0 1.7,0a.9,.9 0 1,0 -1.7,-0M292.7,398.4a.7,.7 0 1,0 1.5,0a.7,.7 0 1,0 -1.5,-0M264.7,434.8a.9,.9 0 1,0 1.9,0a.9,.9 0 1,0 -1.9,-0M357.7,423.4a1.4,1.4 0 1,0 2.8,0a1.4,1.4 0 1,0 -2.8,-0M288,352.7a.8,.8 0 1,0 1.6,0a.8,.8 0 1,0 -1.6,-0M270.1,453.1a1.1,1.1 0 1,0 2.3,0a1.1,1.1 0 1,0 -2.3,-0M317.2,425.6a.6,.6 0 1,0 1.2,0a.6,.6 0 1,0 -1.2,-0M293.4,435.3a.9,.9 0 1,0 1.8,0a.9,.9 0 1,0 -1.8,-0M306.5,439.1a1.1,1.1 0 1,0 2.1,0a1.1,1.1 0 1,0 -2.1,-0M288.3,349.2a.9,.9 0 1,0 1.9,0a.9,.9 0 1,0 -1.9,-0M343.8,359.1a1,1 0 1,0 2.1,0a1,1 0 1,0 -2.1,-0M332.3,356.8a1.1,1.1 0 1,0 2.1,0a1.1,1.1 0 1,0 -2.1,-0M329.7,433.8a.5,.5 0 1,0 1,0a.5,.5 0 1,0 -1,-0M326.1,450.5a.8,.8 0 1,0 1.6,0a.8,.8 0 1,0 -1.6,-0M368.8,417a.6,.6 0 1,0 1.1,0a.6,.6 0 1,0 -1.1,-0M268.5,420.5a1.1,1.1 0 1,0 2.1,0a1.1,1.1 0 1,0 -2.1,-0M285.1,383.5a1.1,1.1 0 1,0 2.2,0a1.1,1.1 0 1,0 -2.2,-0M320,425.9a1.1,1.1 0 1,0 2.1,0a1.1,1.1 0 1,0 -2.1,-0M351.6,423.5a1,1 0 1,0 1.9,0a1,1 0 1,0 -1.9,-0M289.8,424.8a1.4,1.4 0 1,0 2.7,0a1.4,1.4 0 1,0 -2.7,-0M313.7,414.1a.7,.7 0 1,0 1.4,0a.7,.7 0 1,0 -1.4,-0M369.7,408.6a.5,.5 0 1,0 1.1,0a.5,.5 0 1,0 -1.1,-0M315.2,370a.8,.8 0 1,0 1.5,0a.8,.8 0 1,0 -1.5,-0M358.2,414.4a.6,.6 0 1,0 1.3,0a.6,.6 0 1,0 -1.3,-0M343,382.3a.8,.8 0 1,0 1.6,0a.8,.8 0 1,0 -1.6,-0M268.5,440.5a1.1,1.1 0 1,0 2.2,0a1.1,1.1 0 1,0 -2.2,-0M342.7,430.1a1,1 0 1,0 1.9,0a1,1 0 1,0 -1.9,-0M315.5,352.5a.8,.8 0 1,0 1.7,0a.8,.8 0 1,0 -1.7,-0M313.1,445.3a.6,.6 0 1,0 1.2,0a.6,.6 0 1,0 -1.2,-0M338,366.4a1.4,1.4 0 1,0 2.7,0a1.4,1.4 0 1,0 -2.7,-0M350.5,412.4a.8,.8 0 1,0 1.6,0a.8,.8 0 1,0 -1.6,-0M304.1,427.1a1.3,1.3 0 1,0 2.7,0a1.3,1.3 0 1,0 -2.7,-0M277.6,397.8a1.3,1.3 0 1,0 2.6,0a1.3,1.3 0 1,0 -2.6,-0M299.6,438.7a.5,.5 0 1,0 1.1,0a.5,.5 0 1,0 -1.1,-0M323.2,422.5a1.4,1.4 0 1,0 2.8,0a1.4,1.4 0 1,0 -2.8,-0M265.1,380.3a.6,.6 0 1,0 1.1,0a.6,.6 0 1,0 -1.1,-0M353.1,389.8a.7,.7 0 1,0 1.3,0a.7,.7 0 1,0 -1.3,-0M311,347.4a1,1 0 1,0 2,0a1,1 0 1,0 -2,-0M267.9,424a1.4,1.4 0 1,0 2.8,0a1.4,1.4 0 1,0 -2.8,-0M294.7,434.4a.5,.5 0 1,0 1.1,0a.5,.5 0 1,0 -1.1,-0M337.6,437a1.3,1.3 0 1,0 2.5,0a1.3,1.3 0 1,0 -2.5,-0M304,455.8a1.2,1.2 0 1,0 2.5,0a1.2,1.2 0 1,0 -2.5,-0M277.3,441a.5,.5 0 1,0 1,0a.5,.5 0 1,0 -1,-0M287.8,427.8a1.2,1.2 0 1,0 2.4,0a1.2,1.2 0 1,0 -2.4,-0M299,401.4a1,1 0 1,0 2,0a1,1 0 1,0 -2,-0M369.5,419.8a.7,.7 0 1,0 1.4,0a.7,.7 0 1,0 -1.4,-0M319.7,402.6a.8,.8 0 1,0 1.6,0a.8,.8 0 1,0 -1.6,-0M327.9,424.5a.9,.9 0 1,0 1.9,0a.9,.9 0 1,0 -1.9,-0M343.1,441.4a1,1 0 1,0 2.1,0a1,1 0 1,0 -2.1,-0M366.2,434.4a.5,.5 0 1,0 1.1,0a.5,.5 0 1,0 -1.1,-0M310.5,386.9a.9,.9 0 1,0 1.9,0a.9,.9 0 1,0 -1.9,-0M302.6,447.3a.6,.6 0 1,0 1.3,0a.6,.6 0 1,0 -1.3,-0M338.9,408.8a1.3,1.3 0 1,0 2.7,0a1.3,1.3 0 1,0 -2.7,-0M303.8,416.2a.8,.8 0 1,0 1.6,0a.8,.8 0 1,0 -1.6,-0M287.1,369.6a.7,.7 0 1,0 1.3,0a.7,.7 0 1,0 -1.3,-0M356,433a.9,.9 0 1,0 1.8,0a.9,.9 0 1,0 -1.8,-0M313.9,374.7a.6,.6 0 1,0 1.3,0a.6,.6 0 1,0 -1.3,-0M353.1,420.4a1.1,1.1 0 1,0 2.2,0a1.1,1.1 0 1,0 -2.2,-0M296.7,373a.6,.6 0 1,0 1.1,0a.6,.6 0 1,0 -1.1,-0M317.4,414.4a1.3,1.3 0 1,0 2.7,0a1.3,1.3 0 1,0 -2.7,-0M357.3,425.7a.8,.8 0 1,0 1.6,0a.8,.8 0 1,0 -1.6,-0M318,432.9a.9,.9 0 1,0 1.7,0a.9,.9 0 1,0 -1.7,-0M324.8,397.7a1.3,1.3 0 1,0 2.6,0a1.3,1.3 0 1,0 -2.6,-0M282.6,400.1a.7,.7 0 1,0 1.4,0a.7,.7 0 1,0 -1.4,-0M365.7,420.4a.8,.8 0 1,0 1.6,0a.8,.8 0 1,0 -1.6,-0M289.7,375.9a1.3,1.3 0 1,0 2.7,0a1.3,1.3 0 1,0 -2.7,-0M337.4,401.8a.8,.8 0 1,0 1.6,0a.8,.8 0 1,0 -1.6,-0M268.2,440.2a1,1 0 1,0 2.1,0a1,1 0 1,0 -2.1,-0M352.1,359.6a.9,.9 0 1,0 1.9,0a.9,.9 0 1,0 -1.9,-0M329.6,436.4a1,1 0 1,0 1.9,0a1,1 0 1,0 -1.9,-0M319.6,358.9a1.2,1.2 0 1,0 2.5,0a1.2,1.2 0 1,0 -2.5,-0M263,420.9a1.4,1.4 0 1,0 2.8,0a1.4,1.4 0 1,0 -2.8,-0M300.8,347.9a1.1,1.1 0 1,0 2.3,0a1.1,1.1 0 1,0 -2.3,-0M347.4,350.9a.8,.8 0 1,0 1.5,0a.8,.8 0 1,0 -1.5,-0M363.4,421.2a.7,.7 0 1,0 1.3,0a.7,.7 0 1,0 -1.3,-0M360.3,437.7a.9,.9 0 1,0 1.8,0a.9,.9 0 1,0 -1.8,-0M358.9,402.9a.7,.7 0 1,0 1.3,0a.7,.7 0 1,0 -1.3,-0M315.8,381.9a1.1,1.1 0 1,0 2.2,0a1.1,1.1 0 1,0 -2.2,-0M358.8,361.3a.9,.9 0 1,0 1.8,0a.9,.9 0 1,0 -1.8,-0M285.3,451.2a1,1 0 1,0 1.9,0a1,1 0 1,0 -1.9,-0M325.2,428.9a1,1 0 1,0 2,0a1,1 0 1,0 -2,-0M358.4,406.6a1.3,1.3 0 1,0 2.6,0a1.3,1.3 0 1,0 -2.6,-0M265.4,443.7a1.2,1.2 0 1,0 2.5,0a1.2,1.2 0 1,0 -2.5,-0M280.2,447.9a.8,.8 0 1,0 1.6,0a.8,.8 0 1,0 -1.6,-0M362.2,386.6a1.4,1.4 0 1,0 2.8,0a1.4,1.4 0 1,0 -2.8,-0M286.4,349.8a1,1 0 1,0 2,0a1,1 0 1,0 -2,-0M321.2,401.3a1,1 0 1,0 1.9,0a1,1 0 1,0 -1.9,-0M323.7,359.6a1.1,1.1 0 1,0 2.2,0a1.1,1.1 0 1,0 -2.2,-0M319.7,409.9a1.1,1.1 0 1,0 2.2,0a1.1,1.1 0 1,0 -2.2,-0M277.7,429.7a1.2,1.2 0 1,0 2.4,0a1.2,1.2 0 1,0 -2.4,-0M332.4,410.6a1,1 0 1,0 2,0a1,1 0 1,0 -2,-0M259.9,368.3a1.3,1.3 0 1,0 2.6,0a1.3,1.3 0 1,0 -2.6,-0M281.4,365.9a.9,.9 0 1,0 1.8,0a.9,.9 0 1,0 -1.8,-0M300.5,430.7a1,1 0 1,0 2.1,0a1,1 0 1,0 -2.1,-0M305.6,385.7a1.4,1.4 0 1,0 2.8,0a1.4,1.4 0 1,0 -2.8,-0M326.8,369.2a.8,.8 0 1,0 1.5,0a.8,.8 0 1,0 -1.5,-0M373.2,384.7a.7,.7 0 1,0 1.5,0a.7,.7 0 1,0 -1.5,-0M337.5,433.3a.5,.5 0 1,0 1,0a.5,.5 0 1,0 -1,-0M306.4,352.1a1.4,1.4 0 1,0 2.9,0a1.4,1.4 0 1,0 -2.9,-0M314.9,381a1.2,1.2 0 1,0 2.3,0a1.2,1.2 0 1,0 -2.3,-0M320.5,356.1a.9,.9 0 1,0 1.9,0a.9,.9 0 1,0 -1.9,-0M345.5,395.9a.7,.7 0 1,0 1.4,0a.7,.7 0 1,0 -1.4,-0M340.8,373.4a1.1,1.1 0 1,0 2.3,0a1.1,1.1 0 1,0 -2.3,-0M336.9,432.5a1.2,1.2 0 1,0 2.5,0a1.2,1.2 0 1,0 -2.5,-0M367.9,417.5a1.5,1.5 0 1,0 3,0a1.5,1.5 0 1,0 -3,-0M300.3,437.6a1,1 0 1,0 2,0a1,1 0 1,0 -2,-0M341.7,407.5a1.4,1.4 0 1,0 2.8,0a1.4,1.4 0 1,0 -2.8,-0M269.5,421.6a.6,.6 0 1,0 1.3,0a.6,.6 0 1,0 -1.3,-0M309.4,438.9a.8,.8 0 1,0 1.6,0a.8,.8 0 1,0 -1.6,-0M369.1,382.7a1.3,1.3 0 1,0 2.5,0a1.3,1.3 0 1,0 -2.5,-0M266.2,423.4a1.1,1.1 0 1,0 2.1,0a1.1,1.1 0 1,0 -2.1,-0M331.4,385.2a1.4,1.4 0 1,0 2.8,0a1.4,1.4 0 1,0 -2.8,-0M310.2,399.6a1.5,1.5 0 1,0 2.9,0a1.5,1.5 0 1,0 -2.9,-0M366,430.1a1.1,1.1 0 1,0 2.2,0a1.1,1.1 0 1,0 -2.2,-0M347.9,365.4a.7,.7 0 1,0 1.4,0a.7,.7 0 1,0 -1.4,-0M308.9,452.1a1.4,1.4 0 1,0 2.8,0a1.4,1.4 0 1,0 -2.8,-0M264.5,408.7a.7,.7 0 1,0 1.4,0a.7,.7 0 1,0 -1.4,-0M369.3,451.5a1.1,1.1 0 1,0 2.2,0a1.1,1.1 0 1,0 -2.2,-0M270.7,427.4a1,1 0 1,0 2.1,0a1,1 0 1,0 -2.1,-0M360.9,381.1a1.2,1.2 0 1,0 2.5,0a1.2,1.2 0 1,0 -2.5,-0M273.1,396.2a.8,.8 0 1,0 1.6,0a.8,.8 0 1,0 -1.6,-0M302.7,356.8a1,1 0 1,0 2,0a1,1 0 1,0 -2,-0M354.2,432.8a.5,.5 0 1,0 1.1,0a.5,.5 0 1,0 -1.1,-0M336,444.5a.8,.8 0 1,0 1.5,0a.8,.8 0 1,0 -1.5,-0M286.7,390.2a.7,.7 0 1,0 1.3,0a.7,.7 0 1,0 -1.3,-0M286.4,439.3a.7,.7 0 1,0 1.4,0a.7,.7 0 1,0 -1.4,-0M341.1,387.2a1,1 0 1,0 2.1,0a1,1 0 1,0 -2.1,-0M260.6,424.4a.9,.9 0 1,0 1.7,0a.9,.9 0 1,0 -1.7,-0M303.7,403.8a1.3,1.3 0 1,0 2.6,0a1.3,1.3 0 1,0 -2.6,-0M343.8,421.1a1.4,1.4 0 1,0 2.8,0a1.4,1.4 0 1,0 -2.8,-0M354.9,353.5a1.3,1.3 0 1,0 2.6,0a1.3,1.3 0 1,0 -2.6,-0M275,370a.9,.9 0 1,0 1.7,0a.9,.9 0 1,0 -1.7,-0M322,432.9a1,1 0 1,0 1.9,0a1,1 0 1,0 -1.9,-0M366.5,375.3a.8,.8 0 1,0 1.5,0a.8,.8 0 1,0 -1.5,-0M266.4,398.5a.6,.6 0 1,0 1.2,0a.6,.6 0 1,0 -1.2,-0M333.5,352.6a.8,.8 0 1,0 1.5,0a.8,.8 0 1,0 -1.5,-0M351.8,354.2a.6,.6 0 1,0 1.2,0a.6,.6 0 1,0 -1.2,-0M326.8,394.9a1.4,1.4 0 1,0 2.9,0a1.4,1.4 0 1,0 -2.9,-0M304.2,383.8a1.1,1.1 0 1,0 2.1,0a1.1,1.1 0 1,0 -2.1,-0M371.1,436.3a1,1 0 1,0 2,0a1,1 0 1,0 -2,-0M323.4,446.7a.8,.8 0 1,0 1.5,0a.8,.8 0 1,0 -1.5,-0M325.9,410.9a.6,.6 0 1,0 1.2,0a.6,.6 0 1,0 -1.2,-0M343.3,405.4a1.3,1.3 0 1,0 2.7,0a1.3,1.3 0 1,0 -2.7,-0M352.8,405.9a.7,.7 0 1,0 1.4,0a.7,.7 0 1,0 -1.4,-0M301.3,413a1.2,1.2 0 1,0 2.4,0a1.2,1.2 0 1,0 -2.4,-0M358.7,387.1a1.3,1.3 0 1,0 2.6,0a1.3,1.3 0 1,0 -2.6,-0M260.4,430.3a1.2,1.2 0 1,0 2.4,0a1.2,1.2 0 1,0 -2.4,-0M371,366.6a1,1 0 1,0 1.9,0a1,1 0 1,0 -1.9,-0M332.7,440.7a1.3,1.3 0 1,0 2.6,0a1.3,1.3 0 1,0 -2.6,-0M296.7,354.4a1.1,1.1 0 1,0 2.2,0a1.1,1.1 0 1,0 -2.2,-0M347,374.3a.9,.9 0 1,0 1.7,0a.9,.9 0 1,0 -1.7,-0M288.8,376.3a.6,.6 0 1,0 1.2,0a.6,.6 0 1,0 -1.2,-0M344.4,436.9a.6,.6 0 1,0 1.2,0a.6,.6 0 1,0 -1.2,-0M368.1,387.7a.8,.8 0 1,0 1.5,0a.8,.8 0 1,0 -1.5,-0M363.4,393.9a1.1,1.1 0 1,0 2.2,0a1.1,1.1 0 1,0 -2.2,-0M355.6,396a1.4,1.4 0 1,0 2.7,0a1.4,1.4 0 1,0 -2.7,-0M313.4,378.1a1,1 0 1,0 1.9,0a1,1 0 1,0 -1.9,-0M336.2,456a.7,.7 0 1,0 1.3,0a.7,.7 0 1,0 -1.3,-0M370.6,394.5a1,1 0 1,0 1.9,0a1,1 0 1,0 -1.9,-0M358.3,453a1.1,1.1 0 1,0 2.3,0a1.1,1.1 0 1,0 -2.3,-0M292.1,434.5a1.2,1.2 0 1,0 2.4,0a1.2,1.2 0 1,0 -2.4,-0M367.9,367.4a.6,.6 0 1,0 1.2,0a.6,.6 0 1,0 -1.2,-0M348.5,352.5a1.2,1.2 0 1,0 2.4,0a1.2,1.2 0 1,0 -2.4,-0M332.7,355.2a.7,.7 0 1,0 1.4,0a.7,.7 0 1,0 -1.4,-0M294.3,399a.9,.9 0 1,0 1.8,0a.9,.9 0 1,0 -1.8,-0M362.2,350.1a.6,.6 0 1,0 1.2,0a.6,.6 0 1,0 -1.2,-0M352,361.2a.5,.5 0 1,0 1,0a.5,.5 0 1,0 -1,-0M288.2,368.4a.8,.8 0 1,0 1.6,0a.8,.8 0 1,0 -1.6,-0M370.6,360.8a1.4,1.4 0 1,0 2.8,0a1.4,1.4 0 1,0 -2.8,-0M342.7,353.2a.6,.6 0 1,0 1.2,0a.6,.6 0 1,0 -1.2,-0M356.8,364.4a1.1,1.1 0 1,0 2.1,0a1.1,1.1 0 1,0 -2.1,-0M338.4,394.9a.7,.7 0 1,0 1.4,0a.7,.7 0 1,0 -1.4,-0M346.3,355a1.2,1.2 0 1,0 2.4,0a1.2,1.2 0 1,0 -2.4,-0M353.6,394.1a.7,.7 0 1,0 1.5,0a.7,.7 0 1,0 -1.5,-0M360.6,389.6a.7,.7 0 1,0 1.3,0a.7,.7 0 1,0 -1.3,-0M332.2,392.9a.8,.8 0 1,0 1.7,0a.8,.8 0 1,0 -1.7,-0M302,364.1a1.4,1.4 0 1,0 2.8,0a1.4,1.4 0 1,0 -2.8,-0M373.3,368.9a1.2,1.2 0 1,0 2.3,0a1.2,1.2 0 1,0 -2.3,-0M360.9,371.5a.9,.9 0 1,0 1.7,0a.9,.9 0 1,0 -1.7,-0M295.5,387.7a1.1,1.1 0 1,0 2.2,0a1.1,1.1 0 1,0 -2.2,-0M302.5,422.1a1.1,1.1 0 1,0 2.2,0a1.1,1.1 0 1,0 -2.2,-0M350.8,356.8a1.4,1.4 0 1,0 2.8,0a1.4,1.4 0 1,0 -2.8,-0M303,375.5a1.1,1.1 0 1,0 2.2,0a1.1,1.1 0 1,0 -2.2,-0M285.2,387a.8,.8 0 1,0 1.6,0a.8,.8 0 1,0 -1.6,-0M324.5,406.1a1.4,1.4 0 1,0 2.9,0a1.4,1.4 0 1,0 -2.9,-0M339.9,372.9a.9,.9 0 1,0 1.9,0a.9,.9 0 1,0 -1.9,-0M349.2,406a1.3,1.3 0 1,0 2.5,0a1.3,1.3 0 1,0 -2.5,-0M354,442.2a1.3,1.3 0 1,0 2.6,0a1.3,1.3 0 1,0 -2.6,-0M373,452.5a.7,.7 0 1,0 1.4,0a.7,.7 0 1,0 -1.4,-0M274.1,363.9a1.4,1.4 0 1,0 2.8,0a1.4,1.4 0 1,0 -2.8,-0M295.7,404.5a1.1,1.1 0 1,0 2.1,0a1.1,1.1 0 1,0 -2.1,-0M338.9,439.6a.5,.5 0 1,0 1,0a.5,.5 0 1,0 -1,-0M281.9,376.2a.9,.9 0 1,0 1.8,0a.9,.9 0 1,0 -1.8,-0M281.6,427.7a1.1,1.1 0 1,0 2.1,0a1.1,1.1 0 1,0 -2.1,-0M262.9,372.6a1.3,1.3 0 1,0 2.6,0a1.3,1.3 0 1,0 -2.6,-0M368.7,383.6a.5,.5 0 1,0 1.1,0a.5,.5 0 1,0 -1.1,-0M329.7,378.3a.7,.7 0 1,0 1.4,0a.7,.7 0 1,0 -1.4,-0M303.9,409.9a1,1 0 1,0 1.9,0a1,1 0 1,0 -1.9,-0M359.8,375.5a1,1 0 1,0 2.1,0a1,1 0 1,0 -2.1,-0M373.2,367.5a1,1 0 1,0 1.9,0a1,1 0 1,0 -1.9,-0M362.5,431.4a.7,.7 0 1,0 1.5,0a.7,.7 0 1,0 -1.5,-0M285.4,420.7a.9,.9 0 1,0 1.7,0a.9,.9 0 1,0 -1.7,-0"/><path fill="#666666" d="M273.7,407.1a.8,.8 0 1,0 1.5,0a.8,.8 0 1,0 -1.5,-0M372.1,385.3a1,1 0 1,0 2.1,0a1,1 0 1,0 -2.1,-0M326.2,390.9a.6,.6 0 1,0 1.3,0a.6,.6 0 1,0 -1.3,-0M289.4,401.9a1.1,1.1 0 1,0 2.1,0a1.1,1.1 0 1,0 -2.1,-0M277.4,404.9a.5,.5 0 1,0 1,0a.5,.5 0 1,0 -1,-0M340.4,373.1a1.2,1.2 0 1,0 2.3,0a1.2,1.2 0 1,0 -2.3,-0M328.8,443.5a1,1 0 1,0 1.9,0a1,1 0 1,0 -1.9,-0M369.4,388.9a1,1 0 1,0 1.9,0a1,1 0 1,0 -1.9,-0M371.1,429.3a1.5,1.5 0 1,0 3,0a1.5,1.5 0 1,0 -3,-0M373.1,430.7a1.2,1.2 0 1,0 2.3,0a1.2,1.2 0 1,0 -2.3,-0M317.6,390.6a1.4,1.4 0 1,0 2.7,0a1.4,1.4 0 1,0 -2.7,-0M305,424.9a.7,.7 0 1,0 1.4,0a.7,.7 0 1,0 -1.4,-0M326.9,394.1a1,1 0 1,0 2,0a1,1 0 1,0 -2,-0M310.8,440.9a.9,.9 0 1,0 1.7,0a.9,.9 0 1,0 -1.7,-0M295.1,378a1,1 0 1,0 2,0a1,1 0 1,0 -2,-0M333,350.9a1.4,1.4 0 1,0 2.9,0a1.4,1.4 0 1,0 -2.9,-0M336.1,450a.6,.6 0 1,0 1.2,0a.6,.6 0 1,0 -1.2,-0M311.7,388.8a.9,.9 0 1,0 1.8,0a.9,.9 0 1,0 -1.8,-0M263.5,423.7a.9,.9 0 1,0 1.9,0a.9,.9 0 1,0 -1.9,-0M273.8,410.7a.6,.6 0 1,0 1.3,0a.6,.6 0 1,0 -1.3,-0M283.3,351.1a.7,.7 0 1,0 1.4,0a.7,.7 0 1,0 -1.4,-0M363.7,436.8a.9,.9 0 1,0 1.8,0a.9,.9 0 1,0 -1.8,-0M271.1,430.1a.7,.7 0 1,0 1.4,0a.7,.7 0 1,0 -1.4,-0M266.8,427.9a1.3,1.3 0 1,0 2.5,0a1.3,1.3 0 1,0 -2.5,-0M341.7,410.3a.5,.5 0 1,0 1,0a.5,.5 0 1,0 -1,-0M263.5,452a1.4,1.4 0 1,0 2.9,0a1.4,1.4 0 1,0 -2.9,-0M370.2,403.1a1.5,1.5 0 1,0 2.9,0a1.5,1.5 0 1,0 -2.9,-0M347.3,429a1.1,1.1 0 1,0 2.2,0a1.1,1.1 0 1,0 -2.2,-0M365.7,421.9a1.1,1.1 0 1,0 2.2,0a1.1,1.1 0 1,0 -2.2,-0M363,353.8a.9,.9 0 1,0 1.8,0a.9,.9 0 1,0 -1.8,-0M284.7,407.9a.7,.7 0 1,0 1.3,0a.7,.7 0 1,0 -1.3,-0M315.9,398.5a1.4,1.4 0 1,0 2.8,0a1.4,1.4 0 1,0 -2.8,-0M340.3,418.6a1.2,1.2 0 1,0 2.3,0a1.2,1.2 0 1,0 -2.3,-0M294.6,347.8a.8,.8 0 1,0 1.6,0a.8,.8 0 1,0 -1.6,-0M336.1,446.3a1,1 0 1,0 2,0a1,1 0 1,0 -2,-0M262.4,435.5a.8,.8 0 1,0 1.7,0a.8,.8 0 1,0 -1.7,-0M309.5,354.4a.7,.7 0 1,0 1.4,0a.7,.7 0 1,0 -1.4,-0M342.5,360.3a1.5,1.5 0 1,0 2.9,0a1.5,1.5 0 1,0 -2.9,-0M339.2,400.5a.8,.8 0 1,0 1.5,0a.8,.8 0 1,0 -1.5,-0M294.8,446.1a.7,.7 0 1,0 1.4,0a.7,.7 0 1,0 -1.4,-0M312.3,347.1a1.1,1.1 0 1,0 2.2,0a1.1,1.1 0 1,0 -2.2,-0M349.5,393a.7,.7 0 1,0 1.3,0a.7,.7 0 1,0 -1.3,-0M330.8,387.4a1.1,1.1 0 1,0 2.2,0a1.1,1.1 0 1,0 -2.2,-0M326.8,350.5a1,1 0 1,0 2,0a1,1 0 1,0 -2,-0M348,377.2a1.4,1.4 0 1,0 2.8,0a1.4,1.4 0 1,0 -2.8,-0M279.9,426.5a.7,.7 0 1,0 1.4,0a.7,.7 0 1,0 -1.4,-0M348.3,369.5a.6,.6 0 1,0 1.2,0a.6,.6 0 1,0 -1.2,-0M318.2,401.4a.8,.8 0 1,0 1.6,0a.8,.8 0 1,0 -1.6,-0M316.2,390.3a.9,.9 0 1,0 1.8,0a.9,.9 0 1,0 -1.8,-0M289.6,368.3a1.5,1.5 0 1,0 3,0a1.5,1.5 0 1,0 -3,-0M373.9,386.1a.6,.6 0 1,0 1.2,0a.6,.6 0 1,0 -1.2,-0M289.2,393a1.4,1.4 0 1,0 2.8,0a1.4,1.4 0 1,0 -2.8,-0M340.7,366.6a1.4,1.4 0 1,0 2.8,0a1.4,1.4 0 1,0 -2.8,-0M280.4,350.9a.7,.7 0 1,0 1.3,0a.7,.7 0 1,0 -1.3,-0M327.2,393.8a.7,.7 0 1,0 1.4,0a.7,.7 0 1,0 -1.4,-0M363.3,454.4a.8,.8 0 1,0 1.5,0a.8,.8 0 1,0 -1.5,-0M330.6,376.2a1.4,1.4 0 1,0 2.8,0a1.4,1.4 0 1,0 -2.8,-0M268.6,420.4a1,1 0 1,0 2,0a1,1 0 1,0 -2,-0M285.6,446.2a.5,.5 0 1,0 1.1,0a.5,.5 0 1,0 -1.1,-0M314.8,438.4a.7,.7 0 1,0 1.3,0a.7,.7 0 1,0 -1.3,-0M293.4,430.7a1.3,1.3 0 1,0 2.5,0a1.3,1.3 0 1,0 -2.5,-0M295.9,417.7a.8,.8 0 1,0 1.7,0a.8,.8 0 1,0 -1.7,-0M294,398a1.1,1.1 0 1,0 2.1,0a1.1,1.1 0 1,0 -2.1,-0M291.3,385.1a1.1,1.1 0 1,0 2.2,0a1.1,1.1 0 1,0 -2.2,-0M262.7,424.9a1,1 0 1,0 1.9,0a1,1 0 1,0 -1.9,-0M326.6,420.9a1.2,1.2 0 1,0 2.5,0a1.2,1.2 0 1,0 -2.5,-0M304.7,365.7a.5,.5 0 1,0 1,0a.5,.5 0 1,0 -1,-0M275.6,380.6a.8,.8 0 1,0 1.6,0a.8,.8 0 1,0 -1.6,-0M327.4,368.6a.8,.8 0 1,0 1.5,0a.8,.8 0 1,0 -1.5,-0M349.6,429.3a.5,.5 0 1,0 1,0a.5,.5 0 1,0 -1,-0M278.1,365.3a1.1,1.1 0 1,0 2.2,0a1.1,1.1 0 1,0 -2.2,-0M331.5,383.1a1,1 0 1,0 2,0a1,1 0 1,0 -2,-0M330.4,390.3a1.3,1.3 0 1,0 2.5,0a1.3,1.3 0 1,0 -2.5,-0M344.3,435.8a1.2,1.2 0 1,0 2.5,0a1.2,1.2 0 1,0 -2.5,-0M343.5,388.1a1.2,1.2 0 1,0 2.4,0a1.2,1.2 0 1,0 -2.4,-0M306.3,439.3a1.3,1.3 0 1,0 2.6,0a1.3,1.3 0 1,0 -2.6,-0M353.6,446.3a1.3,1.3 0 1,0 2.6,0a1.3,1.3 0 1,0 -2.6,-0M308.6,356.9a.8,.8 0 1,0 1.5,0a.8,.8 0 1,0 -1.5,-0M343.5,351.8a1.4,1.4 0 1,0 2.9,0a1.4,1.4 0 1,0 -2.9,-0M346,406.5a.5,.5 0 1,0 1,0a.5,.5 0 1,0 -1,-0M364.1,403.6a1.2,1.2 0 1,0 2.3,0a1.2,1.2 0 1,0 -2.3,-0M330.5,425.5a1.5,1.5 0 1,0 2.9,0a1.5,1.5 0 1,0 -2.9,-0M369.7,365.9a1.1,1.1 0 1,0 2.1,0a1.1,1.1 0 1,0 -2.1,-0M346.5,422.6a.9,.9 0 1,0 1.8,0a.9,.9 0 1,0 -1.8,-0M283.3,360.9a1.1,1.1 0 1,0 2.3,0a1.1,1.1 0 1,0 -2.3,-0M274.2,370.4a.6,.6 0 1,0 1.2,0a.6,.6 0 1,0 -1.2,-0M281.4,414.9a.8,.8 0 1,0 1.5,0a.8,.8 0 1,0 -1.5,-0M289.7,357a.9,.9 0 1,0 1.9,0a.9,.9 0 1,0 -1.9,-0M296.7,420.4a1.4,1.4 0 1,0 2.8,0a1.4,1.4 0 1,0 -2.8,-0M305.6,348.8a1,1 0 1,0 2,0a1,1 0 1,0 -2,-0M272.9,395.6a1,1 0 1,0 2,0a1,1 0 1,0 -2,-0M316,452.7a.5,.5 0 1,0 1.1,0a.5,.5 0 1,0 -1.1,-0M358.8,429.5a1.4,1.4 0 1,0 2.7,0a1.4,1.4 0 1,0 -2.7,-0M295.4,364.7a1.5,1.5 0 1,0 3,0a1.5,1.5 0 1,0 -3,-0M278.9,354.2a1.5,1.5 0 1,0 2.9,0a1.5,1.5 0 1,0 -2.9,-0M312.9,397.6a1,1 0 1,0 1.9,0a1,1 0 1,0 -1.9,-0M345.6,405.8a1.1,1.1 0 1,0 2.1,0a1.1,1.1 0 1,0 -2.1,-0M287.7,416a1,1 0 1,0 2,0a1,1 0 1,0 -2,-0M316.9,382.6a.9,.9 0 1,0 1.9,0a.9,.9 0 1,0 -1.9,-0M347.2,452.2a.7,.7 0 1,0 1.3,0a.7,.7 0 1,0 -1.3,-0M301.2,364.2a.7,.7 0 1,0 1.3,0a.7,.7 0 1,0 -1.3,-0M267.8,349.6a1.4,1.4 0 1,0 2.8,0a1.4,1.4 0 1,0 -2.8,-0M349.8,379a.9,.9 0 1,0 1.8,0a.9,.9 0 1,0 -1.8,-0M332.6,380a.7,.7 0 1,0 1.4,0a.7,.7 0 1,0 -1.4,-0M263.1,392.1a1.4,1.4 0 1,0 2.7,0a1.4,1.4 0 1,0 -2.7,-0M368,434a.7,.7 0 1,0 1.5,0a.7,.7 0 1,0 -1.5,-0M357.7,386a1.1,1.1 0 1,0 2.1,0a1.1,1.1 0 1,0 -2.1,-0M333.3,425.4a.7,.7 0 1,0 1.3,0a.7,.7 0 1,0 -1.3,-0M279.8,370.3a1.3,1.3 0 1,0 2.6,0a1.3,1.3 0 1,0 -2.6,-0M317.9,404.1a1.4,1.4 0 1,0 2.8,0a1.4,1.4 0 1,0 -2.8,-0M301.4,373.3a.7,.7 0 1,0 1.4,0a.7,.7 0 1,0 -1.4,-0M357.2,389.3a1.3,1.3 0 1,0 2.7,0a1.3,1.3 0 1,0 -2.7,-0M277.7,394.6a1.4,1.4 0 1,0 2.9,0a1.4,1.4 0 1,0 -2.9,-0M373.2,412.4a1.2,1.2 0 1,0 2.4,0a1.2,1.2 0 1,0 -2.4,-0M356.2,369.5a1.2,1.2 0 1,0 2.5,0a1.2,1.2 0 1,0 -2.5,-0M301.9,370.5a.9,.9 0 1,0 1.7,0a.9,.9 0 1,0 -1.7,-0M317.5,409.7a.6,.6 0 1,0 1.1,0a.6,.6 0 1,0 -1.1,-0M327.2,395.7a1.4,1.4 0 1,0 2.7,0a1.4,1.4 0 1,0 -2.7,-0M360.7,437.1a1.3,1.3 0 1,0 2.6,0a1.3,1.3 0 1,0 -2.6,-0M370.9,378.4a1.2,1.2 0 1,0 2.5,0a1.2,1.2 0 1,0 -2.5,-0M313.4,390.5a1.5,1.5 0 1,0 3,0a1.5,1.5 0 1,0 -3,-0M298,391.4a.6,.6 0 1,0 1.3,0a.6,.6 0 1,0 -1.3,-0M287,351.4a.6,.6 0 1,0 1.2,0a.6,.6 0 1,0 -1.2,-0M353.8,393.3a1.3,1.3 0 1,0 2.6,0a1.3,1.3 0 1,0 -2.6,-0M261.8,351.3a.8,.8 0 1,0 1.6,0a.8,.8 0 1,0 -1.6,-0M341.5,434.3a1.2,1.2 0 1,0 2.3,0a1.2,1.2 0 1,0 -2.3,-0M312.6,351.4a.6,.6 0 1,0 1.3,0a.6,.6 0 1,0 -1.3,-0M296.2,392.4a.6,.6 0 1,0 1.3,0a.6,.6 0 1,0 -1.3,-0M350.9,382a.9,.9 0 1,0 1.8,0a.9,.9 0 1,0 -1.8,-0M312.2,388a1.3,1.3 0 1,0 2.6,0a1.3,1.3 0 1,0 -2.6,-0M306.1,449a.5,.5 0 1,0 1.1,0a.5,.5 0 1,0 -1.1,-0M333.2,445.7a.6,.6 0 1,0 1.1,0a.6,.6 0 1,0 -1.1,-0M316.1,417a.9,.9 0 1,0 1.8,0a.9,.9 0 1,0 -1.8,-0M348.6,348.9a1.2,1.2 0 1,0 2.4,0a1.2,1.2 0 1,0 -2.4,-0M315.9,411a.8,.8 0 1,0 1.7,0a.8,.8 0 1,0 -1.7,-0M330.7,436.5a1.5,1.5 0 1,0 2.9,0a1.5,1.5 0 1,0 -2.9,-0M264,424.5a.5,.5 0 1,0 1.1,0a.5,.5 0 1,0 -1.1,-0M292.8,407.9a.7,.7 0 1,0 1.5,0a.7,.7 0 1,0 -1.5,-0M260.5,429a1.4,1.4 0 1,0 2.7,0a1.4,1.4 0 1,0 -2.7,-0M312.4,412.3a.7,.7 0 1,0 1.5,0a.7,.7 0 1,0 -1.5,-0M367.9,395.9a.7,.7 0 1,0 1.4,0a.7,.7 0 1,0 -1.4,-0M358.6,380.9a.7,.7 0 1,0 1.5,0a.7,.7 0 1,0 -1.5,-0M374.1,455.8a1.4,1.4 0 1,0 2.9,0a1.4,1.4 0 1,0 -2.9,-0M330.1,395.3a.9,.9 0 1,0 1.8,0a.9,.9 0 1,0 -1.8,-0M308.7,405.2a.9,.9 0 1,0 1.8,0a.9,.9 0 1,0 -1.8,-0M306.4,406.3a1.1,1.1 0 1,0 2.3,0a1.1,1.1 0 1,0 -2.3,-0M299.3,438a1.2,1.2 0 1,0 2.4,0a1.2,1.2 0 1,0 -2.4,-0M304.8,454.3a.8,.8 0 1,0 1.6,0a.8,.8 0 1,0 -1.6,-0M285.9,368a.7,.7 0 1,0 1.3,0a.7,.7 0 1,0 -1.3,-0M275.1,425.5a.7,.7 0 1,0 1.4,0a.7,.7 0 1,0 -1.4,-0M305.1,418.4a.8,.8 0 1,0 1.6,0a.8,.8 0 1,0 -1.6,-0M327.8,389.8a1.1,1.1 0 1,0 2.2,0a1.1,1.1 0 1,0 -2.2,-0M297.8,349.3a1.4,1.4 0 1,0 2.8,0a1.4,1.4 0 1,0 -2.8,-0M294,380.6a1.3,1.3 0 1,0 2.6,0a1.3,1.3 0 1,0 -2.6,-0M339.6,347.3a1.4,1.4 0 1,0 2.8,0a1.4,1.4 0 1,0 -2.8,-0M290.7,417.5a1.1,1.1 0 1,0 2.1,0a1.1,1.1 0 1,0 -2.1,-0M343.7,396.4a1,1 0 1,0 2,0a1,1 0 1,0 -2,-0M265.6,348.8a.7,.7 0 1,0 1.5,0a.7,.7 0 1,0 -1.5,-0M273.4,359.5a.6,.6 0 1,0 1.3,0a.6,.6 0 1,0 -1.3,-0M262.7,363.4a.7,.7 0 1,0 1.4,0a.7,.7 0 1,0 -1.4,-0M346,380.2a1.1,1.1 0 1,0 2.1,0a1.1,1.1 0 1,0 -2.1,-0M351.7,355.7a.7,.7 0 1,0 1.4,0a.7,.7 0 1,0 -1.4,-0M335.1,420.2a.7,.7 0 1,0 1.4,0a.7,.7 0 1,0 -1.4,-0M305.1,360.9a.6,.6 0 1,0 1.2,0a.6,.6 0 1,0 -1.2,-0M321.8,382.2a1.2,1.2 0 1,0 2.3,0a1.2,1.2 0 1,0 -2.3,-0M283.7,438.8a1.4,1.4 0 1,0 2.9,0a1.4,1.4 0 1,0 -2.9,-0M320.7,431.1a.9,.9 0 1,0 1.8,0a.9,.9 0 1,0 -1.8,-0M313.6,449.3a.8,.8 0 1,0 1.5,0a.8,.8 0 1,0 -1.5,-0M304,421.1a.8,.8 0 1,0 1.6,0a.8,.8 0 1,0 -1.6,-0M309,418.4a1.3,1.3 0 1,0 2.6,0a1.3,1.3 0 1,0 -2.6,-0M321.8,388.5a1.1,1.1 0 1,0 2.2,0a1.1,1.1 0 1,0 -2.2,-0M294.7,398.8a.9,.9 0 1,0 1.8,0a.9,.9 0 1,0 -1.8,-0M268.8,403.6a.9,.9 0 1,0 1.7,0a.9,.9 0 1,0 -1.7,-0M328,395a1.1,1.1 0 1,0 2.2,0a1.1,1.1 0 1,0 -2.2,-0M270.3,362.8a1.4,1.4 0 1,0 2.9,0a1.4,1.4 0 1,0 -2.9,-0M295.7,348.5a1.5,1.5 0 1,0 3,0a1.5,1.5 0 1,0 -3,-0M308.8,384.2a.6,.6 0 1,0 1.3,0a.6,.6 0 1,0 -1.3,-0M282.2,349a1,1 0 1,0 2.1,0a1,1 0 1,0 -2.1,-0M304.9,433.8a.6,.6 0 1,0 1.1,0a.6,.6 0 1,0 -1.1,-0M371.5,416.6a.9,.9 0 1,0 1.9,0a.9,.9 0 1,0 -1.9,-0M353.7,434.9a1.4,1.4 0 1,0 2.9,0a1.4,1.4 0 1,0 -2.9,-0M354,399.5a.5,.5 0 1,0 1,0a.5,.5 0 1,0 -1,-0M262.5,400.9a1.1,1.1 0 1,0 2.2,0a1.1,1.1 0 1,0 -2.2,-0M291.1,372.8a.7,.7 0 1,0 1.3,0a.7,.7 0 1,0 -1.3,-0M314.6,422a1.2,1.2 0 1,0 2.3,0a1.2,1.2 0 1,0 -2.3,-0M339.8,420.3a1.4,1.4 0 1,0 2.7,0a1.4,1.4 0 1,0 -2.7,-0M288,386.5a.6,.6 0 1,0 1.1,0a.6,.6 0 1,0 -1.1,-0M307.3,380.5a1,1 0 1,0 1.9,0a1,1 0 1,0 -1.9,-0M305.4,414a.8,.8 0 1,0 1.7,0a.8,.8 0 1,0 -1.7,-0M367.3,454.4a.7,.7 0 1,0 1.3,0a.7,.7 0 1,0 -1.3,-0M266.6,408.5a1.4,1.4 0 1,0 2.8,0a1.4,1.4 0 1,0 -2.8,-0M263.2,375.8a.8,.8 0 1,0 1.6,0a.8,.8 0 1,0 -1.6,-0M303.1,418a.8,.8 0 1,0 1.6,0a.8,.8 0 1,0 -1.6,-0M325.3,451.5a.9,.9 0 1,0 1.9,0a.9,.9 0 1,0 -1.9,-0M261.6,347.7a.8,.8 0 1,0 1.6,0a.8,.8 0 1,0 -1.6,-0M352.2,363.1a1.3,1.3 0 1,0 2.5,0a1.3,1.3 0 1,0 -2.5,-0M337.1,370.5a.9,.9 0 1,0 1.9,0a.9,.9 0 1,0 -1.9,-0M322.6,379.7a1.2,1.2 0 1,0 2.5,0a1.2,1.2 0 1,0 -2.5,-0M331.7,440.2a.8,.8 0 1,0 1.6,0a.8,.8 0 1,0 -1.6,-0M281.8,451a.9,.9 0 1,0 1.9,0a.9,.9 0 1,0 -1.9,-0M261.6,371.3a.9,.9 0 1,0 1.7,0a.9,.9 0 1,0 -1.7,-0M271.3,453.6a1,1 0 1,0 2,0a1,1 0 1,0 -2,-0M290.4,417.9a.8,.8 0 1,0 1.6,0a.8,.8 0 1,0 -1.6,-0M286.1,415.2a.8,.8 0 1,0 1.7,0a.8,.8 0 1,0 -1.7,-0M275.6,390.4a1.3,1.3 0 1,0 2.5,0a1.3,1.3 0 1,0 -2.5,-0M268.3,414.8a.8,.8 0 1,0 1.5,0a.8,.8 0 1,0 -1.5,-0M346.6,402.3a.9,.9 0 1,0 1.8,0a.9,.9 0 1,0 -1.8,-0M346.7,360.5a.7,.7 0 1,0 1.3,0a.7,.7 0 1,0 -1.3,-0M301.8,451.6a1,1 0 1,0 2,0a1,1 0 1,0 -2,-0M367.6,379.9a1.2,1.2 0 1,0 2.4,0a1.2,1.2 0 1,0 -2.4,-0M288.1,423.3a1.1,1.1 0 1,0 2.3,0a1.1,1.1 0 1,0 -2.3,-0M333.1,431.8a.6,.6 0 1,0 1.2,0a.6,.6 0 1,0 -1.2,-0M361.8,380.9a1.1,1.1 0 1,0 2.2,0a1.1,1.1 0 1,0 -2.2,-0M305.3,430.2a.5,.5 0 1,0 1,0a.5,.5 0 1,0 -1,-0M301.6,375a1,1 0 1,0 1.9,0a1,1 0 1,0 -1.9,-0M364.9,428.3a1,1 0 1,0 2,0a1,1 0 1,0 -2,-0M288.6,358.2a1.2,1.2 0 1,0 2.3,0a1.2,1.2 0 1,0 -2.3,-0M304,427.5a.6,.6 0 1,0 1.2,0a.6,.6 0 1,0 -1.2,-0M359.8,397.6a1.4,1.4 0 1,0 2.8,0a1.4,1.4 0 1,0 -2.8,-0M326.2,444.2a1.2,1.2 0 1,0 2.4,0a1.2,1.2 0 1,0 -2.4,-0M351.5,394.5a.7,.7 0 1,0 1.4,0a.7,.7 0 1,0 -1.4,-0M275.3,437.3a.9,.9 0 1,0 1.8,0a.9,.9 0 1,0 -1.8,-0M276.4,455.7a1,1 0 1,0 1.9,0a1,1 0 1,0 -1.9,-0M347.9,396.4a1.1,1.1 0 1,0 2.2,0a1.1,1.1 0 1,0 -2.2,-0M351.9,412a1.5,1.5 0 1,0 2.9,0a1.5,1.5 0 1,0 -2.9,-0M297.2,386.6a.5,.5 0 1,0 1.1,0a.5,.5 0 1,0 -1.1,-0M352,427.7a1.3,1.3 0 1,0 2.6,0a1.3,1.3 0 1,0 -2.6,-0M358.3,424.8a.9,.9 0 1,0 1.7,0a.9,.9 0 1,0 -1.7,-0M271.4,440.6a.7,.7 0 1,0 1.3,0a.7,.7 0 1,0 -1.3,-0M281.9,422.2a1,1 0 1,0 2.1,0a1,1 0 1,0 -2.1,-0M311.6,382a1.2,1.2 0 1,0 2.4,0a1.2,1.2 0 1,0 -2.4,-0M347.9,380.7a.7,.7 0 1,0 1.3,0a.7,.7 0 1,0 -1.3,-0M338.5,352a1.4,1.4 0 1,0 2.7,0a1.4,1.4 0 1,0 -2.7,-0M319.3,393.1a1.3,1.3 0 1,0 2.6,0a1.3,1.3 0 1,0 -2.6,-0M279.5,442.7a1.1,1.1 0 1,0 2.1,0a1.1,1.1 0 1,0 -2.1,-0M292.5,435.8a.9,.9 0 1,0 1.8,0a.9,.9 0 1,0 -1.8,-0M352.5,434.8a1.1,1.1 0 1,0 2.1,0a1.1,1.1 0 1,0 -2.1,-0M284.1,400.1a.6,.6 0 1,0 1.2,0a.6,.6 0 1,0 -1.2,-0M369.7,416.2a.9,.9 0 1,0 1.8,0a.9,.9 0 1,0 -1.8,-0M261.8,431.7a1.4,1.4 0 1,0 2.7,0a1.4,1.4 0 1,0 -2.7,-0M340.3,370.3a1.5,1.5 0 1,0 2.9,0a1.5,1.5 0 1,0 -2.9,-0M297.4,412.8a.9,.9 0 1,0 1.8,0a.9,.9 0 1,0 -1.8,-0M298,351.1a1.2,1.2 0 1,0 2.3,0a1.2,1.2 0 1,0 -2.3,-0M298.2,391a1,1 0 1,0 2,0a1,1 0 1,0 -2,-0M274.5,420.6a.8,.8 0 1,0 1.5,0a.8,.8 0 1,0 -1.5,-0M277.7,397.3a.5,.5 0 1,0 1,0a.5,.5 0 1,0 -1,-0M341.5,361.2a.6,.6 0 1,0 1.2,0a.6,.6 0 1,0 -1.2,-0M310.9,406.1a.8,.8 0 1,0 1.5,0a.8,.8 0 1,0 -1.5,-0M363.4,381.4a1.4,1.4 0 1,0 2.9,0a1.4,1.4 0 1,0 -2.9,-0M307.7,453.6a1.5,1.5 0 1,0 2.9,0a1.5,1.5 0 1,0 -2.9,-0M302.6,444.9a1,1 0 1,0 1.9,0a1,1 0 1,0 -1.9,-0M330.7,350.5a1.1,1.1 0 1,0 2.3,0a1.1,1.1 0 1,0 -2.3,-0M270.8,364.7a.7,.7 0 1,0 1.5,0a.7,.7 0 1,0 -1.5,-0M317.9,428.6a.8,.8 0 1,0 1.5,0a.8,.8 0 1,0 -1.5,-0M295.9,359.4a.6,.6 0 1,0 1.1,0a.6,.6 0 1,0 -1.1,-0M268.3,370.8a.6,.6 0 1,0 1.3,0a.6,.6 0 1,0 -1.3,-0M293.9,448.4a1.4,1.4 0 1,0 2.8,0a1.4,1.4 0 1,0 -2.8,-0M262.9,380.9a.5,.5 0 1,0 1,0a.5,.5 0 1,0 -1,-0M297.6,365.9a1.4,1.4 0 1,0 2.8,0a1.4,1.4 0 1,0 -2.8,-0M330.8,437.7a1.3,1.3 0 1,0 2.7,0a1.3,1.3 0 1,0 -2.7,-0M286.1,383.5a.7,.7 0 1,0 1.4,0a.7,.7 0 1,0 -1.4,-0M367.8,411.3a1.1,1.1 0 1,0 2.2,0a1.1,1.1 0 1,0 -2.2,-0M299.3,453.7a1.3,1.3 0 1,0 2.7,0a1.3,1.3 0 1,0 -2.7,-0"/><path fill="#7c7c7c" d="M340.1,445.2a1.1,1.1 0 1,0 2.2,0a1.1,1.1 0 1,0 -2.2,-0M284.8,382.8a.6,.6 0 1,0 1.2,0a.6,.6 0 1,0 -1.2,-0M312.8,355.6a1.3,1.3 0 1,0 2.6,0a1.3,1.3 0 1,0 -2.6,-0M371.8,376.6a1.1,1.1 0 1,0 2.3,0a1.1,1.1 0 1,0 -2.3,-0M365,447.7a1.3,1.3 0 1,0 2.5,0a1.3,1.3 0 1,0 -2.5,-0M336.6,430.9a1.5,1.5 0 1,0 2.9,0a1.5,1.5 0 1,0 -2.9,-0M275.9,356.8a1.4,1.4 0 1,0 2.8,0a1.4,1.4 0 1,0 -2.8,-0M326.3,404.5a1.4,1.4 0 1,0 2.7,0a1.4,1.4 0 1,0 -2.7,-0M264.1,432.6a1.3,1.3 0 1,0 2.6,0a1.3,1.3 0 1,0 -2.6,-0M367.4,416a1.3,1.3 0 1,0 2.6,0a1.3,1.3 0 1,0 -2.6,-0M313.8,367.7a1.1,1.1 0 1,0 2.2,0a1.1,1.1 0 1,0 -2.2,-0M365.4,444.4a.9,.9 0 1,0 1.8,0a.9,.9 0 1,0 -1.8,-0M309.9,428.9a.5,.5 0 1,0 1,0a.5,.5 0 1,0 -1,-0M280.4,393.5a.5,.5 0 1,0 1,0a.5,.5 0 1,0 -1,-0M300.1,380.2a1.2,1.2 0 1,0 2.5,0a1.2,1.2 0 1,0 -2.5,-0M286.8,434.1a.5,.5 0 1,0 1.1,0a.5,.5 0 1,0 -1.1,-0M370.6,400.5a1.1,1.1 0 1,0 2.1,0a1.1,1.1 0 1,0 -2.1,-0M270,377.5a1.4,1.4 0 1,0 2.9,0a1.4,1.4 0 1,0 -2.9,-0M366,359.5a1.2,1.2 0 1,0 2.4,0a1.2,1.2 0 1,0 -2.4,-0M272.7,406.9a1,1 0 1,0 2,0a1,1 0 1,0 -2,-0M351.6,386a1.4,1.4 0 1,0 2.8,0a1.4,1.4 0 1,0 -2.8,-0M355.9,372.8a1.1,1.1 0 1,0 2.3,0a1.1,1.1 0 1,0 -2.3,-0M371.8,431.7a.9,.9 0 1,0 1.7,0a.9,.9 0 1,0 -1.7,-0M304.2,390.9a.5,.5 0 1,0 1.1,0a.5,.5 0 1,0 -1.1,-0M323.1,437.4a1.3,1.3 0 1,0 2.6,0a1.3,1.3 0 1,0 -2.6,-0M271.7,448.5a1.1,1.1 0 1,0 2.2,0a1.1,1.1 0 1,0 -2.2,-0M331.8,442.3a.5,.5 0 1,0 1.1,0a.5,.5 0 1,0 -1.1,-0M301.9,411.9a.9,.9 0 1,0 1.8,0a.9,.9 0 1,0 -1.8,-0M310.3,420a1.4,1.4 0 1,0 2.8,0a1.4,1.4 0 1,0 -2.8,-0M286.9,444.3a.7,.7 0 1,0 1.3,0a.7,.7 0 1,0 -1.3,-0M349.5,378.3a.9,.9 0 1,0 1.8,0a.9,.9 0 1,0 -1.8,-0M288.3,393.6a1.1,1.1 0 1,0 2.3,0a1.1,1.1 0 1,0 -2.3,-0M368.3,393.3a.8,.8 0 1,0 1.7,0a.8,.8 0 1,0 -1.7,-0M311.7,390.7a1.1,1.1 0 1,0 2.3,0a1.1,1.1 0 1,0 -2.3,-0M352.1,422.3a1.3,1.3 0 1,0 2.6,0a1.3,1.3 0 1,0 -2.6,-0M374.8,396.6a.6,.6 0 1,0 1.2,0a.6,.6 0 1,0 -1.2,-0M369.1,382.4a.5,.5 0 1,0 1,0a.5,.5 0 1,0 -1,-0M269.3,422.1a1.3,1.3 0 1,0 2.6,0a1.3,1.3 0 1,0 -2.6,-0M297.6,358.2a.7,.7 0 1,0 1.5,0a.7,.7 0 1,0 -1.5,-0M338,400.6a1.1,1.1 0 1,0 2.1,0a1.1,1.1 0 1,0 -2.1,-0M297,394a.8,.8 0 1,0 1.5,0a.8,.8 0 1,0 -1.5,-0M299.2,383.8a.6,.6 0 1,0 1.2,0a.6,.6 0 1,0 -1.2,-0M369.1,418a.7,.7 0 1,0 1.4,0a.7,.7 0 1,0 -1.4,-0M355.2,412.6a1.2,1.2 0 1,0 2.4,0a1.2,1.2 0 1,0 -2.4,-0M332,385.4a.6,.6 0 1,0 1.3,0a.6,.6 0 1,0 -1.3,-0M365.4,380.3a.9,.9 0 1,0 1.8,0a.9,.9 0 1,0 -1.8,-0M313,431.3a.6,.6 0 1,0 1.2,0a.6,.6 0 1,0 -1.2,-0M297,376.4a1.2,1.2 0 1,0 2.3,0a1.2,1.2 0 1,0 -2.3,-0M341.8,348.3a.9,.9 0 1,0 1.7,0a.9,.9 0 1,0 -1.7,-0M337.5,446a.7,.7 0 1,0 1.5,0a.7,.7 0 1,0 -1.5,-0M263.3,380.8a1.5,1.5 0 1,0 2.9,0a1.5,1.5 0 1,0 -2.9,-0M365.4,403.4a1.1,1.1 0 1,0 2.2,0a1.1,1.1 0 1,0 -2.2,-0M332,385.3a1.3,1.3 0 1,0 2.5,0a1.3,1.3 0 1,0 -2.5,-0M311.8,390.5a.7,.7 0 1,0 1.3,0a.7,.7 0 1,0 -1.3,-0M266.2,437.6a.7,.7 0 1,0 1.5,0a.7,.7 0 1,0 -1.5,-0M267.4,354.3a.8,.8 0 1,0 1.5,0a.8,.8 0 1,0 -1.5,-0M293.6,438.2a1.4,1.4 0 1,0 2.7,0a1.4,1.4 0 1,0 -2.7,-0M270.6,382.5a1.4,1.4 0 1,0 2.8,0a1.4,1.4 0 1,0 -2.8,-0M331.2,358.2a1.4,1.4 0 1,0 2.7,0a1.4,1.4 0 1,0 -2.7,-0M276.2,445.7a1.3,1.3 0 1,0 2.6,0a1.3,1.3 0 1,0 -2.6,-0M276.1,356.2a1.1,1.1 0 1,0 2.2,0a1.1,1.1 0 1,0 -2.2,-0M332.7,439.8a1.3,1.3 0 1,0 2.7,0a1.3,1.3 0 1,0 -2.7,-0M349.8,394.8a1.3,1.3 0 1,0 2.7,0a1.3,1.3 0 1,0 -2.7,-0M298.5,429.8a.5,.5 0 1,0 1.1,0a.5,.5 0 1,0 -1.1,-0M282.2,377.2a.9,.9 0 1,0 1.9,0a.9,.9 0 1,0 -1.9,-0M316.1,452.1a.9,.9 0 1,0 1.7,0a.9,.9 0 1,0 -1.7,-0M365.5,375.4a.7,.7 0 1,0 1.5,0a.7,.7 0 1,0 -1.5,-0M372,387.1a.9,.9 0 1,0 1.9,0a.9,.9 0 1,0 -1.9,-0M298.1,375.1a1.1,1.1 0 1,0 2.2,0a1.1,1.1 0 1,0 -2.2,-0M299.4,427.9a1,1 0 1,0 2,0a1,1 0 1,0 -2,-0M370.9,417.1a.9,.9 0 1,0 1.9,0a.9,.9 0 1,0 -1.9,-0M340.6,349.5a1.4,1.4 0 1,0 2.8,0a1.4,1.4 0 1,0 -2.8,-0M316.3,451.6a1.2,1.2 0 1,0 2.4,0a1.2,1.2 0 1,0 -2.4,-0M367,399.8a.7,.7 0 1,0 1.4,0a.7,.7 0 1,0 -1.4,-0M368.9,407.6a1.3,1.3 0 1,0 2.6,0a1.3,1.3 0 1,0 -2.6,-0M339.6,450.6a1.4,1.4 0 1,0 2.9,0a1.4,1.4 0 1,0 -2.9,-0M302.1,378.3a1.1,1.1 0 1,0 2.2,0a1.1,1.1 0 1,0 -2.2,-0M325.5,419.1a.5,.5 0 1,0 1.1,0a.5,.5 0 1,0 -1.1,-0M273.1,367.7a.5,.5 0 1,0 1.1,0a.5,.5 0 1,0 -1.1,-0M341.4,395.1a.5,.5 0 1,0 1.1,0a.5,.5 0 1,0 -1.1,-0M274.4,441.7a1.1,1.1 0 1,0 2.2,0a1.1,1.1 0 1,0 -2.2,-0M323.2,359.8a1.4,1.4 0 1,0 2.8,0a1.4,1.4 0 1,0 -2.8,-0M353.6,397.9a.9,.9 0 1,0 1.9,0a.9,.9 0 1,0 -1.9,-0M265.8,436.9a1.1,1.1 0 1,0 2.3,0a1.1,1.1 0 1,0 -2.3,-0M276.3,382.5a1.2,1.2 0 1,0 2.5,0a1.2,1.2 0 1,0 -2.5,-0M349.1,446.3a1.2,1.2 0 1,0 2.4,0a1.2,1.2 0 1,0 -2.4,-0M278.8,367.2a1.1,1.1 0 1,0 2.2,0a1.1,1.1 0 1,0 -2.2,-0M361.6,359.2a.6,.6 0 1,0 1.2,0a.6,.6 0 1,0 -1.2,-0M352.4,433.1a.7,.7 0 1,0 1.4,0a.7,.7 0 1,0 -1.4,-0M348,390a.9,.9 0 1,0 1.8,0a.9,.9 0 1,0 -1.8,-0M348.1,388.9a.8,.8 0 1,0 1.6,0a.8,.8 0 1,0 -1.6,-0M350.3,348.7a.9,.9 0 1,0 1.8,0a.9,.9 0 1,0 -1.8,-0M337.7,373.2a1.2,1.2 0 1,0 2.4,0a1.2,1.2 0 1,0 -2.4,-0M321.1,352.1a.9,.9 0 1,0 1.9,0a.9,.9 0 1,0 -1.9,-0M315.3,435.6a.7,.7 0 1,0 1.4,0a.7,.7 0 1,0 -1.4,-0M342.8,356a.5,.5 0 1,0 1.1,0a.5,.5 0 1,0 -1.1,-0M306.9,376.4a1.4,1.4 0 1,0 2.8,0a1.4,1.4 0 1,0 -2.8,-0M314.8,381a.8,.8 0 1,0 1.5,0a.8,.8 0 1,0 -1.5,-0M298.1,429.8a1.4,1.4 0 1,0 2.8,0a1.4,1.4 0 1,0 -2.8,-0M348.1,375.2a1,1 0 1,0 2.1,0a1,1 0 1,0 -2.1,-0M356.7,370.8a.9,.9 0 1,0 1.7,0a.9,.9 0 1,0 -1.7,-0M352.3,392.9a1,1 0 1,0 2.1,0a1,1 0 1,0 -2.1,-0M284.5,423.2a.5,.5 0 1,0 1.1,0a.5,.5 0 1,0 -1.1,-0M362.4,393.7a1.1,1.1 0 1,0 2.2,0a1.1,1.1 0 1,0 -2.2,-0M373.6,409a1.4,1.4 0 1,0 2.7,0a1.4,1.4 0 1,0 -2.7,-0M374.7,353.2a1,1 0 1,0 1.9,0a1,1 0 1,0 -1.9,-0M344.8,374.6a.7,.7 0 1,0 1.5,0a.7,.7 0 1,0 -1.5,-0M324.1,365.9a1.3,1.3 0 1,0 2.6,0a1.3,1.3 0 1,0 -2.6,-0M302.7,409.4a.7,.7 0 1,0 1.4,0a.7,.7 0 1,0 -1.4,-0M325.7,429.2a1,1 0 1,0 2.1,0a1,1 0 1,0 -2.1,-0M305.8,359.1a1.3,1.3 0 1,0 2.6,0a1.3,1.3 0 1,0 -2.6,-0M293,351.7a.8,.8 0 1,0 1.6,0a.8,.8 0 1,0 -1.6,-0M278.5,406.9a1.4,1.4 0 1,0 2.8,0a1.4,1.4 0 1,0 -2.8,-0M306.1,348.7a.7,.7 0 1,0 1.4,0a.7,.7 0 1,0 -1.4,-0M352.2,441.4a1.1,1.1 0 1,0 2.3,0a1.1,1.1 0 1,0 -2.3,-0M264.9,367.4a1.4,1.4 0 1,0 2.7,0a1.4,1.4 0 1,0 -2.7,-0M356.4,347.8a.8,.8 0 1,0 1.6,0a.8,.8 0 1,0 -1.6,-0M262.6,420.7a.6,.6 0 1,0 1.1,0a.6,.6 0 1,0 -1.1,-0M273.2,436.9a1,1 0 1,0 1.9,0a1,1 0 1,0 -1.9,-0M310.5,379.3a1,1 0 1,0 2,0a1,1 0 1,0 -2,-0M308.3,428.9a.8,.8 0 1,0 1.5,0a.8,.8 0 1,0 -1.5,-0M282,427.6a.7,.7 0 1,0 1.3,0a.7,.7 0 1,0 -1.3,-0M273.6,386.7a.6,.6 0 1,0 1.2,0a.6,.6 0 1,0 -1.2,-0M305.1,358.9a.8,.8 0 1,0 1.7,0a.8,.8 0 1,0 -1.7,-0M361.4,437.2a1.1,1.1 0 1,0 2.3,0a1.1,1.1 0 1,0 -2.3,-0M364,389.3a.7,.7 0 1,0 1.4,0a.7,.7 0 1,0 -1.4,-0M260.3,418.6a.9,.9 0 1,0 1.8,0a.9,.9 0 1,0 -1.8,-0M335.7,359.9a.7,.7 0 1,0 1.3,0a.7,.7 0 1,0 -1.3,-0M369.4,425.9a1,1 0 1,0 2,0a1,1 0 1,0 -2,-0M362.4,395.9a1.4,1.4 0 1,0 2.9,0a1.4,1.4 0 1,0 -2.9,-0M321.5,401a1.4,1.4 0 1,0 2.9,0a1.4,1.4 0 1,0 -2.9,-0M322.7,372.4a.6,.6 0 1,0 1.2,0a.6,.6 0 1,0 -1.2,-0M291.3,358.2a1.5,1.5 0 1,0 3,0a1.5,1.5 0 1,0 -3,-0M278.2,409.7a1,1 0 1,0 1.9,0a1,1 0 1,0 -1.9,-0M367,404.5a.9,.9 0 1,0 1.7,0a.9,.9 0 1,0 -1.7,-0M317.6,454.9a1.4,1.4 0 1,0 2.8,0a1.4,1.4 0 1,0 -2.8,-0M285.6,413.7a.5,.5 0 1,0 1,0a.5,.5 0 1,0 -1,-0M353.2,444.3a1.2,1.2 0 1,0 2.4,0a1.2,1.2 0 1,0 -2.4,-0M280.9,427.2a.9,.9 0 1,0 1.8,0a.9,.9 0 1,0 -1.8,-0M368,418.6a1.1,1.1 0 1,0 2.3,0a1.1,1.1 0 1,0 -2.3,-0M363.2,371.6a1,1 0 1,0 2.1,0a1,1 0 1,0 -2.1,-0M286.5,437.2a.7,.7 0 1,0 1.4,0a.7,.7 0 1,0 -1.4,-0M363.7,438.6a.8,.8 0 1,0 1.7,0a.8,.8 0 1,0 -1.7,-0M316.2,399.1a1.3,1.3 0 1,0 2.6,0a1.3,1.3 0 1,0 -2.6,-0M301.1,358.4a1.4,1.4 0 1,0 2.9,0a1.4,1.4 0 1,0 -2.9,-0M312.2,351.9a.9,.9 0 1,0 1.8,0a.9,.9 0 1,0 -1.8,-0M322.8,382.1a.7,.7 0 1,0 1.4,0a.7,.7 0 1,0 -1.4,-0M358.2,430.8a.7,.7 0 1,0 1.3,0a.7,.7 0 1,0 -1.3,-0M362.1,367.2a.6,.6 0 1,0 1.2,0a.6,.6 0 1,0 -1.2,-0M355.9,442.4a1.3,1.3 0 1,0 2.6,0a1.3,1.3 0 1,0 -2.6,-0M350.3,370.1a.8,.8 0 1,0 1.5,0a.8,.8 0 1,0 -1.5,-0M267.5,380.7a1,1 0 1,0 2.1,0a1,1 0 1,0 -2.1,-0M272.4,436.9a.8,.8 0 1,0 1.6,0a.8,.8 0 1,0 -1.6,-0M271.7,415.8a1.5,1.5 0 1,0 3,0a1.5,1.5 0 1,0 -3,-0M334.2,438.8a.8,.8 0 1,0 1.5,0a.8,.8 0 1,0 -1.5,-0M295.9,409.8a.6,.6 0 1,0 1.2,0a.6,.6 0 1,0 -1.2,-0M293.6,351.1a.6,.6 0 1,0 1.2,0a.6,.6 0 1,0 -1.2,-0M348.4,375.4a1,1 0 1,0 2.1,0a1,1 0 1,0 -2.1,-0M329.8,425.2a1,1 0 1,0 2.1,0a1,1 0 1,0 -2.1,-0M357.4,376.7a1.1,1.1 0 1,0 2.3,0a1.1,1.1 0 1,0 -2.3,-0M342.1,441.3a1,1 0 1,0 2,0a1,1 0 1,0 -2,-0M374,377.5a1.4,1.4 0 1,0 2.8,0a1.4,1.4 0 1,0 -2.8,-0M327.3,353.7a.8,.8 0 1,0 1.5,0a.8,.8 0 1,0 -1.5,-0M346.9,427.2a.6,.6 0 1,0 1.1,0a.6,.6 0 1,0 -1.1,-0M374.2,400.3a.7,.7 0 1,0 1.5,0a.7,.7 0 1,0 -1.5,-0M349.1,414.8a1.2,1.2 0 1,0 2.3,0a1.2,1.2 0 1,0 -2.3,-0M300.8,372.5a1.3,1.3 0 1,0 2.5,0a1.3,1.3 0 1,0 -2.5,-0M358.8,450.1a.5,.5 0 1,0 1.1,0a.5,.5 0 1,0 -1.1,-0M371.3,349.2a1.1,1.1 0 1,0 2.3,0a1.1,1.1 0 1,0 -2.3,-0M363.4,404.4a1.5,1.5 0 1,0 2.9,0a1.5,1.5 0 1,0 -2.9,-0M369.9,391.3a.8,.8 0 1,0 1.5,0a.8,.8 0 1,0 -1.5,-0M362.9,347.5a1.1,1.1 0 1,0 2.3,0a1.1,1.1 0 1,0 -2.3,-0M280,405.4a.8,.8 0 1,0 1.5,0a.8,.8 0 1,0 -1.5,-0M276.3,385.3a1.3,1.3 0 1,0 2.6,0a1.3,1.3 0 1,0 -2.6,-0M273.6,406.4a1.2,1.2 0 1,0 2.3,0a1.2,1.2 0 1,0 -2.3,-0M358.6,436.8a.7,.7 0 1,0 1.4,0a.7,.7 0 1,0 -1.4,-0M290.8,404.6a1.4,1.4 0 1,0 2.8,0a1.4,1.4 0 1,0 -2.8,-0M288.5,390.8a1.1,1.1 0 1,0 2.3,0a1.1,1.1 0 1,0 -2.3,-0M353.9,370.4a.6,.6 0 1,0 1.1,0a.6,.6 0 1,0 -1.1,-0M261.6,407.3a1.5,1.5 0 1,0 3,0a1.5,1.5 0 1,0 -3,-0M314.2,435.6a.8,.8 0 1,0 1.6,0a.8,.8 0 1,0 -1.6,-0M317.4,378.5a1.3,1.3 0 1,0 2.6,0a1.3,1.3 0 1,0 -2.6,-0M286.1,400.7a.8,.8 0 1,0 1.5,0a.8,.8 0 1,0 -1.5,-0M306.6,434.8a1,1 0 1,0 2,0a1,1 0 1,0 -2,-0M287.1,445.7a1.5,1.5 0 1,0 2.9,0a1.5,1.5 0 1,0 -2.9,-0M361.6,384.7a1.3,1.3 0 1,0 2.6,0a1.3,1.3 0 1,0 -2.6,-0M281.2,445.3a.9,.9 0 1,0 1.8,0a.9,.9 0 1,0 -1.8,-0M365.5,366a1,1 0 1,0 2,0a1,1 0 1,0 -2,-0M374.4,353.4a1.1,1.1 0 1,0 2.2,0a1.1,1.1 0 1,0 -2.2,-0M365.2,454.7a.6,.6 0 1,0 1.2,0a.6,.6 0 1,0 -1.2,-0M373.1,372.3a1.3,1.3 0 1,0 2.7,0a1.3,1.3 0 1,0 -2.7,-0M289.5,356.4a1.5,1.5 0 1,0 3,0a1.5,1.5 0 1,0 -3,-0M343,369.4a.8,.8 0 1,0 1.6,0a.8,.8 0 1,0 -1.6,-0M346.4,396a.6,.6 0 1,0 1.2,0a.6,.6 0 1,0 -1.2,-0M319,416.3a1.3,1.3 0 1,0 2.5,0a1.3,1.3 0 1,0 -2.5,-0M299.3,378.1a1.1,1.1 0 1,0 2.2,0a1.1,1.1 0 1,0 -2.2,-0M326.8,353.9a1.3,1.3 0 1,0 2.6,0a1.3,1.3 0 1,0 -2.6,-0M350.1,358.9a.9,.9 0 1,0 1.7,0a.9,.9 0 1,0 -1.7,-0M349.5,410.3a.8,.8 0 1,0 1.7,0a.8,.8 0 1,0 -1.7,-0M267.8,417.2a1.4,1.4 0 1,0 2.8,0a1.4,1.4 0 1,0 -2.8,-0M270.6,419.6a1.3,1.3 0 1,0 2.5,0a1.3,1.3 0 1,0 -2.5,-0M340.8,393.1a.8,.8 0 1,0 1.5,0a.8,.8 0 1,0 -1.5,-0M265.2,396.3a1,1 0 1,0 2.1,0a1,1 0 1,0 -2.1,-0M333.4,397.9a1,1 0 1,0 2,0a1,1 0 1,0 -2,-0M295.4,445.8a.7,.7 0 1,0 1.5,0a.7,.7 0 1,0 -1.5,-0M281.1,414.3a.5,.5 0 1,0 1.1,0a.5,.5 0 1,0 -1.1,-0M362.1,418a.8,.8 0 1,0 1.5,0a.8,.8 0 1,0 -1.5,-0M345.4,349.2a.8,.8 0 1,0 1.6,0a.8,.8 0 1,0 -1.6,-0M272.2,408.8a1,1 0 1,0 1.9,0a1,1 0 1,0 -1.9,-0M307.4,433.8a1.2,1.2 0 1,0 2.3,0a1.2,1.2 0 1,0 -2.3,-0M269.5,401.3a1.1,1.1 0 1,0 2.2,0a1.1,1.1 0 1,0 -2.2,-0M297.1,393.7a1.2,1.2 0 1,0 2.4,0a1.2,1.2 0 1,0 -2.4,-0M323.9,419.2a1.4,1.4 0 1,0 2.8,0a1.4,1.4 0 1,0 -2.8,-0M347.5,394.7a.9,.9 0 1,0 1.8,0a.9,.9 0 1,0 -1.8,-0M265.5,452.8a.8,.8 0 1,0 1.6,0a.8,.8 0 1,0 -1.6,-0M328.8,388.4a1.4,1.4 0 1,0 2.8,0a1.4,1.4 0 1,0 -2.8,-0M375,357.1a.7,.7 0 1,0 1.3,0a.7,.7 0 1,0 -1.3,-0M324.3,369.9a.6,.6 0 1,0 1.1,0a.6,.6 0 1,0 -1.1,-0M332.1,360.2a.9,.9 0 1,0 1.9,0a.9,.9 0 1,0 -1.9,-0M324.6,382.2a.5,.5 0 1,0 1.1,0a.5,.5 0 1,0 -1.1,-0M339.4,394.1a.6,.6 0 1,0 1.2,0a.6,.6 0 1,0 -1.2,-0M362.8,451.5a.6,.6 0 1,0 1.1,0a.6,.6 0 1,0 -1.1,-0M370.1,382.6a1.3,1.3 0 1,0 2.6,0a1.3,1.3 0 1,0 -2.6,-0M266.7,422.5a1.3,1.3 0 1,0 2.6,0a1.3,1.3 0 1,0 -2.6,-0M359.5,396.7a1.1,1.1 0 1,0 2.2,0a1.1,1.1 0 1,0 -2.2,-0M285.3,351.3a1,1 0 1,0 2.1,0a1,1 0 1,0 -2.1,-0M364.4,399.4a.6,.6 0 1,0 1.2,0a.6,.6 0 1,0 -1.2,-0M336.3,424.9a1.3,1.3 0 1,0 2.7,0a1.3,1.3 0 1,0 -2.7,-0M279.9,349.3a1.2,1.2 0 1,0 2.4,0a1.2,1.2 0 1,0 -2.4,-0M352.2,359.6a.9,.9 0 1,0 1.9,0a.9,.9 0 1,0 -1.9,-0M268.5,364.7a1.4,1.4 0 1,0 2.8,0a1.4,1.4 0 1,0 -2.8,-0M367,409.4a.6,.6 0 1,0 1.3,0a.6,.6 0 1,0 -1.3,-0M335.5,373.5a1.3,1.3 0 1,0 2.5,0a1.3,1.3 0 1,0 -2.5,-0M295,361.8a1.3,1.3 0 1,0 2.6,0a1.3,1.3 0 1,0 -2.6,-0M369.8,400.1a.5,.5 0 1,0 1.1,0a.5,.5 0 1,0 -1.1,-0M374.5,448.9a1.3,1.3 0 1,0 2.6,0a1.3,1.3 0 1,0 -2.6,-0M305.1,385.1a1.1,1.1 0 1,0 2.2,0a1.1,1.1 0 1,0 -2.2,-0M276.5,454.7a.7,.7 0 1,0 1.3,0a.7,.7 0 1,0 -1.3,-0M333.4,395a.6,.6 0 1,0 1.2,0a.6,.6 0 1,0 -1.2,-0M294.2,366.9a1,1 0 1,0 2,0a1,1 0 1,0 -2,-0M262.2,351.7a.7,.7 0 1,0 1.4,0a.7,.7 0 1,0 -1.4,-0M292.1,455.3a.5,.5 0 1,0 1.1,0a.5,.5 0 1,0 -1.1,-0M370.5,384.3a1.3,1.3 0 1,0 2.5,0a1.3,1.3 0 1,0 -2.5,-0M296.9,397.6a.9,.9 0 1,0 1.7,0a.9,.9 0 1,0 -1.7,-0M290.4,428.9a.7,.7 0 1,0 1.4,0a.7,.7 0 1,0 -1.4,-0M300.7,408.3a.9,.9 0 1,0 1.9,0a.9,.9 0 1,0 -1.9,-0M365.6,449a.9,.9 0 1,0 1.8,0a.9,.9 0 1,0 -1.8,-0M293.2,427.8a1.1,1.1 0 1,0 2.1,0a1.1,1.1 0 1,0 -2.1,-0M331.1,409.3a.6,.6 0 1,0 1.2,0a.6,.6 0 1,0 -1.2,-0M344.4,401a1.3,1.3 0 1,0 2.6,0a1.3,1.3 0 1,0 -2.6,-0M328.2,453.1a1,1 0 1,0 2,0a1,1 0 1,0 -2,-0M365.3,347.5a.9,.9 0 1,0 1.7,0a.9,.9 0 1,0 -1.7,-0M316.5,375.7a.5,.5 0 1,0 1,0a.5,.5 0 1,0 -1,-0M330.9,417.5a.7,.7 0 1,0 1.3,0a.7,.7 0 1,0 -1.3,-0M278.3,447.2a.9,.9 0 1,0 1.9,0a.9,.9 0 1,0 -1.9,-0M339.5,433.5a1.4,1.4 0 1,0 2.8,0a1.4,1.4 0 1,0 -2.8,-0M314.5,370a1.2,1.2 0 1,0 2.5,0a1.2,1.2 0 1,0 -2.5,-0M277.9,422a.5,.5 0 1,0 1,0a.5,.5 0 1,0 -1,-0M263.7,364a1.4,1.4 0 1,0 2.8,0a1.4,1.4 0 1,0 -2.8,-0M345.5,405.4a.9,.9 0 1,0 1.9,0a.9,.9 0 1,0 -1.9,-0M304.1,453.4a1.1,1.1 0 1,0 2.3,0a1.1,1.1 0 1,0 -2.3,-0M351.6,362a1.3,1.3 0 1,0 2.6,0a1.3,1.3 0 1,0 -2.6,-0M267.8,356.2a1.2,1.2 0 1,0 2.5,0a1.2,1.2 0 1,0 -2.5,-0M273.9,367.8a.9,.9 0 1,0 1.9,0a.9,.9 0 1,0 -1.9,-0M311.4,408.9a.7,.7 0 1,0 1.5,0a.7,.7 0 1,0 -1.5,-0M281.9,420.4a1.2,1.2 0 1,0 2.4,0a1.2,1.2 0 1,0 -2.4,-0M340.8,417.6a.6,.6 0 1,0 1.2,0a.6,.6 0 1,0 -1.2,-0M276.6,354.4a.6,.6 0 1,0 1.1,0a.6,.6 0 1,0 -1.1,-0M303.2,395a1.4,1.4 0 1,0 2.8,0a1.4,1.4 0 1,0 -2.8,-0M268.7,402.9a1.3,1.3 0 1,0 2.5,0a1.3,1.3 0 1,0 -2.5,-0M292.4,401.6a1,1 0 1,0 1.9,0a1,1 0 1,0 -1.9,-0M335.2,409.4a1.1,1.1 0 1,0 2.1,0a1.1,1.1 0 1,0 -2.1,-0M333.2,394.5a.7,.7 0 1,0 1.4,0a.7,.7 0 1,0 -1.4,-0M277.4,401.9a.6,.6 0 1,0 1.2,0a.6,.6 0 1,0 -1.2,-0M373.2,438.8a1.2,1.2 0 1,0 2.4,0a1.2,1.2 0 1,0 -2.4,-0M264.8,385.2a1,1 0 1,0 1.9,0a1,1 0 1,0 -1.9,-0M270.9,351.4a.9,.9 0 1,0 1.8,0a.9,.9 0 1,0 -1.8,-0"/><path fill="#a4a4a4" d="M268.3,438.5a1.5,1.5 0 1,0 3,0a1.5,1.5 0 1,0 -3,-0M261.9,454.3a.6,.6 0 1,0 1.1,0a.6,.6 0 1,0 -1.1,-0M262.6,400a.5,.5 0 1,0 1.1,0a.5,.5 0 1,0 -1.1,-0M321.3,436.2a.9,.9 0 1,0 1.8,0a.9,.9 0 1,0 -1.8,-0M371.3,442.4a1.3,1.3 0 1,0 2.7,0a1.3,1.3 0 1,0 -2.7,-0M364.7,411.2a1.1,1.1 0 1,0 2.1,0a1.1,1.1 0 1,0 -2.1,-0M334.9,384.4a1.2,1.2 0 1,0 2.4,0a1.2,1.2 0 1,0 -2.4,-0M332.2,451.1a.6,.6 0 1,0 1.2,0a.6,.6 0 1,0 -1.2,-0M294.4,386.2a1.1,1.1 0 1,0 2.3,0a1.1,1.1 0 1,0 -2.3,-0M363,356.6a.5,.5 0 1,0 1.1,0a.5,.5 0 1,0 -1.1,-0M305.9,357.5a1.3,1.3 0 1,0 2.6,0a1.3,1.3 0 1,0 -2.6,-0M339.2,442.5a1.3,1.3 0 1,0 2.6,0a1.3,1.3 0 1,0 -2.6,-0M271.9,416a.7,.7 0 1,0 1.5,0a.7,.7 0 1,0 -1.5,-0M335.8,433.5a1.5,1.5 0 1,0 2.9,0a1.5,1.5 0 1,0 -2.9,-0M269.8,367.6a1.1,1.1 0 1,0 2.3,0a1.1,1.1 0 1,0 -2.3,-0M292.2,433.4a1.5,1.5 0 1,0 2.9,0a1.5,1.5 0 1,0 -2.9,-0M309,356.9a.7,.7 0 1,0 1.4,0a.7,.7 0 1,0 -1.4,-0M337.5,393.4a1.1,1.1 0 1,0 2.2,0a1.1,1.1 0 1,0 -2.2,-0M323.7,445.3a1.3,1.3 0 1,0 2.5,0a1.3,1.3 0 1,0 -2.5,-0M281.9,434.9a.5,.5 0 1,0 1.1,0a.5,.5 0 1,0 -1.1,-0M273,377a.6,.6 0 1,0 1.3,0a.6,.6 0 1,0 -1.3,-0M341.6,412.8a1,1 0 1,0 2,0a1,1 0 1,0 -2,-0M305.2,362.9a1,1 0 1,0 2,0a1,1 0 1,0 -2,-0M306.4,374.8a1.4,1.4 0 1,0 2.7,0a1.4,1.4 0 1,0 -2.7,-0M361.5,378.6a.5,.5 0 1,0 1.1,0a.5,.5 0 1,0 -1.1,-0M334.8,386.1a1.5,1.5 0 1,0 3,0a1.5,1.5 0 1,0 -3,-0M363.6,401.2a1,1 0 1,0 2,0a1,1 0 1,0 -2,-0M357.5,441.4a1.4,1.4 0 1,0 2.9,0a1.4,1.4 0 1,0 -2.9,-0M364.4,374.2a.9,.9 0 1,0 1.7,0a.9,.9 0 1,0 -1.7,-0M327.9,393.1a1.3,1.3 0 1,0 2.6,0a1.3,1.3 0 1,0 -2.6,-0M282.5,431.3a.9,.9 0 1,0 1.8,0a.9,.9 0 1,0 -1.8,-0M265.9,439.5a1.1,1.1 0 1,0 2.2,0a1.1,1.1 0 1,0 -2.2,-0M281.2,361.5a1,1 0 1,0 2,0a1,1 0 1,0 -2,-0M287.1,430.8a.5,.5 0 1,0 1.1,0a.5,.5 0 1,0 -1.1,-0M372.1,416.8a1.5,1.5 0 1,0 2.9,0a1.5,1.5 0 1,0 -2.9,-0M338,439.7a.9,.9 0 1,0 1.8,0a.9,.9 0 1,0 -1.8,-0M302.3,411.7a.6,.6 0 1,0 1.3,0a.6,.6 0 1,0 -1.3,-0M298.3,410.2a1.4,1.4 0 1,0 2.9,0a1.4,1.4 0 1,0 -2.9,-0M348.9,402.5a.7,.7 0 1,0 1.5,0a.7,.7 0 1,0 -1.5,-0M292.7,401.7a.6,.6 0 1,0 1.2,0a.6,.6 0 1,0 -1.2,-0M273.8,455.3a1.4,1.4 0 1,0 2.9,0a1.4,1.4 0 1,0 -2.9,-0M331.9,359.5a.9,.9 0 1,0 1.7,0a.9,.9 0 1,0 -1.7,-0M371.2,371.5a.9,.9 0 1,0 1.8,0a.9,.9 0 1,0 -1.8,-0M269.6,383.2a1.1,1.1 0 1,0 2.2,0a1.1,1.1 0 1,0 -2.2,-0M324.4,374.6a1.2,1.2 0 1,0 2.3,0a1.2,1.2 0 1,0 -2.3,-0M359.4,385.8a1.2,1.2 0 1,0 2.3,0a1.2,1.2 0 1,0 -2.3,-0M339.7,350.1a1.2,1.2 0 1,0 2.3,0a1.2,1.2 0 1,0 -2.3,-0M356.1,435a.5,.5 0 1,0 1,0a.5,.5 0 1,0 -1,-0M274.3,406.9a.6,.6 0 1,0 1.2,0a.6,.6 0 1,0 -1.2,-0M289.5,390.8a.6,.6 0 1,0 1.2,0a.6,.6 0 1,0 -1.2,-0M331.2,442.4a1.4,1.4 0 1,0 2.9,0a1.4,1.4 0 1,0 -2.9,-0M332,395.7a.6,.6 0 1,0 1.3,0a.6,.6 0 1,0 -1.3,-0M373.9,440.1a1,1 0 1,0 2.1,0a1,1 0 1,0 -2.1,-0M351.6,399.4a.6,.6 0 1,0 1.1,0a.6,.6 0 1,0 -1.1,-0M304.1,413.4a1.5,1.5 0 1,0 2.9,0a1.5,1.5 0 1,0 -2.9,-0M294.3,373.9a1.5,1.5 0 1,0 3,0a1.5,1.5 0 1,0 -3,-0M313.5,428.5a1,1 0 1,0 2,0a1,1 0 1,0 -2,-0M311.1,358.3a1,1 0 1,0 2,0a1,1 0 1,0 -2,-0M279,425.6a1.5,1.5 0 1,0 3,0a1.5,1.5 0 1,0 -3,-0M358,400.4a1.2,1.2 0 1,0 2.4,0a1.2,1.2 0 1,0 -2.4,-0M310.7,393.3a1.1,1.1 0 1,0 2.3,0a1.1,1.1 0 1,0 -2.3,-0M321.2,387.5a1.1,1.1 0 1,0 2.2,0a1.1,1.1 0 1,0 -2.2,-0M291.6,399.1a.6,.6 0 1,0 1.1,0a.6,.6 0 1,0 -1.1,-0M260.5,398.2a1.2,1.2 0 1,0 2.4,0a1.2,1.2 0 1,0 -2.4,-0M367.5,360.6a.7,.7 0 1,0 1.5,0a.7,.7 0 1,0 -1.5,-0M326.8,378.9a1.2,1.2 0 1,0 2.4,0a1.2,1.2 0 1,0 -2.4,-0M299.5,417.5a1.4,1.4 0 1,0 2.9,0a1.4,1.4 0 1,0 -2.9,-0M369.5,391.2a1.1,1.1 0 1,0 2.2,0a1.1,1.1 0 1,0 -2.2,-0M368.1,430.8a1.4,1.4 0 1,0 2.8,0a1.4,1.4 0 1,0 -2.8,-0M260.6,377.5a1,1 0 1,0 1.9,0a1,1 0 1,0 -1.9,-0M309.6,419.8a1.3,1.3 0 1,0 2.5,0a1.3,1.3 0 1,0 -2.5,-0M355.6,409.1a.9,.9 0 1,0 1.9,0a.9,.9 0 1,0 -1.9,-0M325.1,393.4a1.4,1.4 0 1,0 2.9,0a1.4,1.4 0 1,0 -2.9,-0M294.4,368.2a.6,.6 0 1,0 1.3,0a.6,.6 0 1,0 -1.3,-0M328.1,381.7a1.3,1.3 0 1,0 2.7,0a1.3,1.3 0 1,0 -2.7,-0M374.3,414.3a.5,.5 0 1,0 1.1,0a.5,.5 0 1,0 -1.1,-0M262.7,392.3a1.4,1.4 0 1,0 2.8,0a1.4,1.4 0 1,0 -2.8,-0M306.8,358.9a.5,.5 0 1,0 1,0a.5,.5 0 1,0 -1,-0M371,427.9a1.2,1.2 0 1,0 2.4,0a1.2,1.2 0 1,0 -2.4,-0M264,434.2a1.2,1.2 0 1,0 2.4,0a1.2,1.2 0 1,0 -2.4,-0M295.4,403.2a1.3,1.3 0 1,0 2.6,0a1.3,1.3 0 1,0 -2.6,-0M330.2,387.8a.7,.7 0 1,0 1.4,0a.7,.7 0 1,0 -1.4,-0M366.1,350.1a.5,.5 0 1,0 1.1,0a.5,.5 0 1,0 -1.1,-0M263.5,405.5a1.4,1.4 0 1,0 2.7,0a1.4,1.4 0 1,0 -2.7,-0M269.9,357.3a.6,.6 0 1,0 1.3,0a.6,.6 0 1,0 -1.3,-0M321.3,423.3a.6,.6 0 1,0 1.2,0a.6,.6 0 1,0 -1.2,-0M328.9,420.7a1.1,1.1 0 1,0 2.3,0a1.1,1.1 0 1,0 -2.3,-0M354.5,366.5a1.3,1.3 0 1,0 2.5,0a1.3,1.3 0 1,0 -2.5,-0M260.9,386.7a.9,.9 0 1,0 1.8,0a.9,.9 0 1,0 -1.8,-0M281.6,430.2a.9,.9 0 1,0 1.8,0a.9,.9 0 1,0 -1.8,-0M340.6,360.7a.7,.7 0 1,0 1.4,0a.7,.7 0 1,0 -1.4,-0M358,390.4a.6,.6 0 1,0 1.3,0a.6,.6 0 1,0 -1.3,-0M317.8,434.9a.9,.9 0 1,0 1.9,0a.9,.9 0 1,0 -1.9,-0M302.2,421.6a1.1,1.1 0 1,0 2.2,0a1.1,1.1 0 1,0 -2.2,-0M373.7,415a1.2,1.2 0 1,0 2.4,0a1.2,1.2 0 1,0 -2.4,-0M325,441a.6,.6 0 1,0 1.3,0a.6,.6 0 1,0 -1.3,-0M308.3,351.1a1,1 0 1,0 2,0a1,1 0 1,0 -2,-0M360.6,391.4a1.5,1.5 0 1,0 2.9,0a1.5,1.5 0 1,0 -2.9,-0M321.7,447.7a1.5,1.5 0 1,0 2.9,0a1.5,1.5 0 1,0 -2.9,-0M298.8,426.1a1.1,1.1 0 1,0 2.3,0a1.1,1.1 0 1,0 -2.3,-0M323.3,420.4a1.4,1.4 0 1,0 2.8,0a1.4,1.4 0 1,0 -2.8,-0M287.1,358.1a.9,.9 0 1,0 1.8,0a.9,.9 0 1,0 -1.8,-0M276,400.9a.9,.9 0 1,0 1.8,0a.9,.9 0 1,0 -1.8,-0M302.2,439.6a.6,.6 0 1,0 1.3,0a.6,.6 0 1,0 -1.3,-0M310.3,377.4a.5,.5 0 1,0 1.1,0a.5,.5 0 1,0 -1.1,-0M287.1,453.4a1,1 0 1,0 2.1,0a1,1 0 1,0 -2.1,-0M302.9,431.6a1.4,1.4 0 1,0 2.9,0a1.4,1.4 0 1,0 -2.9,-0M372.5,454.2a.9,.9 0 1,0 1.9,0a.9,.9 0 1,0 -1.9,-0M312.9,439a1,1 0 1,0 1.9,0a1,1 0 1,0 -1.9,-0M350.7,385.3a1.3,1.3 0 1,0 2.6,0a1.3,1.3 0 1,0 -2.6,-0M362.3,396.4a.5,.5 0 1,0 1.1,0a.5,.5 0 1,0 -1.1,-0M362.2,407.8a.9,.9 0 1,0 1.7,0a.9,.9 0 1,0 -1.7,-0M295.3,378.1a1,1 0 1,0 2,0a1,1 0 1,0 -2,-0M272.1,362.3a1.2,1.2 0 1,0 2.4,0a1.2,1.2 0 1,0 -2.4,-0M354.3,402.9a1.1,1.1 0 1,0 2.3,0a1.1,1.1 0 1,0 -2.3,-0M374.8,415.8a.7,.7 0 1,0 1.5,0a.7,.7 0 1,0 -1.5,-0M366.3,407.5a.7,.7 0 1,0 1.5,0a.7,.7 0 1,0 -1.5,-0M331.3,376.5a.8,.8 0 1,0 1.5,0a.8,.8 0 1,0 -1.5,-0M309.7,356.3a.9,.9 0 1,0 1.7,0a.9,.9 0 1,0 -1.7,-0M371.9,364.6a.5,.5 0 1,0 1,0a.5,.5 0 1,0 -1,-0M354,399a.6,.6 0 1,0 1.2,0a.6,.6 0 1,0 -1.2,-0M265.9,445.6a1.1,1.1 0 1,0 2.1,0a1.1,1.1 0 1,0 -2.1,-0M266.4,400.6a1,1 0 1,0 2,0a1,1 0 1,0 -2,-0M339.4,413.7a1.4,1.4 0 1,0 2.8,0a1.4,1.4 0 1,0 -2.8,-0M340,418.1a.7,.7 0 1,0 1.4,0a.7,.7 0 1,0 -1.4,-0M298.3,404.5a1.5,1.5 0 1,0 2.9,0a1.5,1.5 0 1,0 -2.9,-0M267,373.4a.9,.9 0 1,0 1.8,0a.9,.9 0 1,0 -1.8,-0M339,405.1a1,1 0 1,0 2,0a1,1 0 1,0 -2,-0M295.4,368.4a1.4,1.4 0 1,0 2.8,0a1.4,1.4 0 1,0 -2.8,-0M320.3,409.2a1,1 0 1,0 2,0a1,1 0 1,0 -2,-0M307.6,364.2a1.5,1.5 0 1,0 2.9,0a1.5,1.5 0 1,0 -2.9,-0M360.6,420.8a1.4,1.4 0 1,0 2.8,0a1.4,1.4 0 1,0 -2.8,-0M300.5,390.1a.6,.6 0 1,0 1.3,0a.6,.6 0 1,0 -1.3,-0M337.4,363a.9,.9 0 1,0 1.7,0a.9,.9 0 1,0 -1.7,-0M299.4,429.5a1.2,1.2 0 1,0 2.3,0a1.2,1.2 0 1,0 -2.3,-0M297.5,375.2a.6,.6 0 1,0 1.2,0a.6,.6 0 1,0 -1.2,-0M288.1,368.7a1.4,1.4 0 1,0 2.8,0a1.4,1.4 0 1,0 -2.8,-0M276.7,396.2a1.5,1.5 0 1,0 3,0a1.5,1.5 0 1,0 -3,-0M330.3,423a1.1,1.1 0 1,0 2.2,0a1.1,1.1 0 1,0 -2.2,-0M290.4,363.4a1.3,1.3 0 1,0 2.6,0a1.3,1.3 0 1,0 -2.6,-0M308.2,389.9a1,1 0 1,0 2,0a1,1 0 1,0 -2,-0M367.1,427.1a.6,.6 0 1,0 1.1,0a.6,.6 0 1,0 -1.1,-0M313,402.3a.8,.8 0 1,0 1.7,0a.8,.8 0 1,0 -1.7,-0M351,431a.7,.7 0 1,0 1.5,0a.7,.7 0 1,0 -1.5,-0M329.5,402.5a1.2,1.2 0 1,0 2.3,0a1.2,1.2 0 1,0 -2.3,-0M366.9,439.1a1.2,1.2 0 1,0 2.4,0a1.2,1.2 0 1,0 -2.4,-0M282.5,412.8a1.1,1.1 0 1,0 2.1,0a1.1,1.1 0 1,0 -2.1,-0M329.7,367.3a1.3,1.3 0 1,0 2.7,0a1.3,1.3 0 1,0 -2.7,-0M339.2,434.5a1,1 0 1,0 2,0a1,1 0 1,0 -2,-0M267.3,419.1a1.5,1.5 0 1,0 3,0a1.5,1.5 0 1,0 -3,-0M287.4,427.6a.8,.8 0 1,0 1.6,0a.8,.8 0 1,0 -1.6,-0M367.1,415.8a1.4,1.4 0 1,0 2.9,0a1.4,1.4 0 1,0 -2.9,-0M269,352.4a1.4,1.4 0 1,0 2.8,0a1.4,1.4 0 1,0 -2.8,-0M330.3,383.1a1.2,1.2 0 1,0 2.4,0a1.2,1.2 0 1,0 -2.4,-0M282.1,417.9a1.2,1.2 0 1,0 2.5,0a1.2,1.2 0 1,0 -2.5,-0M309.9,448.7a1.5,1.5 0 1,0 3,0a1.5,1.5 0 1,0 -3,-0M297.3,413.4a1,1 0 1,0 2.1,0a1,1 0 1,0 -2.1,-0M353.9,425.6a1.5,1.5 0 1,0 2.9,0a1.5,1.5 0 1,0 -2.9,-0M342.5,448.6a.8,.8 0 1,0 1.6,0a.8,.8 0 1,0 -1.6,-0M300.4,414.7a1.2,1.2 0 1,0 2.4,0a1.2,1.2 0 1,0 -2.4,-0M319,384.1a1.4,1.4 0 1,0 2.8,0a1.4,1.4 0 1,0 -2.8,-0M334.4,434.1a.5,.5 0 1,0 1.1,0a.5,.5 0 1,0 -1.1,-0M355.1,369.7a1,1 0 1,0 2,0a1,1 0 1,0 -2,-0M358.8,380.4a1.4,1.4 0 1,0 2.7,0a1.4,1.4 0 1,0 -2.7,-0M327,447.5a.6,.6 0 1,0 1.1,0a.6,.6 0 1,0 -1.1,-0M335.8,384.5a1,1 0 1,0 1.9,0a1,1 0 1,0 -1.9,-0M279.6,443.6a.9,.9 0 1,0 1.7,0a.9,.9 0 1,0 -1.7,-0M313.5,426.2a1.2,1.2 0 1,0 2.5,0a1.2,1.2 0 1,0 -2.5,-0M321.5,418.5a.7,.7 0 1,0 1.4,0a.7,.7 0 1,0 -1.4,-0M320,358.9a1,1 0 1,0 2.1,0a1,1 0 1,0 -2.1,-0M367.3,438.4a.6,.6 0 1,0 1.1,0a.6,.6 0 1,0 -1.1,-0M369.1,362.2a.8,.8 0 1,0 1.7,0a.8,.8 0 1,0 -1.7,-0M339.8,418.9a1.2,1.2 0 1,0 2.3,0a1.2,1.2 0 1,0 -2.3,-0M327.5,377.8a.6,.6 0 1,0 1.3,0a.6,.6 0 1,0 -1.3,-0M335.7,407.8a.6,.6 0 1,0 1.1,0a.6,.6 0 1,0 -1.1,-0M332.7,362.2a1.4,1.4 0 1,0 2.8,0a1.4,1.4 0 1,0 -2.8,-0M272.9,398.9a1.1,1.1 0 1,0 2.2,0a1.1,1.1 0 1,0 -2.2,-0M349.5,414.9a.8,.8 0 1,0 1.7,0a.8,.8 0 1,0 -1.7,-0M359.5,433.7a1.1,1.1 0 1,0 2.1,0a1.1,1.1 0 1,0 -2.1,-0M306.1,352.6a.9,.9 0 1,0 1.7,0a.9,.9 0 1,0 -1.7,-0M319,366.8a1.1,1.1 0 1,0 2.2,0a1.1,1.1 0 1,0 -2.2,-0M321.3,432a1.1,1.1 0 1,0 2.2,0a1.1,1.1 0 1,0 -2.2,-0M274.6,439.8a1.4,1.4 0 1,0 2.7,0a1.4,1.4 0 1,0 -2.7,-0M319.4,442.4a.5,.5 0 1,0 1,0a.5,.5 0 1,0 -1,-0M359.4,398.1a.9,.9 0 1,0 1.8,0a.9,.9 0 1,0 -1.8,-0M285.6,423.8a.8,.8 0 1,0 1.7,0a.8,.8 0 1,0 -1.7,-0M333.4,367.3a.7,.7 0 1,0 1.3,0a.7,.7 0 1,0 -1.3,-0M353,439.8a.6,.6 0 1,0 1.2,0a.6,.6 0 1,0 -1.2,-0M310,442.6a1.5,1.5 0 1,0 3,0a1.5,1.5 0 1,0 -3,-0M327.6,424a1.4,1.4 0 1,0 2.9,0a1.4,1.4 0 1,0 -2.9,-0M312,384.5a.6,.6 0 1,0 1.3,0a.6,.6 0 1,0 -1.3,-0M306.4,372.4a.6,.6 0 1,0 1.2,0a.6,.6 0 1,0 -1.2,-0M333.2,400.5a1.4,1.4 0 1,0 2.8,0a1.4,1.4 0 1,0 -2.8,-0M316,391.8a1.3,1.3 0 1,0 2.6,0a1.3,1.3 0 1,0 -2.6,-0M279.1,393.6a.7,.7 0 1,0 1.5,0a.7,.7 0 1,0 -1.5,-0M306.4,350.6a1.1,1.1 0 1,0 2.2,0a1.1,1.1 0 1,0 -2.2,-0M284.7,359.1a.8,.8 0 1,0 1.6,0a.8,.8 0 1,0 -1.6,-0M307.5,432.3a1.3,1.3 0 1,0 2.5,0a1.3,1.3 0 1,0 -2.5,-0M368.2,370.7a1,1 0 1,0 2,0a1,1 0 1,0 -2,-0M316,386.4a1.3,1.3 0 1,0 2.5,0a1.3,1.3 0 1,0 -2.5,-0M329.8,412.6a1.5,1.5 0 1,0 2.9,0a1.5,1.5 0 1,0 -2.9,-0M314.8,365.6a1.1,1.1 0 1,0 2.1,0a1.1,1.1 0 1,0 -2.1,-0M341.3,438.6a.5,.5 0 1,0 1,0a.5,.5 0 1,0 -1,-0M368.1,416.3a1.4,1.4 0 1,0 2.8,0a1.4,1.4 0 1,0 -2.8,-0M323.4,356.6a.5,.5 0 1,0 1,0a.5,.5 0 1,0 -1,-0M286.4,363.6a.8,.8 0 1,0 1.5,0a.8,.8 0 1,0 -1.5,-0M350.5,356a1.1,1.1 0 1,0 2.2,0a1.1,1.1 0 1,0 -2.2,-0M260.1,353.7a1.2,1.2 0 1,0 2.5,0a1.2,1.2 0 1,0 -2.5,-0M350.9,385.5a1.4,1.4 0 1,0 2.8,0a1.4,1.4 0 1,0 -2.8,-0M339.5,408.8a.6,.6 0 1,0 1.2,0a.6,.6 0 1,0 -1.2,-0M309.3,436.9a1.3,1.3 0 1,0 2.7,0a1.3,1.3 0 1,0 -2.7,-0M371,414.4a.7,.7 0 1,0 1.5,0a.7,.7 0 1,0 -1.5,-0M299.4,359.7a1.5,1.5 0 1,0 2.9,0a1.5,1.5 0 1,0 -2.9,-0M352,446a1,1 0 1,0 2.1,0a1,1 0 1,0 -2.1,-0M264.3,356.8a.7,.7 0 1,0 1.5,0a.7,.7 0 1,0 -1.5,-0M265.5,357a1,1 0 1,0 1.9,0a1,1 0 1,0 -1.9,-0M350.6,430.1a1,1 0 1,0 2,0a1,1 0 1,0 -2,-0M323.9,433.7a1,1 0 1,0 2,0a1,1 0 1,0 -2,-0M335.7,396.4a.6,.6 0 1,0 1.3,0a.6,.6 0 1,0 -1.3,-0M337.4,352.2a1.1,1.1 0 1,0 2.2,0a1.1,1.1 0 1,0 -2.2,-0M287.5,447.2a.9,.9 0 1,0 1.7,0a.9,.9 0 1,0 -1.7,-0M270.7,451.9a1.1,1.1 0 1,0 2.3,0a1.1,1.1 0 1,0 -2.3,-0M314.8,370.2a1.2,1.2 0 1,0 2.3,0a1.2,1.2 0 1,0 -2.3,-0M366.8,381.6a1.1,1.1 0 1,0 2.3,0a1.1,1.1 0 1,0 -2.3,-0M323.9,451.5a1.5,1.5 0 1,0 2.9,0a1.5,1.5 0 1,0 -2.9,-0M368.1,387.2a1.1,1.1 0 1,0 2.3,0a1.1,1.1 0 1,0 -2.3,-0M322,369.1a1.1,1.1 0 1,0 2.3,0a1.1,1.1 0 1,0 -2.3,-0M329,412.4a.6,.6 0 1,0 1.2,0a.6,.6 0 1,0 -1.2,-0M293.3,452.6a.6,.6 0 1,0 1.1,0a.6,.6 0 1,0 -1.1,-0M365.2,450.8a1.2,1.2 0 1,0 2.4,0a1.2,1.2 0 1,0 -2.4,-0M278.4,413.5a.7,.7 0 1,0 1.4,0a.7,.7 0 1,0 -1.4,-0M321,373.4a1.3,1.3 0 1,0 2.6,0a1.3,1.3 0 1,0 -2.6,-0M298.8,380.6a.6,.6 0 1,0 1.2,0a.6,.6 0 1,0 -1.2,-0M324,422.1a1.4,1.4 0 1,0 2.8,0a1.4,1.4 0 1,0 -2.8,-0M339.8,396.7a.7,.7 0 1,0 1.3,0a.7,.7 0 1,0 -1.3,-0M341.3,398a.9,.9 0 1,0 1.8,0a.9,.9 0 1,0 -1.8,-0M369.3,455.1a1,1 0 1,0 2.1,0a1,1 0 1,0 -2.1,-0M293.8,455.7a1.5,1.5 0 1,0 2.9,0a1.5,1.5 0 1,0 -2.9,-0M360.7,359.6a1.1,1.1 0 1,0 2.1,0a1.1,1.1 0 1,0 -2.1,-0M291.6,382.7a1,1 0 1,0 2,0a1,1 0 1,0 -2,-0M316.5,393.3a.5,.5 0 1,0 1.1,0a.5,.5 0 1,0 -1.1,-0M328.2,356.6a1.5,1.5 0 1,0 3,0a1.5,1.5 0 1,0 -3,-0M340.9,444.5a.9,.9 0 1,0 1.8,0a.9,.9 0 1,0 -1.8,-0M340,393.6a.7,.7 0 1,0 1.3,0a.7,.7 0 1,0 -1.3,-0M332.4,362.2a1.1,1.1 0 1,0 2.1,0a1.1,1.1 0 1,0 -2.1,-0M296,426.4a1.3,1.3 0 1,0 2.5,0a1.3,1.3 0 1,0 -2.5,-0M264,387.6a1.5,1.5 0 1,0 2.9,0a1.5,1.5 0 1,0 -2.9,-0M333.6,450.5a1.2,1.2 0 1,0 2.4,0a1.2,1.2 0 1,0 -2.4,-0M320.9,351.2a1,1 0 1,0 1.9,0a1,1 0 1,0 -1.9,-0M290.7,419.1a1.1,1.1 0 1,0 2.2,0a1.1,1.1 0 1,0 -2.2,-0M372.1,454.8a1.3,1.3 0 1,0 2.6,0a1.3,1.3 0 1,0 -2.6,-0M324.4,400.1a.6,.6 0 1,0 1.3,0a.6,.6 0 1,0 -1.3,-0M348.8,448.2a.5,.5 0 1,0 1.1,0a.5,.5 0 1,0 -1.1,-0M328.6,348a.9,.9 0 1,0 1.9,0a.9,.9 0 1,0 -1.9,-0M359.6,415.2a1,1 0 1,0 2,0a1,1 0 1,0 -2,-0M374.7,433.6a.6,.6 0 1,0 1.2,0a.6,.6 0 1,0 -1.2,-0M308.6,435a1,1 0 1,0 2,0a1,1 0 1,0 -2,-0M363.9,420.9a.5,.5 0 1,0 1.1,0a.5,.5 0 1,0 -1.1,-0M286.7,442.7a.6,.6 0 1,0 1.2,0a.6,.6 0 1,0 -1.2,-0M262.9,424.2a.7,.7 0 1,0 1.4,0a.7,.7 0 1,0 -1.4,-0"/></g>
<path d="M300.0,340.0 C310.8,338.6 366.7,336.3 380.0,340.0 C393.3,343.7 382.3,358.9 380.0,362.0 C377.7,365.1 369.5,359.4 366.0,358.5 C362.5,357.6 361.5,356.9 358.8,356.5 C356.1,356.1 352.3,356.4 349.6,356.0 C346.9,355.6 344.6,355.1 342.7,354.2 C340.8,353.3 339.6,351.6 338.1,350.8 C336.6,350.0 335.4,350.0 333.5,349.6 C331.6,349.2 328.4,348.5 326.5,348.5 C324.6,348.5 323.8,349.6 321.9,349.6 C320.0,349.6 318.6,350.1 315.0,348.5 C311.4,346.9 289.2,341.4 300.0,340.0 Z" fill="#d6d6d6" stroke="none" stroke-width="1" filter="url(#b07)"/>
<path d="M261.0,365.4 C262.4,359.9 266.3,363.4 269.5,363.1 C272.7,362.8 277.5,363.1 280.0,363.7 C282.5,364.3 283.0,365.1 284.5,366.5 C286.0,367.9 287.3,370.5 289.0,372.3 C290.7,374.1 292.7,375.6 294.5,377.2 C296.3,378.8 298.5,380.2 300.0,382.0 C301.5,383.8 302.7,386.0 303.5,388.0 C304.3,390.0 304.2,392.1 305.0,394.0 C305.8,395.9 307.1,397.8 308.0,399.5 C308.9,401.2 310.1,402.4 310.5,404.0 C310.9,405.6 311.6,407.9 310.5,409.2 C309.4,410.4 307.2,411.1 304.2,411.5 C301.2,411.9 296.5,411.9 292.6,411.5 C288.7,411.1 284.5,410.5 281.0,409.2 C277.5,407.9 274.1,405.4 271.8,403.5 C269.5,401.6 269.0,398.9 267.2,397.7 C265.4,396.4 262.0,401.4 261.0,396.0 C260.0,390.6 259.6,370.9 261.0,365.4 Z" fill="#828282" stroke="#4a4a4a" stroke-width="1.0" filter="url(#b07)"/>
<clipPath id="cpN1"><path d="M261.0,365.4 C262.4,359.9 266.3,363.4 269.5,363.1 C272.7,362.8 277.5,363.1 280.0,363.7 C282.5,364.3 283.0,365.1 284.5,366.5 C286.0,367.9 287.3,370.5 289.0,372.3 C290.7,374.1 292.7,375.6 294.5,377.2 C296.3,378.8 298.5,380.2 300.0,382.0 C301.5,383.8 302.7,386.0 303.5,388.0 C304.3,390.0 304.2,392.1 305.0,394.0 C305.8,395.9 307.1,397.8 308.0,399.5 C308.9,401.2 310.1,402.4 310.5,404.0 C310.9,405.6 311.6,407.9 310.5,409.2 C309.4,410.4 307.2,411.1 304.2,411.5 C301.2,411.9 296.5,411.9 292.6,411.5 C288.7,411.1 284.5,410.5 281.0,409.2 C277.5,407.9 274.1,405.4 271.8,403.5 C269.5,401.6 269.0,398.9 267.2,397.7 C265.4,396.4 262.0,401.4 261.0,396.0 C260.0,390.6 259.6,370.9 261.0,365.4 Z"/></clipPath><g clip-path="url(#cpN1)">
<ellipse cx="267.0" cy="380.0" rx="9.0" ry="14.0" transform="rotate(0 267.0 380.0)" fill="#6f6f6f" stroke="none" stroke-width="0.8" filter="url(#b2)"/>
<ellipse cx="287.0" cy="390.0" rx="7.0" ry="18.0" transform="rotate(-30 287.0 390.0)" fill="#9c9c9c" stroke="none" stroke-width="0.8" filter="url(#b2)"/>
<ellipse cx="303.0" cy="402.0" rx="9.0" ry="8.0" transform="rotate(0 303.0 402.0)" fill="#727272" stroke="none" stroke-width="0.8" filter="url(#b2)"/>
</g>
<ellipse cx="266.0" cy="404.0" rx="3.5" ry="3.5" transform="rotate(0 266.0 404.0)" fill="#9a9a9a" stroke="#5e5e5e" stroke-width="0.7"/>
<path d="M296.0,358.5 C296.6,356.6 298.3,356.1 300.0,355.4 C301.7,354.7 303.3,354.2 306.0,354.2 C308.7,354.2 312.8,354.9 316.0,355.5 C319.2,356.1 322.5,356.9 325.0,358.0 C327.5,359.1 329.4,360.3 331.0,362.0 C332.6,363.7 333.8,365.7 334.5,368.0 C335.2,370.3 335.2,373.3 335.0,376.0 C334.8,378.7 334.0,381.5 333.0,384.0 C332.0,386.5 330.3,388.8 329.0,391.0 C327.7,393.2 326.3,395.3 325.0,397.0 C323.7,398.7 322.5,400.2 321.0,401.0 C319.5,401.8 317.5,402.0 316.0,401.5 C314.5,401.0 313.2,399.7 312.0,398.0 C310.8,396.3 309.7,394.0 308.5,391.5 C307.3,389.0 306.4,385.6 305.0,383.0 C303.6,380.4 301.4,378.7 300.0,376.0 C298.6,373.3 297.2,369.9 296.5,367.0 C295.8,364.1 295.4,360.4 296.0,358.5 Z" fill="#888888" stroke="#4a4a4a" stroke-width="1.0" filter="url(#b07)"/>
<path d="M303.0,362.0 C304.5,360.0 309.2,359.7 312.0,360.0 C314.8,360.3 318.3,361.5 320.0,364.0 C321.7,366.5 322.3,371.0 322.0,375.0 C321.7,379.0 319.7,385.2 318.0,388.0 C316.3,390.8 314.0,392.5 312.0,392.0 C310.0,391.5 307.5,388.3 306.0,385.0 C304.5,381.7 303.5,375.8 303.0,372.0 C302.5,368.2 301.5,364.0 303.0,362.0 Z" fill="#a3a3a3" stroke="none" stroke-width="1" filter="url(#b2)"/>
<path d="M312.0,392.0 C312.7,390.7 319.3,392.7 322.0,392.0 C324.7,391.3 327.3,387.0 328.0,388.0 C328.7,389.0 327.7,396.0 326.0,398.0 C324.3,400.0 320.3,401.0 318.0,400.0 C315.7,399.0 311.3,393.3 312.0,392.0 Z" fill="#7a7a7a" stroke="none" stroke-width="1" filter="url(#b2)"/>
<path d="M284.0,422.0 C284.8,419.7 287.3,417.5 290.0,416.0 C292.7,414.5 295.8,413.6 300.0,413.0 C304.2,412.4 310.3,412.3 315.0,412.5 C319.7,412.7 324.2,413.2 328.0,414.0 C331.8,414.8 335.8,415.7 338.0,417.0 C340.2,418.3 341.2,419.8 341.5,422.0 C341.8,424.2 341.4,427.7 340.0,430.0 C338.6,432.3 336.3,434.4 333.0,436.0 C329.7,437.6 325.5,438.9 320.0,439.5 C314.5,440.1 305.0,440.1 300.0,439.5 C295.0,438.9 292.5,437.6 290.0,436.0 C287.5,434.4 286.0,432.3 285.0,430.0 C284.0,427.7 283.2,424.3 284.0,422.0 Z" fill="#898989" stroke="#4a4a4a" stroke-width="1.0" filter="url(#b07)"/>
<path d="M295.0,420.0 C297.0,418.0 303.5,417.2 308.0,417.0 C312.5,416.8 318.3,417.7 322.0,419.0 C325.7,420.3 330.0,422.8 330.0,425.0 C330.0,427.2 326.0,430.7 322.0,432.0 C318.0,433.3 310.3,433.5 306.0,433.0 C301.7,432.5 297.8,431.2 296.0,429.0 C294.2,426.8 293.0,422.0 295.0,420.0 Z" fill="#a4a4a4" stroke="none" stroke-width="1" filter="url(#b2)"/>
<ellipse cx="345.6" cy="408.4" rx="8.3" ry="7.3" transform="rotate(0 345.6 408.4)" fill="#666666" stroke="#4a4a4a" stroke-width="0.6" filter="url(#b07)"/>
<path d="M356.0,404.0 C356.8,401.5 358.0,398.7 360.0,397.0 C362.0,395.3 365.3,394.3 368.0,394.0 C370.7,393.7 374.7,388.3 376.0,395.0 C377.3,401.7 377.0,427.7 376.0,434.0 C375.0,440.3 372.3,433.8 370.0,433.0 C367.7,432.2 364.2,431.0 362.0,429.0 C359.8,427.0 358.2,423.8 357.0,421.0 C355.8,418.2 355.2,414.8 355.0,412.0 C354.8,409.2 355.2,406.5 356.0,404.0 Z" fill="#6c6c6c" stroke="#4a4a4a" stroke-width="0.8" filter="url(#b07)"/>
<path d="M358.0,347.0 C361.0,344.0 373.0,343.5 376.0,352.0 C379.0,360.5 377.7,390.7 376.0,398.0 C374.3,405.3 368.7,397.7 366.0,396.0 C363.3,394.3 361.3,392.3 360.0,388.0 C358.7,383.7 358.3,376.8 358.0,370.0 C357.7,363.2 355.0,350.0 358.0,347.0 Z" fill="#888888" stroke="none" stroke-width="1" filter="url(#b2)" opacity="0.6"/>
<path d="M261.0,410.0 C262.8,402.5 268.5,409.7 272.0,411.0 C275.5,412.3 279.8,414.8 282.0,418.0 C284.2,421.2 283.7,426.3 285.0,430.0 C286.3,433.7 288.2,435.7 290.0,440.0 C291.8,444.3 300.8,453.3 296.0,456.0 C291.2,458.7 266.8,463.7 261.0,456.0 C255.2,448.3 259.2,417.5 261.0,410.0 Z" fill="#777777" stroke="none" stroke-width="1" filter="url(#b2)"/>
<path d="M261.0,435.0 C263.3,432.3 271.0,436.5 275.0,440.0 C279.0,443.5 287.3,453.3 285.0,456.0 C282.7,458.7 265.0,459.5 261.0,456.0 C257.0,452.5 258.7,437.7 261.0,435.0 Z" fill="#6a6a6a" stroke="none" stroke-width="1" filter="url(#b2)"/>
<ellipse cx="349.0" cy="369.2" rx="4.2" ry="4.2" transform="rotate(0 349.0 369.2)" fill="#666666" stroke="none" stroke-width="0.8" filter="url(#b07)"/>
<ellipse cx="343.8" cy="375.0" rx="7.0" ry="3.3" transform="rotate(30 343.8 375.0)" fill="#7a7a7a" stroke="#bdbdbd" stroke-width="0.5"/>
<ellipse cx="337.0" cy="365.8" rx="6.0" ry="3.6" transform="rotate(20 337.0 365.8)" fill="#8a8a8a" stroke="none" stroke-width="0.8" filter="url(#b07)"/>
<ellipse cx="270.4" cy="357.7" rx="2.8" ry="2.6" transform="rotate(0 270.4 357.7)" fill="#8a8a8a" stroke="#b8b8b8" stroke-width="0.5"/>
<ellipse cx="282.0" cy="354.2" rx="3.5" ry="3.0" transform="rotate(0 282.0 354.2)" fill="#858585" stroke="none" stroke-width="0.8" filter="url(#b07)"/>
<ellipse cx="352.0" cy="439.0" rx="3.5" ry="2.0" transform="rotate(0 352.0 439.0)" fill="#c8c8c8" stroke="none" stroke-width="0.8" filter="url(#b07)"/>
<ellipse cx="322.0" cy="385.0" rx="2.4" ry="2.0" transform="rotate(0 322.0 385.0)" fill="#9a9a9a" stroke="#c0c0c0" stroke-width="0.5"/>
<rect x="261.5" y="348" width="113.5" height="107.5" fill="#000" filter="url(#tex)" opacity="0.14"/>
</g>
<rect x="328.6" y="359.5" width="36.2" height="24.9" fill="none" stroke="#f4f4f4" stroke-width="1"/>
<text x="275.40" y="388.60" font-size="8.40" fill="#f2f2f2" stroke="#f2f2f2" stroke-width="0.15">N</text>
<text x="312.30" y="375.30" font-size="8.40" fill="#f2f2f2" stroke="#f2f2f2" stroke-width="0.15">N</text>
<text x="304.20" y="427.70" font-size="8.40" fill="#f2f2f2" stroke="#f2f2f2" stroke-width="0.15">N</text>
<text x="343.10" y="411.00" font-size="8.40" fill="#f2f2f2" stroke="#f2f2f2" stroke-width="0.15">N</text>
<text x="364.50" y="421.40" font-size="8.40" fill="#f2f2f2" stroke="#f2f2f2" stroke-width="0.15">N</text>
<text x="348.50" y="450.60" font-size="6.72" fill="#111" textLength="22.00" lengthAdjust="spacingAndGlyphs" stroke="#111" stroke-width="0.15">700 nm</text>
<line x1="350.50" y1="453.20" x2="371.50" y2="453.20" stroke="#111" stroke-width="1.2"/>
<text x="172.50" y="342.10" font-size="9.60" fill="#111" textLength="18.70" lengthAdjust="spacingAndGlyphs" stroke="#111" stroke-width="0.15">Trib1</text>
<text x="191.80" y="339.50" font-size="6.72" fill="#111" textLength="11.00" lengthAdjust="spacingAndGlyphs" stroke="#111" stroke-width="0.15">+/+</text>
<text x="299.80" y="342.10" font-size="9.60" fill="#111" textLength="18.50" lengthAdjust="spacingAndGlyphs" stroke="#111" stroke-width="0.15">Trib1</text>
<text x="318.90" y="339.50" font-size="6.72" fill="#111" textLength="17.30" lengthAdjust="spacingAndGlyphs" stroke="#111" stroke-width="0.15">ΔHSC</text>
<g clip-path="url(#cpK)">
<rect x="130.00" y="504.60" width="231.80" height="152.60" fill="#cbcbcb"/>
<rect x="310" y="504.6" width="52" height="60" fill="#d8d8d8" filter="url(#b4)"/>
<rect x="130" y="560" width="20" height="100" fill="#c6c6c6" filter="url(#b4)"/>
<path d="M128.0,502.0 C138.0,493.7 177.9,501.7 187.9,502.0 C197.9,502.3 188.0,503.1 187.9,504.0 C187.8,504.9 188.0,506.4 187.2,507.4 C186.4,508.3 184.5,509.1 183.2,509.8 C181.8,510.5 180.0,510.9 179.1,511.7 C178.2,512.5 177.9,513.5 177.8,514.8 C177.7,516.1 178.1,517.9 178.5,519.5 C178.8,521.1 179.8,523.0 179.8,524.2 C179.8,525.4 179.1,526.7 178.5,526.9 C177.8,527.1 176.7,526.2 175.8,525.6 C174.9,524.9 173.9,523.4 173.1,522.9 C172.3,522.3 171.5,522.0 170.8,522.2 C170.1,522.3 169.5,522.9 169.0,523.8 C168.6,524.7 168.1,526.5 168.4,527.6 C168.7,528.7 170.7,529.8 170.8,530.5 C170.9,531.3 169.8,531.9 169.0,531.9 C168.3,531.8 167.1,531.1 166.4,530.3 C165.6,529.4 165.2,527.7 164.3,526.9 C163.4,526.1 162.2,525.9 161.0,525.6 C159.7,525.2 158.3,524.7 156.9,524.6 C155.6,524.5 153.9,524.5 152.9,524.9 C151.9,525.3 151.3,525.9 151.1,526.9 C151.0,527.9 151.5,529.4 152.2,530.9 C153.0,532.5 154.6,534.7 155.6,536.3 C156.5,538.0 157.8,539.8 157.9,540.8 C157.9,541.8 156.8,542.4 156.0,542.4 C155.2,542.3 154.0,541.5 152.9,540.4 C151.8,539.2 150.8,537.2 149.5,535.6 C148.3,534.1 146.6,531.9 145.5,530.9 C144.4,529.9 143.6,529.4 142.8,529.6 C142.0,529.8 141.3,530.9 140.8,532.3 C140.3,533.6 140.0,535.5 139.8,537.7 C139.7,539.8 140.0,542.9 139.8,545.1 C139.7,547.2 139.4,549.3 138.8,550.5 C138.1,551.6 137.9,551.8 136.1,552.1 C134.3,552.3 129.3,560.4 128.0,552.1 C126.7,543.7 118.0,510.3 128.0,502.0 Z" fill="#878787" stroke="none" stroke-width="1" filter="url(#b07)"/>
<ellipse cx="131.0" cy="506.0" rx="9.0" ry="8.0" transform="rotate(0 131.0 506.0)" fill="#4e4e4e" stroke="none" stroke-width="0.8" filter="url(#b4)"/>
<ellipse cx="140.0" cy="510.0" rx="12.0" ry="7.0" transform="rotate(0 140.0 510.0)" fill="#6e6e6e" stroke="none" stroke-width="0.8" filter="url(#b4)" opacity="0.7"/>
<path d="M192.5,523.1 C193.7,520.9 194.0,519.9 196.2,518.3 C198.4,516.7 202.3,514.8 205.9,513.4 C209.5,512.0 213.7,511.1 218.0,510.0 C222.3,508.9 227.7,507.1 232.0,507.0 C236.3,506.9 240.8,509.8 244.0,509.7 C247.2,509.6 248.1,506.9 251.3,506.1 C254.6,505.3 259.9,505.0 263.5,504.9 C267.1,504.8 271.0,504.6 273.2,505.4 C275.4,506.2 275.7,508.2 276.9,509.7 C278.1,511.2 279.1,513.0 280.5,514.6 C281.9,516.2 283.4,518.3 285.4,519.5 C287.4,520.7 289.9,522.1 292.7,521.9 C295.5,521.7 299.1,519.5 302.4,518.3 C305.6,517.1 308.9,515.4 312.2,514.6 C315.4,513.8 319.1,513.0 321.9,513.4 C324.7,513.8 327.2,515.2 329.2,517.0 C331.2,518.8 332.7,521.0 334.1,524.3 C335.5,527.5 336.5,532.4 337.7,536.5 C338.9,540.6 340.0,545.1 341.4,548.7 C342.8,552.4 344.6,555.1 346.2,558.4 C347.8,561.6 349.5,565.0 351.1,568.2 C352.7,571.5 354.4,573.9 356.0,577.9 C357.6,581.9 359.6,585.5 360.8,592.5 C362.0,599.5 362.6,608.8 363.0,620.0 C363.4,631.2 398.7,653.3 363.0,660.0 C327.3,666.7 184.2,661.5 148.7,660.0 C113.2,658.5 149.5,654.9 149.9,650.9 C150.3,646.9 150.5,640.8 151.1,636.3 C151.7,631.8 153.0,627.8 153.6,624.1 C154.2,620.5 155.2,617.2 154.8,614.4 C154.4,611.6 151.9,609.9 151.1,607.1 C150.3,604.3 149.9,600.6 149.9,597.4 C149.9,594.1 150.3,590.5 151.1,587.6 C151.9,584.8 153.0,582.7 154.8,580.3 C156.6,577.9 159.9,575.4 162.1,573.0 C164.3,570.6 166.6,568.5 168.2,565.7 C169.8,562.9 170.4,558.8 171.8,556.0 C173.2,553.2 174.9,551.1 176.7,548.7 C178.5,546.3 180.8,544.2 182.8,541.4 C184.8,538.5 187.2,534.6 188.8,531.6 C190.4,528.6 191.3,525.3 192.5,523.1 Z" fill="#b9b9b9" stroke="none" stroke-width="1" filter="url(#b07)"/>
<clipPath id="cpKC"><path d="M192.5,523.1 C193.7,520.9 194.0,519.9 196.2,518.3 C198.4,516.7 202.3,514.8 205.9,513.4 C209.5,512.0 213.7,511.1 218.0,510.0 C222.3,508.9 227.7,507.1 232.0,507.0 C236.3,506.9 240.8,509.8 244.0,509.7 C247.2,509.6 248.1,506.9 251.3,506.1 C254.6,505.3 259.9,505.0 263.5,504.9 C267.1,504.8 271.0,504.6 273.2,505.4 C275.4,506.2 275.7,508.2 276.9,509.7 C278.1,511.2 279.1,513.0 280.5,514.6 C281.9,516.2 283.4,518.3 285.4,519.5 C287.4,520.7 289.9,522.1 292.7,521.9 C295.5,521.7 299.1,519.5 302.4,518.3 C305.6,517.1 308.9,515.4 312.2,514.6 C315.4,513.8 319.1,513.0 321.9,513.4 C324.7,513.8 327.2,515.2 329.2,517.0 C331.2,518.8 332.7,521.0 334.1,524.3 C335.5,527.5 336.5,532.4 337.7,536.5 C338.9,540.6 340.0,545.1 341.4,548.7 C342.8,552.4 344.6,555.1 346.2,558.4 C347.8,561.6 349.5,565.0 351.1,568.2 C352.7,571.5 354.4,573.9 356.0,577.9 C357.6,581.9 359.6,585.5 360.8,592.5 C362.0,599.5 362.6,608.8 363.0,620.0 C363.4,631.2 398.7,653.3 363.0,660.0 C327.3,666.7 184.2,661.5 148.7,660.0 C113.2,658.5 149.5,654.9 149.9,650.9 C150.3,646.9 150.5,640.8 151.1,636.3 C151.7,631.8 153.0,627.8 153.6,624.1 C154.2,620.5 155.2,617.2 154.8,614.4 C154.4,611.6 151.9,609.9 151.1,607.1 C150.3,604.3 149.9,600.6 149.9,597.4 C149.9,594.1 150.3,590.5 151.1,587.6 C151.9,584.8 153.0,582.7 154.8,580.3 C156.6,577.9 159.9,575.4 162.1,573.0 C164.3,570.6 166.6,568.5 168.2,565.7 C169.8,562.9 170.4,558.8 171.8,556.0 C173.2,553.2 174.9,551.1 176.7,548.7 C178.5,546.3 180.8,544.2 182.8,541.4 C184.8,538.5 187.2,534.6 188.8,531.6 C190.4,528.6 191.3,525.3 192.5,523.1 Z"/></clipPath>
<g clip-path="url(#cpKC)">
<ellipse cx="185" cy="602" rx="10" ry="8" fill="#8a8a8a" filter="url(#b4)"/>
<ellipse cx="170" cy="625" rx="8" ry="8" fill="#9a9a9a" filter="url(#b4)"/>
<g stroke="#808080" stroke-width="0.4"><path fill="#a2a2a2" d="M284.6,506.4a1.6,1.6 18 1,0 3,1a1.6,1.6 18 1,0 -3,-1M206.8,637.1a2.8,2.2 61 1,0 2.7,4.8a2.8,2.2 61 1,0 -2.7,-4.8M344.4,589.5a2.7,2.1 71 1,0 1.7,5a2.7,2.1 71 1,0 -1.7,-5M345.8,573.1a2,1.5 97 1,0 -.5,3.9a2,1.5 97 1,0 .5,-3.9M301.2,615a2.9,2.5 19 1,0 5.5,1.9a2.9,2.5 19 1,0 -5.5,-1.9M284.5,633.9a1.9,1.9 137 1,0 -2.8,2.6a1.9,1.9 137 1,0 2.8,-2.6M174.2,559.2a2.2,2.2 158 1,0 -4.1,1.6a2.2,2.2 158 1,0 4.1,-1.6M343.5,636.6a1.4,1.3 87 1,0 .1,2.8a1.4,1.3 87 1,0 -.1,-2.8M361.3,588.9a2.2,2.1 39 1,0 3.4,2.8a2.2,2.1 39 1,0 -3.4,-2.8M291.5,550.8a1.9,1.5 54 1,0 2.3,3.1a1.9,1.5 54 1,0 -2.3,-3.1M357.1,507.4a2.1,1.7 64 1,0 1.8,3.7a2.1,1.7 64 1,0 -1.8,-3.7M266.5,638a3.4,2.5 43 1,0 5,4.6a3.4,2.5 43 1,0 -5,-4.6M319.6,610.2a2.7,2.4 13 1,0 5.3,1.2a2.7,2.4 13 1,0 -5.3,-1.2M248.5,642.3a2.8,2.2 51 1,0 3.5,4.3a2.8,2.2 51 1,0 -3.5,-4.3M290.1,599.2a1.7,1.3 40 1,0 2.5,2.1a1.7,1.3 40 1,0 -2.5,-2.1M301,563.2a2.1,1.7 1 1,0 4.3,.1a2.1,1.7 1 1,0 -4.3,-.1M256.8,631a2.5,1.9 85 1,0 .4,4.9a2.5,1.9 85 1,0 -.4,-4.9M222.8,609.1a2.3,1.7 166 1,0 -4.4,1.1a2.3,1.7 166 1,0 4.4,-1.1M155.7,540.1a2,2 121 1,0 -2.1,3.5a2,2 121 1,0 2.1,-3.5M324.3,595.4a2.1,1.6 16 1,0 4.1,1.2a2.1,1.6 16 1,0 -4.1,-1.2M222.7,573.3a1.6,1.6 35 1,0 2.6,1.8a1.6,1.6 35 1,0 -2.6,-1.8M208.2,517.5a1.6,1.5 54 1,0 1.9,2.6a1.6,1.5 54 1,0 -1.9,-2.6M254.6,591.5a2.1,2.1 101 1,0 -.8,4.2a2.1,2.1 101 1,0 .8,-4.2M281.8,544.2a1.3,1.3 14 1,0 2.6,.6a1.3,1.3 14 1,0 -2.6,-.6M347.9,624.4a2.3,2 98 1,0 -.6,4.5a2.3,2 98 1,0 .6,-4.5M237,552.2a1.5,1.3 125 1,0 -1.7,2.4a1.5,1.3 125 1,0 1.7,-2.4M217.4,504.5a2.4,1.7 164 1,0 -4.7,1.3a2.4,1.7 164 1,0 4.7,-1.3M229.2,645.8a2.5,1.9 50 1,0 3.2,3.8a2.5,1.9 50 1,0 -3.2,-3.8M298.3,630.2a2,1.7 7 1,0 4,.5a2,1.7 7 1,0 -4,-.5M204.7,620.8a2.7,2.2 163 1,0 -5.2,1.6a2.7,2.2 163 1,0 5.2,-1.6M344.7,552.6a1.8,1.7 97 1,0 -.4,3.5a1.8,1.7 97 1,0 .4,-3.5M360,585a2.5,2.4 148 1,0 -4.3,2.7a2.5,2.4 148 1,0 4.3,-2.7M326.2,649.2a1.6,1.3 112 1,0 -1.1,2.9a1.6,1.3 112 1,0 1.1,-2.9M353.2,546.5a2.4,2.1 171 1,0 -4.8,.7a2.4,2.1 171 1,0 4.8,-.7M193.4,534.9a2.1,1.6 107 1,0 -1.3,4.1a2.1,1.6 107 1,0 1.3,-4.1M333.1,523.6a2,1.7 3 1,0 4,.2a2,1.7 3 1,0 -4,-.2M223.8,595.9a2.5,1.8 8 1,0 4.9,.7a2.5,1.8 8 1,0 -4.9,-.7M241.8,618a2,1.7 106 1,0 -1.1,3.9a2,1.7 106 1,0 1.1,-3.9M346.5,556.5a1.7,1.4 72 1,0 1.1,3.3a1.7,1.4 72 1,0 -1.1,-3.3M237.5,597.5a2.2,1.7 20 1,0 4.2,1.6a2.2,1.7 20 1,0 -4.2,-1.6M322.8,539.4a1.4,1.4 28 1,0 2.5,1.3a1.4,1.4 28 1,0 -2.5,-1.3M324.7,623.7a2.9,2.3 8 1,0 5.7,.8a2.9,2.3 8 1,0 -5.7,-.8M171.8,635.3a1.7,1.6 163 1,0 -3.2,1a1.7,1.6 163 1,0 3.2,-1M152.8,647.5a2.1,2 52 1,0 2.6,3.2a2.1,2 52 1,0 -2.6,-3.2M310.1,557.5a1.6,1.3 113 1,0 -1.3,3a1.6,1.3 113 1,0 1.3,-3M350.7,507.2a2,1.5 57 1,0 2.2,3.3a2,1.5 57 1,0 -2.2,-3.3M243,651.2a1.9,1.6 90 1,0 0,3.9a1.9,1.6 90 1,0 -0,-3.9M282.4,610.8a2.5,2.5 154 1,0 -4.5,2.2a2.5,2.5 154 1,0 4.5,-2.2M226,535.6a2.6,2.5 89 1,0 .1,5.2a2.6,2.5 89 1,0 -.1,-5.2M328.6,583a1.7,1.6 128 1,0 -2.1,2.8a1.7,1.6 128 1,0 2.1,-2.8M165,650a2,1.5 75 1,0 1,3.9a2,1.5 75 1,0 -1,-3.9M215.4,576a1.6,1.5 9 1,0 3.1,.5a1.6,1.5 9 1,0 -3.1,-.5M354.4,638.2a2.3,1.7 168 1,0 -4.5,.9a2.3,1.7 168 1,0 4.5,-.9M319.8,553.7a2.5,2.4 92 1,0 -.1,5a2.5,2.4 92 1,0 .1,-5M347.9,603.7a2.3,2.2 97 1,0 -.5,4.5a2.3,2.2 97 1,0 .5,-4.5M306.6,648.7a2.7,2.4 151 1,0 -4.7,2.7a2.7,2.4 151 1,0 4.7,-2.7M222.7,548.4a2.1,2.1 154 1,0 -3.8,1.9a2.1,2.1 154 1,0 3.8,-1.9M346.7,634.8a1.3,1.3 68 1,0 1,2.4a1.3,1.3 68 1,0 -1,-2.4M348.6,592.7a1.8,1.7 41 1,0 2.7,2.4a1.8,1.7 41 1,0 -2.7,-2.4M254.8,612a1.8,1.8 17 1,0 3.4,1a1.8,1.8 17 1,0 -3.4,-1M230.4,565.7a2.1,1.9 149 1,0 -3.6,2.2a2.1,1.9 149 1,0 3.6,-2.2M226,543.8a1.6,1.4 100 1,0 -.6,3.1a1.6,1.4 100 1,0 .6,-3.1M349.8,531.3a3.1,2.5 99 1,0 -1,6.2a3.1,2.5 99 1,0 1,-6.2M345.6,514.3a2.5,2.3 62 1,0 2.4,4.4a2.5,2.3 62 1,0 -2.4,-4.4M319.4,585.9a1.9,1.7 47 1,0 2.6,2.8a1.9,1.7 47 1,0 -2.6,-2.8M244.4,657.4a2.3,2.2 133 1,0 -3.1,3.4a2.3,2.2 133 1,0 3.1,-3.4M200.1,633.9a2.1,1.7 48 1,0 2.7,3.1a2.1,1.7 48 1,0 -2.7,-3.1M203,559.2a2.3,2.4 113 1,0 -1.8,4.3a2.3,2.4 113 1,0 1.8,-4.3M228.5,548.2a2.1,1.7 122 1,0 -2.2,3.6a2.1,1.7 122 1,0 2.2,-3.6M231.7,652.7a1.7,1.6 116 1,0 -1.5,3.1a1.7,1.6 116 1,0 1.5,-3.1M320,538.7a2,1.7 107 1,0 -1.2,3.8a2,1.7 107 1,0 1.2,-3.8M213.6,543.2a1.8,1.4 55 1,0 2.1,2.9a1.8,1.4 55 1,0 -2.1,-2.9M344.8,544.6a1.7,1.8 111 1,0 -1.3,3.2a1.7,1.8 111 1,0 1.3,-3.2M233.2,530.4a1.6,1.6 146 1,0 -2.6,1.7a1.6,1.6 146 1,0 2.6,-1.7M225.5,591.1a1.8,1.4 146 1,0 -3,2.1a1.8,1.4 146 1,0 3,-2.1M187.8,628.6a1.6,1.3 165 1,0 -3,.8a1.6,1.3 165 1,0 3,-.8M279.2,534.2a1.5,1.2 176 1,0 -3,.2a1.5,1.2 176 1,0 3,-.2M294.2,649.5a2.3,1.9 14 1,0 4.4,1.1a2.3,1.9 14 1,0 -4.4,-1.1M183.2,657a2.2,2.3 14 1,0 4.2,1.1a2.2,2.3 14 1,0 -4.2,-1.1M293.5,532.5a3,2.3 46 1,0 4.1,4.4a3,2.3 46 1,0 -4.1,-4.4M330.5,640.1a1.7,1.2 36 1,0 2.7,2a1.7,1.2 36 1,0 -2.7,-2M155.2,508.1a3,2.2 117 1,0 -2.6,5.3a3,2.2 117 1,0 2.6,-5.3M353.1,558.5a2.1,1.6 158 1,0 -3.9,1.6a2.1,1.6 158 1,0 3.9,-1.6M362.9,641.1a2.7,2.5 129 1,0 -3.4,4.2a2.7,2.5 129 1,0 3.4,-4.2M314.1,579.2a2.2,2 10 1,0 4.3,.8a2.2,2 10 1,0 -4.3,-.8M263.9,505.3a1.3,1.2 158 1,0 -2.3,1a1.3,1.2 158 1,0 2.3,-1M263.4,570.4a2.3,2.1 162 1,0 -4.4,1.4a2.3,2.1 162 1,0 4.4,-1.4M344.8,566.2a1.6,1.5 4 1,0 3.1,.2a1.6,1.5 4 1,0 -3.1,-.2M293.2,544.7a2.3,2 162 1,0 -4.3,1.4a2.3,2 162 1,0 4.3,-1.4M360.6,543.7a1.7,1.3 153 1,0 -3,1.5a1.7,1.3 153 1,0 3,-1.5M225.4,505.1a2.4,2.1 88 1,0 .2,4.9a2.4,2.1 88 1,0 -.2,-4.9M340.5,597.8a1.4,1.2 84 1,0 .3,2.8a1.4,1.2 84 1,0 -.3,-2.8M262,612.4a1.5,1.3 148 1,0 -2.5,1.6a1.5,1.3 148 1,0 2.5,-1.6M188.5,521.3a1.9,1.5 19 1,0 3.6,1.3a1.9,1.5 19 1,0 -3.6,-1.3M234.4,555.3a1.6,1.6 108 1,0 -1,3a1.6,1.6 108 1,0 1,-3M337.1,636.2a2.4,1.8 127 1,0 -2.9,3.9a2.4,1.8 127 1,0 2.9,-3.9M306.3,569a2.9,2.3 60 1,0 2.9,5a2.9,2.3 60 1,0 -2.9,-5M196.7,653a3.2,2.5 25 1,0 5.8,2.7a3.2,2.5 25 1,0 -5.8,-2.7M199.5,543.4a1.8,1.5 142 1,0 -2.8,2.2a1.8,1.5 142 1,0 2.8,-2.2M175.8,582.7a1.5,1.4 32 1,0 2.5,1.6a1.5,1.4 32 1,0 -2.5,-1.6M210.3,639.5a1.6,1.7 134 1,0 -2.3,2.4a1.6,1.7 134 1,0 2.3,-2.4M267.9,610.3a2.4,2.1 114 1,0 -2,4.3a2.4,2.1 114 1,0 2,-4.3M186.4,619.1a1.5,1.4 44 1,0 2.2,2.1a1.5,1.4 44 1,0 -2.2,-2.1M334.5,509.8a1.3,1.3 146 1,0 -2.2,1.4a1.3,1.3 146 1,0 2.2,-1.4M204,549.3a1.3,1.2 84 1,0 .3,2.6a1.3,1.2 84 1,0 -.3,-2.6M211.2,558.4a1.8,1.3 42 1,0 2.6,2.4a1.8,1.3 42 1,0 -2.6,-2.4M240.6,637.9a3,2.3 153 1,0 -5.3,2.7a3,2.3 153 1,0 5.3,-2.7M255.1,623.6a1.6,1.4 36 1,0 2.6,1.9a1.6,1.4 36 1,0 -2.6,-1.9M279.7,572.1a1.7,1.4 123 1,0 -1.8,2.8a1.7,1.4 123 1,0 1.8,-2.8M339.8,648.7a1.6,1.6 33 1,0 2.6,1.7a1.6,1.6 33 1,0 -2.6,-1.7M331.6,578.8a1.5,1.4 74 1,0 .8,2.8a1.5,1.4 74 1,0 -.8,-2.8M304.2,654a2.2,2 69 1,0 1.6,4.2a2.2,2 69 1,0 -1.6,-4.2M218.7,515.7a1.4,1.3 51 1,0 1.7,2.1a1.4,1.3 51 1,0 -1.7,-2.1M205.1,585a2.3,1.9 20 1,0 4.3,1.6a2.3,1.9 20 1,0 -4.3,-1.6M249.8,556.5a1.9,1.8 63 1,0 1.8,3.4a1.9,1.8 63 1,0 -1.8,-3.4M360.6,590.6a1.7,1.6 121 1,0 -1.7,2.9a1.7,1.6 121 1,0 1.7,-2.9M256.5,606.1a1.8,1.3 163 1,0 -3.4,1.1a1.8,1.3 163 1,0 3.4,-1.1M284.4,501.8a1.6,1.4 52 1,0 2,2.5a1.6,1.4 52 1,0 -2,-2.5M271.4,598.5a2.5,1.9 11 1,0 4.9,1a2.5,1.9 11 1,0 -4.9,-1M238.2,502.4a2.3,1.8 48 1,0 3.1,3.5a2.3,1.8 48 1,0 -3.1,-3.5M201.6,570.9a2.5,2 152 1,0 -4.3,2.3a2.5,2 152 1,0 4.3,-2.3M282.9,509.5a2.7,2 115 1,0 -2.3,4.9a2.7,2 115 1,0 2.3,-4.9M177.6,603.9a2.6,1.9 125 1,0 -3,4.3a2.6,1.9 125 1,0 3,-4.3M203.3,571a2.3,1.8 32 1,0 3.8,2.4a2.3,1.8 32 1,0 -3.8,-2.4M251.7,524.7a2.7,2.2 19 1,0 5.1,1.8a2.7,2.2 19 1,0 -5.1,-1.8M178.7,593.9a1.5,1.2 3 1,0 2.9,.2a1.5,1.2 3 1,0 -2.9,-.2M343,538.1a1.3,1.3 133 1,0 -1.8,2a1.3,1.3 133 1,0 1.8,-2M240.1,536a2.2,2 25 1,0 4.1,1.9a2.2,2 25 1,0 -4.1,-1.9M300.8,602a2.7,2.5 6 1,0 5.4,.5a2.7,2.5 6 1,0 -5.4,-.5M233.8,536.6a2.1,1.7 16 1,0 4,1.2a2.1,1.7 16 1,0 -4,-1.2M338.4,612.6a2.4,2.2 162 1,0 -4.5,1.5a2.4,2.2 162 1,0 4.5,-1.5M344.6,550.9a2.6,2.2 175 1,0 -5.2,.5a2.6,2.2 175 1,0 5.2,-.5M183.5,613.9a2.4,2.2 7 1,0 4.7,.6a2.4,2.2 7 1,0 -4.7,-.6M217.4,521.6a1.6,1.5 127 1,0 -1.9,2.6a1.6,1.5 127 1,0 1.9,-2.6M300.3,620.1a1.8,1.4 52 1,0 2.2,2.9a1.8,1.4 52 1,0 -2.2,-2.9M239.6,578.9a2,2.1 138 1,0 -3,2.7a2,2.1 138 1,0 3,-2.7M160.1,552a1.3,1.4 65 1,0 1.1,2.4a1.3,1.4 65 1,0 -1.1,-2.4M361.5,619.2a2.3,2.4 176 1,0 -4.6,.4a2.3,2.4 176 1,0 4.6,-.4M351,657.2a2.4,1.9 19 1,0 4.6,1.6a2.4,1.9 19 1,0 -4.6,-1.6M295.2,539a1.6,1.5 44 1,0 2.2,2.2a1.6,1.5 44 1,0 -2.2,-2.2M240.9,604.4a1.3,1.2 5 1,0 2.7,.2a1.3,1.2 5 1,0 -2.7,-.2M339.9,563a2.4,2.3 103 1,0 -1.1,4.7a2.4,2.3 103 1,0 1.1,-4.7M247,639.2a1.7,1.4 149 1,0 -3,1.8a1.7,1.4 149 1,0 3,-1.8M185,640.4a2.3,2.3 4 1,0 4.5,.3a2.3,2.3 4 1,0 -4.5,-.3M301.6,525.1a2.2,1.7 33 1,0 3.7,2.4a2.2,1.7 33 1,0 -3.7,-2.4M227.4,517.4a2,1.7 159 1,0 -3.7,1.4a2,1.7 159 1,0 3.7,-1.4M222,573.7a2,1.5 95 1,0 -.3,4.1a2,1.5 95 1,0 .3,-4.1M358.2,639.7a1.4,1.4 177 1,0 -2.8,.2a1.4,1.4 177 1,0 2.8,-.2M320.4,516.7a1.4,1.4 3 1,0 2.7,.1a1.4,1.4 3 1,0 -2.7,-.1M239.8,659a1.9,1.6 180 1,0 -3.8,0a1.9,1.6 180 1,0 3.8,-0M256,528.4a1.8,1.4 28 1,0 3.2,1.7a1.8,1.4 28 1,0 -3.2,-1.7M304,566.7a2.1,2 136 1,0 -2.9,2.9a2.1,2 136 1,0 2.9,-2.9M348.9,605.5a2.5,2.3 51 1,0 3.2,4a2.5,2.3 51 1,0 -3.2,-4M326.7,514.4a1.5,1.3 80 1,0 .5,2.9a1.5,1.3 80 1,0 -.5,-2.9M295,657.1a2.8,2.3 92 1,0 -.2,5.6a2.8,2.3 92 1,0 .2,-5.6M214.7,565.1a1.7,1.4 180 1,0 -3.5,0a1.7,1.4 180 1,0 3.5,-0M256.2,583.9a1.2,1.3 165 1,0 -2.4,.6a1.2,1.3 165 1,0 2.4,-.6M156.2,551.5a1.3,1.3 144 1,0 -2,1.5a1.3,1.3 144 1,0 2,-1.5M217.7,619.2a1.9,1.5 1 1,0 3.9,.1a1.9,1.5 1 1,0 -3.9,-.1M202.2,530.2a2.4,2.3 4 1,0 4.7,.3a2.4,2.3 4 1,0 -4.7,-.3M331.1,645.1a1.4,1.2 142 1,0 -2.2,1.7a1.4,1.2 142 1,0 2.2,-1.7M336.9,640.2a1.7,1.3 24 1,0 3.2,1.4a1.7,1.3 24 1,0 -3.2,-1.4M333.6,548.4a1.4,1.4 143 1,0 -2.2,1.6a1.4,1.4 143 1,0 2.2,-1.6M233.4,644a1.6,1.5 147 1,0 -2.7,1.7a1.6,1.5 147 1,0 2.7,-1.7M234.7,503.6a1.5,1.3 135 1,0 -2.1,2.1a1.5,1.3 135 1,0 2.1,-2.1M218.1,532.3a2.9,2.1 17 1,0 5.5,1.7a2.9,2.1 17 1,0 -5.5,-1.7M159.5,583.1a2,1.6 168 1,0 -3.9,.8a2,1.6 168 1,0 3.9,-.8M209.2,600a1.4,1.3 138 1,0 -2.1,1.9a1.4,1.3 138 1,0 2.1,-1.9M160.4,579.5a1.7,1.3 23 1,0 3.2,1.3a1.7,1.3 23 1,0 -3.2,-1.3M245.6,580.6a2.8,2.2 143 1,0 -4.5,3.4a2.8,2.2 143 1,0 4.5,-3.4M295.9,604.9a2.5,2.4 6 1,0 5.1,.6a2.5,2.4 6 1,0 -5.1,-.6M239.2,546.7a2,1.8 127 1,0 -2.4,3.2a2,1.8 127 1,0 2.4,-3.2M146.6,638.8a2.2,2.3 22 1,0 4.1,1.7a2.2,2.3 22 1,0 -4.1,-1.7M263.5,650.1a2.4,2.2 111 1,0 -1.8,4.5a2.4,2.2 111 1,0 1.8,-4.5M269.4,636.9a2.2,1.9 16 1,0 4.2,1.2a2.2,1.9 16 1,0 -4.2,-1.2M184,646.4a2.8,2.2 120 1,0 -2.8,4.9a2.8,2.2 120 1,0 2.8,-4.9M232,585.6a2.4,1.8 53 1,0 2.8,3.8a2.4,1.8 53 1,0 -2.8,-3.8M362.9,554.7a3,2.3 168 1,0 -5.9,1.2a3,2.3 168 1,0 5.9,-1.2M209,525.7a1.9,1.5 2 1,0 3.8,.1a1.9,1.5 2 1,0 -3.8,-.1M307.1,593.3a2.3,2.1 177 1,0 -4.7,.3a2.3,2.1 177 1,0 4.7,-.3M158.6,654.6a2.4,2 73 1,0 1.4,4.6a2.4,2 73 1,0 -1.4,-4.6M244.1,650.8a2.5,2.1 13 1,0 4.8,1.1a2.5,2.1 13 1,0 -4.8,-1.1M326.7,596.8a1.9,1.7 142 1,0 -3,2.4a1.9,1.7 142 1,0 3,-2.4M277.8,531.6a2.4,2.3 24 1,0 4.5,2a2.4,2.3 24 1,0 -4.5,-2M169.5,559.7a2.3,2.1 9 1,0 4.6,.7a2.3,2.1 9 1,0 -4.6,-.7M193.7,575.7a1.4,1.3 88 1,0 .1,2.8a1.4,1.3 88 1,0 -.1,-2.8M312.6,585.3a1.5,1.4 99 1,0 -.5,2.9a1.5,1.4 99 1,0 .5,-2.9M211.1,544.3a1.3,1.4 43 1,0 1.9,1.8a1.3,1.4 43 1,0 -1.9,-1.8M341.3,516.7a1.9,1.4 32 1,0 3.2,2a1.9,1.4 32 1,0 -3.2,-2M308.6,554.7a2.1,2.1 137 1,0 -3.1,2.9a2.1,2.1 137 1,0 3.1,-2.9M258.2,633a1.3,1.4 77 1,0 .6,2.6a1.3,1.4 77 1,0 -.6,-2.6M347.9,568.5a1.4,1.5 25 1,0 2.6,1.2a1.4,1.5 25 1,0 -2.6,-1.2M249.5,595.9a1.6,1.4 14 1,0 3,.8a1.6,1.4 14 1,0 -3,-.8M180.9,652.8a3.2,2.5 72 1,0 2,6a3.2,2.5 72 1,0 -2,-6M192,504.5a1.8,1.4 6 1,0 3.6,.4a1.8,1.4 6 1,0 -3.6,-.4M224.4,545.6a1.9,1.7 70 1,0 1.3,3.5a1.9,1.7 70 1,0 -1.3,-3.5M165.9,599.5a2,1.5 118 1,0 -1.8,3.5a2,1.5 118 1,0 1.8,-3.5M164.2,638.6a2.2,1.7 47 1,0 3,3.2a2.2,1.7 47 1,0 -3,-3.2M222.9,566.3a2.5,1.8 79 1,0 1,4.9a2.5,1.8 79 1,0 -1,-4.9M260.4,621.7a1.6,1.3 67 1,0 1.2,2.9a1.6,1.3 67 1,0 -1.2,-2.9M326.1,626.3a2.7,2 70 1,0 1.8,5a2.7,2 70 1,0 -1.8,-5M227.7,643.1a1.3,1.2 131 1,0 -1.7,2a1.3,1.2 131 1,0 1.7,-2M319.2,593.3a2,1.4 88 1,0 .1,3.9a2,1.4 88 1,0 -.1,-3.9M356.1,556.7a1.6,1.2 77 1,0 .7,3.2a1.6,1.2 77 1,0 -.7,-3.2M326,540.5a2.6,2 14 1,0 5,1.2a2.6,2 14 1,0 -5,-1.2M206.5,511.9a1.8,1.3 126 1,0 -2.1,2.9a1.8,1.3 126 1,0 2.1,-2.9"/><path fill="#9c9c9c" d="M306.5,587.4a1.9,2 39 1,0 2.9,2.4a1.9,2 39 1,0 -2.9,-2.4M168.3,515.7a2.5,2 97 1,0 -.6,5a2.5,2 97 1,0 .6,-5M314.6,655.1a2.6,2.3 82 1,0 .8,5.1a2.6,2.3 82 1,0 -.8,-5.1M256.9,516.7a1.3,1.3 29 1,0 2.3,1.2a1.3,1.3 29 1,0 -2.3,-1.2M357.9,636.6a1.5,1.2 97 1,0 -.4,3a1.5,1.2 97 1,0 .4,-3M264.4,622.9a2.3,1.9 88 1,0 .2,4.6a2.3,1.9 88 1,0 -.2,-4.6M352.8,513.9a2.5,1.8 96 1,0 -.5,5.1a2.5,1.8 96 1,0 .5,-5.1M335.9,510a2,2 131 1,0 -2.6,3a2,2 131 1,0 2.6,-3M349.3,523.3a1.7,1.4 28 1,0 3.1,1.6a1.7,1.4 28 1,0 -3.1,-1.6M245.2,613.1a1.9,1.9 159 1,0 -3.5,1.4a1.9,1.9 159 1,0 3.5,-1.4M320.6,544.6a2.5,2.2 7 1,0 5,.6a2.5,2.2 7 1,0 -5,-.6M296.4,635.3a1.6,1.6 175 1,0 -3.3,.3a1.6,1.6 175 1,0 3.3,-.3M279.3,549a2.1,1.9 38 1,0 3.3,2.5a2.1,1.9 38 1,0 -3.3,-2.5M300.1,574.6a2.2,1.9 144 1,0 -3.6,2.6a2.2,1.9 144 1,0 3.6,-2.6M196.9,554.1a2.4,2.4 42 1,0 3.6,3.2a2.4,2.4 42 1,0 -3.6,-3.2M311.7,632.4a1.8,1.5 135 1,0 -2.5,2.5a1.8,1.5 135 1,0 2.5,-2.5M336.6,612a1.8,1.6 34 1,0 3,2.1a1.8,1.6 34 1,0 -3,-2.1M301.8,521.6a1.5,1.3 126 1,0 -1.8,2.5a1.5,1.3 126 1,0 1.8,-2.5M289.7,644.3a2.2,2.3 143 1,0 -3.5,2.7a2.2,2.3 143 1,0 3.5,-2.7M301.1,620.3a2.9,2.3 42 1,0 4.2,3.9a2.9,2.3 42 1,0 -4.2,-3.9M294.2,547.6a1.7,1.5 18 1,0 3.3,1a1.7,1.5 18 1,0 -3.3,-1M297.4,643.6a1.4,1.3 67 1,0 1,2.5a1.4,1.3 67 1,0 -1,-2.5M351.4,552a2.5,2 84 1,0 .6,4.9a2.5,2 84 1,0 -.6,-4.9M298.4,603.4a1.9,1.4 55 1,0 2.1,3a1.9,1.4 55 1,0 -2.1,-3M309.1,525.1a2.3,1.7 111 1,0 -1.6,4.3a2.3,1.7 111 1,0 1.6,-4.3M212.8,580.3a2.3,1.8 117 1,0 -2.1,4.2a2.3,1.8 117 1,0 2.1,-4.2M226.6,526.3a2.4,2.4 15 1,0 4.6,1.3a2.4,2.4 15 1,0 -4.6,-1.3M219.5,649.4a2,2 136 1,0 -2.9,2.8a2,2 136 1,0 2.9,-2.8M248.4,511.7a2.8,2.3 176 1,0 -5.6,.4a2.8,2.3 176 1,0 5.6,-.4M275.4,651.4a2.5,2.2 146 1,0 -4.1,2.8a2.5,2.2 146 1,0 4.1,-2.8M277.5,624.7a2.2,2 100 1,0 -.8,4.4a2.2,2 100 1,0 .8,-4.4M324.6,587.2a1.8,1.6 53 1,0 2.1,2.8a1.8,1.6 53 1,0 -2.1,-2.8M345.6,598a1.7,1.8 115 1,0 -1.5,3.2a1.7,1.8 115 1,0 1.5,-3.2M227.2,626.8a2.1,2.1 109 1,0 -1.4,4a2.1,2.1 109 1,0 1.4,-4M245.4,559.1a2.1,1.8 95 1,0 -.4,4.3a2.1,1.8 95 1,0 .4,-4.3M232.8,604.2a1.5,1.5 33 1,0 2.4,1.6a1.5,1.5 33 1,0 -2.4,-1.6M362.9,523.4a2.6,2.3 180 1,0 -5.1,0a2.6,2.3 180 1,0 5.1,-0M327.4,512.2a2.8,2.5 122 1,0 -3,4.8a2.8,2.5 122 1,0 3,-4.8M246.7,538.9a1.9,2 89 1,0 .1,3.8a1.9,2 89 1,0 -.1,-3.8M251.2,503.4a2.3,1.6 105 1,0 -1.2,4.4a2.3,1.6 105 1,0 1.2,-4.4M318.4,615a2.6,2.1 48 1,0 3.4,3.8a2.6,2.1 48 1,0 -3.4,-3.8M332.9,575.3a1.6,1.5 132 1,0 -2.1,2.4a1.6,1.5 132 1,0 2.1,-2.4M339.7,632.2a2.1,1.9 17 1,0 4,1.2a2.1,1.9 17 1,0 -4,-1.2M358.1,576.2a2.6,2.4 42 1,0 3.8,3.5a2.6,2.4 42 1,0 -3.8,-3.5M350.1,641.9a2.7,2.2 169 1,0 -5.4,1a2.7,2.2 169 1,0 5.4,-1M312.8,607.5a2.3,2 95 1,0 -.4,4.7a2.3,2 95 1,0 .4,-4.7M325.7,618.3a2.2,2 126 1,0 -2.6,3.6a2.2,2 126 1,0 2.6,-3.6M236.1,522.8a3.2,2.5 176 1,0 -6.4,.4a3.2,2.5 176 1,0 6.4,-.4M201,537.1a2.4,2.3 179 1,0 -4.7,.1a2.4,2.3 179 1,0 4.7,-.1M291.1,535.9a1.9,1.6 107 1,0 -1.1,3.7a1.9,1.6 107 1,0 1.1,-3.7M335,502.8a2.2,1.7 101 1,0 -.8,4.4a2.2,1.7 101 1,0 .8,-4.4M243.9,568.8a2,1.8 170 1,0 -4,.7a2,1.8 170 1,0 4,-.7M224.3,642.3a1.9,1.9 45 1,0 2.7,2.7a1.9,1.9 45 1,0 -2.7,-2.7M355.4,553.5a2.1,2.2 47 1,0 2.9,3.1a2.1,2.2 47 1,0 -2.9,-3.1M313.6,587.9a1.4,1.3 98 1,0 -.4,2.9a1.4,1.3 98 1,0 .4,-2.9M239.1,572.3a2.3,2 135 1,0 -3.2,3.2a2.3,2 135 1,0 3.2,-3.2M246.3,605.2a2.2,1.7 72 1,0 1.4,4.1a2.2,1.7 72 1,0 -1.4,-4.1M286.4,585.9a1.5,1.4 92 1,0 -.1,3a1.5,1.4 92 1,0 .1,-3M301.6,538.8a2.5,1.9 2 1,0 5,.2a2.5,1.9 2 1,0 -5,-.2M159.6,559.7a1.7,1.4 165 1,0 -3.3,.9a1.7,1.4 165 1,0 3.3,-.9M236.2,615.4a1.9,1.6 21 1,0 3.5,1.4a1.9,1.6 21 1,0 -3.5,-1.4M188.1,644.2a2.1,1.5 4 1,0 4.1,.3a2.1,1.5 4 1,0 -4.1,-.3M262.1,602.8a2.9,2.1 0 1,0 5.8,0a2.9,2.1 0 1,0 -5.8,-0M304.9,552a2.1,1.6 25 1,0 3.9,1.8a2.1,1.6 25 1,0 -3.9,-1.8M232.5,608.6a2.9,2.4 47 1,0 4,4.3a2.9,2.4 47 1,0 -4,-4.3M231.2,657a2.5,2.5 57 1,0 2.7,4.3a2.5,2.5 57 1,0 -2.7,-4.3M320.2,597.8a2.8,2 25 1,0 5,2.4a2.8,2 25 1,0 -5,-2.4M245.8,543.6a1.7,1.5 142 1,0 -2.6,2.1a1.7,1.5 142 1,0 2.6,-2.1M256.5,560.9a2.5,1.9 142 1,0 -4,3.1a2.5,1.9 142 1,0 4,-3.1M205.6,545.5a1.7,1.5 99 1,0 -.5,3.4a1.7,1.5 99 1,0 .5,-3.4M254.7,510.4a1.3,1.2 119 1,0 -1.3,2.3a1.3,1.2 119 1,0 1.3,-2.3M248.2,562.8a2.5,2.4 88 1,0 .2,5.1a2.5,2.4 88 1,0 -.2,-5.1M150.6,644.1a2.1,2 110 1,0 -1.4,3.9a2.1,2 110 1,0 1.4,-3.9M213.9,645.4a2.1,1.7 179 1,0 -4.2,.1a2.1,1.7 179 1,0 4.2,-.1M157.8,518.6a1.4,1.3 68 1,0 1.1,2.7a1.4,1.3 68 1,0 -1.1,-2.7M267,576.2a1.5,1.4 119 1,0 -1.5,2.7a1.5,1.4 119 1,0 1.5,-2.7M227.1,608.1a1.7,1.8 136 1,0 -2.5,2.4a1.7,1.8 136 1,0 2.5,-2.4M306.9,505.8a2.1,1.7 0 1,0 4.1,0a2.1,1.7 0 1,0 -4.1,-0M210.1,604.2a2.2,1.6 30 1,0 3.8,2.2a2.2,1.6 30 1,0 -3.8,-2.2M255.6,518.9a2.7,2 155 1,0 -4.9,2.3a2.7,2 155 1,0 4.9,-2.3M340.1,513.4a1.7,1.3 114 1,0 -1.4,3.2a1.7,1.3 114 1,0 1.4,-3.2M316,528.8a1.9,1.8 118 1,0 -1.8,3.4a1.9,1.8 118 1,0 1.8,-3.4M174.2,513a2.4,1.8 97 1,0 -.6,4.7a2.4,1.8 97 1,0 .6,-4.7M283.3,590.7a2.3,2.3 62 1,0 2.1,4a2.3,2.3 62 1,0 -2.1,-4M343.6,577.1a1.7,1.5 66 1,0 1.4,3.1a1.7,1.5 66 1,0 -1.4,-3.1M307.4,628.6a1.8,1.7 52 1,0 2.2,2.8a1.8,1.7 52 1,0 -2.2,-2.8M322.4,658.7a2,1.8 152 1,0 -3.5,1.9a2,1.8 152 1,0 3.5,-1.9M316.1,570.9a2.2,2.2 132 1,0 -3,3.3a2.2,2.2 132 1,0 3,-3.3M275.3,563.6a1.8,1.5 124 1,0 -2.1,3a1.8,1.5 124 1,0 2.1,-3M333.3,623a1.9,1.5 97 1,0 -.5,3.7a1.9,1.5 97 1,0 .5,-3.7M288.2,520a1.8,1.9 169 1,0 -3.6,.7a1.8,1.9 169 1,0 3.6,-.7M323.1,534.1a1.7,1.7 10 1,0 3.3,.6a1.7,1.7 10 1,0 -3.3,-.6M319.1,598.9a1.2,1.3 119 1,0 -1.2,2.2a1.2,1.3 119 1,0 1.2,-2.2M168.8,533.8a1.9,1.9 166 1,0 -3.6,.9a1.9,1.9 166 1,0 3.6,-.9M201.2,584.5a3,2.5 93 1,0 -.3,5.9a3,2.5 93 1,0 .3,-5.9M327.8,571.8a2.2,2.1 105 1,0 -1.2,4.3a2.2,2.1 105 1,0 1.2,-4.3M273.1,577.6a2.1,1.7 1 1,0 4.2,.1a2.1,1.7 1 1,0 -4.2,-.1M219,624.2a2.3,1.7 54 1,0 2.7,3.7a2.3,1.7 54 1,0 -2.7,-3.7M314.6,550.7a2.5,2.3 16 1,0 4.8,1.3a2.5,2.3 16 1,0 -4.8,-1.3M307.4,612a2.8,2.3 83 1,0 .6,5.5a2.8,2.3 83 1,0 -.6,-5.5M285.1,626.1a2.2,1.6 96 1,0 -.5,4.3a2.2,1.6 96 1,0 .5,-4.3M197,530.8a2.1,1.9 15 1,0 4,1.1a2.1,1.9 15 1,0 -4,-1.1M326.9,503.4a1.7,1.3 63 1,0 1.5,3a1.7,1.3 63 1,0 -1.5,-3M314.5,603a2,1.4 119 1,0 -1.9,3.5a2,1.4 119 1,0 1.9,-3.5M243.1,531.2a1.6,1.2 107 1,0 -.9,3a1.6,1.2 107 1,0 .9,-3M280.4,632.9a1.3,1.3 107 1,0 -.8,2.5a1.3,1.3 107 1,0 .8,-2.5M238.5,648.4a2.4,2 129 1,0 -3.1,3.8a2.4,2 129 1,0 3.1,-3.8M272.2,644.7a2.3,1.8 162 1,0 -4.3,1.4a2.3,1.8 162 1,0 4.3,-1.4M322.3,560.2a2.9,2.2 29 1,0 5,2.8a2.9,2.2 29 1,0 -5,-2.8M223.1,613.9a1.3,1.2 154 1,0 -2.3,1.1a1.3,1.2 154 1,0 2.3,-1.1M317.6,583.4a1.7,1.3 8 1,0 3.4,.5a1.7,1.3 8 1,0 -3.4,-.5M220.5,593.9a2.6,2.5 76 1,0 1.2,5.1a2.6,2.5 76 1,0 -1.2,-5.1M222.4,655.7a2,1.6 23 1,0 3.6,1.5a2,1.6 23 1,0 -3.6,-1.5M330.5,515.9a2,1.6 96 1,0 -.4,3.9a2,1.6 96 1,0 .4,-3.9M345.7,506.8a2.7,2.2 142 1,0 -4.3,3.4a2.7,2.2 142 1,0 4.3,-3.4M315.2,566.5a1.6,1.2 169 1,0 -3.2,.6a1.6,1.2 169 1,0 3.2,-.6M264.1,552.9a2.6,2.1 33 1,0 4.4,2.8a2.6,2.1 33 1,0 -4.4,-2.8M267,597.9a2.1,1.5 36 1,0 3.4,2.4a2.1,1.5 36 1,0 -3.4,-2.4M275.4,513a2.1,1.9 42 1,0 3.1,2.8a2.1,1.9 42 1,0 -3.1,-2.8M178.4,636.5a2.3,2.2 10 1,0 4.6,.8a2.3,2.2 10 1,0 -4.6,-.8M340.9,592.7a2.3,2 103 1,0 -1,4.5a2.3,2 103 1,0 1,-4.5M208.2,606a2,1.6 171 1,0 -4,.6a2,1.6 171 1,0 4,-.6M214.7,575.2a1.8,1.8 162 1,0 -3.5,1.1a1.8,1.8 162 1,0 3.5,-1.1M334.6,538.2a1.5,1.3 57 1,0 1.6,2.4a1.5,1.3 57 1,0 -1.6,-2.4M356,527.7a1.8,1.5 23 1,0 3.4,1.4a1.8,1.5 23 1,0 -3.4,-1.4M336.4,596.1a1.8,1.3 79 1,0 .7,3.6a1.8,1.3 79 1,0 -.7,-3.6M247.3,633.5a1.7,1.3 110 1,0 -1.2,3.3a1.7,1.3 110 1,0 1.2,-3.3M283.8,557.2a1.5,1.3 103 1,0 -.7,2.8a1.5,1.3 103 1,0 .7,-2.8M273,532.4a1.8,1.8 169 1,0 -3.6,.7a1.8,1.8 169 1,0 3.6,-.7M228.9,532a1.6,1.2 122 1,0 -1.7,2.6a1.6,1.2 122 1,0 1.7,-2.6M201.6,574.1a3.2,2.4 94 1,0 -.4,6.4a3.2,2.4 94 1,0 .4,-6.4M241,517.7a1.8,1.8 11 1,0 3.5,.7a1.8,1.8 11 1,0 -3.5,-.7M222,548.9a1.9,1.6 142 1,0 -3,2.3a1.9,1.6 142 1,0 3,-2.3M217.4,567.9a2.6,2 106 1,0 -1.4,5a2.6,2 106 1,0 1.4,-5M214,581.2a2.5,1.9 167 1,0 -4.8,1.1a2.5,1.9 167 1,0 4.8,-1.1M155.4,523.2a1.9,1.6 119 1,0 -1.8,3.3a1.9,1.6 119 1,0 1.8,-3.3M339.9,574.5a2.1,1.9 159 1,0 -3.9,1.5a2.1,1.9 159 1,0 3.9,-1.5M323.7,634.2a1.7,1.4 32 1,0 3,1.8a1.7,1.4 32 1,0 -3,-1.8M203.6,645.6a1.7,1.5 178 1,0 -3.3,.1a1.7,1.5 178 1,0 3.3,-.1M231.9,569.3a1.7,1.5 31 1,0 2.9,1.7a1.7,1.5 31 1,0 -2.9,-1.7M256.9,533.4a1.8,1.7 131 1,0 -2.3,2.7a1.8,1.7 131 1,0 2.3,-2.7M312.7,646.3a2.9,2.3 140 1,0 -4.4,3.7a2.9,2.3 140 1,0 4.4,-3.7M360.8,629.7a1.6,1.2 75 1,0 .8,3a1.6,1.2 75 1,0 -.8,-3M163.7,567.7a3.1,2.4 53 1,0 3.7,4.9a3.1,2.4 53 1,0 -3.7,-4.9M323.2,644.8a1.7,1.4 61 1,0 1.6,2.9a1.7,1.4 61 1,0 -1.6,-2.9M194.6,593.9a2.4,1.8 33 1,0 4,2.6a2.4,1.8 33 1,0 -4,-2.6M295.8,586.1a1.7,1.4 164 1,0 -3.2,.9a1.7,1.4 164 1,0 3.2,-.9M341.7,523.3a2.1,2.2 174 1,0 -4.2,.4a2.1,2.2 174 1,0 4.2,-.4M245.1,612.8a2.8,2.4 94 1,0 -.4,5.6a2.8,2.4 94 1,0 .4,-5.6M278.8,552.9a1.7,1.3 39 1,0 2.6,2.1a1.7,1.3 39 1,0 -2.6,-2.1M279,560.9a1.6,1.2 116 1,0 -1.4,2.9a1.6,1.2 116 1,0 1.4,-2.9M327.2,520.4a1.5,1.4 172 1,0 -3,.4a1.5,1.4 172 1,0 3,-.4M224.5,647.3a1.6,1.3 32 1,0 2.7,1.7a1.6,1.3 32 1,0 -2.7,-1.7M161,593.1a1.7,1.6 23 1,0 3.2,1.3a1.7,1.6 23 1,0 -3.2,-1.3M355.3,611.4a2.1,1.7 76 1,0 1,4.2a2.1,1.7 76 1,0 -1,-4.2M301.5,577.5a1.9,1.6 171 1,0 -3.7,.6a1.9,1.6 171 1,0 3.7,-.6M342.2,604.8a2,2 62 1,0 1.9,3.6a2,2 62 1,0 -1.9,-3.6M351.3,543a2,1.8 99 1,0 -.7,4a2,1.8 99 1,0 .7,-4M242.6,591.4a1.9,1.7 160 1,0 -3.7,1.3a1.9,1.7 160 1,0 3.7,-1.3M226.5,525.7a1.8,1.6 2 1,0 3.5,.1a1.8,1.6 2 1,0 -3.5,-.1M253.3,509.5a1.6,1.6 31 1,0 2.7,1.6a1.6,1.6 31 1,0 -2.7,-1.6M264.6,580.2a2.2,1.8 173 1,0 -4.3,.6a2.2,1.8 173 1,0 4.3,-.6"/><path fill="#909090" d="M256.9,505.5a1.7,1.5 81 1,0 .5,3.3a1.7,1.5 81 1,0 -.5,-3.3M357.1,560.1a2.6,1.9 65 1,0 2.2,4.7a2.6,1.9 65 1,0 -2.2,-4.7M200,574.2a1.6,1.6 58 1,0 1.7,2.8a1.6,1.6 58 1,0 -1.7,-2.8M295.2,594.3a2.4,1.7 95 1,0 -.4,4.7a2.4,1.7 95 1,0 .4,-4.7M174.7,604.7a1.9,1.4 76 1,0 .9,3.7a1.9,1.4 76 1,0 -.9,-3.7M200.6,512.2a1.3,1.2 40 1,0 2,1.6a1.3,1.2 40 1,0 -2,-1.6M266.6,614.9a2.7,2.3 141 1,0 -4.3,3.4a2.7,2.3 141 1,0 4.3,-3.4M320.5,518.5a1.7,1.4 76 1,0 .8,3.2a1.7,1.4 76 1,0 -.8,-3.2M217.6,510.6a1.9,1.8 173 1,0 -3.7,.5a1.9,1.8 173 1,0 3.7,-.5M294.3,538.6a1.4,1.4 107 1,0 -.8,2.8a1.4,1.4 107 1,0 .8,-2.8M280.3,567.3a2.1,2 47 1,0 2.9,3.1a2.1,2 47 1,0 -2.9,-3.1M201.5,545.6a2.2,1.8 110 1,0 -1.5,4.2a2.2,1.8 110 1,0 1.5,-4.2M361.9,604.5a1.3,1.2 119 1,0 -1.3,2.3a1.3,1.2 119 1,0 1.3,-2.3M312.9,651.5a1.4,1.2 1 1,0 2.7,.1a1.4,1.2 1 1,0 -2.7,-.1M306.3,652.6a2,1.6 84 1,0 .4,4a2,1.6 84 1,0 -.4,-4M337.3,539.3a2.3,1.8 61 1,0 2.2,3.9a2.3,1.8 61 1,0 -2.2,-3.9M175.1,636.8a2.5,2.3 86 1,0 .3,5a2.5,2.3 86 1,0 -.3,-5M208.2,650.8a2.2,2.3 16 1,0 4.2,1.2a2.2,2.3 16 1,0 -4.2,-1.2M199.6,521.2a2.9,2.2 0 1,0 5.8,0a2.9,2.2 0 1,0 -5.8,-0M336.8,574.6a1.4,1.3 136 1,0 -2,2a1.4,1.3 136 1,0 2,-2M282.2,621.2a1.5,1.5 52 1,0 1.8,2.3a1.5,1.5 52 1,0 -1.8,-2.3M339.3,577.8a1.6,1.2 128 1,0 -2,2.6a1.6,1.2 128 1,0 2,-2.6M316.1,568.1a2.6,2.4 0 1,0 5.2,0a2.6,2.4 0 1,0 -5.2,-0M287,634.6a2.6,2.3 57 1,0 2.8,4.3a2.6,2.3 57 1,0 -2.8,-4.3M268.7,514.3a2.6,2.4 173 1,0 -5.2,.6a2.6,2.4 173 1,0 5.2,-.6M297.5,619.1a1.6,1.3 150 1,0 -2.8,1.6a1.6,1.3 150 1,0 2.8,-1.6M285.8,550.7a2,1.8 24 1,0 3.6,1.6a2,1.8 24 1,0 -3.6,-1.6M295.6,607.7a1.9,1.7 142 1,0 -3,2.3a1.9,1.7 142 1,0 3,-2.3M334,516.1a2.8,2.1 116 1,0 -2.5,5.1a2.8,2.1 116 1,0 2.5,-5.1M331.1,653.2a2.8,2.3 100 1,0 -1,5.6a2.8,2.3 100 1,0 1,-5.6M156.4,503.4a2.7,2.3 73 1,0 1.6,5.1a2.7,2.3 73 1,0 -1.6,-5.1M285.8,575.3a2.2,1.9 166 1,0 -4.3,1.1a2.2,1.9 166 1,0 4.3,-1.1M229.9,539.9a3.1,2.3 60 1,0 3.1,5.4a3.1,2.3 60 1,0 -3.1,-5.4M354.9,612.1a2.2,1.7 15 1,0 4.2,1.1a2.2,1.7 15 1,0 -4.2,-1.1M176.9,611.2a2.5,2.5 121 1,0 -2.5,4.3a2.5,2.5 121 1,0 2.5,-4.3M214.2,625.9a2.5,1.9 159 1,0 -4.6,1.8a2.5,1.9 159 1,0 4.6,-1.8M228.6,614.1a2.7,2.5 135 1,0 -3.7,3.8a2.7,2.5 135 1,0 3.7,-3.8M163,632.6a2.3,1.9 129 1,0 -2.9,3.5a2.3,1.9 129 1,0 2.9,-3.5M211.8,501.6a1.9,1.7 120 1,0 -1.9,3.3a1.9,1.7 120 1,0 1.9,-3.3M263.8,581.7a2.4,2.5 157 1,0 -4.4,1.8a2.4,2.5 157 1,0 4.4,-1.8M314.7,559.8a1.6,1.7 28 1,0 2.9,1.5a1.6,1.7 28 1,0 -2.9,-1.5M331.6,540.3a2.2,2 113 1,0 -1.7,4a2.2,2 113 1,0 1.7,-4M278.2,516.4a2.8,2 28 1,0 4.9,2.6a2.8,2 28 1,0 -4.9,-2.6M292,615.3a1.9,2 155 1,0 -3.5,1.6a1.9,2 155 1,0 3.5,-1.6M305.3,532.2a1.6,1.4 158 1,0 -3,1.2a1.6,1.4 158 1,0 3,-1.2M337,605.1a1.7,1.8 19 1,0 3.3,1.1a1.7,1.8 19 1,0 -3.3,-1.1M235.3,508.8a1.3,1.3 100 1,0 -.4,2.6a1.3,1.3 100 1,0 .4,-2.6M228.2,631.3a2.1,1.5 20 1,0 3.9,1.4a2.1,1.5 20 1,0 -3.9,-1.4M348.2,611.1a1.8,1.4 43 1,0 2.6,2.4a1.8,1.4 43 1,0 -2.6,-2.4M248.4,609a1.9,1.4 28 1,0 3.4,1.8a1.9,1.4 28 1,0 -3.4,-1.8M311.5,651.4a1.5,1.6 118 1,0 -1.4,2.7a1.5,1.6 118 1,0 1.4,-2.7M326.3,643.5a1.5,1.5 59 1,0 1.5,2.6a1.5,1.5 59 1,0 -1.5,-2.6M262,520.7a1.7,1.5 162 1,0 -3.3,1.1a1.7,1.5 162 1,0 3.3,-1.1M199.8,644.8a2.4,1.9 121 1,0 -2.5,4.1a2.4,1.9 121 1,0 2.5,-4.1M279,507.6a1.7,1.3 101 1,0 -.6,3.2a1.7,1.3 101 1,0 .6,-3.2M251,579.5a1.4,1.2 3 1,0 2.7,.1a1.4,1.2 3 1,0 -2.7,-.1M260.4,509.4a1.7,1.5 8 1,0 3.4,.5a1.7,1.5 8 1,0 -3.4,-.5M271.6,590.2a2.5,2.3 136 1,0 -3.6,3.5a2.5,2.3 136 1,0 3.6,-3.5M331,554.9a2.5,2.2 139 1,0 -3.8,3.2a2.5,2.2 139 1,0 3.8,-3.2M209.7,610.1a2.4,1.8 59 1,0 2.5,4.1a2.4,1.8 59 1,0 -2.5,-4.1M247.2,596.3a2.3,2 166 1,0 -4.5,1.1a2.3,2 166 1,0 4.5,-1.1M270.3,572a2.2,1.7 27 1,0 3.8,2a2.2,1.7 27 1,0 -3.8,-2M318.9,647.9a2.2,2.2 29 1,0 3.9,2.1a2.2,2.2 29 1,0 -3.9,-2.1M333.6,583.7a2.3,2 71 1,0 1.5,4.3a2.3,2 71 1,0 -1.5,-4.3M183.1,607.8a2.4,2.4 24 1,0 4.3,1.9a2.4,2.4 24 1,0 -4.3,-1.9M302.4,571.8a1.4,1.4 137 1,0 -2,1.9a1.4,1.4 137 1,0 2,-1.9M324,627.4a2.1,1.9 97 1,0 -.5,4.1a2.1,1.9 97 1,0 .5,-4.1M329.5,605.3a1.9,1.6 34 1,0 3.2,2.2a1.9,1.6 34 1,0 -3.2,-2.2M295.5,511a2.1,1.5 172 1,0 -4.1,.6a2.1,1.5 172 1,0 4.1,-.6M304.3,516.7a2.7,2.4 161 1,0 -5.2,1.8a2.7,2.4 161 1,0 5.2,-1.8M248.7,619.4a2,2 148 1,0 -3.3,2.1a2,2 148 1,0 3.3,-2.1M180.1,534.2a2.5,1.9 178 1,0 -4.9,.2a2.5,1.9 178 1,0 4.9,-.2M330.3,634.6a1.6,1.4 133 1,0 -2.1,2.3a1.6,1.4 133 1,0 2.1,-2.3M344.3,613.1a2.4,1.9 122 1,0 -2.6,4.1a2.4,1.9 122 1,0 2.6,-4.1M150.5,657.2a2.8,2.3 110 1,0 -1.9,5.4a2.8,2.3 110 1,0 1.9,-5.4M218,553.5a1.6,1.6 116 1,0 -1.4,3a1.6,1.6 116 1,0 1.4,-3M269.9,570.2a2.6,2 164 1,0 -4.9,1.4a2.6,2 164 1,0 4.9,-1.4M341.4,581a3.1,2.3 128 1,0 -3.8,4.8a3.1,2.3 128 1,0 3.8,-4.8M351.1,600.8a1.9,1.5 124 1,0 -2.1,3.1a1.9,1.5 124 1,0 2.1,-3.1M286.1,612a2.6,2.2 103 1,0 -1.1,5a2.6,2.2 103 1,0 1.1,-5M294.2,567.5a2.3,2.2 153 1,0 -4.2,2.2a2.3,2.2 153 1,0 4.2,-2.2M307.8,636.3a2.4,2.2 92 1,0 -.2,4.9a2.4,2.2 92 1,0 .2,-4.9M336.5,568.9a1.8,1.3 158 1,0 -3.3,1.3a1.8,1.3 158 1,0 3.3,-1.3M258.1,547.1a2.1,2.1 138 1,0 -3.1,2.8a2.1,2.1 138 1,0 3.1,-2.8M293.2,590.6a1.5,1.3 99 1,0 -.5,2.9a1.5,1.3 99 1,0 .5,-2.9M210,512.2a1.6,1.3 60 1,0 1.6,2.7a1.6,1.3 60 1,0 -1.6,-2.7M273.1,542.4a2.1,1.9 50 1,0 2.7,3.2a2.1,1.9 50 1,0 -2.7,-3.2M196.9,624.6a1.5,1.3 61 1,0 1.5,2.6a1.5,1.3 61 1,0 -1.5,-2.6M258.5,541.5a2,1.9 80 1,0 .7,4a2,1.9 80 1,0 -.7,-4M267.2,521.8a2.5,2.4 108 1,0 -1.5,4.8a2.5,2.4 108 1,0 1.5,-4.8M284.6,600.4a2.4,1.9 96 1,0 -.5,4.8a2.4,1.9 96 1,0 .5,-4.8M317.7,511.7a1.9,2 13 1,0 3.8,.9a1.9,2 13 1,0 -3.8,-.9M302.5,626.9a1.9,1.4 17 1,0 3.6,1.1a1.9,1.4 17 1,0 -3.6,-1.1M241,556.4a2,1.6 139 1,0 -3,2.7a2,1.6 139 1,0 3,-2.7M182.3,557.6a2.3,2.2 8 1,0 4.5,.6a2.3,2.2 8 1,0 -4.5,-.6M268.4,527.2a1.8,1.3 21 1,0 3.3,1.3a1.8,1.3 21 1,0 -3.3,-1.3M313.3,597.3a1.9,1.5 107 1,0 -1.1,3.6a1.9,1.5 107 1,0 1.1,-3.6M191.1,529a2.1,1.8 58 1,0 2.2,3.5a2.1,1.8 58 1,0 -2.2,-3.5M216.7,596.7a2.6,2.2 115 1,0 -2.2,4.7a2.6,2.2 115 1,0 2.2,-4.7M171.9,652.2a1.5,1.3 57 1,0 1.6,2.5a1.5,1.3 57 1,0 -1.6,-2.5M353.8,512.3a1.7,1.3 68 1,0 1.3,3.2a1.7,1.3 68 1,0 -1.3,-3.2M207.9,506.2a2,1.8 57 1,0 2.1,3.3a2,1.8 57 1,0 -2.1,-3.3M321.5,547.2a1.6,1.2 131 1,0 -2.1,2.4a1.6,1.2 131 1,0 2.1,-2.4M184.4,508.9a2.2,2.3 87 1,0 .2,4.3a2.2,2.3 87 1,0 -.2,-4.3M249.3,576.2a1.9,1.8 123 1,0 -2.1,3.2a1.9,1.8 123 1,0 2.1,-3.2M201.6,606.5a2.4,2.2 124 1,0 -2.7,4a2.4,2.2 124 1,0 2.7,-4M164.7,501.4a2.9,2.1 75 1,0 1.5,5.5a2.9,2.1 75 1,0 -1.5,-5.5M250.8,622.9a1.4,1.2 146 1,0 -2.3,1.6a1.4,1.2 146 1,0 2.3,-1.6M248.9,550.7a2.7,2.1 4 1,0 5.4,.4a2.7,2.1 4 1,0 -5.4,-.4M264.8,548a2.6,2.2 143 1,0 -4.2,3.1a2.6,2.2 143 1,0 4.2,-3.1M225,603.2a2.7,2.1 37 1,0 4.3,3.2a2.7,2.1 37 1,0 -4.3,-3.2M283.2,545.7a3.4,2.5 85 1,0 .6,6.7a3.4,2.5 85 1,0 -.6,-6.7M188.1,503.7a2.8,2.3 74 1,0 1.6,5.5a2.8,2.3 74 1,0 -1.6,-5.5M222.2,602.4a2,1.6 95 1,0 -.4,4a2,1.6 95 1,0 .4,-4M218.6,501.8a2.4,2.2 127 1,0 -2.9,3.8a2.4,2.2 127 1,0 2.9,-3.8M361,564.5a2.2,1.8 170 1,0 -4.4,.8a2.2,1.8 170 1,0 4.4,-.8M238,643a1.7,1.4 26 1,0 3,1.5a1.7,1.4 26 1,0 -3,-1.5M254.3,630.5a1.7,1.6 101 1,0 -.6,3.4a1.7,1.6 101 1,0 .6,-3.4M230.5,574.2a1.5,1.2 140 1,0 -2.4,2a1.5,1.2 140 1,0 2.4,-2M335.5,519.4a1.6,1.4 83 1,0 .4,3.1a1.6,1.4 83 1,0 -.4,-3.1M196.1,653a2.4,1.8 153 1,0 -4.3,2.1a2.4,1.8 153 1,0 4.3,-2.1M346.7,657.8a3.1,2.4 146 1,0 -5.1,3.5a3.1,2.4 146 1,0 5.1,-3.5M358,607.7a1.3,1.4 32 1,0 2.2,1.4a1.3,1.4 32 1,0 -2.2,-1.4M292.9,609.1a2.3,1.7 19 1,0 4.4,1.5a2.3,1.7 19 1,0 -4.4,-1.5M259.4,593.1a2.8,2.1 129 1,0 -3.5,4.4a2.8,2.1 129 1,0 3.5,-4.4M199.9,628.8a1.7,1.6 48 1,0 2.3,2.5a1.7,1.6 48 1,0 -2.3,-2.5M236.3,565.1a2.3,1.8 65 1,0 2,4.3a2.3,1.8 65 1,0 -2,-4.3M278.1,565.7a1.5,1.4 94 1,0 -.2,2.9a1.5,1.4 94 1,0 .2,-2.9M348.1,523.1a2.8,2.4 162 1,0 -5.3,1.7a2.8,2.4 162 1,0 5.3,-1.7M220.7,560.2a1.5,1.2 26 1,0 2.7,1.3a1.5,1.2 26 1,0 -2.7,-1.3M254.4,652.5a2.1,1.8 166 1,0 -4,1a2.1,1.8 166 1,0 4,-1M289.8,512.9a1.2,1.3 59 1,0 1.3,2.1a1.2,1.3 59 1,0 -1.3,-2.1M247.3,608.3a1.9,1.5 119 1,0 -1.8,3.2a1.9,1.5 119 1,0 1.8,-3.2M320.4,553.4a1.9,1.5 108 1,0 -1.2,3.7a1.9,1.5 108 1,0 1.2,-3.7M258.1,610.2a1.8,1.6 149 1,0 -3.1,1.9a1.8,1.6 149 1,0 3.1,-1.9M230.2,523.1a2.9,2.2 10 1,0 5.8,1a2.9,2.2 10 1,0 -5.8,-1M351.1,549a2.1,2.1 125 1,0 -2.4,3.4a2.1,2.1 125 1,0 2.4,-3.4M272.5,517.9a1.3,1.3 146 1,0 -2.2,1.5a1.3,1.3 146 1,0 2.2,-1.5M325.3,578.5a2.2,1.9 147 1,0 -3.8,2.4a2.2,1.9 147 1,0 3.8,-2.4M352.6,624.5a1.7,1.4 55 1,0 2,2.9a1.7,1.4 55 1,0 -2,-2.9M297.4,638.6a1.9,1.9 9 1,0 3.8,.6a1.9,1.9 9 1,0 -3.8,-.6M324.5,608.2a2.7,2.2 153 1,0 -4.8,2.5a2.7,2.2 153 1,0 4.8,-2.5M350.5,631.9a2.9,2.3 8 1,0 5.8,.8a2.9,2.3 8 1,0 -5.8,-.8M344.2,648.5a3.2,2.4 6 1,0 6.4,.7a3.2,2.4 6 1,0 -6.4,-.7M205.6,639.7a3.2,2.3 161 1,0 -6.1,2.1a3.2,2.3 161 1,0 6.1,-2.1M208.8,654.8a1.5,1.6 175 1,0 -3.1,.3a1.5,1.6 175 1,0 3.1,-.3M186.8,629.6a2.6,1.9 30 1,0 4.6,2.6a2.6,1.9 30 1,0 -4.6,-2.6M151.7,647.9a2,1.9 153 1,0 -3.5,1.8a2,1.9 153 1,0 3.5,-1.8M162.8,562.8a3.3,2.5 147 1,0 -5.5,3.6a3.3,2.5 147 1,0 5.5,-3.6M288.4,618.7a1.4,1.5 154 1,0 -2.6,1.3a1.4,1.5 154 1,0 2.6,-1.3M346,589.7a3,2.3 107 1,0 -1.8,5.6a3,2.3 107 1,0 1.8,-5.6M346.6,518.4a3,2.2 18 1,0 5.7,1.8a3,2.2 18 1,0 -5.7,-1.8M317,634a2,1.9 31 1,0 3.5,2.1a2,1.9 31 1,0 -3.5,-2.1M151.8,657a1.4,1.3 26 1,0 2.4,1.2a1.4,1.3 26 1,0 -2.4,-1.2M214,619.4a2.5,1.8 166 1,0 -4.9,1.2a2.5,1.8 166 1,0 4.9,-1.2M356,540.7a2.3,1.7 116 1,0 -2,4.1a2.3,1.7 116 1,0 2,-4.1M347.6,562.2a2.1,1.8 140 1,0 -3.3,2.7a2.1,1.8 140 1,0 3.3,-2.7M340.2,531.3a1.4,1.2 48 1,0 1.9,2.1a1.4,1.2 48 1,0 -1.9,-2.1"/><path fill="#969696" d="M329.3,526.8a2.1,1.7 123 1,0 -2.3,3.5a2.1,1.7 123 1,0 2.3,-3.5M311.4,511.3a2.6,2.3 12 1,0 5,1.1a2.6,2.3 12 1,0 -5,-1.1M311.4,570.2a2.1,2 180 1,0 -4.1,0a2.1,2 180 1,0 4.1,-0M151,564a2.5,2.2 172 1,0 -5,.7a2.5,2.2 172 1,0 5,-.7M207.5,534.7a1.9,1.6 45 1,0 2.7,2.8a1.9,1.6 45 1,0 -2.7,-2.8M343.2,509.3a2,2 60 1,0 2,3.4a2,2 60 1,0 -2,-3.4M275.3,525.9a1.5,1.4 168 1,0 -3,.6a1.5,1.4 168 1,0 3,-.6M251.8,532.8a2.6,2.4 143 1,0 -4.2,3.1a2.6,2.4 143 1,0 4.2,-3.1M219,636a2.7,2.5 92 1,0 -.2,5.4a2.7,2.5 92 1,0 .2,-5.4M330.1,614.3a2,1.6 59 1,0 2.1,3.4a2,1.6 59 1,0 -2.1,-3.4M314.9,583a2.3,2 128 1,0 -2.9,3.6a2.3,2 128 1,0 2.9,-3.6M318.7,643.8a2.1,1.8 5 1,0 4.2,.4a2.1,1.8 5 1,0 -4.2,-.4M270.5,535.2a2.2,2.1 109 1,0 -1.4,4.1a2.2,2.1 109 1,0 1.4,-4.1M307.3,520.8a2.3,2.3 5 1,0 4.5,.4a2.3,2.3 5 1,0 -4.5,-.4M276.5,631.5a2,1.5 108 1,0 -1.3,3.8a2,1.5 108 1,0 1.3,-3.8M253.6,551.9a2.4,1.8 61 1,0 2.3,4.2a2.4,1.8 61 1,0 -2.3,-4.2M240.7,637.5a3,2.5 11 1,0 5.9,1.1a3,2.5 11 1,0 -5.9,-1.1M335,594.2a1.5,1.2 137 1,0 -2.2,2a1.5,1.2 137 1,0 2.2,-2M290.6,525.6a2,1.8 125 1,0 -2.3,3.3a2,1.8 125 1,0 2.3,-3.3M346.2,523.7a2.1,1.8 120 1,0 -2.1,3.6a2.1,1.8 120 1,0 2.1,-3.6M341.7,623.9a1.6,1.5 34 1,0 2.6,1.8a1.6,1.5 34 1,0 -2.6,-1.8M251.8,626.8a2.8,2.2 84 1,0 .6,5.7a2.8,2.2 84 1,0 -.6,-5.7M284.9,654.9a1.3,1.3 23 1,0 2.5,1a1.3,1.3 23 1,0 -2.5,-1M327.9,563.5a2.5,2.1 120 1,0 -2.4,4.3a2.5,2.1 120 1,0 2.4,-4.3M271.1,554.4a1.8,1.4 169 1,0 -3.6,.7a1.8,1.4 169 1,0 3.6,-.7M238.7,645.4a1.5,1.3 63 1,0 1.4,2.8a1.5,1.3 63 1,0 -1.4,-2.8M198.1,518.8a2,1.7 145 1,0 -3.3,2.3a2,1.7 145 1,0 3.3,-2.3M308.2,535.3a1.8,1.7 56 1,0 2,3a1.8,1.7 56 1,0 -2,-3M189.7,651.4a2.4,2.2 1 1,0 4.8,.1a2.4,2.2 1 1,0 -4.8,-.1M302,580.6a2.2,2.3 155 1,0 -4.1,1.9a2.2,2.3 155 1,0 4.1,-1.9M273.5,583.8a2.2,1.7 40 1,0 3.4,2.8a2.2,1.7 40 1,0 -3.4,-2.8M265,531.9a2.8,2.2 147 1,0 -4.8,3a2.8,2.2 147 1,0 4.8,-3M267.9,602.3a2,2 12 1,0 4,.9a2,2 12 1,0 -4,-.9M334.5,553.6a1.6,1.4 72 1,0 1,3a1.6,1.4 72 1,0 -1,-3M258.5,645.4a1.7,1.4 39 1,0 2.7,2.1a1.7,1.4 39 1,0 -2.7,-2.1M167.3,608a2.1,1.6 99 1,0 -.6,4.1a2.1,1.6 99 1,0 .6,-4.1M284.6,579.2a2.5,2 54 1,0 2.9,4.1a2.5,2 54 1,0 -2.9,-4.1M280.5,525.5a3,2.5 91 1,0 -.1,6.1a3,2.5 91 1,0 .1,-6.1M217.3,527.8a2.9,2.4 122 1,0 -3,4.9a2.9,2.4 122 1,0 3,-4.9M202.9,577.1a2.9,2.4 40 1,0 4.5,3.8a2.9,2.4 40 1,0 -4.5,-3.8M223.9,647.2a2.4,2.2 103 1,0 -1.1,4.7a2.4,2.2 103 1,0 1.1,-4.7M290.4,621.1a2,1.6 163 1,0 -3.7,1.1a2,1.6 163 1,0 3.7,-1.1M335,547.9a1.5,1.2 19 1,0 2.8,1a1.5,1.2 19 1,0 -2.8,-1M298.4,511.6a1.4,1.4 123 1,0 -1.5,2.3a1.4,1.4 123 1,0 1.5,-2.3M236.9,589.2a2.5,1.9 71 1,0 1.6,4.7a2.5,1.9 71 1,0 -1.6,-4.7M293,587.6a2.1,2 179 1,0 -4.1,.1a2.1,2 179 1,0 4.1,-.1M238.8,584.6a1.8,1.7 116 1,0 -1.6,3.2a1.8,1.7 116 1,0 1.6,-3.2M232,586.1a1.9,1.7 159 1,0 -3.5,1.3a1.9,1.7 159 1,0 3.5,-1.3M312.8,551.6a1.7,1.5 101 1,0 -.6,3.3a1.7,1.5 101 1,0 .6,-3.3M294.2,529.3a1.8,1.5 11 1,0 3.6,.7a1.8,1.5 11 1,0 -3.6,-.7M233,633.2a1.9,1.7 78 1,0 .8,3.8a1.9,1.7 78 1,0 -.8,-3.8M328,604.9a2.2,2 171 1,0 -4.3,.7a2.2,2 171 1,0 4.3,-.7M202.6,639.6a1.4,1.2 147 1,0 -2.3,1.5a1.4,1.2 147 1,0 2.3,-1.5M218,611.4a2.2,1.6 93 1,0 -.2,4.3a2.2,1.6 93 1,0 .2,-4.3M355.9,630.4a2.4,1.8 61 1,0 2.4,4.3a2.4,1.8 61 1,0 -2.4,-4.3M203.2,595.1a2.8,2.1 124 1,0 -3.1,4.6a2.8,2.1 124 1,0 3.1,-4.6M264.4,655.4a2.5,2.5 155 1,0 -4.5,2.1a2.5,2.5 155 1,0 4.5,-2.1M301.1,596.5a1.5,1.5 128 1,0 -1.9,2.4a1.5,1.5 128 1,0 1.9,-2.4M211,630a2.3,1.8 180 1,0 -4.7,0a2.3,1.8 180 1,0 4.7,-0M216.7,540.1a2.9,2.2 4 1,0 5.9,.4a2.9,2.2 4 1,0 -5.9,-.4M213.9,519.3a1.6,1.3 155 1,0 -2.9,1.3a1.6,1.3 155 1,0 2.9,-1.3M204.5,612.2a2.4,2.4 93 1,0 -.3,4.9a2.4,2.4 93 1,0 .3,-4.9M257.9,638.4a1.9,1.7 157 1,0 -3.5,1.5a1.9,1.7 157 1,0 3.5,-1.5M314.2,631a3.1,2.5 53 1,0 3.7,5a3.1,2.5 53 1,0 -3.7,-5M258.3,615a1.7,1.3 82 1,0 .4,3.3a1.7,1.3 82 1,0 -.4,-3.3M159.8,636.5a1.9,1.4 172 1,0 -3.8,.5a1.9,1.4 172 1,0 3.8,-.5M347.5,540.4a1.4,1.3 143 1,0 -2.3,1.7a1.4,1.3 143 1,0 2.3,-1.7M336.4,654.4a3.2,2.3 2 1,0 6.4,.2a3.2,2.3 2 1,0 -6.4,-.2M321.3,652.5a1.5,1.4 40 1,0 2.3,1.9a1.5,1.4 40 1,0 -2.3,-1.9M180.1,562.6a2,2 90 1,0 -0,4a2,2 90 1,0 0,-4M357.6,600.6a1.9,1.6 103 1,0 -.8,3.7a1.9,1.6 103 1,0 .8,-3.7M288.5,535.3a1.8,1.4 147 1,0 -3,1.9a1.8,1.4 147 1,0 3,-1.9M267.2,540.9a2.1,1.6 72 1,0 1.3,3.9a2.1,1.6 72 1,0 -1.3,-3.9M147.3,525.1a2.8,2.2 73 1,0 1.6,5.3a2.8,2.2 73 1,0 -1.6,-5.3M229.2,576.9a2.1,1.5 83 1,0 .5,4.2a2.1,1.5 83 1,0 -.5,-4.2M362,607.8a1.7,1.5 64 1,0 1.5,3a1.7,1.5 64 1,0 -1.5,-3M257.1,657.6a2.8,2.4 177 1,0 -5.5,.3a2.8,2.4 177 1,0 5.5,-.3M228.8,517.5a1.7,1.7 47 1,0 2.3,2.5a1.7,1.7 47 1,0 -2.3,-2.5M250.1,600.2a1.9,1.8 65 1,0 1.6,3.4a1.9,1.8 65 1,0 -1.6,-3.4M215.9,588a2.7,2 79 1,0 1,5.3a2.7,2 79 1,0 -1,-5.3M177,642a2.1,1.8 88 1,0 .1,4.2a2.1,1.8 88 1,0 -.1,-4.2M239.2,517.5a2.5,2 126 1,0 -3,4.1a2.5,2 126 1,0 3,-4.1M266.2,597.2a2.9,2.4 179 1,0 -5.8,.1a2.9,2.4 179 1,0 5.8,-.1M265.5,559.8a2.1,1.9 81 1,0 .6,4.2a2.1,1.9 81 1,0 -.6,-4.2M355.4,501.5a1.5,1.2 93 1,0 -.2,3a1.5,1.2 93 1,0 .2,-3M362.3,583.6a2,1.5 58 1,0 2.1,3.3a2,1.5 58 1,0 -2.1,-3.3M354.2,646.7a2.2,2.3 125 1,0 -2.5,3.7a2.2,2.3 125 1,0 2.5,-3.7M215.8,638.3a2.9,2.1 75 1,0 1.5,5.6a2.9,2.1 75 1,0 -1.5,-5.6M339.5,587.7a2,1.7 32 1,0 3.3,2.1a2,1.7 32 1,0 -3.3,-2.1M338.2,555.7a3.3,2.5 61 1,0 3.2,5.7a3.3,2.5 61 1,0 -3.2,-5.7M198.5,513.8a2.4,2 9 1,0 4.7,.8a2.4,2 9 1,0 -4.7,-.8M298.4,571.3a2.2,1.7 128 1,0 -2.7,3.4a2.2,1.7 128 1,0 2.7,-3.4M351.6,522.5a3.2,2.4 71 1,0 2.1,6.1a3.2,2.4 71 1,0 -2.1,-6.1M303.1,585a2.7,2.3 14 1,0 5.2,1.3a2.7,2.3 14 1,0 -5.2,-1.3M152.5,574a2.2,1.9 173 1,0 -4.4,.5a2.2,1.9 173 1,0 4.4,-.5M353.9,515.7a2.6,1.9 78 1,0 1.1,5.1a2.6,1.9 78 1,0 -1.1,-5.1M313.3,540.7a2.9,2.2 69 1,0 2.1,5.4a2.9,2.2 69 1,0 -2.1,-5.4M174.9,585.4a1.8,1.6 114 1,0 -1.5,3.4a1.8,1.6 114 1,0 1.5,-3.4M318.1,621.5a1.9,2 49 1,0 2.5,2.9a1.9,2 49 1,0 -2.5,-2.9M292.2,642.2a1.6,1.3 7 1,0 3.1,.4a1.6,1.3 7 1,0 -3.1,-.4M256.7,568a1.4,1.3 88 1,0 .1,2.8a1.4,1.3 88 1,0 -.1,-2.8M271.6,537.2a2.5,2.4 15 1,0 4.8,1.3a2.5,2.4 15 1,0 -4.8,-1.3M215.3,657.9a1.8,1.9 173 1,0 -3.7,.5a1.8,1.9 173 1,0 3.7,-.5M311.7,514.9a2,1.7 100 1,0 -.7,3.9a2,1.7 100 1,0 .7,-3.9M286.9,652.7a1.5,1.3 169 1,0 -2.9,.6a1.5,1.3 169 1,0 2.9,-.6M337.8,631a2.2,2.1 126 1,0 -2.6,3.6a2.2,2.1 126 1,0 2.6,-3.6M163.4,607.9a1.7,1.7 112 1,0 -1.3,3.2a1.7,1.7 112 1,0 1.3,-3.2M339,526.5a2.2,1.8 88 1,0 .2,4.5a2.2,1.8 88 1,0 -.2,-4.5M334.3,589.9a2.3,2.4 85 1,0 .4,4.5a2.3,2.4 85 1,0 -.4,-4.5M331,534.6a2.2,1.5 72 1,0 1.3,4.1a2.2,1.5 72 1,0 -1.3,-4.1M291,550.1a2.1,1.7 82 1,0 .6,4.2a2.1,1.7 82 1,0 -.6,-4.2M215.1,649.2a2.3,2.2 160 1,0 -4.3,1.5a2.3,2.2 160 1,0 4.3,-1.5M327.5,611.1a2.1,1.9 131 1,0 -2.8,3.2a2.1,1.9 131 1,0 2.8,-3.2M240.9,542.5a1.4,1.3 102 1,0 -.6,2.6a1.4,1.3 102 1,0 .6,-2.6M307.9,520.2a2.6,2.5 92 1,0 -.2,5.2a2.6,2.5 92 1,0 .2,-5.2M155,642.7a2,1.5 178 1,0 -3.9,.2a2,1.5 178 1,0 3.9,-.2M256.4,650.3a1.8,1.6 73 1,0 1,3.4a1.8,1.6 73 1,0 -1,-3.4M340.2,535.7a2.5,1.9 170 1,0 -4.9,.9a2.5,1.9 170 1,0 4.9,-.9M153.6,631a2.9,2.1 68 1,0 2.2,5.3a2.9,2.1 68 1,0 -2.2,-5.3M298.9,531.2a3,2.3 40 1,0 4.6,3.8a3,2.3 40 1,0 -4.6,-3.8M159.3,647.9a2.5,2.5 93 1,0 -.3,5a2.5,2.5 93 1,0 .3,-5M276.3,582.8a2.2,2 159 1,0 -4.2,1.6a2.2,2 159 1,0 4.2,-1.6M251.3,609.3a2.4,1.8 102 1,0 -1,4.7a2.4,1.8 102 1,0 1,-4.7M258.2,579a2.3,1.8 95 1,0 -.4,4.6a2.3,1.8 95 1,0 .4,-4.6M361.7,514.3a1.5,1.3 30 1,0 2.6,1.5a1.5,1.3 30 1,0 -2.6,-1.5M288.1,608.1a2.3,1.8 154 1,0 -4.2,2a2.3,1.8 154 1,0 4.2,-2M291.6,605.2a1.5,1.3 108 1,0 -.9,2.9a1.5,1.3 108 1,0 .9,-2.9M319.7,645.2a2.7,1.9 108 1,0 -1.7,5.1a2.7,1.9 108 1,0 1.7,-5.1M322.2,619.8a1.7,1.5 37 1,0 2.6,2a1.7,1.5 37 1,0 -2.6,-2M205.4,624.9a1.5,1.3 30 1,0 2.5,1.5a1.5,1.3 30 1,0 -2.5,-1.5M149.9,561.7a2.7,2.2 28 1,0 4.7,2.5a2.7,2.2 28 1,0 -4.7,-2.5M293.1,561.4a1.7,1.3 145 1,0 -2.8,2a1.7,1.3 145 1,0 2.8,-2M351.9,591.1a1.9,1.4 104 1,0 -.9,3.7a1.9,1.4 104 1,0 .9,-3.7M293.3,528.5a1.8,1.3 32 1,0 3,1.9a1.8,1.3 32 1,0 -3,-1.9M296.5,503.1a1.8,1.8 23 1,0 3.3,1.4a1.8,1.8 23 1,0 -3.3,-1.4M228.4,653.8a1.5,1.5 20 1,0 2.9,1a1.5,1.5 20 1,0 -2.9,-1M268.6,511.6a2.8,2 140 1,0 -4.2,3.5a2.8,2 140 1,0 4.2,-3.5M228.7,617.3a1.6,1.3 45 1,0 2.3,2.3a1.6,1.3 45 1,0 -2.3,-2.3M279.5,612.1a1.9,1.4 90 1,0 -0,3.8a1.9,1.4 90 1,0 0,-3.8M334.3,649.7a2.3,1.7 114 1,0 -1.9,4.2a2.3,1.7 114 1,0 1.9,-4.2M240.9,634.7a1.8,1.4 1 1,0 3.6,.1a1.8,1.4 1 1,0 -3.6,-.1M294.8,622.4a1.8,1.4 65 1,0 1.5,3.2a1.8,1.4 65 1,0 -1.5,-3.2M315.6,584.4a1.8,1.7 69 1,0 1.3,3.3a1.8,1.7 69 1,0 -1.3,-3.3M269.8,650.4a1.4,1.4 29 1,0 2.4,1.3a1.4,1.4 29 1,0 -2.4,-1.3M163.6,597.3a1.3,1.2 19 1,0 2.4,.8a1.3,1.2 19 1,0 -2.4,-.8M257.4,616.5a2.4,2 24 1,0 4.3,1.9a2.4,2 24 1,0 -4.3,-1.9M363,624.4a1.7,1.3 176 1,0 -3.3,.2a1.7,1.3 176 1,0 3.3,-.2M242.6,593.2a1.7,1.2 38 1,0 2.6,2a1.7,1.2 38 1,0 -2.6,-2M154.4,616.4a2.1,2 117 1,0 -1.9,3.7a2.1,2 117 1,0 1.9,-3.7M279.7,585.5a1.7,1.3 170 1,0 -3.3,.6a1.7,1.3 170 1,0 3.3,-.6M305,536.7a2,1.5 64 1,0 1.7,3.5a2,1.5 64 1,0 -1.7,-3.5M249.7,561.6a1.9,1.8 106 1,0 -1.1,3.7a1.9,1.8 106 1,0 1.1,-3.7M263.3,635.3a2.8,2.2 118 1,0 -2.6,4.9a2.8,2.2 118 1,0 2.6,-4.9"/><path fill="#a8a8a8" d="M204.3,603.6a1.4,1.3 1 1,0 2.7,0a1.4,1.3 1 1,0 -2.7,-0M191,549.2a2.8,2 81 1,0 .8,5.5a2.8,2 81 1,0 -.8,-5.5M322,531.5a1.5,1.3 74 1,0 .8,2.8a1.5,1.3 74 1,0 -.8,-2.8M211,540.8a3.2,2.4 154 1,0 -5.7,2.8a3.2,2.4 154 1,0 5.7,-2.8M196.9,565.6a2.5,1.8 30 1,0 4.3,2.4a2.5,1.8 30 1,0 -4.3,-2.4M216.6,619.5a1.6,1.3 101 1,0 -.6,3.1a1.6,1.3 101 1,0 .6,-3.1M239.9,529.9a3.1,2.4 156 1,0 -5.7,2.6a3.1,2.4 156 1,0 5.7,-2.6M213.7,596.8a2.5,1.9 34 1,0 4.2,2.8a2.5,1.9 34 1,0 -4.2,-2.8M300.3,589.5a1.8,1.4 163 1,0 -3.5,1.1a1.8,1.4 163 1,0 3.5,-1.1M316.3,597.1a1.9,1.6 38 1,0 2.9,2.3a1.9,1.6 38 1,0 -2.9,-2.3M251,634.7a1.7,1.3 104 1,0 -.8,3.4a1.7,1.3 104 1,0 .8,-3.4M311.4,623.1a1.4,1.3 145 1,0 -2.3,1.6a1.4,1.3 145 1,0 2.3,-1.6M293.7,656.2a2.4,2 129 1,0 -3.1,3.7a2.4,2 129 1,0 3.1,-3.7M297.7,612.5a1.4,1.3 84 1,0 .3,2.8a1.4,1.3 84 1,0 -.3,-2.8M225.8,619.3a2.8,2.3 132 1,0 -3.7,4.1a2.8,2.3 132 1,0 3.7,-4.1M275.7,605.8a1.3,1.3 83 1,0 .3,2.6a1.3,1.3 83 1,0 -.3,-2.6M212.7,607.4a3.4,2.4 36 1,0 5.5,3.9a3.4,2.4 36 1,0 -5.5,-3.9M172.1,657a2.1,1.7 12 1,0 4,.9a2.1,1.7 12 1,0 -4,-.9M253.5,569a2.1,1.7 78 1,0 .9,4.2a2.1,1.7 78 1,0 -.9,-4.2M243.7,504.1a2,1.6 55 1,0 2.3,3.3a2,1.6 55 1,0 -2.3,-3.3M274,574.7a2.6,1.9 99 1,0 -.8,5.2a2.6,1.9 99 1,0 .8,-5.2M220.1,654.3a1.5,1.5 12 1,0 3,.6a1.5,1.5 12 1,0 -3,-.6M214.9,658a1.7,1.4 142 1,0 -2.6,2a1.7,1.4 142 1,0 2.6,-2M242.9,574.4a2.2,1.6 90 1,0 -0,4.4a2.2,1.6 90 1,0 0,-4.4M255.2,514.1a1.6,1.3 109 1,0 -1,3a1.6,1.3 109 1,0 1,-3M207.9,657.1a2.4,1.8 85 1,0 .5,4.9a2.4,1.8 85 1,0 -.5,-4.9M245.8,519a3.1,2.3 53 1,0 3.8,5a3.1,2.3 53 1,0 -3.8,-5M300.7,566.3a1.9,1.8 99 1,0 -.6,3.8a1.9,1.8 99 1,0 .6,-3.8M304.4,631.9a2.6,2 80 1,0 .9,5.2a2.6,2 80 1,0 -.9,-5.2M361,539.3a1.6,1.7 134 1,0 -2.3,2.4a1.6,1.7 134 1,0 2.3,-2.4M318,528.6a1.6,1.3 43 1,0 2.3,2.2a1.6,1.3 43 1,0 -2.3,-2.2M364.2,635.4a1.6,1.3 103 1,0 -.8,3.1a1.6,1.3 103 1,0 .8,-3.1M363,546.8a2.7,2.5 102 1,0 -1.1,5.2a2.7,2.5 102 1,0 1.1,-5.2M159.2,544.8a2.4,2.4 38 1,0 3.8,3a2.4,2.4 38 1,0 -3.8,-3M314.9,638.9a2.3,1.9 6 1,0 4.6,.5a2.3,1.9 6 1,0 -4.6,-.5M313.6,614.2a2,1.5 74 1,0 1.1,3.8a2,1.5 74 1,0 -1.1,-3.8M239.5,545.4a2.5,2.1 56 1,0 2.8,4.1a2.5,2.1 56 1,0 -2.8,-4.1M359.8,529.2a3.2,2.4 166 1,0 -6.2,1.6a3.2,2.4 166 1,0 6.2,-1.6M257.1,528a2.1,1.5 94 1,0 -.3,4.2a2.1,1.5 94 1,0 .3,-4.2M278.4,557.8a2.7,2.4 61 1,0 2.6,4.7a2.7,2.4 61 1,0 -2.6,-4.7M243.2,585.6a2.2,1.6 35 1,0 3.6,2.5a2.2,1.6 35 1,0 -3.6,-2.5M316.4,623.8a2.6,1.9 147 1,0 -4.3,2.8a2.6,1.9 147 1,0 4.3,-2.8M321.4,522.7a2,1.5 100 1,0 -.7,4a2,1.5 100 1,0 .7,-4M181.8,571.2a2,1.5 167 1,0 -3.9,.9a2,1.5 167 1,0 3.9,-.9M236.7,563.1a2.4,1.7 67 1,0 1.8,4.4a2.4,1.7 67 1,0 -1.8,-4.4M325.6,612.3a1.6,1.4 1 1,0 3.2,.1a1.6,1.4 1 1,0 -3.2,-.1M210.8,548.8a1.6,1.3 112 1,0 -1.2,2.9a1.6,1.3 112 1,0 1.2,-2.9M157.4,586.7a2,1.4 86 1,0 .3,4a2,1.4 86 1,0 -.3,-4M216.7,563.8a2.4,2.3 136 1,0 -3.4,3.4a2.4,2.3 136 1,0 3.4,-3.4M348.3,582.4a2.2,2.2 108 1,0 -1.4,4.2a2.2,2.2 108 1,0 1.4,-4.2M288.8,530.4a2.9,2.5 156 1,0 -5.3,2.3a2.9,2.5 156 1,0 5.3,-2.3M199.2,629.4a1.7,1.7 11 1,0 3.3,.6a1.7,1.7 11 1,0 -3.3,-.6M342,571.2a2.7,2.4 123 1,0 -2.9,4.5a2.7,2.4 123 1,0 2.9,-4.5M246.4,614.3a2.3,1.8 45 1,0 3.3,3.2a2.3,1.8 45 1,0 -3.3,-3.2M285.7,561.1a2.1,1.9 54 1,0 2.5,3.5a2.1,1.9 54 1,0 -2.5,-3.5M255.3,615.3a2.2,2.2 143 1,0 -3.5,2.7a2.2,2.2 143 1,0 3.5,-2.7M165.6,657.3a1.4,1.2 99 1,0 -.5,2.7a1.4,1.2 99 1,0 .5,-2.7M353.9,592.8a3,2.2 54 1,0 3.5,4.8a3,2.2 54 1,0 -3.5,-4.8M356.2,574.1a2.8,2.1 150 1,0 -4.8,2.8a2.8,2.1 150 1,0 4.8,-2.8M267.4,652.5a1.9,1.5 34 1,0 3.1,2a1.9,1.5 34 1,0 -3.1,-2M177.4,628.9a2.1,1.9 89 1,0 .1,4.2a2.1,1.9 89 1,0 -.1,-4.2M296.1,640.7a2,1.8 0 1,0 3.9,0a2,1.8 0 1,0 -3.9,-0M307,646.7a2.7,2 16 1,0 5.2,1.4a2.7,2 16 1,0 -5.2,-1.4M272.9,558.5a2.9,2.1 139 1,0 -4.3,3.8a2.9,2.1 139 1,0 4.3,-3.8M256.8,599.7a2.1,1.9 72 1,0 1.3,4a2.1,1.9 72 1,0 -1.3,-4M313.9,518.6a1.6,1.3 73 1,0 .9,3a1.6,1.3 73 1,0 -.9,-3M212.9,629.9a1.9,1.4 100 1,0 -.7,3.7a1.9,1.4 100 1,0 .7,-3.7M321.9,505.9a1.7,1.3 17 1,0 3.2,1a1.7,1.3 17 1,0 -3.2,-1M332.3,629.7a1.3,1.4 166 1,0 -2.6,.6a1.3,1.4 166 1,0 2.6,-.6M175.1,526.3a2.8,2.2 31 1,0 4.7,2.9a2.8,2.2 31 1,0 -4.7,-2.9M305.9,509.7a2.5,1.8 159 1,0 -4.6,1.7a2.5,1.8 159 1,0 4.6,-1.7M274.2,621.4a1.5,1.5 152 1,0 -2.6,1.4a1.5,1.5 152 1,0 2.6,-1.4M345,645a1.5,1.3 99 1,0 -.5,3a1.5,1.3 99 1,0 .5,-3M236.9,599.4a2,2.1 160 1,0 -3.8,1.4a2,2.1 160 1,0 3.8,-1.4M325.7,548.8a2.1,1.6 123 1,0 -2.3,3.5a2.1,1.6 123 1,0 2.3,-3.5M306.6,597.3a1.4,1.3 148 1,0 -2.3,1.4a1.4,1.3 148 1,0 2.3,-1.4M221.4,519.1a1.8,1.7 69 1,0 1.3,3.5a1.8,1.7 69 1,0 -1.3,-3.5M306.8,577.6a2.1,2.1 149 1,0 -3.6,2.2a2.1,2.1 149 1,0 3.6,-2.2M323.6,573.2a2.5,2.3 177 1,0 -5,.3a2.5,2.3 177 1,0 5,-.3M291.1,652.2a1.3,1.4 133 1,0 -1.8,1.9a1.3,1.4 133 1,0 1.8,-1.9M212.9,620.8a1.2,1.2 156 1,0 -2.3,1a1.2,1.2 156 1,0 2.3,-1M360.9,502.4a2.2,2.1 116 1,0 -1.9,3.9a2.2,2.1 116 1,0 1.9,-3.9M252,585.9a1.8,1.4 153 1,0 -3.2,1.6a1.8,1.4 153 1,0 3.2,-1.6M282.7,642.8a1.8,1.6 119 1,0 -1.7,3.1a1.8,1.6 119 1,0 1.7,-3.1M337.3,503.5a2.4,2.3 14 1,0 4.7,1.2a2.4,2.3 14 1,0 -4.7,-1.2M175,595.2a2.8,2.4 67 1,0 2.2,5.1a2.8,2.4 67 1,0 -2.2,-5.1M269.5,511.2a3.1,2.2 6 1,0 6.1,.6a3.1,2.2 6 1,0 -6.1,-.6M269.9,629.5a1.7,1.6 156 1,0 -3,1.3a1.7,1.6 156 1,0 3,-1.3M332.5,526.7a2,1.9 47 1,0 2.8,3a2,1.9 47 1,0 -2.8,-3M305.9,503.4a3.3,2.4 150 1,0 -5.7,3.3a3.3,2.4 150 1,0 5.7,-3.3M284.5,508.5a2.2,2.3 10 1,0 4.4,.8a2.2,2.3 10 1,0 -4.4,-.8M310.1,592a1.4,1.3 71 1,0 .9,2.7a1.4,1.3 71 1,0 -.9,-2.7M172.5,547.3a2,1.7 128 1,0 -2.5,3.2a2,1.7 128 1,0 2.5,-3.2M222.7,563.3a1.6,1.4 122 1,0 -1.7,2.8a1.6,1.4 122 1,0 1.7,-2.8M315.3,521.4a2.9,2.3 67 1,0 2.3,5.4a2.9,2.3 67 1,0 -2.3,-5.4M274.7,613.7a1.4,1.5 58 1,0 1.5,2.5a1.4,1.5 58 1,0 -1.5,-2.5M312.6,634.3a1.3,1.3 125 1,0 -1.5,2.1a1.3,1.3 125 1,0 1.5,-2.1M320.5,601.9a2.5,1.8 97 1,0 -.6,4.9a2.5,1.8 97 1,0 .6,-4.9M310.5,575a1.4,1.4 56 1,0 1.5,2.3a1.4,1.4 56 1,0 -1.5,-2.3M290.3,575.8a1.9,1.4 65 1,0 1.6,3.5a1.9,1.4 65 1,0 -1.6,-3.5M206.9,516.4a2.4,2.1 122 1,0 -2.5,4a2.4,2.1 122 1,0 2.5,-4M287,646.2a2,1.6 120 1,0 -2,3.4a2,1.6 120 1,0 2,-3.4M223.2,634.1a2.4,2.2 176 1,0 -4.7,.4a2.4,2.2 176 1,0 4.7,-.4M334.1,561.7a1.8,1.5 10 1,0 3.6,.6a1.8,1.5 10 1,0 -3.6,-.6M269.5,546.3a1.6,1.3 31 1,0 2.7,1.6a1.6,1.3 31 1,0 -2.7,-1.6M274.4,633a2,1.6 44 1,0 2.9,2.8a2,1.6 44 1,0 -2.9,-2.8M233.4,627a2.1,1.7 0 1,0 4.3,0a2.1,1.7 0 1,0 -4.3,-0M361.2,539.3a1.7,1.3 135 1,0 -2.5,2.4a1.7,1.3 135 1,0 2.5,-2.4M315.1,508.3a2.3,1.7 111 1,0 -1.7,4.3a2.3,1.7 111 1,0 1.7,-4.3M290.3,655.7a1.7,1.4 29 1,0 2.9,1.6a1.7,1.4 29 1,0 -2.9,-1.6M299.4,612.6a2.6,2.2 14 1,0 5,1.2a2.6,2.2 14 1,0 -5,-1.2M293.6,517.2a2.6,2.3 93 1,0 -.2,5.2a2.6,2.3 93 1,0 .2,-5.2M234.6,621.9a1.6,1.6 24 1,0 2.9,1.3a1.6,1.6 24 1,0 -2.9,-1.3M208.8,595.6a1.7,1.6 73 1,0 1,3.2a1.7,1.6 73 1,0 -1,-3.2M359.5,567.3a3.2,2.3 66 1,0 2.6,5.8a3.2,2.3 66 1,0 -2.6,-5.8M312.6,626.2a1.7,1.5 47 1,0 2.3,2.5a1.7,1.5 47 1,0 -2.3,-2.5M202.2,619.1a2.5,2.2 155 1,0 -4.5,2.1a2.5,2.2 155 1,0 4.5,-2.1M216.7,548.3a1.7,1.3 121 1,0 -1.8,3a1.7,1.3 121 1,0 1.8,-3M176.6,638.5a2.3,1.7 165 1,0 -4.5,1.2a2.3,1.7 165 1,0 4.5,-1.2M206.2,618a2.3,1.7 108 1,0 -1.4,4.3a2.3,1.7 108 1,0 1.4,-4.3M364.7,546.1a2.1,2.1 143 1,0 -3.4,2.6a2.1,2.1 143 1,0 3.4,-2.6M247.1,516.3a2.2,2.1 21 1,0 4,1.5a2.2,2.1 21 1,0 -4,-1.5M158.7,512.9a1.8,1.7 43 1,0 2.6,2.5a1.8,1.7 43 1,0 -2.6,-2.5M251.7,589.2a2.3,1.7 110 1,0 -1.6,4.3a2.3,1.7 110 1,0 1.6,-4.3M298.4,550.3a2.6,2.1 48 1,0 3.5,3.9a2.6,2.1 48 1,0 -3.5,-3.9M162.7,641.2a2.2,1.8 116 1,0 -2,4a2.2,1.8 116 1,0 2,-4M315.8,613.5a2.5,2.1 45 1,0 3.5,3.4a2.5,2.1 45 1,0 -3.5,-3.4M262,565a1.9,1.5 179 1,0 -3.8,0a1.9,1.5 179 1,0 3.8,-0M235.9,527.6a2.4,1.9 23 1,0 4.3,1.9a2.4,1.9 23 1,0 -4.3,-1.9M222.4,507.8a2.7,2.1 116 1,0 -2.3,4.8a2.7,2.1 116 1,0 2.3,-4.8M243.9,627.3a2.4,2 88 1,0 .1,4.8a2.4,2 88 1,0 -.1,-4.8M345.5,572.4a1.7,1.2 112 1,0 -1.2,3.1a1.7,1.2 112 1,0 1.2,-3.1M288.1,528.3a1.4,1.3 45 1,0 1.9,1.9a1.4,1.3 45 1,0 -1.9,-1.9M360.7,653.5a1.7,1.2 127 1,0 -2.1,2.7a1.7,1.2 127 1,0 2.1,-2.7M332.2,564.1a2.1,2 108 1,0 -1.3,4a2.1,2 108 1,0 1.3,-4M291.3,502.5a2.3,1.7 111 1,0 -1.7,4.3a2.3,1.7 111 1,0 1.7,-4.3M222.1,647.7a2.6,2.2 106 1,0 -1.4,5a2.6,2.2 106 1,0 1.4,-5M282.1,567.9a2,1.8 90 1,0 0,4a2,1.8 90 1,0 -0,-4M238.2,594a2.6,2.1 178 1,0 -5.1,.2a2.6,2.1 178 1,0 5.1,-.2M272.9,589.2a2,1.8 15 1,0 3.8,1.1a2,1.8 15 1,0 -3.8,-1.1M225.9,536.5a2.3,1.8 124 1,0 -2.6,3.7a2.3,1.8 124 1,0 2.6,-3.7M277.2,506.2a1.6,1.5 42 1,0 2.3,2.1a1.6,1.5 42 1,0 -2.3,-2.1M212.7,534.8a2.3,2.1 1 1,0 4.6,.1a2.3,2.1 1 1,0 -4.6,-.1M187,540a2.4,2.2 119 1,0 -2.3,4.2a2.4,2.2 119 1,0 2.3,-4.2M163,613.8a3.3,2.4 100 1,0 -1.1,6.6a3.3,2.4 100 1,0 1.1,-6.6M235.7,551.1a1.8,1.7 118 1,0 -1.7,3.1a1.8,1.7 118 1,0 1.7,-3.1M283.7,641.7a1.6,1.6 3 1,0 3.2,.2a1.6,1.6 3 1,0 -3.2,-.2M247.8,527.7a1.5,1.5 45 1,0 2.1,2.1a1.5,1.5 45 1,0 -2.1,-2.1M305.3,541.5a1.9,1.8 101 1,0 -.8,3.8a1.9,1.8 101 1,0 .8,-3.8M336.4,617.2a2.3,1.7 169 1,0 -4.5,.9a2.3,1.7 169 1,0 4.5,-.9M299,579.9a2.3,1.9 132 1,0 -3.1,3.4a2.3,1.9 132 1,0 3.1,-3.4M148.3,595.4a2.5,2.2 61 1,0 2.5,4.4a2.5,2.2 61 1,0 -2.5,-4.4M327.4,656.9a2.5,2.5 80 1,0 .9,5a2.5,2.5 80 1,0 -.9,-5M289.2,560.5a2.7,2.1 141 1,0 -4.1,3.3a2.7,2.1 141 1,0 4.1,-3.3M291.4,622.9a2.5,2.3 118 1,0 -2.3,4.4a2.5,2.3 118 1,0 2.3,-4.4M228.9,521.4a1.6,1.3 164 1,0 -3.1,.9a1.6,1.3 164 1,0 3.1,-.9M258.6,557.7a2.7,1.9 118 1,0 -2.5,4.7a2.7,1.9 118 1,0 2.5,-4.7M350.3,629.6a1.5,1.2 168 1,0 -3,.6a1.5,1.2 168 1,0 3,-.6M282,516.1a1.5,1.3 126 1,0 -1.8,2.4a1.5,1.3 126 1,0 1.8,-2.4M308,561.7a2.7,2.2 37 1,0 4.3,3.3a2.7,2.2 37 1,0 -4.3,-3.3M339.2,630.7a1.6,1.6 10 1,0 3.2,.6a1.6,1.6 10 1,0 -3.2,-.6M313.2,556.1a2.3,1.8 75 1,0 1.2,4.5a2.3,1.8 75 1,0 -1.2,-4.5M289.2,539.5a2.1,1.7 89 1,0 .1,4.2a2.1,1.7 89 1,0 -.1,-4.2M265,538.1a1.6,1.3 140 1,0 -2.4,2a1.6,1.3 140 1,0 2.4,-2M324.5,528.1a2.3,2.2 20 1,0 4.4,1.6a2.3,2.2 20 1,0 -4.4,-1.6M272.4,557.1a1.4,1.3 85 1,0 .2,2.7a1.4,1.3 85 1,0 -.2,-2.7M318.6,573.7a2.3,2.4 67 1,0 1.7,4.2a2.3,2.4 67 1,0 -1.7,-4.2M194.4,547.5a1.9,1.5 1 1,0 3.9,.1a1.9,1.5 1 1,0 -3.9,-.1M272.5,568.7a2,1.9 116 1,0 -1.7,3.6a2,1.9 116 1,0 1.7,-3.6M361.6,644.6a1.5,1.6 96 1,0 -.3,3a1.5,1.6 96 1,0 .3,-3M262.9,555.3a1.2,1.2 144 1,0 -2,1.4a1.2,1.2 144 1,0 2,-1.4"/></g>
</g>
<ellipse cx="261.0" cy="592.5" rx="11.0" ry="7.3" transform="rotate(-10 261.0 592.5)" fill="#747474" stroke="#a8a8a8" stroke-width="0.7"/>
<ellipse cx="278.1" cy="584.0" rx="5.5" ry="10.5" transform="rotate(-35 278.1 584.0)" fill="#7c7c7c" stroke="#a8a8a8" stroke-width="0.7"/>
<ellipse cx="306.1" cy="575.5" rx="8.0" ry="8.0" transform="rotate(0 306.1 575.5)" fill="#7a7a7a" stroke="#a8a8a8" stroke-width="0.7"/>
<ellipse cx="340.2" cy="597.4" rx="12.0" ry="5.5" transform="rotate(25 340.2 597.4)" fill="#7e7e7e" stroke="#a8a8a8" stroke-width="0.7"/>
<ellipse cx="298.8" cy="610.8" rx="8.0" ry="15.0" transform="rotate(20 298.8 610.8)" fill="#777777" stroke="#a8a8a8" stroke-width="0.7"/>
<ellipse cx="293.9" cy="644.8" rx="6.5" ry="10.0" transform="rotate(0 293.9 644.8)" fill="#6e6e6e" stroke="#a8a8a8" stroke-width="0.7"/>
<ellipse cx="276.9" cy="635.1" rx="8.0" ry="7.0" transform="rotate(0 276.9 635.1)" fill="#959595" stroke="#a8a8a8" stroke-width="0.7"/>
<ellipse cx="328.0" cy="632.7" rx="10.0" ry="5.5" transform="rotate(20 328.0 632.7)" fill="#a0a0a0" stroke="#a8a8a8" stroke-width="0.7"/>
<ellipse cx="247.7" cy="631.5" rx="6.0" ry="10.0" transform="rotate(10 247.7 631.5)" fill="#848484" stroke="#a8a8a8" stroke-width="0.7"/>
<ellipse cx="302.4" cy="632.7" rx="5.0" ry="6.0" transform="rotate(0 302.4 632.7)" fill="#7c7c7c" stroke="#a8a8a8" stroke-width="0.7"/>
<ellipse cx="289.0" cy="529.2" rx="3.5" ry="7.0" transform="rotate(-30 289.0 529.2)" fill="#868686" stroke="#a8a8a8" stroke-width="0.7"/>
<ellipse cx="355.0" cy="625.0" rx="4.0" ry="6.0" transform="rotate(0 355.0 625.0)" fill="#9a9a9a" stroke="#a8a8a8" stroke-width="0.7"/>
<ellipse cx="195.0" cy="657.0" rx="8.0" ry="7.0" transform="rotate(0 195.0 657.0)" fill="#353535" stroke="none" stroke-width="0.8" filter="url(#b2)"/>
<rect x="130" y="504.6" width="231.8" height="152.6" fill="#000" filter="url(#tex)" opacity="0.12"/>
</g>
<text x="180.60" y="545.20" font-size="7.56" fill="#111" textLength="78.60" lengthAdjust="spacingAndGlyphs" stroke="#111" stroke-width="0.15">Neutrophil granule-like</text>
<text x="180.60" y="554.70" font-size="7.56" fill="#111" textLength="31.00" lengthAdjust="spacingAndGlyphs" stroke="#111" stroke-width="0.15">structures</text>
<text x="300.00" y="539.30" font-size="7.56" fill="#111" textLength="30.60" lengthAdjust="spacingAndGlyphs" stroke="#111" stroke-width="0.15">Eosinophil</text>
<text x="300.00" y="549.10" font-size="7.56" fill="#111" textLength="54.60" lengthAdjust="spacingAndGlyphs" stroke="#111" stroke-width="0.15">specific granules</text>
<line x1="236.60" y1="548.90" x2="225.40" y2="565.40" stroke="#111" stroke-width="0.9"/>
<line x1="236.60" y1="548.90" x2="228.50" y2="577.70" stroke="#111" stroke-width="0.9"/>
<line x1="236.60" y1="548.90" x2="253.00" y2="560.80" stroke="#111" stroke-width="0.9"/>
<line x1="315.10" y1="550.30" x2="284.20" y2="585.10" stroke="#111" stroke-width="0.9"/>
<line x1="315.10" y1="550.30" x2="306.30" y2="568.30" stroke="#111" stroke-width="0.9"/>
<line x1="315.10" y1="550.30" x2="336.30" y2="590.40" stroke="#111" stroke-width="0.9"/>
<text x="333.50" y="649.60" font-size="6.72" fill="#111" textLength="23.20" lengthAdjust="spacingAndGlyphs" stroke="#111" stroke-width="0.15">500 nm</text>
<line x1="334.00" y1="653.50" x2="357.50" y2="653.50" stroke="#111" stroke-width="1.2"/>
<text x="227.50" y="499.40" font-size="9.60" fill="#111" textLength="18.40" lengthAdjust="spacingAndGlyphs" stroke="#111" stroke-width="0.15">Trib1</text>
<text x="246.50" y="496.80" font-size="6.72" fill="#111" textLength="17.30" lengthAdjust="spacingAndGlyphs" stroke="#111" stroke-width="0.15">ΔHSC</text>
<text x="428.60" y="352.50" font-size="7.40" fill="#46679a" textLength="15.00" lengthAdjust="spacingAndGlyphs" stroke="#46679a" stroke-width="0.15">Trib1</text>
<text x="444.20" y="349.90" font-size="5.00" fill="#46679a" textLength="6.80" lengthAdjust="spacingAndGlyphs" stroke="#46679a" stroke-width="0.15">+/+</text>
<text x="453.50" y="352.50" font-size="7.40" fill="#46679a" textLength="14.50" lengthAdjust="spacingAndGlyphs" stroke="#46679a" stroke-width="0.15">CCR3</text>
<text x="468.50" y="349.90" font-size="5.00" fill="#46679a" textLength="1.80" lengthAdjust="spacingAndGlyphs" stroke="#46679a" stroke-width="0.15">+</text>
<text x="474.50" y="352.50" font-size="7.40" fill="#46679a" textLength="10.50" lengthAdjust="spacingAndGlyphs" stroke="#46679a" stroke-width="0.15">Eos</text>
<text x="428.60" y="360.50" font-size="7.40" fill="#ad2e47" textLength="15.00" lengthAdjust="spacingAndGlyphs" stroke="#ad2e47" stroke-width="0.15">Trib1</text>
<text x="444.20" y="357.90" font-size="5.00" fill="#ad2e47" textLength="10.80" lengthAdjust="spacingAndGlyphs" stroke="#ad2e47" stroke-width="0.15">ΔHSC</text>
<text x="458.50" y="360.50" font-size="7.40" fill="#ad2e47" textLength="14.50" lengthAdjust="spacingAndGlyphs" stroke="#ad2e47" stroke-width="0.15">CCR3</text>
<text x="473.50" y="357.90" font-size="5.00" fill="#ad2e47" textLength="1.80" lengthAdjust="spacingAndGlyphs" stroke="#ad2e47" stroke-width="0.15">+</text>
<text x="478.50" y="360.50" font-size="7.40" fill="#ad2e47" textLength="11.00" lengthAdjust="spacingAndGlyphs" stroke="#ad2e47" stroke-width="0.15">Eos</text>
<text x="428.60" y="368.50" font-size="7.40" fill="#a2a2a2" textLength="15.00" lengthAdjust="spacingAndGlyphs" stroke="#a2a2a2" stroke-width="0.15">Trib1</text>
<text x="444.20" y="365.90" font-size="5.00" fill="#a2a2a2" textLength="6.80" lengthAdjust="spacingAndGlyphs" stroke="#a2a2a2" stroke-width="0.15">+/+</text>
<text x="454.00" y="368.50" font-size="7.40" fill="#a2a2a2" textLength="35.60" lengthAdjust="spacingAndGlyphs" stroke="#a2a2a2" stroke-width="0.15">Neutrophils</text>
<path d="M423.46,454.62 L427.31,446.92 L429.23,439.23 L431.15,431.54 L433.08,427.69 L435.00,427.31 L436.92,429.62 L438.85,435.38 L441.73,441.15 L445.58,445.00 L450.38,447.31 L455.19,447.88 L460.00,446.92 L464.81,445.00 L467.69,441.15 L469.62,435.38 L471.15,425.77 L472.50,408.46 L473.85,389.23 L475.00,381.54 L475.77,380.58 L476.92,383.46 L478.27,395.00 L479.23,408.46 L480.19,423.85 L481.15,439.23 L482.12,450.77 L483.08,454.62 Z" fill="#c8c4c4" stroke="#8a8888" stroke-width="1"/>
<path d="M426.35,454.62 L427.31,448.94 L428.27,443.28 L429.62,428.02 L430.77,409.09 L431.54,393.48 L432.31,379.46 L433.08,390.35 L434.04,385.32 L434.62,399.55 L435.38,381.82 L436.54,399.48 L437.31,407.91 L438.46,418.04 L439.81,423.55 L440.77,425.82 L441.73,427.77 L442.69,430.07 L443.65,433.18 L444.62,435.17 L445.58,437.70 L446.54,441.38 L447.50,444.73 L448.46,444.28 L449.42,442.78 L450.77,442.22 L452.31,444.70 L453.27,443.95 L454.23,444.02 L455.19,442.83 L456.15,441.87 L457.12,441.57 L458.46,439.57 L460.00,440.97 L461.54,438.69 L462.88,441.19 L463.85,442.27 L464.81,442.83 L465.77,445.35 L466.73,447.07 L467.69,448.71 L468.65,450.09 L469.62,449.18 L470.58,448.74 L471.54,447.15 L472.50,445.68 L473.85,446.59 L475.38,448.70 L476.35,445.56 L477.31,441.69 L478.85,436.51 L479.62,435.23 L480.77,442.92 L482.12,453.65 L483.08,454.13 L484.04,454.62 L484.97,454.62 L485.91,454.62 L486.84,454.62 L487.77,454.62 L488.71,454.62 L489.64,454.62 L490.58,454.62 L491.51,454.62 L492.45,454.62 L493.38,454.62 L494.31,454.62 L495.25,454.62 L496.18,454.62 L497.12,454.62 L498.05,454.62 L498.98,454.62 L499.92,454.62 L500.85,454.62 L501.79,454.62 L502.72,454.62 L503.65,454.62" fill="none" stroke="#3d5a8a" stroke-width="1.15" stroke-linejoin="round"/>
<path d="M423.46,454.62 L424.42,452.25 L425.38,449.72 L426.35,446.91 L427.31,439.98 L428.27,432.97 L429.62,418.28 L431.15,398.80 L432.12,385.85 L432.69,377.45 L433.46,387.78 L434.23,379.19 L435.00,393.58 L435.77,379.09 L436.92,389.08 L438.46,389.30 L439.23,399.13 L440.38,408.03 L441.35,413.34 L442.31,418.46 L443.27,421.65 L444.23,426.11 L445.19,427.42 L446.15,429.02 L447.31,429.44 L448.46,430.15 L449.42,433.28 L450.38,435.68 L451.35,438.22 L452.69,433.06 L454.23,427.36 L455.19,431.68 L456.15,425.54 L457.12,422.46 L458.08,427.79 L459.04,423.50 L460.00,420.19 L461.54,414.05 L462.88,409.07 L464.23,399.49 L465.38,392.14 L466.54,391.40 L467.31,395.32 L468.08,405.07 L469.23,399.59 L470.58,409.74 L471.54,419.83 L473.08,427.80 L474.04,432.30 L475.00,437.39 L475.96,439.83 L476.92,443.39 L477.88,445.98 L478.85,448.56 L480.19,452.80 L481.15,453.65 L482.12,454.62 L483.05,454.62 L483.99,454.62 L484.92,454.62 L485.86,454.62 L486.80,454.62 L487.73,454.62 L488.67,454.62 L489.61,454.62 L490.54,454.62 L491.48,454.62 L492.42,454.62 L493.35,454.62 L494.29,454.62 L495.23,454.62 L496.16,454.62 L497.10,454.62 L498.04,454.62 L498.97,454.62 L499.91,454.62 L500.84,454.62 L501.78,454.62 L502.72,454.62 L503.65,454.62" fill="none" stroke="#b0283f" stroke-width="1.15" stroke-linejoin="round"/>
<rect x="422.5" y="375.4" width="81.20" height="79.60" fill="none" stroke="#111" stroke-width="1.1"/>
<line x1="420.90" y1="377.40" x2="422.50" y2="377.40" stroke="#222" stroke-width="0.6"/>
<line x1="420.90" y1="383.22" x2="422.50" y2="383.22" stroke="#222" stroke-width="0.6"/>
<line x1="420.90" y1="389.03" x2="422.50" y2="389.03" stroke="#222" stroke-width="0.6"/>
<line x1="420.90" y1="394.85" x2="422.50" y2="394.85" stroke="#222" stroke-width="0.6"/>
<line x1="420.90" y1="400.66" x2="422.50" y2="400.66" stroke="#222" stroke-width="0.6"/>
<line x1="420.90" y1="406.48" x2="422.50" y2="406.48" stroke="#222" stroke-width="0.6"/>
<line x1="420.90" y1="412.29" x2="422.50" y2="412.29" stroke="#222" stroke-width="0.6"/>
<line x1="420.90" y1="418.11" x2="422.50" y2="418.11" stroke="#222" stroke-width="0.6"/>
<line x1="420.90" y1="423.92" x2="422.50" y2="423.92" stroke="#222" stroke-width="0.6"/>
<line x1="420.90" y1="429.74" x2="422.50" y2="429.74" stroke="#222" stroke-width="0.6"/>
<line x1="420.90" y1="435.55" x2="422.50" y2="435.55" stroke="#222" stroke-width="0.6"/>
<line x1="420.90" y1="441.37" x2="422.50" y2="441.37" stroke="#222" stroke-width="0.6"/>
<line x1="420.90" y1="447.18" x2="422.50" y2="447.18" stroke="#222" stroke-width="0.6"/>
<line x1="420.90" y1="453.00" x2="422.50" y2="453.00" stroke="#222" stroke-width="0.6"/>
<line x1="432.50" y1="455.00" x2="432.50" y2="457.40" stroke="#111" stroke-width="0.8"/>
<line x1="438.85" y1="455.00" x2="438.85" y2="457.40" stroke="#111" stroke-width="0.8"/>
<line x1="458.08" y1="455.00" x2="458.08" y2="457.40" stroke="#111" stroke-width="0.8"/>
<line x1="476.35" y1="455.00" x2="476.35" y2="457.40" stroke="#111" stroke-width="0.8"/>
<line x1="494.62" y1="455.00" x2="494.62" y2="457.40" stroke="#111" stroke-width="0.8"/>
<line x1="445.15" y1="455.00" x2="445.15" y2="456.30" stroke="#222" stroke-width="0.5"/>
<line x1="448.40" y1="455.00" x2="448.40" y2="456.30" stroke="#222" stroke-width="0.5"/>
<line x1="450.72" y1="455.00" x2="450.72" y2="456.30" stroke="#222" stroke-width="0.5"/>
<line x1="452.51" y1="455.00" x2="452.51" y2="456.30" stroke="#222" stroke-width="0.5"/>
<line x1="453.97" y1="455.00" x2="453.97" y2="456.30" stroke="#222" stroke-width="0.5"/>
<line x1="455.21" y1="455.00" x2="455.21" y2="456.30" stroke="#222" stroke-width="0.5"/>
<line x1="456.28" y1="455.00" x2="456.28" y2="456.30" stroke="#222" stroke-width="0.5"/>
<line x1="457.23" y1="455.00" x2="457.23" y2="456.30" stroke="#222" stroke-width="0.5"/>
<line x1="463.42" y1="455.00" x2="463.42" y2="456.30" stroke="#222" stroke-width="0.5"/>
<line x1="466.67" y1="455.00" x2="466.67" y2="456.30" stroke="#222" stroke-width="0.5"/>
<line x1="468.98" y1="455.00" x2="468.98" y2="456.30" stroke="#222" stroke-width="0.5"/>
<line x1="470.78" y1="455.00" x2="470.78" y2="456.30" stroke="#222" stroke-width="0.5"/>
<line x1="472.24" y1="455.00" x2="472.24" y2="456.30" stroke="#222" stroke-width="0.5"/>
<line x1="473.48" y1="455.00" x2="473.48" y2="456.30" stroke="#222" stroke-width="0.5"/>
<line x1="474.55" y1="455.00" x2="474.55" y2="456.30" stroke="#222" stroke-width="0.5"/>
<line x1="475.50" y1="455.00" x2="475.50" y2="456.30" stroke="#222" stroke-width="0.5"/>
<line x1="481.68" y1="455.00" x2="481.68" y2="456.30" stroke="#222" stroke-width="0.5"/>
<line x1="484.94" y1="455.00" x2="484.94" y2="456.30" stroke="#222" stroke-width="0.5"/>
<line x1="487.25" y1="455.00" x2="487.25" y2="456.30" stroke="#222" stroke-width="0.5"/>
<line x1="489.05" y1="455.00" x2="489.05" y2="456.30" stroke="#222" stroke-width="0.5"/>
<line x1="490.51" y1="455.00" x2="490.51" y2="456.30" stroke="#222" stroke-width="0.5"/>
<line x1="491.75" y1="455.00" x2="491.75" y2="456.30" stroke="#222" stroke-width="0.5"/>
<line x1="492.82" y1="455.00" x2="492.82" y2="456.30" stroke="#222" stroke-width="0.5"/>
<line x1="493.77" y1="455.00" x2="493.77" y2="456.30" stroke="#222" stroke-width="0.5"/>
<line x1="425.00" y1="455.00" x2="425.00" y2="456.30" stroke="#222" stroke-width="0.5"/>
<line x1="427.00" y1="455.00" x2="427.00" y2="456.30" stroke="#222" stroke-width="0.5"/>
<line x1="429.00" y1="455.00" x2="429.00" y2="456.30" stroke="#222" stroke-width="0.5"/>
<line x1="431.00" y1="455.00" x2="431.00" y2="456.30" stroke="#222" stroke-width="0.5"/>
<line x1="436.00" y1="455.00" x2="436.00" y2="456.30" stroke="#222" stroke-width="0.5"/>
<line x1="438.00" y1="455.00" x2="438.00" y2="456.30" stroke="#222" stroke-width="0.5"/>
<text x="429.20" y="467.00" font-size="7.56" fill="#111" stroke="#111" stroke-width="0.15">0</text>
<text x="433.30" y="467.00" font-size="7.56" fill="#111" textLength="7.00" lengthAdjust="spacingAndGlyphs" stroke="#111" stroke-width="0.15">10</text>
<text x="440.80" y="464.30" font-size="5.52" fill="#111" textLength="2.50" lengthAdjust="spacingAndGlyphs" stroke="#111" stroke-width="0.15">2</text>
<text x="454.20" y="467.00" font-size="7.56" fill="#111" textLength="7.00" lengthAdjust="spacingAndGlyphs" stroke="#111" stroke-width="0.15">10</text>
<text x="461.70" y="464.30" font-size="5.52" fill="#111" textLength="2.50" lengthAdjust="spacingAndGlyphs" stroke="#111" stroke-width="0.15">3</text>
<text x="472.50" y="467.00" font-size="7.56" fill="#111" textLength="7.00" lengthAdjust="spacingAndGlyphs" stroke="#111" stroke-width="0.15">10</text>
<text x="480.00" y="464.30" font-size="5.52" fill="#111" textLength="2.50" lengthAdjust="spacingAndGlyphs" stroke="#111" stroke-width="0.15">4</text>
<text x="490.80" y="467.00" font-size="7.56" fill="#111" textLength="7.00" lengthAdjust="spacingAndGlyphs" stroke="#111" stroke-width="0.15">10</text>
<text x="498.30" y="464.30" font-size="5.52" fill="#111" textLength="2.50" lengthAdjust="spacingAndGlyphs" stroke="#111" stroke-width="0.15">5</text>
<text x="418.90" y="481.60" font-size="8.64" fill="#111" textLength="45.50" lengthAdjust="spacingAndGlyphs" stroke="#111" stroke-width="0.15">pHrodo red</text>
<line x1="467.70" y1="478.70" x2="491.00" y2="478.70" stroke="#222" stroke-width="1"/>
<path d="M496.2,478.7 L487.2,475.1 L487.2,482.3 Z" fill="#111" stroke="none" stroke-width="1"/>
<line x1="422.50" y1="512.78" x2="422.50" y2="614.00" stroke="#1a1a1a" stroke-width="1"/>
<line x1="422.00" y1="613.50" x2="499.00" y2="613.50" stroke="#1a1a1a" stroke-width="1"/>
<line x1="419.10" y1="613.90" x2="422.50" y2="613.90" stroke="#1a1a1a" stroke-width="1"/>
<text x="416.50" y="616.92" font-size="8.64" fill="#1a1a1a" text-anchor="end" stroke="#1a1a1a" stroke-width="0.15">0</text>
<line x1="419.10" y1="580.86" x2="422.50" y2="580.86" stroke="#1a1a1a" stroke-width="1"/>
<text x="416.50" y="583.88" font-size="8.64" fill="#1a1a1a" text-anchor="end" textLength="8.01" lengthAdjust="spacingAndGlyphs" stroke="#1a1a1a" stroke-width="0.15">20</text>
<line x1="419.10" y1="547.82" x2="422.50" y2="547.82" stroke="#1a1a1a" stroke-width="1"/>
<text x="416.50" y="550.84" font-size="8.64" fill="#1a1a1a" text-anchor="end" textLength="8.01" lengthAdjust="spacingAndGlyphs" stroke="#1a1a1a" stroke-width="0.15">40</text>
<line x1="419.10" y1="514.78" x2="422.50" y2="514.78" stroke="#1a1a1a" stroke-width="1"/>
<text x="416.50" y="517.80" font-size="8.64" fill="#1a1a1a" text-anchor="end" textLength="8.01" lengthAdjust="spacingAndGlyphs" stroke="#1a1a1a" stroke-width="0.15">60</text>
<line x1="441.50" y1="565.66" x2="441.50" y2="568.64" stroke="#333" stroke-width="1"/>
<line x1="435.05" y1="565.66" x2="447.95" y2="565.66" stroke="#333" stroke-width="1.1"/>
<rect x="429.00" y="569.04" width="25.00" height="44.86" fill="#4a5f82" stroke="#3f5479" stroke-width="0.8"/>
<line x1="479.85" y1="523.04" x2="479.85" y2="529.65" stroke="#333" stroke-width="1"/>
<line x1="473.33" y1="523.04" x2="486.38" y2="523.04" stroke="#333" stroke-width="1.1"/>
<rect x="467.20" y="530.05" width="25.30" height="83.85" fill="#a03545" stroke="#932a3a" stroke-width="0.8"/>
<line x1="441.50" y1="613.90" x2="441.50" y2="616.40" stroke="#222" stroke-width="0.9"/>
<line x1="479.70" y1="613.90" x2="479.70" y2="616.40" stroke="#222" stroke-width="0.9"/>
<line x1="444.40" y1="519.50" x2="477.10" y2="519.50" stroke="#555" stroke-width="1.2"/>
<text x="460.00" y="519.80" font-size="8.64" fill="#333" text-anchor="middle" textLength="12.20" lengthAdjust="spacingAndGlyphs" stroke="#333" stroke-width="0.15">****</text>
<text transform="translate(403.40,563.00) rotate(-90)" font-size="9.8" text-anchor="middle" fill="#1a1a1a" textLength="53.6" lengthAdjust="spacingAndGlyphs" stroke="#1a1a1a" stroke-width="0.15">% Phagocytic</text>
<text x="428.80" y="628.80" font-size="8.64" fill="#1a1a1a" textLength="16.20" lengthAdjust="spacingAndGlyphs" stroke="#1a1a1a" stroke-width="0.15">Trib1</text>
<text x="445.60" y="625.50" font-size="5.88" fill="#1a1a1a" textLength="7.40" lengthAdjust="spacingAndGlyphs" stroke="#1a1a1a" stroke-width="0.15">+/+</text>
<text x="464.60" y="628.80" font-size="8.64" fill="#1a1a1a" textLength="16.20" lengthAdjust="spacingAndGlyphs" stroke="#1a1a1a" stroke-width="0.15">Trib1</text>
<text x="481.40" y="625.50" font-size="5.88" fill="#1a1a1a" textLength="13.50" lengthAdjust="spacingAndGlyphs" stroke="#1a1a1a" stroke-width="0.15">ΔHSC</text>
<rect x="0.6" y="0.6" width="518.8" height="663.8" fill="none" stroke="#4d4d4d" stroke-width="1.3"/>
</svg></body></html>
